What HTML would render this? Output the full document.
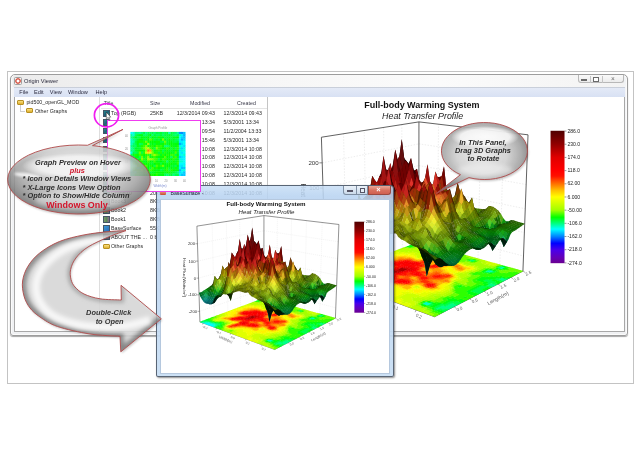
<!DOCTYPE html>
<html><head><meta charset="utf-8"><title>Origin Viewer</title>
<style>
*{box-sizing:border-box}
html,body{margin:0;padding:0;background:#fff}
body{width:640px;height:455px;position:relative;overflow:hidden;font-family:'Liberation Sans',Arial,sans-serif;color:#222}
.a{position:absolute}
.t{position:absolute;font-size:5.3px;line-height:6.6px;white-space:nowrap;color:#2a2a2a}
.ic{position:absolute;width:6.5px;height:6.5px;border:0.5px solid #456}
.fold{position:absolute;width:7px;height:5px;background:linear-gradient(#f8e080,#e0b030);border-radius:1px;border:0.5px solid #b89020}
.mi{position:absolute;top:89.3px;font-size:5.6px;color:#2c2c40}
</style></head><body>
<!-- outer frame -->
<div class="a" style="left:7px;top:71px;width:626.5px;height:312.5px;border:1px solid #c3c3c3"></div>
<!-- main window -->
<div class="a" style="left:10px;top:73.5px;width:617.5px;height:262px;border:1px solid #9d9d9d;border-radius:5px 5px 3px 3px;background:linear-gradient(#eef0f2,#f4f5f7 5%,#f0f1f3);box-shadow:0 1px 1px rgba(0,0,0,0.35), inset 0 0 0 1px #fbfbfb"></div>
<div class="a" style="left:13px;top:75px;width:611px;height:11.5px;background:linear-gradient(90deg,#ececec,#f6f6f6 40%,#fbfbfb 70%,#f3f3f3)"></div>
<div class="a" style="left:14px;top:77px;width:7.5px;height:7.5px;border-radius:1.5px;border:0.6px solid #a0a0a0;background:radial-gradient(circle at 50% 50%,#fff 25%,#d04838 45%,#e07060 60%,#f4f4f4 75%)"></div>
<div class="a" style="left:24px;top:77.8px;font-size:5.7px;color:#2a2a3c">Origin Viewer</div>
<div class="a" style="left:577.5px;top:75.3px;width:46.5px;height:7.6px;border:0.6px solid #b8b8b8;border-top:none;border-radius:0 0 3px 3px;background:linear-gradient(#fafafa,#ececec)"></div>
<div class="a" style="left:590px;top:75.5px;width:0.6px;height:7.3px;background:#c4c4c4"></div>
<div class="a" style="left:601.6px;top:75.5px;width:0.6px;height:7.3px;background:#c4c4c4"></div>
<div class="a" style="left:581px;top:79.2px;width:6px;height:2.2px;border:0.6px solid #6a6a6a;background:#fff"></div>
<div class="a" style="left:593.2px;top:77px;width:5.6px;height:4.6px;border:0.6px solid #6a6a6a;border-top-width:1.1px;background:#fff"></div>
<div class="a" style="left:611px;top:75.4px;font-size:6.5px;color:#666">&#215;</div>
<!-- menu -->
<div class="a" style="left:13.5px;top:87.2px;width:611px;height:9.6px;background:linear-gradient(#e4eaf7,#d8e1f3);border-top:0.6px solid #c9cfda"></div>
<div class="mi" style="left:19.3px">File</div>
<div class="mi" style="left:34px">Edit</div>
<div class="mi" style="left:49.8px">View</div>
<div class="mi" style="left:68px">Window</div>
<div class="mi" style="left:95.5px">Help</div>
<!-- content panels -->
<div class="a" style="left:13.5px;top:96.8px;width:611px;height:235px;background:#fff;border:0.8px solid #a8a8a8;border-top:none"></div>
<div class="a" style="left:99px;top:97px;width:1.2px;height:234.5px;background:linear-gradient(90deg,#cfcfcf,#ececec)"></div>
<div class="a" style="left:266.6px;top:97px;width:0.9px;height:234.5px;background:#c4c4c4"></div>
<!-- tree -->
<div class="fold" style="left:16.5px;top:99.6px"></div>
<div class="t" style="left:26.4px;top:98.9px">pid500_openGL_MOD</div>
<div class="a" style="left:20.3px;top:105.3px;width:0.7px;height:5.7px;background:#cfcfcf"></div>
<div class="a" style="left:20.3px;top:110.6px;width:5.2px;height:0.7px;background:#cfcfcf"></div>
<div class="fold" style="left:25.8px;top:108.3px"></div>
<div class="t" style="left:35px;top:107.9px">Other Graphs</div>
<!-- list header -->
<div class="t" style="left:103.7px;top:100px;color:#3a3a4a">Title</div>
<div class="t" style="left:150px;top:100px;color:#3a3a4a">Size</div>
<div class="t" style="left:190px;top:100px;color:#3a3a4a">Modified</div>
<div class="t" style="left:237px;top:100px;color:#3a3a4a">Created</div>
<div class="a" style="left:100.5px;top:107.8px;width:166px;height:0.5px;background:#e4e4e4"></div>
<div class="ic" style="left:103.0px;top:110.3px;background:linear-gradient(135deg,#2a8a8a,#1d5f7a 50%,#3aa070)"></div><div class="t" style="left:111px;top:110.2px">Top (RGB)</div><div class="t" style="left:150px;top:110.2px">25KB</div><div class="t" style="left:176px;top:110.2px;width:39px;text-align:right">12/3/2014 09:43</div><div class="t" style="left:223.6px;top:110.2px">12/3/2014 09:43</div><div class="ic" style="left:103.0px;top:119.1px;background:linear-gradient(135deg,#2a8a8a,#1d5f7a 50%,#3aa070)"></div><div class="t" style="left:111px;top:119.0px">Graph2</div><div class="t" style="left:150px;top:119.0px">25KB</div><div class="t" style="left:176px;top:119.0px;width:39px;text-align:right">5/3/2001 13:34</div><div class="t" style="left:223.6px;top:119.0px">5/3/2001 13:34</div><div class="ic" style="left:103.0px;top:127.9px;background:linear-gradient(135deg,#2a8a8a,#1d5f7a 50%,#3aa070)"></div><div class="t" style="left:111px;top:127.8px">Graph3</div><div class="t" style="left:150px;top:127.8px">25KB</div><div class="t" style="left:176px;top:127.8px;width:39px;text-align:right">11/2/2004 09:54</div><div class="t" style="left:223.6px;top:127.8px">11/2/2004 13:33</div><div class="ic" style="left:103.0px;top:136.8px;background:linear-gradient(135deg,#2a8a8a,#1d5f7a 50%,#3aa070)"></div><div class="t" style="left:111px;top:136.7px">Graph4</div><div class="t" style="left:150px;top:136.7px">25KB</div><div class="t" style="left:176px;top:136.7px;width:39px;text-align:right">5/3/2001 15:46</div><div class="t" style="left:223.6px;top:136.7px">5/3/2001 13:34</div><div class="ic" style="left:103.0px;top:145.6px;background:linear-gradient(135deg,#2a8a8a,#1d5f7a 50%,#3aa070)"></div><div class="t" style="left:111px;top:145.5px">Graph5</div><div class="t" style="left:150px;top:145.5px">20kB</div><div class="t" style="left:176px;top:145.5px;width:39px;text-align:right">12/3/2014 10:08</div><div class="t" style="left:223.6px;top:145.5px">12/3/2014 10:08</div><div class="ic" style="left:103.0px;top:154.4px;background:linear-gradient(135deg,#2a8a8a,#1d5f7a 50%,#3aa070)"></div><div class="t" style="left:111px;top:154.3px">Graph6</div><div class="t" style="left:150px;top:154.3px">20kB</div><div class="t" style="left:176px;top:154.3px;width:39px;text-align:right">12/3/2014 10:08</div><div class="t" style="left:223.6px;top:154.3px">12/3/2014 10:08</div><div class="ic" style="left:103.0px;top:163.2px;background:linear-gradient(135deg,#2a8a8a,#1d5f7a 50%,#3aa070)"></div><div class="t" style="left:111px;top:163.1px">Graph7</div><div class="t" style="left:150px;top:163.1px">20kB</div><div class="t" style="left:176px;top:163.1px;width:39px;text-align:right">12/3/2014 10:08</div><div class="t" style="left:223.6px;top:163.1px">12/3/2014 10:08</div><div class="ic" style="left:103.0px;top:172.0px;background:linear-gradient(135deg,#2a8a8a,#1d5f7a 50%,#3aa070)"></div><div class="t" style="left:111px;top:171.9px">Graph8</div><div class="t" style="left:150px;top:171.9px">20kB</div><div class="t" style="left:176px;top:171.9px;width:39px;text-align:right">12/3/2014 10:08</div><div class="t" style="left:223.6px;top:171.9px">12/3/2014 10:08</div><div class="ic" style="left:103.0px;top:180.9px;background:linear-gradient(135deg,#2a8a8a,#1d5f7a 50%,#3aa070)"></div><div class="t" style="left:111px;top:180.8px">Graph9</div><div class="t" style="left:150px;top:180.8px">20kB</div><div class="t" style="left:176px;top:180.8px;width:39px;text-align:right">12/3/2014 10:08</div><div class="t" style="left:223.6px;top:180.8px">12/3/2014 10:08</div><div class="ic" style="left:103.0px;top:189.7px;background:linear-gradient(135deg,#2a8a8a,#1d5f7a 50%,#3aa070)"></div><div class="t" style="left:111px;top:189.6px">Graph10</div><div class="t" style="left:150px;top:189.6px">20kB</div><div class="t" style="left:176px;top:189.6px;width:39px;text-align:right">12/3/2014 10:08</div><div class="t" style="left:223.6px;top:189.6px">12/3/2014 10:08</div><div class="ic" style="left:103.0px;top:198.5px;background:linear-gradient(90deg,#7a9a6a,#5a8a5a 50%,#8a6a8a);"></div><div class="t" style="left:111px;top:198.4px">Book3</div><div class="t" style="left:150px;top:198.4px">8KB</div><div class="t" style="left:176px;top:198.4px;width:39px;text-align:right">12/3/2014 10:08</div><div class="t" style="left:223.6px;top:198.4px">12/3/2014 10:08</div><div class="ic" style="left:103.0px;top:207.3px;background:linear-gradient(90deg,#7a9a6a,#5a8a5a 50%,#8a6a8a);"></div><div class="t" style="left:111px;top:207.2px">Book2</div><div class="t" style="left:150px;top:207.2px">8KB</div><div class="t" style="left:176px;top:207.2px;width:39px;text-align:right">12/3/2014 10:08</div><div class="t" style="left:223.6px;top:207.2px">12/3/2014 10:08</div><div class="ic" style="left:103.0px;top:216.1px;background:linear-gradient(90deg,#7a9a6a,#5a8a5a 50%,#8a6a8a);"></div><div class="t" style="left:111px;top:216.0px">Book1</div><div class="t" style="left:150px;top:216.0px">8KB</div><div class="t" style="left:176px;top:216.0px;width:39px;text-align:right">12/3/2014 10:08</div><div class="t" style="left:223.6px;top:216.0px">12/3/2014 10:08</div><div class="ic" style="left:103.0px;top:225.0px;background:linear-gradient(135deg,#3a9ad8,#2a6ab8)"></div><div class="t" style="left:111px;top:224.9px">BaseSurface</div><div class="t" style="left:150px;top:224.9px">55KB</div><div class="t" style="left:176px;top:224.9px;width:39px;text-align:right">12/3/2014 10:08</div><div class="t" style="left:223.6px;top:224.9px">12/3/2014 10:08</div><div class="ic" style="left:103.0px;top:233.8px;background:#6a6a7a"></div><div class="t" style="left:111px;top:233.7px">ABOUT THE ...</div><div class="t" style="left:150px;top:233.7px">0 b</div><div class="t" style="left:176px;top:233.7px;width:39px;text-align:right">12/3/2014 10:08</div><div class="t" style="left:223.6px;top:233.7px">12/3/2014 10:08</div><div class="fold" style="left:103.0px;top:243.6px"></div><div class="t" style="left:111px;top:242.5px">Other Graphs</div>
<svg class="a" style="left:0;top:0" width="640" height="455" viewBox="0 0 640 455">
<defs><clipPath id="bclip"><rect x="267.5" y="97.5" width="356.5" height="234"/></clipPath></defs>
<g clip-path="url(#bclip)"><defs><linearGradient id="cbg1" x1="0" y1="0" x2="0" y2="1"><stop offset="0.0000" stop-color="#500000"/><stop offset="0.1000" stop-color="#900000"/><stop offset="0.2000" stop-color="#e00000"/><stop offset="0.3000" stop-color="#ff0000"/><stop offset="0.3411" stop-color="#ff1000"/><stop offset="0.4000" stop-color="#ff7000"/><stop offset="0.4500" stop-color="#ffc000"/><stop offset="0.5000" stop-color="#ffff00"/><stop offset="0.6000" stop-color="#a0ff00"/><stop offset="0.6536" stop-color="#00ff00"/><stop offset="0.7000" stop-color="#00ff80"/><stop offset="0.7429" stop-color="#00ffff"/><stop offset="0.8000" stop-color="#0080ff"/><stop offset="0.8500" stop-color="#0000ff"/><stop offset="0.9000" stop-color="#4a00ea"/><stop offset="0.9571" stop-color="#6400b8"/><stop offset="1.0000" stop-color="#6a0090"/></linearGradient></defs><g transform="translate(34.9,-191.8) scale(1.455)"><line x1="214.34" y1="316.55" x2="212.11" y2="223.74" stroke="#dcdcdc" stroke-width="0.35" stroke-dasharray="1,1"/><line x1="276.75" y1="301.81" x2="277.39" y2="217.18" stroke="#dcdcdc" stroke-width="0.35" stroke-dasharray="1,1"/><line x1="227.87" y1="311.55" x2="226.32" y2="221.51" stroke="#dcdcdc" stroke-width="0.35" stroke-dasharray="1,1"/><line x1="290.29" y1="305.58" x2="291.54" y2="218.86" stroke="#dcdcdc" stroke-width="0.35" stroke-dasharray="1,1"/><line x1="240.58" y1="306.84" x2="239.65" y2="219.41" stroke="#dcdcdc" stroke-width="0.35" stroke-dasharray="1,1"/><line x1="304.55" y1="309.54" x2="306.47" y2="220.63" stroke="#dcdcdc" stroke-width="0.35" stroke-dasharray="1,1"/><line x1="252.56" y1="302.41" x2="252.17" y2="217.44" stroke="#dcdcdc" stroke-width="0.35" stroke-dasharray="1,1"/><line x1="319.57" y1="313.72" x2="322.24" y2="222.51" stroke="#dcdcdc" stroke-width="0.35" stroke-dasharray="1,1"/><line x1="199.59" y1="311.33" x2="263.87" y2="289.06" stroke="#dcdcdc" stroke-width="0.35" stroke-dasharray="1,1"/><line x1="263.87" y1="289.06" x2="335.80" y2="307.79" stroke="#dcdcdc" stroke-width="0.35" stroke-dasharray="1,1"/><line x1="199.07" y1="294.86" x2="263.88" y2="274.78" stroke="#dcdcdc" stroke-width="0.35" stroke-dasharray="1,1"/><line x1="263.88" y1="274.78" x2="336.41" y2="291.67" stroke="#dcdcdc" stroke-width="0.35" stroke-dasharray="1,1"/><line x1="198.55" y1="278.11" x2="263.90" y2="260.30" stroke="#dcdcdc" stroke-width="0.35" stroke-dasharray="1,1"/><line x1="263.90" y1="260.30" x2="337.02" y2="275.28" stroke="#dcdcdc" stroke-width="0.35" stroke-dasharray="1,1"/><line x1="198.01" y1="261.08" x2="263.91" y2="245.62" stroke="#dcdcdc" stroke-width="0.35" stroke-dasharray="1,1"/><line x1="263.91" y1="245.62" x2="337.64" y2="258.63" stroke="#dcdcdc" stroke-width="0.35" stroke-dasharray="1,1"/><line x1="197.47" y1="243.75" x2="263.93" y2="230.71" stroke="#dcdcdc" stroke-width="0.35" stroke-dasharray="1,1"/><line x1="263.93" y1="230.71" x2="338.28" y2="241.70" stroke="#dcdcdc" stroke-width="0.35" stroke-dasharray="1,1"/><line x1="199.92" y1="321.89" x2="196.91" y2="226.13" stroke="#3a3a3a" stroke-width="0.55" /><line x1="196.91" y1="226.13" x2="263.95" y2="215.59" stroke="#3a3a3a" stroke-width="0.55" /><line x1="263.95" y1="215.59" x2="338.92" y2="224.48" stroke="#3a3a3a" stroke-width="0.55" /><line x1="263.86" y1="298.23" x2="263.95" y2="215.59" stroke="#3a3a3a" stroke-width="0.55" /><line x1="335.42" y1="318.12" x2="338.92" y2="224.48" stroke="#3a3a3a" stroke-width="0.55" /><line x1="199.92" y1="321.89" x2="274.69" y2="349.49" stroke="#3a3a3a" stroke-width="0.55" /><line x1="274.69" y1="349.49" x2="335.42" y2="318.12" stroke="#3a3a3a" stroke-width="0.55" /></g><g transform="scale(0.25)"><path d="M1686 1215l10 -5 12 5 -10 6zM1697 1219l10 -5 12 5 -10 5zM1695 1211l10 -6 12 5 -10 6zM1706 1215l10 -6 12 5 -10 6zM1940 1085l7 -4 13 4 -8 4zM1950 1088l8 -4 12 4 -8 4zM1957 1085l8 -5 12 4 -8 5zM1996 1074l8 -5 12 4 -8 5zM2003 1071l7 -5 13 4 -8 4z" fill="#00ffc5"/><path d="M1741 1235l10 -6 13 5 -11 6zM1750 1231l10 -6 13 5 -10 6zM1761 1235l10 -6 13 5 -10 6zM1759 1226l10 -6 13 5 -10 6zM1770 1230l10 -6 13 5 -10 6zM1782 1234l10 -6 13 5 -10 6zM1779 1225l10 -5 13 5 -10 5zM1791 1229l10 -6 12 6 -9 5zM1788 1221l10 -6 13 5 -10 6zM1800 1225l10 -6 12 5 -9 6zM1797 1216l10 -5 13 5 -10 5zM1809 1220l9 -6 13 5 -9 6zM1946 1141l9 -5 12 4 -8 5zM1957 1144l9 -5 12 4 -8 5zM1954 1137l8 -5 13 4 -8 5zM1965 1140l8 -5 13 4 -8 6zM1991 1118l8 -5 13 4 -8 5zM2002 1121l8 -5 13 4 -8 5zM1999 1114l8 -5 12 4 -8 5zM2010 1117l8 -5 12 5 -8 4zM1947 1082l8 -5 12 4 -8 5zM1876 1040l8 -4 11 4 -8 4zM1886 1043l8 -5 11 4 -8 5zM1986 1071l7 -4 12 3 -7 5zM1993 1068l7 -5 12 4 -7 5z" fill="#00ff86"/><path d="M1731 1240l11 -6 12 5 -10 6zM1707 1223l11 -5 12 5 -10 5zM1730 1231l10 -6 12 5 -10 6zM1752 1239l10 -6 13 6 -10 5zM1763 1243l10 -6 13 6 -10 6zM1717 1219l10 -6 12 5 -10 6zM1739 1227l10 -6 13 5 -11 6zM1773 1239l10 -6 12 5 -10 6zM1715 1210l10 -5 13 5 -11 5zM1748 1222l10 -6 13 5 -10 6zM1757 1217l10 -5 13 5 -10 6zM1768 1221l10 -5 13 5 -10 5zM1777 1217l10 -6 13 5 -10 6zM1786 1212l10 -5 13 5 -10 5zM1795 1208l10 -6 12 5 -9 6zM1806 1212l10 -6 13 5 -10 6zM1817 1216l10 -6 13 5 -10 6zM1815 1207l10 -5 12 5 -9 5zM1826 1211l10 -6 13 5 -10 6zM1880 1165l9 -5 12 5 -8 5zM1891 1169l9 -6 13 5 -9 5zM1902 1172l9 -5 13 5 -9 5zM1888 1161l9 -5 12 4 -8 6zM1899 1165l9 -6 13 5 -9 5zM1910 1168l9 -5 13 5 -9 5zM1896 1157l9 -5 12 4 -8 6zM1907 1161l9 -6 12 5 -8 5zM1918 1164l9 -5 13 4 -9 6zM1904 1153l9 -5 12 4 -8 6zM1915 1157l9 -6 12 5 -8 5zM1912 1149l9 -5 12 4 -8 6zM1923 1153l9 -6 12 5 -8 5zM1920 1145l8 -5 13 4 -9 6zM1931 1149l8 -6 13 5 -8 5zM1939 1145l8 -5 13 4 -9 5zM1950 1148l8 -5 13 4 -9 5zM1943 1133l8 -5 13 5 -8 5zM1929 1123l9 -5 12 4 -8 5zM1940 1126l8 -5 13 5 -9 5zM1951 1130l8 -5 13 4 -9 5zM1962 1133l8 -5 12 4 -8 5zM1973 1136l8 -5 12 5 -8 5zM1937 1119l8 -5 12 5 -8 5zM1948 1123l8 -5 12 4 -8 5zM1958 1126l9 -5 12 4 -8 5zM1969 1129l8 -5 13 4 -8 5zM1955 1119l8 -5 13 4 -8 5zM1973 1118l8 -5 13 5 -8 5zM1984 1121l8 -4 13 4 -8 5zM1995 1125l8 -5 13 4 -8 5zM1981 1115l8 -5 12 4 -8 5zM1932 1089l8 -5 12 4 -8 5zM1943 1092l8 -5 12 4 -8 5zM2017 1114l8 -5 12 4 -7 5zM1960 1091l8 -4 12 4 -8 4zM1967 1088l8 -5 13 4 -8 5zM1869 1043l8 -4 11 4 -8 4zM1879 1046l7 -4 12 3 -8 5z" fill="#00ff4b"/><path d="M1676 1220l11 -6 12 5 -10 6zM1687 1224l11 -6 12 5 -10 6zM1720 1236l11 -6 12 5 -10 6zM1743 1244l10 -6 13 5 -11 6zM1754 1248l10 -6 13 5 -10 6zM1718 1227l11 -6 12 6 -10 5zM1684 1207l10 -5 13 4 -11 6zM1728 1223l10 -6 12 5 -10 6zM1704 1207l10 -6 13 5 -10 6zM1726 1214l10 -5 12 5 -10 5zM1737 1218l10 -6 13 5 -11 6zM1746 1214l10 -6 13 5 -10 6zM1766 1213l10 -6 13 5 -10 6zM1775 1209l10 -6 12 5 -9 5zM1784 1204l10 -6 12 5 -9 6zM1782 1196l9 -6 13 5 -10 6zM1793 1200l9 -6 13 5 -10 6zM1804 1203l9 -5 13 5 -9 5zM1802 1195l9 -5 13 5 -10 5zM1813 1199l9 -5 13 4 -10 6zM1824 1203l9 -6 13 5 -9 6zM1835 1207l9 -6 13 5 -9 6zM1832 1198l10 -5 13 5 -10 5zM1844 1202l9 -5 13 5 -10 5zM1849 1190l10 -6 12 5 -9 6zM1864 1173l9 -5 12 5 -9 5zM1875 1177l9 -5 12 4 -9 6zM1886 1181l9 -6 12 5 -9 5zM1861 1166l9 -5 12 4 -9 5zM1872 1169l9 -5 12 5 -9 5zM1883 1173l9 -5 12 4 -8 6zM1894 1176l9 -5 13 5 -9 5zM1826 1148l9 -5 12 4 -9 5zM1869 1162l9 -6 12 5 -8 5zM1834 1144l9 -5 12 4 -9 5zM1877 1158l9 -6 13 5 -9 5zM1885 1154l9 -6 13 5 -9 5zM1893 1150l9 -5 12 4 -8 5zM1926 1160l9 -5 12 4 -8 6zM1901 1146l9 -5 12 4 -8 5zM1934 1156l9 -5 12 4 -8 5zM1909 1142l9 -5 12 4 -8 5zM1942 1152l8 -5 13 4 -8 5zM1928 1141l8 -5 13 5 -9 5zM1925 1134l8 -5 13 4 -9 5zM1935 1137l9 -5 12 5 -8 5zM1900 1120l9 -5 12 5 -8 5zM1911 1124l8 -5 13 4 -9 5zM1922 1127l8 -5 12 4 -8 5zM1932 1130l9 -5 12 5 -8 4zM1908 1117l8 -5 13 4 -9 5zM1919 1120l8 -5 12 4 -8 5zM1916 1113l8 -5 12 4 -8 5zM1926 1116l8 -5 13 5 -8 4zM1980 1132l8 -5 13 5 -8 5zM1923 1109l8 -5 13 5 -9 4zM1934 1112l8 -4 12 4 -8 5zM1944 1116l9 -5 12 4 -8 5zM1966 1122l8 -5 12 4 -8 5zM1977 1125l8 -5 12 5 -8 5zM1988 1129l8 -5 12 4 -8 5zM1941 1109l8 -5 13 4 -8 5zM1952 1112l8 -5 12 4 -8 5zM1963 1115l8 -5 12 4 -8 5zM1959 1108l8 -5 13 5 -8 4zM1970 1111l8 -4 12 4 -8 5zM1925 1092l8 -4 12 4 -8 4zM1977 1108l8 -5 13 4 -8 5zM1988 1111l8 -5 12 4 -7 5zM1922 1086l8 -5 12 4 -8 5zM1953 1095l8 -5 12 4 -8 5zM1995 1107l8 -5 13 5 -8 4zM2006 1110l8 -4 13 4 -8 5zM1929 1082l8 -4 12 4 -8 4zM2024 1110l8 -5 13 4 -8 5zM1622 988l9 -4 9 3 -8 4zM1937 1079l7 -5 12 4 -8 5zM1630 985l8 -4 10 4 -9 4zM1638 987l9 -4 9 4 -8 4zM1954 1078l8 -4 12 4 -8 4zM1964 1081l8 -4 12 4 -8 4zM1975 1084l7 -4 13 4 -8 4zM1637 982l9 -4 9 4 -8 4zM1979 1074l7 -4 12 4 -7 4zM1989 1077l8 -4 12 4 -8 4zM2006 1077l8 -5 12 4 -7 5zM2013 1073l8 -4 12 4 -7 4zM2000 1064l7 -4 12 4 -7 4zM2010 1067l7 -4 12 4 -7 4z" fill="#00ff11"/><path d="M1722 1245l10 -6 13 5 -10 6zM1733 1249l11 -6 12 5 -10 6zM1745 1253l10 -6 13 5 -10 6zM1698 1228l10 -6 13 5 -10 6zM1709 1232l10 -6 13 5 -10 6zM1675 1212l10 -6 12 5 -10 6zM1735 1210l10 -6 13 5 -10 6zM1755 1209l10 -6 13 5 -10 6zM1764 1205l10 -6 12 5 -9 6zM1762 1197l10 -6 12 5 -9 5zM1773 1200l10 -5 12 5 -9 5zM1771 1192l10 -5 12 5 -10 5zM1780 1188l9 -6 13 5 -10 6zM1791 1192l9 -6 13 5 -10 5zM1799 1187l10 -5 12 5 -9 5zM1810 1191l10 -5 12 4 -9 6zM1821 1195l10 -6 12 5 -9 6zM1819 1187l9 -6 13 5 -10 6zM1830 1190l9 -5 13 5 -9 5zM1841 1194l9 -5 13 4 -9 6zM1852 1198l9 -6 13 5 -9 6zM1827 1182l10 -5 12 5 -9 5zM1838 1186l10 -5 12 4 -9 6zM1861 1194l9 -6 13 5 -10 5zM1814 1171l9 -5 13 4 -10 6zM1825 1175l9 -6 13 5 -10 5zM1836 1178l9 -5 13 5 -10 5zM1847 1182l9 -6 13 5 -10 6zM1858 1186l9 -6 13 5 -9 5zM1869 1189l9 -5 13 5 -9 5zM1812 1163l9 -5 12 5 -9 5zM1822 1167l10 -5 12 4 -9 6zM1833 1170l9 -5 13 5 -9 5zM1844 1174l9 -5 13 4 -9 6zM1855 1178l9 -6 13 5 -9 5zM1866 1181l9 -5 13 5 -9 5zM1877 1185l9 -5 13 4 -9 6zM1809 1156l10 -5 12 4 -9 5zM1820 1159l9 -5 13 5 -10 5zM1831 1163l9 -5 12 4 -9 5zM1842 1166l9 -5 12 5 -9 5zM1853 1170l9 -5 12 4 -9 6zM1807 1148l9 -5 12 5 -9 5zM1818 1152l9 -5 12 4 -9 5zM1828 1155l9 -5 13 5 -9 5zM1839 1159l9 -5 13 4 -9 5zM1850 1162l9 -5 12 5 -9 5zM1815 1144l9 -5 13 5 -9 5zM1837 1151l9 -5 12 5 -9 5zM1847 1155l9 -5 13 4 -9 5zM1858 1158l9 -5 13 5 -9 5zM1824 1141l9 -5 12 4 -9 5zM1845 1147l9 -5 12 5 -9 5zM1856 1151l8 -5 13 4 -9 5zM1866 1154l9 -5 13 5 -9 5zM1864 1147l8 -5 13 4 -9 5zM1874 1150l9 -5 13 5 -9 5zM1882 1146l9 -5 13 5 -9 5zM1890 1142l9 -5 12 5 -8 5zM1898 1138l9 -5 12 5 -8 5zM1885 1128l8 -5 13 4 -9 5zM1895 1131l9 -5 12 5 -8 5zM1906 1135l9 -5 12 4 -8 5zM1917 1138l8 -5 13 4 -9 5zM1882 1121l9 -5 12 4 -9 5zM1893 1124l8 -5 12 5 -8 4zM1903 1127l9 -5 12 5 -8 5zM1914 1131l8 -5 13 4 -9 5zM1890 1117l8 -5 12 5 -8 4zM1898 1113l8 -4 12 4 -8 5zM1905 1110l8 -5 13 4 -9 5zM1882 1097l8 -5 12 4 -8 5zM1892 1100l8 -5 12 4 -8 5zM1913 1106l8 -5 12 5 -8 4zM1889 1093l9 -4 11 4 -8 4zM1900 1096l8 -4 12 4 -8 4zM1910 1099l8 -4 12 4 -8 5zM1920 1102l8 -4 13 4 -9 5zM1931 1106l8 -5 12 4 -8 5zM1897 1090l8 -5 12 4 -8 5zM1907 1093l8 -5 12 4 -8 5zM1917 1096l9 -5 12 4 -9 5zM1928 1099l8 -5 12 4 -8 5zM1938 1102l8 -5 13 4 -9 5zM1949 1105l8 -5 12 5 -8 4zM1914 1089l9 -4 12 4 -9 4zM1935 1095l8 -4 12 4 -8 4zM1946 1098l8 -4 12 4 -8 5zM1956 1101l8 -4 12 4 -8 5zM1967 1105l8 -5 12 4 -8 5zM1963 1098l8 -5 13 4 -8 5zM1974 1101l8 -5 12 4 -8 5zM1985 1104l8 -5 12 4 -8 5zM1971 1094l8 -4 12 4 -8 4zM1981 1097l8 -4 12 4 -7 4zM1992 1100l8 -4 12 4 -8 5zM2003 1104l7 -5 13 4 -8 5zM2013 1107l8 -5 13 4 -8 5zM1630 990l9 -4 10 4 -9 4zM1978 1091l8 -5 12 4 -8 5zM1988 1094l8 -5 13 4 -8 5zM1999 1097l8 -5 12 4 -8 5zM2010 1100l7 -5 13 4 -8 5zM2020 1103l8 -5 13 4 -8 5zM2031 1106l8 -5 13 5 -8 4zM1944 1075l8 -4 12 4 -8 4zM1985 1087l8 -4 12 4 -8 4zM2006 1093l8 -4 12 4 -7 4zM2017 1096l8 -4 12 4 -8 4zM2028 1099l7 -4 13 4 -8 5zM2038 1103l8 -5 13 4 -8 5zM1646 985l8 -4 10 3 -9 4zM1823 1035l9 -4 11 4 -8 4zM1971 1078l8 -5 12 4 -7 5zM1982 1081l8 -5 12 4 -8 5zM2024 1093l8 -5 12 4 -8 5zM2035 1096l7 -5 13 4 -8 5zM2045 1099l8 -5 13 4 -8 5zM1645 979l8 -4 10 4 -9 4zM1653 982l8 -4 10 3 -8 4zM1831 1032l8 -4 11 4 -8 4zM1859 1040l8 -4 11 4 -7 4zM1888 1049l8 -5 12 4 -8 5zM1999 1080l8 -4 12 4 -7 4zM2031 1089l8 -4 12 4 -8 4zM2042 1092l7 -4 13 4 -8 4zM2052 1095l8 -4 12 4 -7 4zM1829 1027l8 -5 11 4 -8 4zM1866 1037l8 -4 12 4 -8 4zM1895 1045l8 -4 12 4 -8 4zM1975 1068l8 -4 12 4 -8 4zM2017 1080l7 -5 13 4 -8 5zM2049 1089l7 -5 13 4 -8 5zM2059 1092l8 -5 12 4 -7 5zM1883 1037l8 -4 11 3 -7 5zM1893 1040l8 -5 11 4 -8 4zM1982 1065l8 -5 12 4 -8 5zM2024 1076l7 -4 13 4 -8 4zM2020 1070l8 -4 12 4 -8 4z" fill="#2eff00"/><path d="M1726 1263l10 -6 13 5 -10 6zM1712 1249l11 -6 13 6 -11 6zM1724 1254l10 -6 13 5 -10 6zM1735 1258l11 -6 12 5 -10 6zM1678 1229l10 -6 12 5 -10 6zM1700 1237l10 -6 13 5 -11 6zM1711 1241l10 -6 13 5 -11 6zM1666 1216l10 -6 12 5 -10 6zM1693 1203l11 -6 12 5 -10 6zM1713 1202l10 -5 13 4 -10 6zM1724 1206l10 -6 13 5 -10 6zM1733 1202l10 -6 13 5 -10 5zM1744 1205l10 -5 12 5 -9 5zM1742 1197l10 -5 12 4 -9 6zM1753 1201l10 -6 12 5 -9 6zM1751 1193l10 -6 12 5 -9 6zM1760 1189l10 -6 12 5 -10 5zM1788 1184l10 -6 12 5 -9 5zM1797 1179l9 -5 13 5 -10 5zM1808 1183l9 -5 13 4 -10 6zM1806 1175l9 -5 12 5 -9 5zM1816 1179l10 -6 12 5 -9 6zM1803 1168l10 -6 12 5 -9 5zM1801 1160l9 -5 13 4 -10 6zM1805 1141l9 -5 12 4 -9 6zM1813 1137l9 -5 12 5 -9 5zM1811 1130l9 -5 12 4 -9 5zM1821 1133l9 -5 12 5 -9 5zM1832 1137l9 -5 12 4 -9 5zM1842 1140l9 -5 12 4 -8 5zM1853 1143l9 -5 12 5 -9 5zM1861 1139l9 -5 12 5 -9 5zM1872 1143l8 -5 13 4 -9 5zM1858 1132l9 -5 12 5 -8 5zM1869 1136l9 -5 12 4 -9 5zM1880 1139l8 -5 13 4 -9 5zM1866 1128l9 -5 12 5 -8 5zM1877 1132l9 -5 12 4 -9 5zM1888 1135l8 -5 12 4 -8 5zM1864 1121l8 -4 12 4 -8 5zM1874 1125l9 -5 12 4 -9 5zM1861 1114l9 -4 12 4 -9 5zM1872 1118l8 -5 12 4 -8 5zM1869 1111l8 -5 12 4 -8 5zM1879 1114l9 -5 12 4 -9 5zM1877 1107l8 -5 12 5 -8 4zM1887 1110l8 -5 13 5 -9 5zM1874 1100l8 -4 12 4 -8 5zM1884 1103l9 -4 12 4 -9 5zM1895 1107l8 -5 12 4 -8 5zM1871 1094l9 -5 12 4 -9 5zM1902 1103l9 -5 12 4 -9 5zM1879 1090l8 -4 12 4 -8 4zM1904 1086l8 -4 12 4 -8 4zM1912 1083l8 -5 12 4 -8 5zM1614 991l9 -4 10 3 -9 4zM1919 1079l8 -4 12 4 -8 4zM1639 993l8 -4 10 3 -8 4zM1818 1045l8 -5 12 4 -9 4zM1828 1047l8 -4 11 4 -8 4zM1926 1076l8 -5 12 4 -8 5zM1646 990l9 -4 10 3 -9 4zM1826 1041l8 -4 11 4 -8 4zM1835 1044l8 -4 11 4 -8 4zM1845 1047l8 -5 11 4 -8 5zM1934 1072l7 -4 12 4 -8 4zM1996 1090l7 -4 13 4 -8 4zM1654 987l8 -4 10 4 -8 4zM1833 1038l8 -4 11 4 -8 4zM1842 1041l8 -4 12 3 -8 5zM1852 1044l8 -5 11 4 -8 4zM1862 1046l8 -4 11 4 -8 4zM1871 1049l8 -4 12 4 -8 4zM1881 1052l8 -4 11 3 -7 5zM1951 1072l8 -5 12 4 -8 5zM1961 1075l8 -5 12 4 -8 5zM1992 1084l8 -5 12 4 -7 5zM2003 1087l7 -5 13 4 -8 5zM2013 1090l8 -5 12 4 -7 5zM1661 984l9 -4 10 4 -9 4zM1670 987l8 -4 10 3 -8 4zM1840 1035l8 -4 11 4 -8 4zM1850 1038l8 -5 11 4 -8 5zM1968 1071l8 -4 12 4 -8 4zM2010 1083l7 -4 13 4 -8 4zM2020 1086l8 -4 12 4 -7 4zM1838 1029l8 -4 11 4 -8 4zM1847 1032l8 -4 12 3 -8 5zM1857 1035l8 -5 11 4 -8 4zM2027 1083l8 -5 12 4 -7 5zM2038 1086l7 -5 13 4 -8 5zM1836 1024l8 -5 11 4 -8 4zM1845 1026l8 -4 11 4 -8 4zM1855 1029l8 -4 11 3 -8 5zM1864 1031l8 -4 11 4 -8 4zM1874 1034l7 -4 12 4 -8 4zM1903 1042l7 -4 12 4 -8 4zM2034 1079l8 -4 12 4 -7 4zM2045 1082l7 -4 13 4 -8 4zM2055 1085l8 -4 12 4 -7 4zM2066 1088l8 -4 12 4 -7 4zM1834 1018l8 -4 11 3 -8 5zM1843 1020l8 -4 11 4 -8 4zM1852 1023l8 -4 11 4 -8 4zM1989 1061l8 -4 12 4 -8 4zM2031 1073l7 -5 12 4 -7 5zM2041 1076l8 -5 12 4 -7 5zM2052 1079l7 -5 13 4 -8 5zM2062 1082l8 -5 12 4 -7 5zM2073 1085l7 -5 13 4 -7 5z" fill="#6dff00"/><path d="M1703 1254l10 -6 13 5 -10 7zM1714 1258l11 -6 13 6 -11 6zM1690 1241l11 -6 12 5 -10 6zM1701 1245l11 -6 12 6 -10 6zM1656 1221l11 -6 12 5 -11 6zM1667 1225l10 -6 13 5 -11 6zM1689 1233l10 -6 13 5 -11 6zM1664 1208l11 -6 12 5 -11 6zM1674 1203l10 -5 12 5 -10 5zM1683 1199l10 -6 12 5 -10 6zM1703 1198l10 -5 12 5 -10 5zM1712 1194l10 -6 12 5 -10 6zM1722 1198l10 -6 13 5 -10 6zM1732 1193l9 -5 13 5 -10 5zM1730 1185l10 -5 12 5 -10 5zM1740 1189l10 -5 12 4 -9 6zM1749 1185l10 -6 12 5 -9 6zM1769 1184l9 -5 13 5 -10 5zM1778 1180l9 -5 12 4 -9 6zM1786 1176l10 -6 12 5 -9 6zM1795 1172l9 -6 12 5 -9 5zM1793 1164l9 -5 12 4 -9 6zM1799 1152l9 -5 12 5 -9 5zM1797 1145l9 -5 12 4 -9 6zM1803 1134l9 -5 12 4 -9 5zM1819 1126l9 -5 12 5 -9 5zM1829 1130l9 -5 12 4 -9 5zM1840 1133l9 -5 12 4 -9 5zM1850 1136l9 -5 12 5 -8 5zM1837 1126l9 -5 12 4 -9 5zM1848 1129l9 -5 12 4 -9 5zM1845 1122l9 -5 12 4 -9 5zM1856 1125l9 -5 12 5 -9 5zM1843 1115l9 -5 12 4 -9 5zM1853 1118l9 -5 12 5 -9 5zM1851 1111l8 -5 12 5 -8 5zM1859 1108l8 -5 12 4 -8 5zM1866 1104l9 -5 12 4 -9 5zM1864 1097l8 -4 12 4 -8 4zM1591 999l9 -4 10 4 -9 4zM1887 1087l8 -5 12 4 -9 5zM1599 996l9 -4 10 4 -9 4zM1894 1083l8 -4 12 4 -8 4zM1607 993l8 -4 10 4 -8 4zM1902 1080l8 -5 11 4 -8 5zM1623 993l8 -4 10 4 -8 4zM1631 995l9 -4 10 4 -9 4zM1640 998l8 -4 10 3 -8 5zM1811 1048l8 -5 11 4 -8 5zM1909 1076l8 -4 12 4 -8 4zM1647 995l9 -4 10 4 -9 4zM1837 1050l8 -4 12 4 -8 4zM1847 1053l8 -5 11 4 -8 5zM1857 1056l8 -5 11 4 -8 5zM1866 1058l9 -4 11 4 -8 4zM1876 1061l8 -4 12 4 -8 4zM1906 1070l8 -5 12 4 -8 5zM1916 1073l8 -5 12 4 -8 5zM1655 992l8 -4 10 4 -8 4zM1854 1050l8 -5 12 4 -8 4zM1864 1052l8 -4 11 4 -8 4zM1874 1055l8 -4 11 4 -8 4zM1884 1058l8 -4 11 3 -8 5zM1893 1061l8 -5 12 4 -8 5zM1903 1064l8 -5 12 4 -8 5zM1913 1067l8 -5 12 4 -8 5zM1923 1069l8 -4 12 4 -8 4zM1662 989l9 -4 10 4 -9 4zM1891 1055l8 -5 11 4 -8 5zM1901 1058l8 -5 11 4 -8 4zM1911 1060l8 -4 11 4 -8 4zM1921 1063l7 -4 12 4 -8 4zM1931 1066l8 -4 11 4 -8 4zM1941 1069l8 -4 11 3 -7 5zM1898 1051l8 -4 11 4 -7 4zM1908 1054l8 -4 11 4 -7 4zM1918 1057l8 -4 11 4 -8 4zM1928 1060l8 -4 11 3 -7 5zM1938 1063l8 -5 11 4 -7 5zM1948 1066l8 -5 12 4 -8 5zM1958 1069l8 -5 12 4 -8 4zM1905 1048l8 -4 12 4 -8 4zM1915 1051l8 -4 11 4 -7 4zM1965 1065l8 -4 12 4 -8 4zM1912 1045l8 -4 12 4 -8 4zM1862 1026l8 -4 11 3 -8 4zM1871 1028l8 -4 11 4 -8 4zM1881 1031l8 -4 11 4 -8 4zM1890 1034l8 -5 11 4 -7 4zM1900 1036l8 -4 11 4 -8 4zM1910 1039l7 -4 12 4 -8 4z" fill="#a4ff00"/><path d="M1637 1230l11 -6 12 5 -11 6zM1648 1234l10 -6 13 5 -11 6zM1659 1238l10 -6 13 5 -11 6zM1670 1242l10 -6 13 5 -11 6zM1681 1246l10 -6 13 5 -11 6zM1692 1250l10 -6 13 5 -11 6zM1646 1225l11 -6 12 6 -10 5zM1657 1229l11 -6 12 5 -10 6zM1668 1233l11 -6 12 5 -10 6zM1679 1237l11 -6 12 5 -10 6zM1655 1212l10 -5 12 5 -10 5zM1643 1200l10 -5 12 5 -10 5zM1654 1204l10 -6 12 5 -10 6zM1642 1192l10 -5 12 4 -10 6zM1652 1196l11 -6 12 5 -11 6zM1663 1200l10 -6 12 5 -10 6zM1662 1192l10 -6 12 5 -10 5zM1672 1195l10 -5 12 5 -10 5zM1681 1191l11 -6 12 5 -11 6zM1692 1195l10 -6 12 5 -10 6zM1701 1190l10 -5 12 5 -10 5zM1710 1186l10 -5 12 4 -10 6zM1721 1190l10 -6 12 5 -10 6zM1719 1182l10 -6 12 5 -10 6zM1728 1178l10 -6 12 5 -10 5zM1739 1181l9 -5 13 5 -10 5zM1747 1177l10 -5 12 4 -9 6zM1758 1181l10 -6 12 5 -10 5zM1767 1176l9 -5 13 5 -10 5zM1775 1172l10 -5 12 5 -9 5zM1784 1168l9 -5 13 4 -10 6zM1790 1156l10 -5 12 5 -9 5zM1795 1138l9 -5 12 4 -10 5zM1809 1123l9 -5 11 4 -8 5zM1827 1122l9 -4 12 4 -9 5zM1835 1119l9 -5 12 4 -9 5zM1833 1112l8 -5 12 4 -8 5zM1830 1105l9 -5 12 4 -9 5zM1841 1108l8 -5 12 5 -9 4zM1828 1098l9 -4 11 4 -8 4zM1838 1101l9 -4 12 4 -9 5zM1848 1104l9 -4 12 4 -9 5zM1836 1095l8 -5 12 4 -8 5zM1846 1098l8 -5 12 4 -8 5zM1856 1101l9 -5 11 4 -8 5zM1854 1094l8 -4 12 4 -9 4zM1861 1091l9 -5 11 4 -8 5zM1583 1002l9 -4 10 4 -9 4zM1592 1005l9 -5 10 4 -9 4zM1600 1007l9 -4 10 4 -9 4zM1869 1087l8 -4 12 4 -8 4zM1600 1002l8 -4 10 3 -9 4zM1608 1004l9 -4 10 4 -9 4zM1617 1007l8 -4 10 3 -8 4zM1876 1084l9 -5 11 4 -8 5zM1607 999l9 -4 10 3 -9 4zM1616 1001l9 -4 9 4 -8 4zM1624 1004l9 -4 10 3 -9 4zM1633 1006l9 -4 10 4 -9 4zM1615 996l9 -4 10 3 -9 5zM1624 998l8 -4 10 4 -9 4zM1632 1001l9 -4 10 3 -9 4zM1641 1003l8 -4 10 4 -8 4zM1649 1006l9 -4 10 3 -9 5zM1658 1008l8 -4 11 4 -9 4zM1667 1011l8 -4 10 3 -8 5zM1675 1013l9 -4 10 4 -8 4zM1648 1000l9 -4 10 4 -9 4zM1657 1003l8 -4 10 3 -8 5zM1666 1005l8 -4 10 4 -8 4zM1674 1008l9 -4 10 4 -9 4zM1683 1011l8 -5 11 4 -9 4zM1820 1051l9 -5 11 4 -8 4zM1849 1059l8 -4 12 3 -8 5zM1859 1062l8 -5 12 4 -8 5zM1899 1073l8 -4 12 4 -8 4zM1656 998l8 -5 10 4 -8 4zM1664 1000l9 -4 10 4 -8 4zM1673 1003l9 -5 10 4 -9 4zM1682 1005l8 -4 10 4 -8 4zM1886 1064l8 -4 12 4 -8 4zM1896 1067l8 -4 12 4 -8 4zM1663 995l9 -4 10 3 -9 4zM1672 997l8 -4 11 4 -9 4zM1671 992l8 -4 10 3 -8 4zM1925 1054l8 -5 11 4 -7 5zM1935 1057l8 -5 11 4 -7 5zM1945 1059l8 -4 11 4 -7 4zM1955 1062l8 -4 12 4 -8 4zM1922 1048l8 -5 11 4 -7 5zM1932 1051l8 -5 11 4 -7 4zM1972 1062l8 -5 12 4 -8 5zM1919 1042l8 -4 12 3 -8 5zM1929 1045l8 -5 11 4 -7 4zM1979 1059l8 -5 12 4 -8 4z" fill="#b8ff00"/><path d="M1626 1226l11 -6 12 5 -11 6zM1604 1210l11 -6 11 5 -10 6zM1636 1221l10 -5 12 5 -10 5zM1603 1201l11 -5 12 5 -11 5zM1614 1205l10 -5 12 5 -11 5zM1624 1209l11 -6 12 5 -11 6zM1635 1213l10 -6 12 5 -10 6zM1645 1217l11 -6 12 5 -11 6zM1592 1190l11 -6 11 5 -10 5zM1602 1193l11 -5 12 5 -11 5zM1613 1197l10 -6 12 5 -11 6zM1623 1201l11 -6 11 5 -10 6zM1634 1205l10 -6 12 5 -10 6zM1644 1208l11 -5 12 5 -11 5zM1602 1185l10 -5 12 5 -11 5zM1612 1189l10 -5 12 4 -10 6zM1622 1193l11 -6 11 5 -10 6zM1633 1196l10 -5 12 5 -11 5zM1611 1181l10 -5 12 4 -10 6zM1621 1185l11 -6 11 5 -10 6zM1632 1188l10 -5 12 5 -11 5zM1620 1177l11 -6 11 5 -10 6zM1631 1181l10 -6 11 5 -10 5zM1641 1184l10 -5 12 4 -10 6zM1651 1188l10 -6 12 5 -10 6zM1640 1176l10 -5 12 5 -11 5zM1650 1180l10 -5 12 4 -10 6zM1660 1184l11 -6 11 5 -10 5zM1671 1187l10 -5 12 5 -10 5zM1691 1187l10 -6 12 5 -10 5zM1700 1182l10 -5 12 5 -10 5zM1709 1178l9 -5 12 4 -9 6zM1717 1174l10 -5 12 4 -10 6zM1655 1146l9 -6 12 5 -10 5zM1665 1149l9 -5 12 4 -10 5zM1737 1173l9 -5 13 5 -10 5zM1746 1169l9 -5 12 5 -9 5zM1756 1173l10 -6 12 5 -10 6zM1765 1169l9 -6 12 5 -9 5zM1773 1165l10 -6 12 5 -9 5zM1782 1160l9 -5 12 5 -9 5zM1788 1149l10 -5 12 4 -10 6zM1786 1142l9 -5 12 4 -9 5zM1801 1127l9 -5 11 4 -9 5zM1817 1119l9 -5 11 5 -8 5zM1825 1116l8 -5 12 4 -8 5zM1822 1109l9 -5 12 4 -9 5zM1820 1102l9 -5 12 4 -9 5zM1552 1014l9 -4 9 3 -9 5zM1818 1095l9 -5 11 5 -8 4zM1826 1092l8 -5 12 4 -9 5zM1568 1008l9 -4 9 3 -9 5zM1844 1091l8 -5 12 5 -9 4zM1576 1005l8 -4 10 4 -9 4zM1584 1007l9 -4 10 4 -9 4zM1592 1010l9 -4 10 4 -9 4zM1662 1031l9 -4 10 3 -9 5zM1851 1088l9 -5 11 4 -8 5zM1609 1010l9 -5 10 4 -9 4zM1617 1012l9 -4 10 4 -9 4zM1661 1025l9 -4 10 4 -9 4zM1670 1028l9 -4 10 3 -9 5zM1679 1030l8 -4 11 4 -9 4zM1625 1009l9 -4 10 4 -9 4zM1634 1012l9 -4 10 3 -9 4zM1651 1017l9 -4 10 3 -9 5zM1660 1020l9 -5 10 4 -9 4zM1669 1022l8 -4 11 4 -9 4zM1678 1025l8 -5 11 4 -9 5zM1686 1027l9 -4 11 4 -9 4zM1642 1009l8 -4 10 3 -8 5zM1650 1011l9 -4 10 4 -9 4zM1659 1014l9 -4 10 3 -9 5zM1668 1016l8 -4 10 4 -8 4zM1676 1019l9 -4 10 4 -8 4zM1685 1022l9 -5 10 4 -8 4zM1884 1080l8 -4 12 4 -8 4zM1684 1016l9 -4 10 4 -9 4zM1891 1077l9 -5 11 4 -8 5zM1830 1053l8 -4 11 4 -8 4zM1840 1056l8 -4 11 4 -8 4zM1869 1065l8 -5 12 4 -9 5zM1889 1070l8 -4 12 4 -9 4zM1942 1053l8 -4 11 4 -7 4zM1952 1056l8 -4 11 4 -7 4zM1962 1059l8 -4 12 3 -8 5zM1939 1047l8 -4 11 4 -7 4zM1949 1050l8 -4 11 4 -7 4zM1959 1053l8 -4 11 3 -7 5zM1969 1056l8 -5 11 4 -7 5z" fill="#ccff00"/><path d="M1543 1195l11 -5 11 4 -11 6zM1553 1199l11 -6 11 5 -10 6zM1563 1203l11 -6 12 5 -11 6zM1594 1214l11 -6 12 5 -11 6zM1605 1218l11 -6 11 5 -10 6zM1615 1222l11 -6 12 5 -11 6zM1543 1187l10 -5 12 4 -11 6zM1553 1191l10 -6 12 5 -11 6zM1563 1195l10 -6 12 5 -11 5zM1573 1198l11 -5 11 5 -10 5zM1594 1206l10 -6 12 5 -11 6zM1615 1214l10 -6 12 5 -11 6zM1625 1217l11 -5 12 5 -11 5zM1542 1179l11 -5 11 5 -11 5zM1552 1183l11 -6 11 5 -10 6zM1562 1187l11 -6 11 5 -10 5zM1572 1190l11 -5 12 5 -11 5zM1583 1194l10 -6 12 5 -11 6zM1593 1198l10 -6 12 5 -10 6zM1542 1171l10 -5 12 5 -11 5zM1552 1175l10 -5 12 4 -11 6zM1562 1179l10 -6 12 5 -11 5zM1582 1186l10 -6 12 5 -11 6zM1551 1167l11 -5 11 5 -10 5zM1561 1171l11 -5 11 4 -10 6zM1591 1182l11 -6 11 5 -10 6zM1601 1177l10 -5 12 5 -11 5zM1600 1170l10 -6 12 5 -11 5zM1610 1173l10 -5 12 5 -10 5zM1619 1169l11 -5 11 5 -10 5zM1630 1173l10 -6 11 5 -10 5zM1659 1176l10 -6 12 5 -10 5zM1670 1179l10 -5 11 5 -10 5zM1680 1183l10 -5 12 4 -10 6zM1679 1175l10 -5 11 4 -9 6zM1689 1179l10 -6 12 5 -10 6zM1688 1171l10 -5 11 4 -9 6zM1698 1175l10 -6 12 5 -10 5zM1646 1149l10 -5 11 5 -10 5zM1656 1153l10 -5 11 4 -10 5zM1707 1170l10 -5 12 5 -10 5zM1726 1170l10 -6 12 5 -10 6zM1735 1166l10 -6 12 5 -10 5zM1754 1165l10 -5 12 4 -10 6zM1763 1161l9 -5 12 4 -9 6zM1771 1157l10 -5 12 4 -10 6zM1769 1150l10 -6 12 5 -10 5zM1780 1153l9 -5 12 4 -9 6zM1778 1146l9 -6 12 5 -9 5zM1792 1131l9 -5 12 4 -9 5zM1815 1112l8 -5 12 5 -9 5zM1552 1019l9 -4 10 4 -9 4zM1810 1099l9 -5 11 4 -8 5zM1560 1016l9 -4 10 4 -9 4zM1808 1092l9 -5 11 5 -8 4zM1560 1011l9 -4 9 3 -9 5zM1568 1013l9 -4 10 4 -9 4zM1577 1016l9 -4 9 4 -9 4zM1576 1010l9 -4 10 4 -9 4zM1585 1013l8 -4 10 4 -9 4zM1593 1016l9 -5 10 4 -9 4zM1834 1088l8 -5 12 5 -9 4zM1601 1013l9 -5 10 4 -9 4zM1610 1015l8 -4 10 4 -9 4zM1618 1018l9 -4 10 3 -9 5zM1653 1028l9 -4 10 4 -9 4zM1671 1034l9 -5 10 4 -9 4zM1626 1015l9 -4 10 3 -9 4zM1635 1017l8 -4 11 4 -9 4zM1643 1020l9 -4 10 3 -8 5zM1652 1023l9 -5 10 4 -9 4zM1688 1033l8 -4 11 4 -9 4zM1859 1084l8 -4 12 4 -8 4zM1642 1014l9 -4 10 4 -8 4zM1866 1081l9 -5 11 4 -8 5zM1813 1054l8 -5 11 4 -8 5zM1879 1068l8 -5 12 4 -9 5z" fill="#e1ff00"/><path d="M1574 1206l10 -5 12 5 -11 5zM1584 1210l11 -5 11 5 -10 5zM1583 1202l11 -6 12 5 -11 6zM1572 1182l10 -5 12 5 -11 5zM1571 1174l11 -5 11 5 -10 5zM1581 1178l11 -5 11 4 -10 6zM1551 1160l10 -6 12 5 -11 5zM1561 1163l10 -5 11 5 -10 5zM1571 1167l10 -6 11 5 -10 5zM1581 1170l10 -5 11 5 -10 5zM1591 1174l10 -5 12 4 -11 6zM1551 1152l10 -5 11 5 -10 5zM1560 1156l11 -6 11 5 -11 5zM1570 1159l11 -5 11 5 -11 5zM1580 1163l10 -6 12 5 -11 5zM1590 1166l10 -5 12 5 -11 5zM1550 1145l11 -5 11 4 -11 5zM1560 1148l10 -5 11 5 -10 5zM1570 1152l10 -6 11 5 -10 5zM1579 1155l11 -5 11 5 -10 5zM1589 1159l11 -6 11 5 -10 5zM1599 1162l11 -5 11 4 -10 6zM1609 1166l11 -6 11 5 -10 5zM1618 1162l11 -6 11 5 -10 5zM1629 1165l10 -5 11 4 -10 6zM1639 1169l10 -6 11 5 -10 5zM1649 1172l10 -5 12 4 -10 6zM1638 1161l10 -5 11 4 -10 6zM1668 1172l10 -6 12 5 -10 5zM1647 1157l10 -5 11 4 -10 6zM1677 1167l10 -5 12 5 -10 5zM1666 1156l10 -5 11 5 -10 5zM1686 1163l10 -5 12 5 -10 5zM1697 1167l9 -5 12 4 -10 6zM1705 1163l10 -6 12 5 -10 5zM1716 1166l10 -5 11 5 -9 5zM1663 1142l10 -6 12 5 -10 5zM1744 1162l9 -6 12 5 -9 5zM1752 1158l10 -6 12 5 -10 5zM1761 1154l9 -6 12 5 -9 5zM1759 1146l9 -5 12 5 -9 5zM1767 1142l10 -5 12 5 -10 5zM1776 1138l9 -5 12 5 -9 5zM1784 1134l9 -5 12 5 -9 5zM1798 1120l9 -5 12 4 -9 5zM1807 1116l8 -5 12 4 -9 5zM1544 1028l9 -4 10 4 -9 4zM1552 1025l10 -4 9 4 -9 4zM1812 1106l9 -5 12 4 -9 5zM1560 1022l10 -4 9 4 -9 4zM1568 1019l10 -4 9 4 -9 4zM1577 1022l9 -5 10 4 -9 4zM1788 1086l9 -5 11 5 -8 4zM1798 1089l9 -5 11 5 -8 4zM1585 1019l9 -5 10 4 -9 4zM1594 1021l9 -4 10 4 -9 4zM1786 1080l9 -5 11 4 -8 5zM1796 1083l9 -5 11 4 -9 5zM1806 1086l8 -5 12 4 -9 5zM1816 1089l8 -5 12 4 -9 5zM1602 1018l9 -4 10 4 -9 4zM1610 1021l9 -4 10 3 -9 5zM1654 1034l9 -4 10 4 -9 4zM1663 1037l9 -5 10 4 -9 5zM1784 1073l9 -4 11 4 -8 4zM1794 1076l9 -4 11 4 -9 4zM1627 1020l9 -4 10 4 -9 4zM1636 1023l8 -4 11 3 -9 5zM1644 1026l9 -5 10 4 -8 4zM1792 1070l9 -5 11 4 -9 5zM1714 1035l8 -4 11 4 -9 4zM1732 1041l8 -5 11 4 -8 5zM1842 1062l8 -4 11 4 -8 4zM1852 1065l8 -4 11 4 -8 4zM1861 1068l9 -4 11 3 -8 5zM1881 1074l9 -5 11 4 -8 5z" fill="#f5ff00"/><path d="M1569 1144l10 -5 11 5 -10 5zM1579 1148l10 -5 11 4 -10 5zM1589 1151l10 -5 11 5 -10 5zM1599 1155l10 -6 11 5 -10 5zM1608 1158l11 -5 11 4 -10 6zM1628 1157l10 -5 11 5 -10 5zM1648 1164l10 -5 11 5 -10 5zM1658 1168l10 -5 12 4 -10 6zM1637 1153l10 -5 11 5 -10 5zM1657 1160l10 -5 11 5 -10 5zM1667 1164l10 -5 12 4 -10 6zM1636 1146l10 -5 11 4 -10 6zM1676 1160l10 -5 12 4 -10 5zM1645 1142l9 -5 12 5 -10 5zM1675 1152l10 -5 11 5 -10 5zM1685 1156l10 -5 11 4 -9 5zM1695 1159l10 -5 12 5 -10 5zM1673 1145l10 -5 12 4 -10 6zM1725 1162l9 -5 12 5 -9 5zM1733 1158l10 -5 12 4 -10 6zM1751 1150l9 -5 12 4 -10 6zM1749 1143l9 -5 12 4 -9 5zM1757 1139l9 -5 12 4 -9 5zM1766 1135l9 -5 12 4 -10 5zM1544 1034l10 -4 10 3 -10 5zM1561 1028l9 -5 10 4 -9 5zM1569 1025l9 -5 10 4 -9 4zM1790 1093l9 -5 11 4 -8 5zM1800 1096l9 -5 11 4 -8 5zM1586 1024l9 -4 10 4 -9 4zM1778 1083l9 -5 11 5 -8 4zM1602 1024l9 -4 10 3 -9 5zM1767 1074l8 -5 12 4 -9 5zM1776 1077l9 -5 11 4 -8 5zM1619 1023l9 -4 10 4 -9 4zM1628 1026l9 -4 10 4 -9 4zM1636 1029l9 -5 11 4 -9 4zM1645 1031l9 -4 10 4 -8 4zM1775 1070l8 -4 11 4 -8 4zM1804 1079l8 -4 12 4 -9 4zM1814 1082l8 -4 12 4 -9 4zM1824 1085l8 -5 12 5 -9 4zM1680 1036l9 -4 10 4 -9 4zM1782 1067l9 -5 11 4 -8 5zM1802 1073l8 -5 12 4 -9 5zM1841 1085l9 -5 11 4 -8 5zM1733 1047l9 -5 11 4 -9 5zM1849 1081l8 -4 12 4 -9 4zM1723 1038l8 -4 11 4 -9 4zM1856 1078l9 -5 11 4 -8 5zM1805 1057l9 -4 11 4 -9 4zM1874 1077l8 -4 12 4 -8 4zM1822 1057l9 -5 11 4 -8 5zM1832 1059l8 -4 12 4 -9 4zM1871 1071l9 -5 11 4 -8 5z" fill="#fff200"/><path d="M1550 1138l10 -5 11 4 -10 5zM1559 1141l11 -5 11 4 -11 5zM1578 1140l10 -5 11 5 -10 5zM1588 1144l10 -5 11 4 -10 5zM1598 1147l10 -5 11 5 -10 5zM1653 1138l10 -5 12 5 -10 5zM1684 1148l9 -5 12 5 -10 5zM1704 1155l10 -5 11 5 -9 5zM1714 1159l10 -6 12 5 -10 5zM1742 1154l9 -5 12 4 -9 6zM1740 1147l10 -5 11 4 -9 5zM1774 1131l9 -5 12 5 -9 5zM1790 1124l9 -5 12 4 -9 5zM1545 1040l9 -5 10 4 -9 5zM1788 1117l9 -5 12 4 -9 5zM1553 1037l9 -5 10 4 -9 5zM1698 1082l9 -5 11 5 -9 4zM1708 1085l9 -5 11 5 -9 4zM1796 1113l9 -5 12 4 -9 5zM1553 1031l9 -4 10 3 -9 5zM1561 1034l10 -5 9 4 -9 4zM1804 1109l9 -5 12 5 -9 4zM1569 1030l10 -4 10 4 -10 4zM1802 1102l9 -4 12 4 -9 5zM1578 1027l9 -4 10 4 -9 4zM1770 1087l9 -5 12 4 -9 5zM1780 1090l9 -5 11 4 -8 5zM1594 1027l9 -4 10 3 -9 5zM1759 1077l9 -4 11 4 -9 4zM1769 1080l8 -4 12 4 -9 4zM1611 1026l9 -4 10 4 -9 4zM1620 1029l9 -4 10 4 -9 4zM1655 1040l9 -5 10 4 -8 5zM1757 1071l9 -5 11 4 -9 5zM1672 1039l9 -4 10 4 -8 4zM1812 1076l8 -5 11 4 -8 5zM1724 1044l9 -4 10 3 -8 5zM1743 1050l8 -5 11 4 -8 4zM1790 1064l9 -5 11 4 -9 5zM1800 1067l8 -5 11 4 -8 5zM1788 1057l9 -4 11 4 -9 4zM1798 1060l8 -4 11 4 -8 4zM1844 1068l8 -4 12 4 -8 4zM1854 1071l8 -4 12 4 -8 4zM1864 1074l8 -4 12 4 -8 4z" fill="#ffd700"/><path d="M1569 1137l10 -5 11 4 -10 6zM1608 1151l10 -6 11 5 -10 5zM1618 1154l10 -5 11 4 -10 6zM1607 1143l10 -5 11 5 -10 5zM1617 1147l10 -6 11 5 -10 5zM1627 1150l10 -5 11 4 -10 6zM1626 1143l10 -5 11 4 -10 5zM1694 1152l9 -5 12 4 -10 5zM1662 1134l10 -5 11 5 -9 5zM1672 1138l10 -5 11 4 -9 5zM1723 1155l10 -6 11 5 -9 5zM1640 1114l10 -5 11 4 -9 5zM1650 1117l10 -5 11 4 -10 5zM1649 1110l10 -5 11 5 -10 4zM1747 1136l9 -6 12 5 -9 5zM1745 1128l9 -5 12 5 -9 5zM1755 1132l10 -5 11 4 -9 5zM1562 1039l9 -4 10 4 -9 4zM1689 1079l9 -5 11 5 -10 4zM1717 1088l9 -5 11 5 -9 4zM1570 1036l9 -4 10 4 -9 4zM1687 1073l9 -5 11 4 -9 5zM1697 1076l9 -5 11 4 -9 5zM1706 1079l9 -5 11 4 -9 5zM1716 1082l9 -5 11 4 -9 5zM1578 1033l9 -4 10 4 -9 4zM1762 1090l9 -5 12 5 -9 4zM1772 1093l9 -5 12 5 -9 4zM1586 1030l9 -4 10 3 -9 5zM1761 1084l8 -5 12 4 -9 5zM1603 1030l9 -5 10 4 -9 4zM1612 1032l9 -4 10 4 -9 4zM1749 1074l9 -4 11 4 -9 4zM1628 1032l9 -5 11 4 -9 5zM1637 1034l9 -4 11 4 -9 4zM1646 1037l9 -4 10 4 -8 4zM1664 1043l9 -5 10 4 -8 4zM1710 1056l9 -4 11 4 -9 4zM1718 1053l9 -4 10 4 -8 4zM1765 1067l9 -4 11 4 -9 4zM1726 1050l8 -4 11 3 -9 5zM1735 1053l9 -5 10 4 -8 5zM1821 1079l9 -5 11 4 -8 5zM1831 1082l9 -5 11 4 -8 5zM1809 1069l9 -4 11 4 -8 4zM1846 1075l9 -5 11 4 -8 5zM1834 1066l9 -5 11 4 -8 5z" fill="#ffbb00"/><path d="M1559 1134l10 -5 11 4 -10 5zM1587 1137l10 -6 11 5 -10 5zM1597 1140l10 -5 11 4 -10 5zM1616 1139l10 -5 11 5 -10 5zM1635 1139l10 -5 11 4 -10 5zM1644 1135l9 -5 12 4 -10 5zM1652 1131l10 -5 11 4 -9 6zM1682 1141l10 -5 11 4 -9 6zM1651 1124l10 -5 11 4 -10 5zM1681 1134l9 -5 12 4 -10 5zM1732 1151l9 -6 12 5 -10 5zM1631 1111l9 -5 11 4 -9 5zM1660 1120l9 -5 12 5 -10 5zM1639 1107l10 -5 11 4 -10 5zM1659 1113l9 -5 11 5 -9 5zM1738 1139l10 -5 12 5 -10 5zM1727 1129l9 -5 12 4 -10 5zM1737 1132l9 -5 12 5 -10 5zM1725 1122l9 -5 12 4 -10 5zM1735 1125l9 -5 12 5 -9 5zM1743 1121l10 -5 11 5 -9 5zM1753 1125l10 -5 11 4 -9 5zM1764 1128l9 -5 12 4 -10 5zM1762 1121l9 -5 11 4 -9 5zM1782 1127l9 -5 12 5 -9 5zM1770 1117l9 -5 12 4 -9 5zM1780 1120l9 -5 12 5 -9 5zM1553 1043l10 -5 10 4 -10 4zM1680 1083l10 -5 10 4 -9 5zM1699 1089l10 -5 11 4 -10 5zM1709 1092l9 -5 11 4 -9 5zM1778 1113l9 -5 12 5 -9 5zM1679 1076l9 -4 11 4 -9 4zM1579 1039l9 -4 10 3 -9 5zM1725 1085l9 -5 11 4 -9 5zM1754 1094l9 -5 12 4 -9 5zM1587 1036l9 -5 10 4 -9 5zM1714 1075l9 -4 11 4 -9 4zM1724 1078l9 -4 11 4 -9 4zM1733 1081l9 -5 11 5 -8 4zM1743 1084l9 -5 11 5 -9 4zM1753 1087l9 -5 11 5 -9 4zM1782 1096l9 -5 12 5 -9 4zM1792 1099l9 -4 12 4 -9 5zM1595 1033l9 -5 10 4 -9 4zM1604 1035l9 -4 10 4 -9 4zM1732 1075l9 -5 11 4 -9 5zM1741 1078l9 -5 11 4 -8 5zM1751 1081l9 -5 11 4 -9 5zM1620 1035l9 -4 11 3 -9 5zM1647 1043l9 -4 11 4 -9 4zM1719 1059l9 -4 11 4 -9 4zM1727 1056l9 -4 11 4 -9 4zM1689 1039l9 -4 10 3 -9 5zM1773 1064l8 -4 11 4 -8 4zM1715 1041l9 -4 10 4 -8 4zM1780 1061l9 -5 11 4 -8 5zM1819 1072l9 -4 11 4 -8 4zM1839 1078l8 -4 12 4 -9 4zM1807 1063l9 -4 11 4 -8 4zM1827 1069l8 -5 12 4 -9 5zM1837 1072l8 -5 11 4 -8 5zM1815 1060l8 -5 12 4 -9 5zM1825 1063l8 -5 11 4 -8 5z" fill="#ff9900"/><path d="M1549 1130l11 -5 10 5 -10 5zM1585 1108l10 -4 10 4 -9 5zM1594 1112l10 -5 11 4 -10 5zM1642 1128l10 -5 11 4 -9 5zM1713 1151l9 -5 12 5 -10 5zM1594 1105l9 -5 11 4 -10 5zM1603 1108l10 -5 11 4 -10 5zM1632 1118l9 -5 12 4 -10 5zM1641 1121l10 -5 11 4 -9 5zM1661 1127l10 -5 11 5 -10 5zM1671 1131l10 -6 11 5 -10 5zM1670 1123l9 -5 12 5 -10 5zM1546 1070l10 -4 10 4 -9 4zM1658 1106l9 -4 11 4 -9 5zM1707 1122l9 -5 11 5 -9 5zM1717 1126l9 -5 11 4 -9 5zM1715 1119l9 -5 12 4 -10 5zM1733 1118l10 -5 11 5 -9 4zM1693 1099l9 -5 11 4 -9 5zM1702 1102l9 -5 12 4 -10 5zM1752 1118l9 -5 11 4 -9 5zM1772 1124l9 -5 12 4 -9 5zM1545 1046l9 -5 10 4 -9 5zM1701 1095l9 -5 11 5 -9 4zM1710 1098l10 -5 11 5 -9 4zM1671 1080l9 -5 11 4 -9 5zM1690 1086l9 -5 11 4 -9 5zM1719 1095l9 -5 11 4 -9 5zM1570 1042l10 -4 10 4 -10 4zM1727 1091l9 -5 11 5 -9 4zM1786 1110l9 -5 12 4 -9 5zM1678 1070l9 -5 11 4 -9 5zM1735 1088l9 -5 11 4 -9 5zM1745 1091l9 -5 11 4 -9 5zM1764 1097l9 -5 12 4 -9 5zM1794 1106l9 -5 12 4 -9 5zM1596 1038l9 -4 10 4 -9 4zM1695 1069l9 -4 11 4 -9 4zM1705 1072l9 -4 11 4 -9 4zM1612 1038l10 -4 10 4 -9 4zM1629 1038l9 -5 11 4 -9 4zM1638 1040l9 -4 11 4 -9 4zM1656 1046l9 -5 11 4 -9 5zM1693 1057l9 -5 10 4 -9 5zM1702 1060l9 -5 11 4 -9 5zM1740 1071l8 -4 12 4 -9 4zM1673 1045l9 -4 11 4 -9 4zM1701 1054l8 -5 11 4 -9 5zM1681 1042l9 -4 10 4 -8 4zM1709 1050l8 -4 11 4 -9 4zM1716 1047l9 -4 11 4 -9 4zM1829 1075l8 -4 12 4 -9 4zM1817 1066l8 -4 12 4 -9 4z" fill="#ff7700"/><path d="M1578 1133l10 -5 11 5 -10 5zM1606 1136l10 -5 11 4 -10 5zM1625 1135l10 -5 11 5 -10 5zM1585 1115l10 -5 11 5 -10 5zM1634 1132l10 -5 11 4 -10 5zM1604 1115l10 -5 11 4 -10 5zM1633 1124l9 -4 12 4 -10 5zM1692 1144l10 -5 11 5 -9 5zM1584 1102l10 -5 11 4 -10 5zM1613 1111l9 -5 11 5 -10 4zM1622 1114l10 -5 11 5 -10 5zM1691 1137l9 -5 12 5 -10 5zM1612 1104l9 -5 11 5 -9 5zM1621 1107l10 -4 11 4 -10 5zM1730 1143l9 -5 12 5 -9 5zM1630 1104l9 -5 11 4 -9 5zM1668 1116l10 -4 11 4 -9 5zM1708 1129l9 -5 12 5 -9 5zM1718 1133l10 -5 11 4 -9 5zM1728 1136l10 -5 11 4 -9 6zM1555 1073l10 -4 10 4 -9 4zM1648 1103l9 -5 11 5 -9 5zM1667 1110l10 -5 11 4 -10 5zM1697 1119l9 -5 11 5 -9 5zM1564 1070l9 -5 11 4 -10 5zM1705 1115l9 -4 12 4 -10 5zM1694 1105l9 -4 11 4 -9 5zM1704 1109l9 -5 11 4 -9 5zM1713 1112l10 -5 11 4 -9 5zM1723 1115l10 -5 11 4 -9 5zM1683 1096l9 -5 11 4 -9 5zM1712 1105l9 -5 11 4 -9 5zM1742 1114l9 -4 11 4 -9 5zM1663 1083l9 -5 11 4 -9 5zM1672 1086l9 -5 11 4 -9 5zM1720 1101l9 -4 12 4 -9 5zM1760 1114l9 -5 12 4 -10 5zM1562 1045l9 -4 11 4 -10 4zM1728 1098l10 -5 11 4 -9 5zM1768 1110l9 -5 12 5 -9 4zM1579 1045l9 -5 11 4 -10 5zM1670 1073l9 -4 11 4 -9 4zM1737 1094l9 -5 11 5 -9 4zM1746 1097l9 -5 12 5 -9 4zM1756 1100l9 -4 12 4 -9 5zM1587 1042l10 -5 10 4 -10 5zM1774 1100l9 -5 12 4 -9 5zM1604 1041l9 -4 11 4 -9 4zM1686 1066l9 -4 11 4 -9 4zM1621 1041l9 -5 11 4 -9 5zM1694 1063l9 -4 11 4 -9 4zM1722 1072l9 -5 11 4 -9 5zM1665 1049l9 -5 11 4 -9 4zM1684 1054l8 -4 11 4 -9 4zM1711 1063l9 -5 11 4 -9 5zM1748 1068l8 -5 11 4 -8 5z" fill="#ff5400"/><path d="M1559 1127l10 -5 11 4 -11 5zM1568 1130l10 -5 11 4 -10 5zM1568 1123l10 -5 10 4 -10 5zM1596 1133l10 -5 11 4 -10 5zM1577 1119l10 -5 10 4 -10 5zM1548 1103l10 -5 11 4 -10 5zM1576 1112l10 -5 11 5 -10 5zM1557 1099l10 -5 10 5 -10 4zM1575 1105l10 -4 11 4 -10 5zM1613 1118l10 -5 11 4 -10 5zM1623 1121l10 -5 11 5 -10 5zM1702 1148l10 -5 12 4 -10 5zM1721 1147l10 -5 12 5 -10 5zM1602 1101l10 -5 11 5 -10 4zM1680 1127l9 -5 11 4 -9 5zM1689 1130l10 -5 11 4 -9 5zM1699 1133l10 -5 12 5 -10 5zM1547 1077l9 -5 11 4 -10 5zM1620 1101l10 -5 11 4 -10 5zM1678 1120l10 -5 11 4 -9 5zM1688 1123l10 -5 11 4 -10 5zM1698 1126l10 -5 11 5 -9 5zM1620 1094l9 -5 11 5 -10 4zM1629 1097l10 -5 10 5 -9 4zM1638 1100l10 -5 11 5 -10 4zM1546 1064l10 -5 10 4 -10 5zM1555 1067l9 -5 11 4 -10 5zM1628 1091l10 -5 10 4 -9 5zM1676 1106l9 -5 11 4 -9 5zM1572 1066l10 -4 10 4 -9 4zM1684 1102l9 -4 12 4 -10 5zM1673 1093l10 -5 11 4 -10 5zM1722 1108l9 -5 11 4 -9 5zM1732 1111l9 -5 11 5 -9 5zM1682 1089l9 -5 11 4 -9 5zM1691 1092l9 -5 11 5 -9 4zM1750 1111l9 -5 11 4 -9 5zM1738 1101l9 -5 12 4 -9 5zM1758 1107l9 -5 12 4 -9 5zM1766 1103l9 -4 12 4 -9 5zM1776 1107l9 -5 12 4 -9 5zM1596 1044l9 -4 11 4 -10 4zM1669 1067l9 -5 10 4 -9 5zM1784 1103l9 -5 12 4 -9 5zM1630 1043l9 -4 11 4 -9 4zM1639 1046l9 -4 11 4 -9 4zM1676 1057l8 -4 11 4 -9 4zM1685 1060l9 -4 10 4 -9 4zM1703 1066l9 -5 11 4 -9 5zM1713 1069l9 -5 11 4 -9 5zM1674 1051l9 -4 11 4 -9 4zM1682 1048l9 -4 11 4 -9 4zM1691 1051l9 -5 11 4 -9 5zM1755 1065l9 -5 11 4 -8 5zM1744 1056l9 -5 11 4 -9 5zM1771 1058l8 -5 12 4 -9 5z" fill="#ff3200"/><path d="M1549 1123l10 -5 11 5 -10 5zM1558 1120l10 -5 11 4 -10 5zM1567 1116l10 -5 11 4 -10 5zM1615 1132l10 -5 11 5 -10 5zM1595 1119l10 -5 11 4 -10 5zM1548 1096l10 -5 10 4 -10 5zM1566 1102l10 -5 11 5 -10 5zM1575 1099l10 -5 10 4 -9 5zM1593 1098l10 -5 10 5 -9 4zM1710 1137l9 -5 12 4 -10 5zM1602 1095l9 -5 11 4 -10 5zM1611 1098l10 -5 10 4 -9 5zM1564 1076l10 -5 10 5 -9 4zM1610 1091l10 -5 10 4 -9 5zM1677 1113l9 -5 12 4 -10 5zM1687 1116l9 -5 11 4 -9 5zM1637 1094l10 -5 11 4 -10 5zM1666 1103l9 -5 12 4 -10 5zM1685 1109l10 -5 11 5 -9 4zM1695 1112l10 -5 11 5 -9 5zM1646 1090l9 -5 11 4 -9 5zM1675 1099l9 -5 11 5 -9 4zM1545 1052l10 -5 10 4 -10 5zM1654 1087l10 -5 10 4 -9 5zM1664 1090l9 -5 11 4 -9 5zM1554 1048l9 -4 10 4 -9 4zM1730 1104l9 -4 12 4 -10 5zM1740 1108l9 -5 11 4 -9 5zM1571 1048l9 -4 10 4 -9 4zM1580 1051l9 -5 10 4 -9 5zM1662 1077l9 -5 11 4 -10 5zM1748 1104l9 -5 12 4 -9 5zM1588 1048l9 -5 10 4 -9 5zM1660 1070l10 -4 10 4 -9 4zM1659 1064l9 -4 11 4 -9 4zM1613 1044l9 -4 11 3 -10 5zM1667 1061l9 -5 11 4 -9 5zM1677 1064l9 -5 10 4 -9 5zM1648 1049l9 -4 11 3 -9 5zM1721 1066l9 -5 11 4 -9 5zM1730 1068l9 -4 11 4 -9 4zM1729 1062l8 -4 11 4 -8 4zM1737 1059l8 -5 11 4 -9 5zM1707 1044l9 -4 11 4 -9 4z" fill="#ff1000"/><path d="M1577 1126l10 -5 11 4 -10 6zM1587 1129l10 -5 11 5 -10 5zM1586 1122l10 -5 11 5 -10 5zM1557 1106l10 -5 11 4 -10 5zM1567 1109l10 -5 10 4 -10 5zM1605 1122l9 -5 11 4 -9 5zM1624 1128l10 -5 11 5 -10 5zM1701 1140l10 -5 11 5 -9 5zM1720 1140l9 -5 12 4 -10 5zM1556 1079l9 -4 11 4 -10 5zM1573 1073l9 -5 11 4 -10 5zM1619 1087l9 -4 11 4 -10 5zM1647 1097l9 -5 11 4 -9 5zM1656 1100l10 -5 11 4 -10 5zM1563 1064l10 -5 10 4 -9 5zM1581 1069l10 -4 10 4 -9 4zM1637 1087l9 -5 11 4 -10 5zM1665 1096l9 -5 11 5 -9 4zM1581 1063l9 -5 11 5 -10 4zM1590 1066l9 -5 11 4 -10 5zM1562 1051l10 -4 10 4 -9 4zM1598 1063l10 -5 10 4 -9 5zM1642 1065l9 -5 11 4 -9 5zM1651 1067l9 -4 11 4 -9 4zM1605 1047l9 -4 10 4 -9 4zM1650 1061l9 -4 11 4 -9 4zM1622 1047l9 -5 11 4 -10 5zM1666 1055l9 -5 11 4 -9 5zM1738 1065l9 -4 11 4 -9 4zM1690 1045l9 -4 11 3 -9 5zM1746 1062l9 -5 11 4 -9 5zM1763 1061l9 -4 11 4 -9 4z" fill="#ff0700"/><path d="M1596 1126l10 -5 11 4 -10 5zM1605 1129l10 -5 11 4 -10 5zM1614 1125l10 -5 11 4 -10 5zM1566 1096l9 -5 11 4 -10 5zM1711 1144l10 -5 11 4 -9 5zM1584 1095l9 -5 11 4 -10 5zM1655 1093l10 -5 11 5 -10 4zM1572 1060l9 -4 11 4 -10 4zM1645 1084l9 -5 11 4 -9 5zM1571 1054l10 -4 10 4 -9 4zM1580 1057l10 -5 10 4 -10 5zM1589 1060l10 -5 10 4 -10 5zM1607 1065l10 -4 10 4 -9 4zM1653 1080l10 -5 10 5 -9 4zM1589 1054l9 -5 10 4 -9 5zM1606 1059l10 -4 10 4 -9 4zM1615 1062l10 -4 10 4 -9 4zM1597 1050l9 -4 10 4 -9 4zM1615 1056l9 -5 10 4 -9 5zM1624 1059l9 -5 10 4 -9 5zM1633 1062l9 -5 11 4 -10 5zM1631 1049l9 -4 11 4 -10 4zM1658 1058l9 -5 11 4 -9 5zM1657 1052l9 -5 11 4 -9 5zM1754 1058l8 -4 11 4 -8 4z" fill="#fe0000"/><path d="M1548 1110l10 -5 11 4 -10 5zM1556 1093l10 -5 11 4 -10 5zM1592 1092l10 -5 11 4 -10 5zM1601 1088l9 -5 11 4 -9 5zM1546 1058l9 -5 10 4 -9 5zM1554 1061l10 -5 10 4 -9 5zM1627 1084l10 -5 10 4 -9 5zM1554 1055l10 -5 10 4 -10 5zM1563 1057l9 -4 11 4 -10 4zM1599 1069l9 -5 11 4 -10 5zM1597 1056l10 -4 10 4 -9 4zM1625 1065l9 -5 10 4 -9 5zM1634 1068l9 -5 11 4 -10 5zM1643 1071l9 -5 11 4 -9 5zM1652 1074l9 -5 11 4 -9 5zM1606 1053l9 -4 10 4 -9 4zM1614 1050l9 -5 10 4 -9 5zM1623 1053l9 -5 10 4 -9 5zM1632 1056l9 -5 11 4 -10 4zM1641 1058l9 -4 11 4 -9 4zM1640 1052l9 -4 11 4 -9 4zM1649 1055l9 -4 11 4 -9 4z" fill="#f80000"/><path d="M1549 1116l10 -5 10 5 -10 5zM1558 1113l10 -5 10 4 -10 5zM1547 1089l10 -4 11 4 -10 5zM1547 1083l10 -5 10 4 -10 5zM1573 1079l10 -5 10 4 -9 5zM1616 1068l10 -4 10 4 -9 4z" fill="#f10000"/><path d="M1556 1086l10 -5 10 4 -10 5zM1565 1082l9 -4 11 4 -10 5zM1609 1084l10 -4 11 4 -10 5zM1590 1072l10 -4 10 4 -9 4zM1636 1081l9 -5 11 4 -10 5zM1625 1071l10 -4 10 4 -9 4zM1644 1077l9 -5 11 5 -9 4z" fill="#eb0000"/><path d="M1574 1092l10 -5 11 4 -10 5zM1582 1076l9 -5 11 4 -10 5zM1618 1081l9 -5 11 4 -9 5zM1608 1072l9 -5 11 4 -10 5zM1635 1074l9 -4 11 4 -10 4z" fill="#e40000"/><path d="M1617 1075l9 -5 11 4 -9 5zM1626 1078l10 -5 10 4 -9 5z" fill="#d90000"/><path d="M1565 1089l10 -5 10 4 -9 5zM1583 1088l10 -4 10 4 -9 5zM1582 1082l10 -5 11 4 -10 5zM1592 1085l9 -5 11 4 -10 5z" fill="#c80000"/><path d="M1574 1085l10 -4 10 4 -10 5z" fill="#b70000"/><path d="M1591 1079l10 -5 10 4 -9 5zM1600 1082l10 -5 10 4 -9 5zM1599 1075l10 -5 10 5 -9 4zM1609 1078l9 -5 11 5 -10 4z" fill="#a60000"/><path d="M1667 784l8 14 10 5 -8 -6z" fill="#2a4b00"/><path d="M1676 795l7 6 10 10 -8 -4z" fill="#1e4c00"/><path d="M1660 798l8 -14 10 12 -9 6z" fill="#518204"/><path d="M1684 805l7 5 11 5 -7 -4z" fill="#114000"/><path d="M1668 801l8 -6 10 11 -8 1z" fill="#346c00"/><path d="M1652 810l9 -13 9 4 -8 11z" fill="#367c02"/><path d="M1693 810l8 6 10 -1 -8 -6z" fill="#0c2c00"/><path d="M1677 806l8 -1 10 6 -8 -1z" fill="#1f5100"/><path d="M1645 821l8 -13 10 2 -9 13z" fill="#197100"/><path d="M1661 811l8 -11 10 6 -9 6z" fill="#2e7100"/><path d="M1701 810l8 6 10 -5 -8 -8z" fill="#091700"/><path d="M1685 809l8 2 10 -1 -8 -2z" fill="#153600"/><path d="M1637 831l9 -12 9 2 -8 13z" fill="#016700"/><path d="M1653 822l8 -13 10 2 -8 8z" fill="#1a6100"/><path d="M1669 812l8 -7 10 4 -7 1z" fill="#235600"/><path d="M1629 834l9 -5 10 4 -9 4z" fill="#004807"/><path d="M1710 805l8 7 10 -8 -8 -12z" fill="#0d1600"/><path d="M1694 809l8 2 10 -7 -8 -1z" fill="#112200"/><path d="M1646 833l8 -12 9 -4 -7 8z" fill="#084a00"/><path d="M1678 810l7 -1 11 0 -8 -2z" fill="#1b3a00"/><path d="M1662 819l8 -9 10 -1 -8 1z" fill="#1a4400"/><path d="M1638 837l8 -3 10 -10 -8 1z" fill="#012400"/><path d="M1686 808l8 2 11 -7 -8 5z" fill="#152700"/><path d="M1719 793l8 12 10 -6 -8 -18z" fill="#101700"/><path d="M1622 825l8 10 10 2 -9 -15z" fill="#011400"/><path d="M1703 804l8 2 10 -13 -9 -2z" fill="#0f1600"/><path d="M1654 825l8 -6 10 -9 -8 1z" fill="#0e2900"/><path d="M1670 811l8 0 10 -3 -8 -6z" fill="#172b00"/><path d="M1728 781l7 19 10 7 -7 -9z" fill="#213000"/><path d="M1630 823l9 14 10 -11 -9 -11z" fill="#041500"/><path d="M1647 827l8 -1 9 -15 -8 1z" fill="#071500"/><path d="M1695 808l8 -3 10 -13 -8 2z" fill="#151f00"/><path d="M1679 803l8 6 10 -1 -8 -12z" fill="#101900"/><path d="M1711 793l8 2 10 -13 -7 6z" fill="#273400"/><path d="M1663 812l8 0 10 -9 -9 -3z" fill="#111c00"/><path d="M1614 813l9 14 9 -3 -9 -21z" fill="#091500"/><path d="M1737 796l7 9 10 13 -8 -5z" fill="#2d4a00"/><path d="M1720 788l8 -7 10 17 -8 0z" fill="#4a6300"/><path d="M1745 812l8 4 10 9 -8 -2z" fill="#1f5000"/><path d="M1639 816l8 11 10 -14 -9 -4z" fill="#0a1600"/><path d="M1704 795l7 -2 11 -5 -7 4z" fill="#364900"/><path d="M1687 797l9 12 10 -15 -9 -4z" fill="#121a00"/><path d="M1655 814l8 -1 10 -12 -8 2z" fill="#121d00"/><path d="M1671 802l9 2 10 -7 -9 -4z" fill="#131b00"/><path d="M1623 804l8 20 10 -7 -9 -19z" fill="#0d1600"/><path d="M1729 796l8 0 10 17 -8 -2z" fill="#416100"/><path d="M1606 813l9 1 9 -10 -8 -2z" fill="#0e1600"/><path d="M1754 822l7 1 11 5 -8 0z" fill="#185100"/><path d="M1713 792l8 -5 10 10 -8 3z" fill="#567300"/><path d="M1696 791l9 5 10 -4 -8 -1z" fill="#354500"/><path d="M1738 810l8 1 10 12 -8 -2z" fill="#2e5a00"/><path d="M1647 810l9 5 10 -11 -9 2z" fill="#192600"/><path d="M1664 805l8 -2 10 -9 -8 4z" fill="#263500"/><path d="M1680 794l8 5 10 -8 -8 -2z" fill="#243000"/><path d="M1631 799l9 19 9 -8 -8 -8z" fill="#101900"/><path d="M1763 827l8 -1 10 4 -8 3z" fill="#165900"/><path d="M1722 798l8 -2 10 15 -9 0z" fill="#4a6c00"/><path d="M1598 814l9 0 9 -11 -8 4z" fill="#1c2b00"/><path d="M1614 803l9 2 10 -6 -9 0z" fill="#1d2900"/><path d="M1747 820l8 1 10 6 -8 1z" fill="#215900"/><path d="M1705 791l8 0 11 8 -9 2z" fill="#516c00"/><path d="M1656 807l8 -2 10 -6 -8 8z" fill="#354c00"/><path d="M1689 789l7 3 11 0 -8 1z" fill="#4a5d00"/><path d="M1730 809l9 0 10 12 -9 -1z" fill="#3a6000"/><path d="M1672 800l8 -7 11 -4 -9 10z" fill="#435700"/><path d="M1640 803l8 8 10 -4 -8 1z" fill="#2b4000"/><path d="M1772 832l8 -4 10 3 -8 7z" fill="#166800"/><path d="M1623 799l9 -1 10 5 -9 2z" fill="#374d00"/><path d="M1756 826l8 0 10 6 -8 4z" fill="#1c6400"/><path d="M1714 800l8 -2 10 13 -8 0z" fill="#4c6c00"/><path d="M1607 808l8 -6 10 -3 -8 8z" fill="#354c00"/><path d="M1590 810l9 4 10 -6 -9 -1z" fill="#1d2b00"/><path d="M1739 818l8 1 11 8 -9 1z" fill="#2a5e00"/><path d="M1698 792l8 -1 10 10 -8 1z" fill="#597400"/><path d="M1665 806l8 -8 10 -1 -8 11z" fill="#4b6800"/><path d="M1681 798l9 -9 10 3 -9 10z" fill="#5e7900"/><path d="M1648 807l8 0 11 -1 -9 3z" fill="#3a5300"/><path d="M1781 837l8 -7 10 4 -8 7z" fill="#146c00"/><path d="M1723 809l8 0 10 11 -8 -1z" fill="#3f6100"/><path d="M1764 835l9 -4 10 6 -8 9z" fill="#147402"/><path d="M1632 804l8 -2 10 5 -8 2z" fill="#3c5500"/><path d="M1615 807l9 -8 10 5 -9 4z" fill="#425c00"/><path d="M1599 808l8 1 10 -3 -8 0z" fill="#2b3e00"/><path d="M1748 826l8 0 11 9 -9 3z" fill="#206800"/><path d="M1706 801l9 -2 10 11 -8 0z" fill="#4d6c00"/><path d="M1582 803l9 8 10 -3 -9 -8z" fill="#151d00"/><path d="M1690 801l9 -10 10 10 -9 5z" fill="#618001"/><path d="M1732 817l8 1 10 9 -8 1z" fill="#336200"/><path d="M1673 807l9 -10 10 3 -9 10z" fill="#567600"/><path d="M1657 808l8 -3 11 2 -9 2z" fill="#3e5900"/><path d="M1790 840l8 -7 11 2 -9 7z" fill="#136600"/><path d="M1773 845l9 -9 10 3 -8 9z" fill="#0b7301"/><path d="M1640 808l8 -1 11 1 -8 -3z" fill="#304400"/><path d="M1757 837l8 -3 11 11 -9 7z" fill="#0e7602"/><path d="M1715 808l9 1 10 9 -9 0z" fill="#406000"/><path d="M1624 807l9 -4 10 5 -9 -3z" fill="#344900"/><path d="M1607 807l8 0 11 0 -9 -3z" fill="#2d3f00"/><path d="M1741 826l8 0 10 12 -8 2z" fill="#236800"/><path d="M1699 805l8 -5 10 9 -8 0z" fill="#4d6b00"/><path d="M1591 800l9 9 9 -2 -9 -8z" fill="#1b2400"/><path d="M1682 809l9 -9 10 5 -9 5z" fill="#517000"/><path d="M1666 808l8 -2 10 3 -8 3z" fill="#405a00"/><path d="M1799 841l8 -7 11 1 -8 9z" fill="#156600"/><path d="M1766 851l8 -8 11 4 -9 14z" fill="#057d0b"/><path d="M1783 847l8 -8 10 2 -8 7z" fill="#0c6e00"/><path d="M1574 796l9 8 10 -3 -9 -9z" fill="#171e00"/><path d="M1724 816l9 1 10 11 -9 1z" fill="#386000"/><path d="M1649 806l9 3 10 0 -9 -8z" fill="#273600"/><path d="M1750 838l8 -2 10 15 -8 1z" fill="#0b6500"/><path d="M1633 806l8 3 10 -3 -9 -6z" fill="#202c00"/><path d="M1708 807l8 1 10 9 -8 -2z" fill="#3e5900"/><path d="M1616 805l9 3 10 -2 -9 -5z" fill="#222e00"/><path d="M1599 800l9 8 10 -3 -9 -7z" fill="#1d2600"/><path d="M1733 827l9 -1 10 13 -9 0z" fill="#256100"/><path d="M1691 809l9 -5 10 4 -8 0z" fill="#445d00"/><path d="M1775 861l9 -15 10 0 -9 18z" fill="#02750c"/><path d="M1674 811l9 -3 10 1 -8 3z" fill="#3c5400"/><path d="M1792 847l8 -7 10 3 -8 11z" fill="#0c7001"/><path d="M1808 844l8 -10 11 1 -8 8z" fill="#1a6600"/><path d="M1759 850l8 0 10 10 -8 2z" fill="#00600a"/><path d="M1583 793l9 9 9 -1 -9 -8z" fill="#1d2300"/><path d="M1658 801l8 8 11 2 -8 -6z" fill="#2b3a00"/><path d="M1717 813l8 3 10 12 -8 -2z" fill="#375600"/><path d="M1566 794l9 3 10 -4 -9 -3z" fill="#2a3200"/><path d="M1641 801l9 6 10 -5 -9 -6z" fill="#1f2700"/><path d="M1742 838l9 -1 10 14 -8 -4z" fill="#0f5200"/><path d="M1625 802l9 5 9 -6 -8 -4z" fill="#1b2200"/><path d="M1700 807l8 0 11 7 -8 -6z" fill="#3d5300"/><path d="M1784 864l9 -18 10 6 -8 14z" fill="#01710c"/><path d="M1768 860l8 -1 10 4 -8 4z" fill="#005d13"/><path d="M1608 799l9 7 10 -4 -9 -6z" fill="#1b2200"/><path d="M1801 853l8 -11 11 0 -8 12z" fill="#0c6c00"/><path d="M1683 811l8 -2 11 -2 -8 1z" fill="#374b00"/><path d="M1818 843l8 -9 10 1 -8 8z" fill="#206600"/><path d="M1726 824l8 2 10 13 -8 -3z" fill="#265000"/><path d="M1591 794l9 8 10 -2 -9 -7z" fill="#202700"/><path d="M1667 806l8 6 11 -1 -8 -2z" fill="#2e3f00"/><path d="M1751 845l8 5 11 11 -8 -11z" fill="#023900"/><path d="M1574 791l9 4 10 -1 -9 -4z" fill="#2f3600"/><path d="M1650 796l8 7 11 4 -8 -7z" fill="#2a3500"/><path d="M1558 797l9 -2 10 -5 -9 1z" fill="#3e4900"/><path d="M1709 808l8 4 10 14 -8 -6z" fill="#364e00"/><path d="M1777 866l8 -4 11 3 -9 6z" fill="#005d16"/><path d="M1633 798l9 4 10 -5 -8 -2z" fill="#262d00"/><path d="M1794 865l8 -13 10 0 -8 15z" fill="#016d0b"/><path d="M1735 834l7 4 11 8 -8 -9z" fill="#143a00"/><path d="M1810 853l9 -12 10 1 -8 12z" fill="#116900"/><path d="M1617 797l9 6 10 -5 -9 -5z" fill="#1e2400"/><path d="M1692 809l9 -3 10 3 -8 1z" fill="#3c4f00"/><path d="M1827 843l8 -9 11 1 -8 9z" fill="#256800"/><path d="M1676 809l8 3 11 -3 -9 -2z" fill="#2f3e00"/><path d="M1761 850l7 12 11 4 -8 -12z" fill="#002d03"/><path d="M1600 794l9 7 10 -4 -9 -5z" fill="#202500"/><path d="M1718 818l8 6 10 12 -7 -10z" fill="#273e00"/><path d="M1659 800l8 7 11 3 -8 -7z" fill="#2c3900"/><path d="M1583 791l9 4 10 -1 -9 -4z" fill="#2e3500"/><path d="M1550 804l9 -9 9 -3 -8 7z" fill="#455200"/><path d="M1566 793l9 -3 10 1 -8 -1z" fill="#404800"/><path d="M1786 869l8 -5 11 1 -8 14z" fill="#016d1e"/><path d="M1744 837l8 10 10 4 -8 -12z" fill="#0d2e00"/><path d="M1803 867l8 -16 11 1 -9 17z" fill="#006b07"/><path d="M1642 796l8 0 11 5 -8 -6z" fill="#323b00"/><path d="M1701 809l9 -1 10 11 -8 -4z" fill="#394e00"/><path d="M1820 853l8 -12 10 1 -8 11z" fill="#166a00"/><path d="M1770 854l8 13 10 3 -7 -7z" fill="#003807"/><path d="M1836 843l8 -9 11 0 -8 10z" fill="#2a6700"/><path d="M1625 794l9 5 10 -3 -9 -5z" fill="#272d00"/><path d="M1685 808l7 1 12 0 -8 -1z" fill="#394a00"/><path d="M1727 825l8 11 11 3 -8 -10z" fill="#1b3000"/><path d="M1609 793l9 5 10 -3 -9 -6z" fill="#1f2300"/><path d="M1668 804l9 6 10 -2 -9 -5z" fill="#313e00"/><path d="M1592 791l9 4 10 -2 -9 -6z" fill="#252900"/><path d="M1795 878l9 -13 10 2 -8 19z" fill="#027125"/><path d="M1753 839l8 13 10 4 -7 -11z" fill="#0f3e00"/><path d="M1575 791l9 1 10 -1 -9 -3z" fill="#373c00"/><path d="M1651 796l8 5 11 4 -8 -4z" fill="#343f00"/><path d="M1711 813l7 5 11 9 -8 -11z" fill="#2a3c00"/><path d="M1558 799l9 -8 10 -1 -9 1z" fill="#424a00"/><path d="M1779 863l8 5 10 10 -8 1z" fill="#005116"/><path d="M1812 869l9 -18 10 1 -8 15z" fill="#006502"/><path d="M1829 853l8 -12 11 1 -8 10z" fill="#1c6600"/><path d="M1737 829l7 9 11 2 -8 7z" fill="#244d00"/><path d="M1846 843l8 -9 11 0 -8 9z" fill="#2f6600"/><path d="M1634 792l9 5 10 0 -8 -5z" fill="#313700"/><path d="M1694 808l8 0 11 6 -9 -1z" fill="#415400"/><path d="M1617 790l9 6 10 -3 -9 -7z" fill="#202300"/><path d="M1677 803l8 6 11 -1 -9 2z" fill="#455700"/><path d="M1762 845l8 11 11 8 -8 -13z" fill="#0a4600"/><path d="M1788 878l8 -1 11 8 -9 6z" fill="#005e2b"/><path d="M1600 788l10 6 10 -4 -10 -8z" fill="#1a1c00"/><path d="M1805 886l8 -19 10 -2 -8 16z" fill="#005c1a"/><path d="M1720 817l8 10 10 3 -7 -7z" fill="#293c00"/><path d="M1660 800l8 5 11 -1 -9 3z" fill="#424f00"/><path d="M1584 789l9 3 10 -4 -9 -6z" fill="#242600"/><path d="M1745 845l9 -6 10 6 -8 18z" fill="#298406"/><path d="M1550 807l9 -8 10 -7 -9 1z" fill="#2f3500"/><path d="M1567 792l9 0 10 -3 -9 -2z" fill="#323600"/><path d="M1822 866l8 -15 11 -1 -8 10z" fill="#095c00"/><path d="M1643 792l8 4 11 5 -8 -4z" fill="#383f00"/><path d="M1839 851l8 -10 11 1 -8 8z" fill="#216200"/><path d="M1703 812l8 1 11 5 -8 -4z" fill="#3a4c00"/><path d="M1856 842l7 -9 11 1 -7 9z" fill="#356600"/><path d="M1772 851l7 11 11 17 -7 -13z" fill="#003803"/><path d="M1729 823l8 6 10 17 -8 8z" fill="#315c00"/><path d="M1686 809l8 -2 11 5 -9 5z" fill="#526900"/><path d="M1626 786l9 8 10 -1 -9 -7z" fill="#262900"/><path d="M1738 852l8 -7 10 16 -8 50z" fill="#088214"/><path d="M1797 890l8 -6 11 -4 -8 9z" fill="#004a23"/><path d="M1669 805l9 -2 10 6 -9 6z" fill="#576b00"/><path d="M1755 863l8 -18 11 7 -9 4z" fill="#176e00"/><path d="M1609 783l9 8 10 -4 -9 -9z" fill="#181900"/><path d="M1814 881l8 -17 11 -6 -8 14z" fill="#004a08"/><path d="M1781 864l7 14 11 13 -7 -14z" fill="#002b0c"/><path d="M1652 796l9 4 10 6 -9 -1z" fill="#424d00"/><path d="M1592 783l10 6 9 -6 -9 -9z" fill="#191900"/><path d="M1542 808l9 0 10 -14 -10 -1z" fill="#151900"/><path d="M1712 814l8 3 11 7 -9 -9z" fill="#384b00"/><path d="M1831 860l8 -10 11 -1 -8 8z" fill="#145900"/><path d="M1575 788l10 2 10 -7 -10 -4z" fill="#1c1d00"/><path d="M1559 795l9 -2 10 -5 -10 -4z" fill="#202200"/><path d="M1848 850l8 -9 11 0 -8 9z" fill="#286100"/><path d="M1865 842l8 -9 11 0 -8 9z" fill="#3b6600"/><path d="M1695 816l8 -5 11 3 -9 4z" fill="#475c00"/><path d="M1747 911l8 -50 10 -7 -8 7z" fill="#00400a"/><path d="M1635 786l9 8 10 3 -9 -10z" fill="#272a00"/><path d="M1678 814l9 -6 10 7 -9 7z" fill="#587100"/><path d="M1722 815l8 8 9 31 -8 -18z" fill="#2c4300"/><path d="M1764 855l8 -4 10 15 -8 -17z" fill="#0a2f00"/><path d="M1807 889l7 -8 12 -11 -8 8z" fill="#00320e"/><path d="M1790 877l8 14 11 -2 -8 -9z" fill="#001d0b"/><path d="M1661 804l9 0 10 11 -9 0z" fill="#495a00"/><path d="M1731 834l8 18 9 59 -8 -57z" fill="#022600"/><path d="M1618 779l9 9 10 -1 -9 -10z" fill="#191900"/><path d="M1824 871l8 -13 11 -3 -8 9z" fill="#064900"/><path d="M1841 856l8 -8 11 0 -8 7z" fill="#1c5a00"/><path d="M1601 775l9 9 10 -4 -9 -14z" fill="#1a1800"/><path d="M1858 849l8 -8 11 0 -8 8z" fill="#316700"/><path d="M1875 842l8 -9 11 0 -8 9z" fill="#466f00"/><path d="M1533 802l10 6 9 -15 -9 -1z" fill="#161800"/><path d="M1704 817l8 -3 11 2 -8 -6z" fill="#313e00"/><path d="M1584 781l9 3 10 -9 -9 -8z" fill="#1a1800"/><path d="M1644 787l9 11 10 7 -9 -15z" fill="#222500"/><path d="M1550 794l10 2 9 -12 -9 -5z" fill="#181900"/><path d="M1567 785l9 4 10 -9 -9 -6z" fill="#191900"/><path d="M1687 821l9 -7 10 2 -8 2z" fill="#3c4e00"/><path d="M1774 849l7 17 10 13 -7 -26z" fill="#031500"/><path d="M1670 813l9 0 10 8 -9 0z" fill="#415300"/><path d="M1740 855l8 56 10 -50 -8 -20z" fill="#001400"/><path d="M1799 882l9 7 10 -11 -8 -2z" fill="#001405"/><path d="M1627 777l9 11 10 1 -9 -19z" fill="#191800"/><path d="M1757 863l8 -7 10 -6 -8 -12z" fill="#081500"/><path d="M1816 879l8 -8 11 -8 -7 5z" fill="#003002"/><path d="M1653 790l9 15 10 9 -8 -14z" fill="#222600"/><path d="M1867 848l9 -8 11 1 -9 15z" fill="#418103"/><path d="M1833 864l8 -9 12 -1 -8 6z" fill="#114d00"/><path d="M1884 841l9 -9 11 1 -9 17z" fill="#528102"/><path d="M1850 855l8 -8 12 0 -8 7z" fill="#276600"/><path d="M1713 810l8 5 11 21 -8 -30z" fill="#121700"/><path d="M1610 766l9 14 10 -2 -9 -13z" fill="#1a1700"/><path d="M1783 853l8 26 10 3 -8 -19z" fill="#001400"/><path d="M1525 800l9 2 10 -10 -10 1z" fill="#222500"/><path d="M1542 793l9 2 10 -16 -10 2z" fill="#1a1a00"/><path d="M1696 818l9 0 10 -7 -8 -12z" fill="#141800"/><path d="M1679 820l9 2 10 -4 -8 -8z" fill="#1b2300"/><path d="M1576 776l9 5 10 -13 -9 -1z" fill="#1a1600"/><path d="M1593 769l9 7 10 -9 -9 -16z" fill="#1a1400"/><path d="M1559 781l9 5 10 -11 -9 -9z" fill="#1a1700"/><path d="M1662 800l9 15 10 6 -8 -9z" fill="#1c2100"/><path d="M1877 855l8 -15 11 8 -8 26z" fill="#53b91c"/><path d="M1636 770l9 19 10 3 -9 -30z" fill="#1a1700"/><path d="M1723 806l8 30 10 21 -8 -46z" fill="#111700"/><path d="M1894 849l8 -17 11 3 -8 21z" fill="#4d7f01"/><path d="M1860 853l8 -6 11 8 -8 8z" fill="#328405"/><path d="M1809 877l8 3 11 -12 -8 -1z" fill="#001701"/><path d="M1766 839l8 12 10 4 -8 -19z" fill="#0c1600"/><path d="M1826 869l7 -6 12 -4 -7 2z" fill="#093700"/><path d="M1843 860l8 -6 11 -1 -7 4z" fill="#1d5800"/><path d="M1792 863l8 20 11 -6 -8 -13z" fill="#001400"/><path d="M1619 766l9 13 10 -8 -9 -10z" fill="#1a1500"/><path d="M1749 842l8 21 11 -24 -9 -12z" fill="#0e1600"/><path d="M1516 802l10 -1 9 -7 -9 0z" fill="#2f3200"/><path d="M1887 874l8 -26 11 6 -9 35z" fill="#158305"/><path d="M1533 795l10 -1 9 -12 -9 5z" fill="#313200"/><path d="M1870 861l8 -7 11 19 -9 14z" fill="#168e0c"/><path d="M1602 751l9 17 10 -1 -9 -13z" fill="#191200"/><path d="M1551 783l9 -2 9 -15 -9 6z" fill="#312b00"/><path d="M1567 766l10 11 10 -10 -9 0z" fill="#2a2200"/><path d="M1646 762l8 30 10 10 -9 -30z" fill="#1a1800"/><path d="M1705 801l9 11 10 -4 -8 -29z" fill="#171900"/><path d="M1585 768l9 2 9 -19 -8 6z" fill="#1e1600"/><path d="M1732 811l8 46 10 -14 -8 -33z" fill="#101700"/><path d="M1671 812l9 9 11 -10 -9 -10z" fill="#141800"/><path d="M1689 812l8 7 11 -19 -9 -18z" fill="#161800"/><path d="M1904 856l8 -22 11 2 -8 17z" fill="#477400"/><path d="M1879 885l9 -13 10 15 -9 45z" fill="#12964a"/><path d="M1776 836l7 19 11 10 -8 -22z" fill="#0b1600"/><path d="M1853 857l8 -5 11 11 -8 -2z" fill="#226500"/><path d="M1836 863l7 -4 12 -2 -7 3z" fill="#154300"/><path d="M1819 868l8 2 11 -8 -8 -2z" fill="#072300"/><path d="M1801 865l9 13 11 -10 -9 -7z" fill="#031500"/><path d="M1655 772l8 30 10 11 -8 -22z" fill="#181900"/><path d="M1628 762l9 10 10 -9 -9 -11z" fill="#191200"/><path d="M1897 889l8 -35 10 -3 -8 26z" fill="#0e5f00"/><path d="M1758 828l9 13 10 -4 -8 -11z" fill="#101700"/><path d="M1508 804l9 -1 10 -8 -10 1z" fill="#323400"/><path d="M1525 796l9 -1 10 -8 -9 2z" fill="#3a3a00"/><path d="M1611 755l9 13 10 -5 -9 -8z" fill="#191200"/><path d="M1542 789l9 -5 10 -11 -9 10z" fill="#443d00"/><path d="M1863 859l8 2 10 26 -7 -16z" fill="#0a5000"/><path d="M1785 843l8 22 10 1 -8 -20z" fill="#091500"/><path d="M1576 768l10 1 9 -11 -9 4z" fill="#392b00"/><path d="M1559 774l9 -8 10 2 -9 5z" fill="#483900"/><path d="M1889 932l8 -45 11 -12 -8 13z" fill="#003516"/><path d="M1742 811l8 32 10 -14 -8 -11z" fill="#121700"/><path d="M1715 779l9 29 9 5 -8 -43z" fill="#191900"/><path d="M1593 759l10 -8 10 5 -10 -6z" fill="#281900"/><path d="M1914 853l8 -18 11 2 -7 9z" fill="#456900"/><path d="M1873 869l7 16 9 47 -6 -59z" fill="#001f09"/><path d="M1845 860l8 -4 12 4 -8 -3z" fill="#1e4e00"/><path d="M1663 792l9 21 11 -10 -9 -13z" fill="#181900"/><path d="M1828 862l8 1 12 -4 -8 3z" fill="#113400"/><path d="M1681 803l8 9 11 -29 -9 -15z" fill="#191900"/><path d="M1811 862l8 7 11 -8 -8 -5z" fill="#071500"/><path d="M1637 752l9 12 10 10 -9 -27z" fill="#191100"/><path d="M1698 784l8 18 11 -22 -9 -35z" fill="#1a1600"/><path d="M1768 826l8 12 10 7 -8 -18z" fill="#101700"/><path d="M1907 877l8 -26 11 -7 -7 13z" fill="#1f4700"/><path d="M1516 797l10 -1 10 -6 -10 0z" fill="#373700"/><path d="M1620 756l9 8 10 -11 -9 -4z" fill="#190f00"/><path d="M1794 846l8 21 11 -5 -8 -13z" fill="#0a1600"/><path d="M1534 790l9 -1 10 -8 -10 2z" fill="#383400"/><path d="M1725 770l8 43 10 0 -8 -32z" fill="#191900"/><path d="M1551 782l9 -10 10 -1 -9 0z" fill="#3b3100"/><path d="M1751 818l8 12 11 -3 -8 -4z" fill="#131700"/><path d="M1568 772l9 -3 10 -7 -9 1z" fill="#342700"/><path d="M1602 751l10 6 10 -1 -10 -12z" fill="#190e00"/><path d="M1924 845l8 -9 11 0 -7 6z" fill="#3c5700"/><path d="M1585 763l9 -3 10 -10 -9 -2z" fill="#251600"/><path d="M1855 857l8 2 11 12 -7 -14z" fill="#143700"/><path d="M1883 873l6 59 12 -43 -8 -16z" fill="#001405"/><path d="M1647 747l8 27 10 19 -9 -28z" fill="#191400"/><path d="M1838 862l8 -3 11 -2 -8 8z" fill="#163900"/><path d="M1777 828l9 17 10 3 -8 -33z" fill="#111700"/><path d="M1899 890l8 -13 11 -21 -7 7z" fill="#041600"/><path d="M1821 857l8 6 11 -1 -8 -10z" fill="#0c1b00"/><path d="M1734 781l8 32 10 7 -7 -18z" fill="#171900"/><path d="M1673 792l8 11 10 -34 -8 -7z" fill="#1a1600"/><path d="M1804 850l8 13 11 -6 -8 -8z" fill="#0c1600"/><path d="M1508 799l9 -1 10 -7 -10 0z" fill="#353500"/><path d="M1525 792l10 -1 9 -8 -9 1z" fill="#2a2600"/><path d="M1656 766l8 27 10 -1 -9 -20z" fill="#1a1600"/><path d="M1629 750l9 4 10 -6 -9 -7z" fill="#190d00"/><path d="M1760 824l8 4 11 1 -8 -17z" fill="#131800"/><path d="M1917 858l8 -14 11 -3 -7 6z" fill="#2b4300"/><path d="M1542 785l10 -2 10 -11 -10 -5z" fill="#1a1500"/><path d="M1865 857l8 14 11 4 -8 -16z" fill="#071500"/><path d="M1707 745l9 36 10 -9 -8 -49z" fill="#190f00"/><path d="M1611 745l10 12 10 -7 -10 -11z" fill="#190c00"/><path d="M1560 773l9 0 10 -9 -10 -10z" fill="#191200"/><path d="M1934 842l7 -6 13 -6 -8 4z" fill="#344700"/><path d="M1577 765l9 -1 10 -15 -9 -1z" fill="#190f00"/><path d="M1690 770l9 14 10 -39 -9 -26z" fill="#190e00"/><path d="M1594 750l9 2 10 -6 -9 -15z" fill="#190b00"/><path d="M1848 865l8 -9 11 2 -8 -3z" fill="#132800"/><path d="M1743 802l8 18 11 5 -8 -15z" fill="#151800"/><path d="M1787 816l8 32 10 3 -7 -24z" fill="#111700"/><path d="M1831 853l8 10 11 2 -8 -19z" fill="#0c1600"/><path d="M1892 875l8 15 11 -27 -8 -3z" fill="#051500"/><path d="M1638 741l9 6 10 21 -9 -27z" fill="#190c00"/><path d="M1813 850l9 8 11 -4 -8 -18z" fill="#0f1600"/><path d="M1910 865l7 -7 12 -11 -8 5z" fill="#1b2e00"/><path d="M1875 860l8 15 11 0 -8 -14z" fill="#071500"/><path d="M1499 801l10 -1 9 -8 -9 1z" fill="#363500"/><path d="M1516 793l10 -1 10 -8 -10 -1z" fill="#262200"/><path d="M1717 723l8 50 10 10 -8 -38z" fill="#190e00"/><path d="M1927 848l7 -7 12 -7 -7 13z" fill="#374d00"/><path d="M1664 773l9 19 11 -30 -9 -7z" fill="#191300"/><path d="M1534 785l9 0 10 -17 -10 -2z" fill="#1a1400"/><path d="M1770 813l8 17 11 -13 -8 -30z" fill="#161800"/><path d="M1944 835l8 -4 12 -6 -8 -1z" fill="#3e4e00"/><path d="M1620 740l10 11 10 -9 -9 -20z" fill="#180900"/><path d="M1797 827l8 24 10 0 -8 -18z" fill="#101700"/><path d="M1858 856l7 2 12 3 -7 -4z" fill="#132200"/><path d="M1752 811l9 14 11 -12 -9 -20z" fill="#171800"/><path d="M1727 745l7 38 10 21 -8 -20z" fill="#201a00"/><path d="M1551 769l10 4 9 -18 -9 -19z" fill="#190f00"/><path d="M1568 755l10 10 10 -16 -10 -12z" fill="#190d00"/><path d="M1586 750l9 0 10 -19 -9 1z" fill="#180900"/><path d="M1603 732l9 15 10 -6 -9 -23z" fill="#180700"/><path d="M1682 764l9 7 10 -52 -9 8z" fill="#180b00"/><path d="M1841 847l8 18 11 -8 -8 -13z" fill="#0e1600"/><path d="M1647 741l9 27 10 6 -9 -31z" fill="#190e00"/><path d="M1736 782l8 22 10 8 -8 -21z" fill="#191800"/><path d="M1885 861l8 14 11 -14 -8 -1z" fill="#0d1d00"/><path d="M1902 861l8 4 12 -13 -8 0z" fill="#1c2f00"/><path d="M1490 803l10 -1 10 -8 -10 2z" fill="#3d3b00"/><path d="M1920 853l7 -7 12 -1 -8 12z" fill="#3c5a00"/><path d="M1508 795l9 -2 10 -9 -10 3z" fill="#2f2a00"/><path d="M1823 837l9 18 10 -7 -7 -28z" fill="#111700"/><path d="M1937 846l8 -12 12 -10 -8 20z" fill="#4c6400"/><path d="M1868 857l7 3 12 2 -8 0z" fill="#1a2e00"/><path d="M1699 721l9 26 10 -22 -8 -68z" fill="#170100"/><path d="M1525 785l10 1 9 -20 -9 -1z" fill="#191300"/><path d="M1955 825l7 -1 12 4 -8 4z" fill="#5c6e00"/><path d="M1780 788l8 30 10 11 -8 -40z" fill="#181900"/><path d="M1806 834l8 17 12 -13 -9 -14z" fill="#121700"/><path d="M1630 722l9 21 10 0 -9 -30z" fill="#180600"/><path d="M1851 844l7 13 12 1 -8 -7z" fill="#0f1700"/><path d="M1674 757l9 7 10 -37 -9 8z" fill="#180a00"/><path d="M1543 768l9 1 9 -33 -9 -3z" fill="#190c00"/><path d="M1656 743l9 31 11 -18 -9 -26z" fill="#190c00"/><path d="M1577 738l10 13 10 -18 -10 -6z" fill="#180800"/><path d="M1612 719l9 22 11 -18 -10 -25z" fill="#180300"/><path d="M1595 734l9 -1 10 -14 -9 -9z" fill="#180400"/><path d="M1762 794l9 20 11 -25 -9 -33z" fill="#1a1600"/><path d="M1559 737l10 19 10 -18 -10 -24z" fill="#180700"/><path d="M1930 856l8 -12 11 -2 -8 16z" fill="#4f7300"/><path d="M1912 853l8 -1 12 4 -8 7z" fill="#426700"/><path d="M1745 792l8 20 11 -18 -8 -27z" fill="#1a1700"/><path d="M1895 861l7 1 12 -9 -8 11z" fill="#304e00"/><path d="M1790 789l7 40 11 6 -8 -31z" fill="#171800"/><path d="M1499 798l10 -2 9 -9 -9 11z" fill="#4b4400"/><path d="M1965 830l8 -3 11 9 -7 0z" fill="#617800"/><path d="M1719 721l8 24 10 39 -9 -14z" fill="#472400"/><path d="M1877 861l8 1 12 -1 -8 4z" fill="#223c00"/><path d="M1947 844l9 -20 11 6 -8 14z" fill="#617b00"/><path d="M1710 657l8 68 9 22 -8 -24z" fill="#200200"/><path d="M1834 820l8 29 10 -3 -7 -29z" fill="#131700"/><path d="M1517 789l9 -4 9 -20 -9 6z" fill="#1d1600"/><path d="M1728 768l8 16 10 9 -8 -16z" fill="#2d2300"/><path d="M1860 851l8 7 12 4 -8 -3z" fill="#1b2a00"/><path d="M1639 713l9 30 10 2 -9 -42z" fill="#180400"/><path d="M1692 729l8 -7 10 -65 -8 53z" fill="#280100"/><path d="M1816 826l8 13 12 -18 -9 -23z" fill="#161800"/><path d="M1534 767l9 1 10 -34 -10 -1z" fill="#180b00"/><path d="M1922 862l8 -7 12 2 -8 9z" fill="#4c7701"/><path d="M1975 835l8 -1 11 10 -7 -5z" fill="#536a00"/><path d="M1940 858l8 -16 11 1 -8 16z" fill="#537600"/><path d="M1799 805l8 30 11 -9 -8 -23z" fill="#171800"/><path d="M1905 863l8 -11 12 9 -9 7z" fill="#426900"/><path d="M1666 730l9 27 10 -21 -9 -17z" fill="#180600"/><path d="M1958 844l8 -15 11 6 -8 10z" fill="#648001"/><path d="M1586 729l10 5 9 -24 -9 1z" fill="#170200"/><path d="M1887 864l8 -4 12 3 -7 0z" fill="#2b4700"/><path d="M1683 737l9 -8 10 -21 -8 26z" fill="#5e0f00"/><path d="M1844 817l7 29 11 6 -8 -25z" fill="#131700"/><path d="M1621 698l9 26 11 -9 -10 -28z" fill="#170100"/><path d="M1569 714l9 25 10 -11 -10 -15z" fill="#180300"/><path d="M1508 798l9 -9 10 -18 -9 22z" fill="#423700"/><path d="M1772 756l8 34 11 1 -8 -47z" fill="#191000"/><path d="M1870 858l8 4 12 2 -8 -9z" fill="#182600"/><path d="M1604 712l9 9 10 -23 -9 -12z" fill="#170000"/><path d="M1710 735l9 -14 10 49 -9 1z" fill="#753000"/><path d="M1551 735l10 3 9 -23 -9 -12z" fill="#180300"/><path d="M1701 709l9 -52 10 66 -9 14z" fill="#9f110d"/><path d="M1737 779l9 14 11 -25 -9 -19z" fill="#191100"/><path d="M1986 838l7 4 11 14 -8 5z" fill="#517100"/><path d="M1719 769l9 -1 11 10 -9 11z" fill="#604400"/><path d="M1648 703l9 42 10 -13 -9 -49z" fill="#170100"/><path d="M1755 769l8 26 11 -38 -8 -34z" fill="#190d00"/><path d="M1932 865l9 -9 11 1 -8 11z" fill="#497200"/><path d="M1915 867l8 -7 12 5 -8 5z" fill="#3c6700"/><path d="M1526 773l9 -6 9 -34 -9 9z" fill="#190b00"/><path d="M1854 827l7 26 11 6 -8 -22z" fill="#111700"/><path d="M1950 858l8 -16 12 1 -8 15z" fill="#547600"/><path d="M1692 733l10 -25 10 28 -9 17z" fill="#ea542d"/><path d="M1968 844l8 -10 12 4 -8 6z" fill="#6d8a04"/><path d="M1996 859l7 -5 11 20 -8 22z" fill="#5aa714"/><path d="M1898 863l7 -1 12 5 -7 -3z" fill="#2a4400"/><path d="M1826 799l8 23 11 -3 -8 -38z" fill="#191900"/><path d="M1783 744l7 47 10 16 -7 -35z" fill="#191200"/><path d="M1499 801l10 -3 9 -7 -9 9z" fill="#595000"/><path d="M1675 719l9 18 11 -4 -9 0z" fill="#460c00"/><path d="M1809 805l8 22 11 -28 -8 -18z" fill="#191800"/><path d="M1702 751l9 -16 10 36 -9 3z" fill="#7f3e01"/><path d="M1631 687l9 28 10 -10 -9 -17z" fill="#170000"/><path d="M1880 856l8 9 12 -2 -8 -13z" fill="#0f1600"/><path d="M1577 714l10 15 10 -17 -9 -4z" fill="#170100"/><path d="M2005 895l8 -22 11 12 -8 35z" fill="#10950d"/><path d="M1595 713l10 -1 9 -26 -9 3z" fill="#170000"/><path d="M1517 793l9 -20 9 -31 -9 30z" fill="#362100"/><path d="M1543 735l9 1 9 -33 -9 -10z" fill="#170100"/><path d="M1613 686l9 14 10 -12 -9 -1z" fill="#160000"/><path d="M1979 842l7 -4 11 23 -8 8z" fill="#618604"/><path d="M1792 772l8 35 10 -2 -8 -15z" fill="#1a1600"/><path d="M1560 704l9 12 10 -1 -9 -23z" fill="#170000"/><path d="M1943 867l8 -10 11 -1 -8 13z" fill="#497100"/><path d="M1925 869l8 -5 12 2 -8 6z" fill="#3a6500"/><path d="M1711 772l9 -3 11 20 -8 -11z" fill="#402d00"/><path d="M1863 838l8 21 11 -2 -8 -19z" fill="#111700"/><path d="M1998 912l8 -18 11 25 -10 52z" fill="#1dad6d"/><path d="M1729 789l9 -10 10 -30 -8 6z" fill="#190f00"/><path d="M1989 866l7 -7 10 37 -8 18z" fill="#1e7302"/><path d="M1685 731l8 1 11 21 -9 -6z" fill="#782200"/><path d="M1961 858l8 -15 11 -1 -8 17z" fill="#6c9106"/><path d="M1908 863l7 3 12 4 -7 -2z" fill="#294300"/><path d="M1658 683l9 49 9 -11 -8 -46z" fill="#170000"/><path d="M1837 781l7 38 11 10 -8 -36z" fill="#191800"/><path d="M2015 920l8 -35 12 0 -8 26z" fill="#006407"/><path d="M1508 800l10 -7 9 -23 -9 21z" fill="#514000"/><path d="M1891 850l7 14 12 0 -8 -15z" fill="#101700"/><path d="M1747 751l8 18 11 -46 -8 -15z" fill="#180600"/><path d="M1694 745l9 6 10 23 -8 -23z" fill="#471f00"/><path d="M1639 689l10 16 10 -22 -9 -5z" fill="#160000"/><path d="M2007 971l8 -53 12 -9 -8 18z" fill="#005237"/><path d="M1971 857l8 -15 11 26 -8 7z" fill="#78a812"/><path d="M1764 724l9 34 10 -12 -7 -81z" fill="#170100"/><path d="M1622 687l9 0 11 2 -10 9z" fill="#4a0000"/><path d="M1534 744l9 -9 9 -41 -9 19z" fill="#170100"/><path d="M1587 709l9 4 10 -24 -9 4z" fill="#260000"/><path d="M1801 791l9 15 11 -25 -8 10z" fill="#241e00"/><path d="M1935 872l8 -6 12 1 -8 8z" fill="#3f6b00"/><path d="M1953 868l8 -12 12 1 -8 12z" fill="#568002"/><path d="M1847 793l7 36 11 10 -8 -33z" fill="#181900"/><path d="M1667 675l9 46 10 12 -9 -9z" fill="#3d0200"/><path d="M1569 692l9 23 11 -6 -10 -8z" fill="#170000"/><path d="M1604 690l9 -4 11 1 -9 8z" fill="#510000"/><path d="M1918 867l7 2 13 2 -8 3z" fill="#305200"/><path d="M1873 839l8 18 11 -6 -7 -23z" fill="#121700"/><path d="M1981 873l8 -7 10 48 -7 -9z" fill="#126100"/><path d="M1991 903l7 8 9 60 -5 -46z" fill="#004428"/><path d="M1819 783l8 17 11 -18 -7 -52z" fill="#191000"/><path d="M1721 778l9 11 10 -34 -8 -12z" fill="#190d00"/><path d="M1526 772l9 -30 9 -29 -9 49z" fill="#541b00"/><path d="M1676 722l9 9 10 16 -8 -16z" fill="#490c00"/><path d="M1704 751l8 23 11 4 -9 -20z" fill="#190d00"/><path d="M1499 801l10 -1 9 -11 -9 9z" fill="#5c4e00"/><path d="M1785 747l7 25 11 20 -9 1z" fill="#573800"/><path d="M1901 849l7 16 12 4 -7 -12z" fill="#172100"/><path d="M1776 665l7 81 10 29 -8 -26z" fill="#1a0400"/><path d="M1551 695l10 10 10 -11 -10 -42z" fill="#150000"/><path d="M2026 911l8 -26 12 -5 -7 12z" fill="#0d5100"/><path d="M1857 806l7 34 11 0 -8 -27z" fill="#171800"/><path d="M1963 868l9 -12 11 18 -8 2z" fill="#77ae15"/><path d="M1517 790l9 -21 10 -9 -10 25z" fill="#774c00"/><path d="M1649 679l8 4 12 -7 -10 22z" fill="#5e0000"/><path d="M1631 698l9 -10 11 -9 -9 19z" fill="#6e0000"/><path d="M1946 874l8 -8 11 2 -8 11z" fill="#4b7c02"/><path d="M1613 694l10 -7 10 10 -9 8z" fill="#7c0202"/><path d="M2001 925l6 46 13 -44 -7 -12z" fill="#00130d"/><path d="M1793 791l9 -1 11 1 -9 22z" fill="#b59a0f"/><path d="M1739 757l9 -6 10 -43 -8 0z" fill="#180300"/><path d="M1928 873l8 -3 12 3 -8 6z" fill="#396700"/><path d="M1578 702l9 8 10 -17 -9 16z" fill="#5b0000"/><path d="M1596 694l9 -5 11 5 -10 6z" fill="#6e0000"/><path d="M1884 828l7 24 11 -1 -7 -27z" fill="#141800"/><path d="M1686 732l9 15 10 6 -9 -27z" fill="#2d0a00"/><path d="M1659 697l9 -22 10 49 -9 1z" fill="#700100"/><path d="M1911 857l7 11 12 6 -8 -3z" fill="#2c4300"/><path d="M1830 730l7 53 11 12 -7 -27z" fill="#190e00"/><path d="M1974 874l8 -2 10 33 -7 -13z" fill="#236800"/><path d="M1812 792l8 -9 11 -53 -9 51z" fill="#422600"/><path d="M2019 929l7 -18 12 -20 -7 8z" fill="#001b03"/><path d="M1535 762l8 -49 10 -12 -9 83z" fill="#701800"/><path d="M1757 710l8 15 11 -60 -8 40z" fill="#180000"/><path d="M1508 797l10 -9 9 -5 -9 12z" fill="#735a00"/><path d="M1560 652l10 42 9 9 -9 -10z" fill="#410000"/><path d="M1543 715l9 -19 9 -44 -9 51z" fill="#470000"/><path d="M1713 760l9 19 10 -36 -8 -4z" fill="#180900"/><path d="M1640 697l10 -19 10 20 -9 13z" fill="#a81313"/><path d="M1776 754l9 -7 10 46 -9 11z" fill="#7a4900"/><path d="M1525 784l10 -24 10 23 -9 11z" fill="#895b01"/><path d="M1956 878l8 -11 12 7 -9 16z" fill="#62aa13"/><path d="M1668 723l9 -1 11 11 -9 -4z" fill="#610600"/><path d="M1866 814l8 27 11 -12 -8 -21z" fill="#181900"/><path d="M1623 704l9 -8 11 1 -10 -1z" fill="#780101"/><path d="M1785 802l9 -11 11 21 -9 17z" fill="#c5b817"/><path d="M1938 878l8 -6 12 6 -8 13z" fill="#498f09"/><path d="M1984 890l7 13 11 24 -6 -27z" fill="#002a02"/><path d="M1840 767l7 28 11 13 -8 -28z" fill="#211800"/><path d="M1605 699l9 -6 11 11 -10 10z" fill="#870303"/><path d="M2037 893l7 -13 13 2 -7 3z" fill="#1f5300"/><path d="M1803 813l9 -23 11 -11 -9 33z" fill="#846f00"/><path d="M1587 709l10 -16 10 5 -10 20z" fill="#8e0505"/><path d="M1570 691l9 10 10 7 -9 20z" fill="#970b0a"/><path d="M1894 824l7 27 11 8 -6 -16z" fill="#151a00"/><path d="M1696 726l8 27 10 7 -8 -17z" fill="#3e1000"/><path d="M1921 869l8 3 11 6 -8 4z" fill="#3b6500"/><path d="M1767 703l9 -38 9 84 -8 7z" fill="#700400"/><path d="M1650 709l9 -13 11 29 -9 2z" fill="#7d0502"/><path d="M1731 745l9 12 10 -49 -8 -22z" fill="#170100"/><path d="M1966 889l9 -15 11 17 -8 10z" fill="#4db61b"/><path d="M1749 708l8 0 11 -5 -9 23z" fill="#6b0200"/><path d="M1948 890l9 -13 11 11 -9 26z" fill="#51cd27"/><path d="M1795 828l9 -18 11 1 -9 19z" fill="#989904"/><path d="M1499 805l10 -9 10 -2 -10 9z" fill="#645400"/><path d="M2011 916l8 13 12 -30 -7 -1z" fill="#001402"/><path d="M1677 728l9 3 11 -5 -9 22z" fill="#660c00"/><path d="M1768 772l9 -19 10 51 -9 7z" fill="#8b6202"/><path d="M1849 780l8 28 11 7 -8 -27z" fill="#1a1500"/><path d="M1517 795l9 -12 11 10 -10 -1z" fill="#614900"/><path d="M1544 784l8 -83 10 1 -9 62z" fill="#7b1500"/><path d="M1822 781l8 -51 11 39 -9 9z" fill="#803c00"/><path d="M1904 842l7 15 12 14 -8 -5z" fill="#374c00"/><path d="M1632 697l9 -1 11 15 -9 -7z" fill="#6d0000"/><path d="M1579 727l9 -20 10 9 -9 18z" fill="#990e08"/><path d="M1535 794l9 -10 10 -22 -9 15z" fill="#684100"/><path d="M1552 703l9 -51 10 40 -10 13z" fill="#b61b1b"/><path d="M1994 900l7 27 12 -11 -7 -18z" fill="#001402"/><path d="M1759 724l9 -21 9 53 -8 18z" fill="#9e240a"/><path d="M1777 810l9 -8 11 26 -9 1z" fill="#858301"/><path d="M1596 717l10 -19 10 15 -9 6z" fill="#780200"/><path d="M1614 713l9 -10 11 -7 -9 5z" fill="#5b0000"/><path d="M1931 880l8 -3 12 13 -9 11z" fill="#368406"/><path d="M2048 885l7 -4 12 5 -7 3z" fill="#275c00"/><path d="M2030 901l7 -9 13 -8 -8 5z" fill="#0e3200"/><path d="M1659 726l10 -3 10 5 -9 4z" fill="#630600"/><path d="M1561 703l9 -12 10 36 -9 18z" fill="#be1f1b"/><path d="M1876 809l8 21 11 -4 -7 -36z" fill="#191800"/><path d="M1813 812l9 -33 11 -3 -9 25z" fill="#725700"/><path d="M1705 744l9 16 11 -21 -9 -2z" fill="#5d1600"/><path d="M1958 914l9 -26 11 12 -9 35z" fill="#0f9917"/><path d="M1687 746l9 -20 11 17 -10 39z" fill="#be4717"/><path d="M1976 901l9 -11 11 11 -8 4z" fill="#127001"/><path d="M1941 899l8 -10 11 25 -8 18z" fill="#0b8b10"/><path d="M1831 777l9 -10 11 15 -8 -3z" fill="#704100"/><path d="M1914 864l8 5 11 13 -8 1z" fill="#436900"/><path d="M1723 741l9 4 10 -59 -9 52z" fill="#500400"/><path d="M1751 746l8 -22 10 50 -8 18z" fill="#8f3a04"/><path d="M1642 702l9 7 10 18 -8 -15z" fill="#440100"/><path d="M1859 788l8 28 11 -6 -7 -3z" fill="#1b1800"/><path d="M1760 791l9 -19 10 39 -9 5z" fill="#7e6500"/><path d="M1553 764l8 -62 11 42 -10 22z" fill="#962405"/><path d="M1570 744l10 -19 10 7 -10 12z" fill="#861201"/><path d="M1741 686l9 22 10 17 -9 23z" fill="#b41915"/><path d="M1787 827l8 0 12 2 -8 0z" fill="#616600"/><path d="M1951 931l8 -19 11 21 -9 46z" fill="#24bb82"/><path d="M1669 730l9 -3 11 20 -9 7z" fill="#701300"/><path d="M1805 830l9 -20 11 -11 -9 23z" fill="#696400"/><path d="M1508 803l10 -8 10 -4 -10 -3z" fill="#322600"/><path d="M1588 734l9 -18 11 2 -10 -9z" fill="#3d0200"/><path d="M1888 790l6 36 11 18 -7 -6z" fill="#494b00"/><path d="M1526 792l10 2 10 -16 -10 -8z" fill="#1e1400"/><path d="M2058 888l8 -3 12 4 -7 4z" fill="#276300"/><path d="M1697 782l9 -39 10 -6 -9 49z" fill="#af500e"/><path d="M1924 882l8 -2 11 20 -8 4z" fill="#287302"/><path d="M1679 752l9 -7 10 37 -9 4z" fill="#884003"/><path d="M1606 719l9 -5 11 -12 -10 -7z" fill="#220000"/><path d="M1969 934l8 -35 12 4 -9 29z" fill="#006913"/><path d="M1624 703l9 -7 11 7 -10 -13z" fill="#260000"/><path d="M2005 899l7 18 13 -19 -8 -5z" fill="#031500"/><path d="M2041 889l7 -5 12 4 -7 5z" fill="#235800"/><path d="M2023 899l7 2 13 -12 -8 3z" fill="#0b2900"/><path d="M1769 815l9 -6 11 19 -8 -21z" fill="#423e00"/><path d="M1544 779l9 -17 10 2 -9 6z" fill="#492300"/><path d="M1897 836l8 6 10 24 -8 3z" fill="#536900"/><path d="M1714 737l9 2 11 -3 -9 21z" fill="#992106"/><path d="M1841 778l8 3 12 9 -8 -12z" fill="#372200"/><path d="M1987 904l7 -2 13 -3 -8 -2z" fill="#0a3c00"/><path d="M1651 712l9 15 11 5 -9 -16z" fill="#2c0200"/><path d="M1732 737l10 -51 10 61 -9 21z" fill="#d83425"/><path d="M1562 766l9 -23 10 -1 -9 18z" fill="#5d1b00"/><path d="M1824 801l8 -25 11 1 -8 11z" fill="#654300"/><path d="M1742 766l9 -21 10 47 -8 -8z" fill="#8f4b04"/><path d="M1934 902l8 -4 10 34 -7 -4z" fill="#00630c"/><path d="M1961 979l8 -47 12 -2 -8 12z" fill="#00523c"/><path d="M1688 785l9 -5 11 4 -9 13z" fill="#ce941c"/><path d="M1869 806l8 5 12 -21 -9 28z" fill="#706000"/><path d="M1906 867l8 -3 12 19 -9 5z" fill="#4d7501"/><path d="M1797 829l8 1 12 -10 -8 9z" fill="#5f6100"/><path d="M1944 926l8 4 9 49 -6 -38z" fill="#004a32"/><path d="M1752 782l8 8 11 26 -8 -30z" fill="#4a3800"/><path d="M2069 892l7 -4 13 4 -7 5z" fill="#256300"/><path d="M1724 755l9 -20 11 32 -9 16z" fill="#da6623"/><path d="M1707 786l8 -49 11 18 -9 31z" fill="#a34b08"/><path d="M1499 810l10 -7 10 -15 -10 -3z" fill="#191400"/><path d="M1852 778l8 10 11 19 -9 -2z" fill="#4b3800"/><path d="M1780 807l8 22 11 0 -8 -13z" fill="#2c2b00"/><path d="M2051 892l8 -5 12 5 -7 6z" fill="#276700"/><path d="M1661 716l9 14 10 24 -8 -20z" fill="#340300"/><path d="M1815 822l9 -23 11 -13 -9 32z" fill="#5a4d00"/><path d="M1580 744l9 -10 10 -25 -10 -18z" fill="#170100"/><path d="M1879 816l9 -26 10 48 -8 11z" fill="#919004"/><path d="M1633 690l9 14 11 9 -9 -31z" fill="#160000"/><path d="M1916 886l9 -5 10 23 -8 3z" fill="#287302"/><path d="M2033 893l8 -5 12 4 -7 6z" fill="#225b00"/><path d="M1980 932l8 -29 11 -6 -7 14z" fill="#004900"/><path d="M1517 790l10 2 10 -22 -11 -14z" fill="#190e00"/><path d="M1889 847l8 -11 11 33 -8 7z" fill="#657f02"/><path d="M2016 894l7 6 13 -8 -7 5z" fill="#143e00"/><path d="M1553 770l9 -4 11 -8 -10 -6z" fill="#180900"/><path d="M1535 772l10 7 10 -10 -10 -22z" fill="#180b00"/><path d="M1671 733l8 19 10 34 -8 -18z" fill="#431700"/><path d="M1734 782l9 -17 11 19 -9 0z" fill="#ab660d"/><path d="M1698 797l9 -14 11 2 -9 15z" fill="#ba8711"/><path d="M1998 898l7 2 13 -6 -7 2z" fill="#123a00"/><path d="M1597 711l10 8 10 -23 -10 -30z" fill="#160000"/><path d="M1615 697l10 6 10 -12 -10 -21z" fill="#150000"/><path d="M1862 803l8 2 11 12 -9 15z" fill="#968905"/><path d="M1716 786l9 -32 11 28 -9 15z" fill="#d1831d"/><path d="M1954 942l7 37 13 -37 -8 -11z" fill="#00130e"/><path d="M1762 786l8 30 11 -7 -8 -14z" fill="#201a00"/><path d="M1926 905l8 -3 11 26 -7 -8z" fill="#005803"/><path d="M1899 874l8 -7 11 21 -8 6z" fill="#568405"/><path d="M1834 788l8 -9 11 1 -8 -26z" fill="#723a00"/><path d="M1807 829l9 -9 11 -4 -9 16z" fill="#777600"/><path d="M1680 766l8 19 11 12 -8 -6z" fill="#5d3900"/><path d="M2080 896l7 -5 13 4 -8 5z" fill="#246400"/><path d="M1789 816l9 13 11 0 -9 2z" fill="#575700"/><path d="M1871 830l9 -14 10 32 -8 11z" fill="#9fac0f"/><path d="M2062 897l8 -6 12 5 -8 6z" fill="#246800"/><path d="M1571 759l9 -15 9 -53 -8 21z" fill="#170100"/><path d="M1972 944l8 -12 12 -22 -8 7z" fill="#001b06"/><path d="M2044 897l8 -6 12 6 -8 6z" fill="#246b00"/><path d="M1643 682l9 31 10 5 -9 -44z" fill="#150000"/><path d="M1490 810l10 0 9 -25 -10 -9z" fill="#191200"/><path d="M1707 799l10 -15 11 12 -10 22z" fill="#ae880b"/><path d="M1909 892l8 -6 11 20 -8 4z" fill="#2c8105"/><path d="M1881 857l9 -11 10 29 -8 7z" fill="#6a8c06"/><path d="M2026 896l8 -4 12 5 -7 6z" fill="#236500"/><path d="M1726 797l9 -16 10 1 -9 17z" fill="#916002"/><path d="M1743 783l9 1 12 3 -9 -12z" fill="#563200"/><path d="M1937 918l7 8 11 17 -7 -22z" fill="#001d07"/><path d="M1845 754l7 24 11 27 -8 -1z" fill="#7f4e01"/><path d="M1826 818l8 -32 11 -32 -8 53z" fill="#7a5300"/><path d="M2008 896l8 -3 13 3 -8 6z" fill="#205a00"/><path d="M1991 912l7 -15 13 -1 -8 6z" fill="#134700"/><path d="M1689 789l9 8 11 3 -8 -6z" fill="#6b4c00"/><path d="M1772 795l7 13 12 10 -8 -5z" fill="#3c3300"/><path d="M1854 802l8 1 11 29 -9 9z" fill="#8a8102"/><path d="M1508 787l10 3 9 -34 -10 -12z" fill="#180b00"/><path d="M1891 880l8 -7 12 20 -9 11z" fill="#528c08"/><path d="M1799 830l9 -3 11 4 -9 7z" fill="#787b00"/><path d="M1863 839l9 -9 11 29 -9 9z" fill="#809306"/><path d="M1543 748l11 22 10 -16 -10 -32z" fill="#180500"/><path d="M1624 671l10 21 10 -8 -9 -29z" fill="#140000"/><path d="M1817 831l9 -15 11 -11 -9 28z" fill="#8b8301"/><path d="M2073 901l7 -6 13 4 -8 6z" fill="#216800"/><path d="M1919 908l8 -3 11 15 -7 -5z" fill="#075700"/><path d="M1653 674l9 44 10 17 -9 -43z" fill="#160000"/><path d="M1562 755l10 5 9 -48 -9 3z" fill="#170100"/><path d="M2055 902l8 -6 12 4 -8 7z" fill="#206a00"/><path d="M1526 758l10 14 10 -24 -11 -35z" fill="#180400"/><path d="M1718 817l8 -22 11 2 -8 7z" fill="#785f00"/><path d="M1662 692l9 41 10 35 -9 -18z" fill="#370300"/><path d="M2037 902l8 -6 12 6 -8 6z" fill="#206c00"/><path d="M1589 693l9 18 10 -45 -10 -38z" fill="#140000"/><path d="M1965 933l7 11 13 -27 -8 -2z" fill="#001404"/><path d="M1782 811l8 5 11 15 -8 -5z" fill="#554f00"/><path d="M1754 776l8 10 11 11 -8 -7z" fill="#452a00"/><path d="M1606 667l10 30 10 -25 -9 -40z" fill="#130000"/><path d="M1873 866l9 -9 11 24 -9 7z" fill="#608504"/><path d="M1901 902l8 -10 12 17 -9 9z" fill="#278a09"/><path d="M1672 748l9 17 10 26 -9 -9z" fill="#461f00"/><path d="M1699 794l9 4 11 19 -9 -7z" fill="#5d4a00"/><path d="M1836 807l9 -53 10 50 -8 18z" fill="#efb62b"/><path d="M1947 922l8 21 12 -10 -8 -16z" fill="#001405"/><path d="M2019 900l8 -5 12 7 -8 5z" fill="#226a00"/><path d="M1462 799l11 15 10 -15 -11 -13z" fill="#191300"/><path d="M1736 798l8 -16 11 -6 -8 14z" fill="#623b00"/><path d="M1444 804l11 14 9 -20 -10 -5z" fill="#191400"/><path d="M1983 919l7 -7 13 -11 -7 4z" fill="#072e00"/><path d="M1427 825l10 0 9 -22 -11 -25z" fill="#1a1500"/><path d="M1846 821l9 -19 10 38 -9 11z" fill="#a0a009"/><path d="M2001 902l8 -7 12 6 -7 5z" fill="#205f00"/><path d="M1481 800l10 10 9 -34 -10 -17z" fill="#190f00"/><path d="M1809 837l9 -7 11 1 -9 15z" fill="#929805"/><path d="M1883 887l9 -8 11 24 -9 8z" fill="#397903"/><path d="M1827 832l9 -27 12 16 -10 22z" fill="#c5be15"/><path d="M1855 850l9 -12 11 29 -9 7z" fill="#778f06"/><path d="M1929 913l8 7 12 3 -8 -11z" fill="#002400"/><path d="M1764 788l8 7 11 17 -9 -4z" fill="#4e3a00"/><path d="M1681 781l9 10 11 4 -9 -18z" fill="#291800"/><path d="M2066 906l8 -6 12 4 -8 6z" fill="#1d6900"/><path d="M1791 824l8 5 12 9 -8 -5z" fill="#535300"/><path d="M1499 778l10 9 9 -43 -10 -9z" fill="#180700"/><path d="M2048 907l8 -6 12 5 -8 6z" fill="#1b6a00"/><path d="M1911 917l8 -9 12 6 -7 -4z" fill="#0a5400"/><path d="M1709 808l9 10 11 -15 -9 18z" fill="#2d2600"/><path d="M1634 655l9 29 11 -8 -10 -44z" fill="#130000"/><path d="M2030 906l8 -5 12 6 -8 6z" fill="#1b6a00"/><path d="M1893 909l9 -7 11 15 -8 3z" fill="#0f6700"/><path d="M1865 872l9 -6 11 22 -8 1z" fill="#547a02"/><path d="M1837 842l9 -22 11 31 -9 11z" fill="#cbda24"/><path d="M1727 805l9 -6 11 -10 -9 -5z" fill="#3a2600"/><path d="M1418 844l9 -19 8 -46 -8 51z" fill="#484000"/><path d="M1580 715l9 -21 9 -66 -8 24z" fill="#130000"/><path d="M2012 904l8 -5 12 7 -8 5z" fill="#1e6900"/><path d="M1745 790l9 -15 11 15 -8 -10z" fill="#4e2b00"/><path d="M1819 845l9 -14 12 11 -10 15z" fill="#c5d320"/><path d="M1552 724l11 31 10 -39 -10 -19z" fill="#170000"/><path d="M1773 806l9 5 11 15 -8 -14z" fill="#3f3600"/><path d="M1958 918l7 15 13 -17 -8 -3z" fill="#001400"/><path d="M1976 917l8 2 12 -13 -8 3z" fill="#062900"/><path d="M1616 633l9 40 11 -17 -10 -12z" fill="#110000"/><path d="M1994 906l8 -5 12 3 -8 6z" fill="#1a5700"/><path d="M1517 746l9 12 10 -45 -10 -24z" fill="#170100"/><path d="M1654 693l9 -1 10 58 -9 -8z" fill="#580000"/><path d="M1663 740l9 7 10 35 -8 -16z" fill="#431200"/><path d="M1453 795l10 5 10 -14 -10 -1z" fill="#1f1400"/><path d="M1801 832l9 4 11 10 -8 -4z" fill="#525500"/><path d="M1847 860l9 -11 11 24 -8 5z" fill="#7e9e0c"/><path d="M1940 913l8 10 12 -5 -8 -5z" fill="#021d00"/><path d="M1534 714l11 35 9 -25 -10 -46z" fill="#170000"/><path d="M1876 887l8 -1 11 25 -8 -8z" fill="#2f6000"/><path d="M1435 779l10 26 10 -11 -10 11z" fill="#513600"/><path d="M1644 632l9 44 10 19 -9 0z" fill="#3d0000"/><path d="M1691 778l9 18 10 14 -8 -63z" fill="#190d00"/><path d="M2059 911l7 -6 13 4 -8 6z" fill="#176800"/><path d="M1471 788l11 12 9 -41 -10 -7z" fill="#180b00"/><path d="M1922 911l7 3 13 0 -8 -3z" fill="#093300"/><path d="M1829 855l9 -14 11 20 -9 12z" fill="#b2cd20"/><path d="M2041 912l8 -6 12 5 -8 6z" fill="#166700"/><path d="M1571 718l10 -3 9 -63 -9 14z" fill="#140000"/><path d="M1903 920l8 -3 13 -6 -8 -2z" fill="#093d00"/><path d="M1756 780l8 8 11 20 -8 -14z" fill="#362200"/><path d="M2023 910l8 -5 12 7 -8 4z" fill="#176700"/><path d="M1783 812l9 14 11 7 -8 -23z" fill="#1a1700"/><path d="M1857 876l9 -4 11 16 -8 -2z" fill="#4c6c00"/><path d="M1719 821l9 -16 11 -21 -9 2z" fill="#191100"/><path d="M1673 764l9 18 11 -3 -10 -21z" fill="#180900"/><path d="M1886 901l7 8 12 11 -7 -11z" fill="#104000"/><path d="M1597 629l10 39 10 -34 -10 -77z" fill="#0d0000"/><path d="M1489 761l10 17 10 -43 -10 -15z" fill="#180300"/><path d="M1812 840l8 4 11 12 -8 1z" fill="#5b6500"/><path d="M2005 908l8 -4 12 6 -8 5z" fill="#1c6800"/><path d="M1426 830l9 -52 10 25 -9 36z" fill="#917701"/><path d="M1625 645l10 12 10 -24 -9 40z" fill="#4d0000"/><path d="M1987 910l7 -5 13 3 -8 6z" fill="#185a00"/><path d="M1737 785l9 6 11 -10 -9 -11z" fill="#1f0f00"/><path d="M1968 914l8 3 13 -8 -8 8z" fill="#0c4400"/><path d="M1444 804l10 -11 9 -8 -9 28z" fill="#8b5f01"/><path d="M1839 872l9 -12 12 17 -9 6z" fill="#7da20d"/><path d="M1645 711l9 -18 10 49 -9 1z" fill="#7f0302"/><path d="M1950 914l8 5 13 -5 -8 6z" fill="#094100"/><path d="M1701 747l9 63 10 11 -8 -48z" fill="#190e00"/><path d="M1635 671l9 -39 11 63 -9 18z" fill="#7b0707"/><path d="M1766 793l8 15 11 6 -8 -18z" fill="#1e1600"/><path d="M1507 737l10 9 9 -57 -9 18z" fill="#170000"/><path d="M2052 916l7 -6 13 4 -8 6z" fill="#136500"/><path d="M1932 911l8 2 12 1 -8 5z" fill="#0e4900"/><path d="M1462 787l10 1 9 -35 -9 35z" fill="#3d1b00"/><path d="M1868 884l8 3 11 16 -8 -6z" fill="#2f4a00"/><path d="M1822 855l8 -1 11 19 -8 5z" fill="#596e00"/><path d="M1654 741l10 -1 10 26 -9 -25z" fill="#470700"/><path d="M2034 915l7 -5 13 6 -8 4z" fill="#126400"/><path d="M1914 910l8 1 12 1 -7 1z" fill="#124300"/><path d="M1794 810l8 23 11 9 -8 -31z" fill="#1a1700"/><path d="M1544 678l10 47 10 -27 -11 -18z" fill="#150000"/><path d="M1626 702l10 -31 11 42 -10 28z" fill="#9c0f0f"/><path d="M2015 914l8 -5 13 6 -8 4z" fill="#166900"/><path d="M1617 641l9 3 11 29 -10 31z" fill="#6c0303"/><path d="M1562 699l10 19 9 -52 -9 -8z" fill="#140000"/><path d="M1896 909l8 11 12 -10 -8 -1z" fill="#0e3500"/><path d="M1607 557l10 78 10 11 -10 -3z" fill="#240000"/><path d="M1997 913l8 -6 13 7 -8 6z" fill="#1b6e00"/><path d="M1850 882l8 -6 12 9 -9 -12z" fill="#486300"/><path d="M1636 741l10 -30 10 31 -9 9z" fill="#e1322b"/><path d="M1453 813l10 -28 9 1 -9 40z" fill="#8b6101"/><path d="M1682 759l10 21 10 -33 -8 14z" fill="#180600"/><path d="M1747 771l8 10 12 14 -9 -20z" fill="#220f00"/><path d="M1979 916l8 -7 13 4 -9 8z" fill="#186900"/><path d="M1831 877l9 -6 12 11 -9 11z" fill="#4b6900"/><path d="M1711 773l9 48 11 -35 -9 1z" fill="#1d1100"/><path d="M1589 654l9 -24 10 -73 -9 67z" fill="#200000"/><path d="M1961 919l8 -6 12 2 -8 10z" fill="#106500"/><path d="M1617 733l10 -31 11 39 -10 27z" fill="#ae1913"/><path d="M1878 896l8 6 12 8 -8 -6z" fill="#1d3d00"/><path d="M1525 691l10 24 10 -36 -11 -56z" fill="#130000"/><path d="M1729 788l9 -2 11 -15 -9 -4z" fill="#180a00"/><path d="M1943 917l8 -4 12 6 -8 8z" fill="#0f6600"/><path d="M1480 755l10 6 9 -41 -10 -17z" fill="#170100"/><path d="M1775 797l9 17 11 -2 -8 -29z" fill="#191100"/><path d="M1608 667l9 -26 11 63 -9 31z" fill="#6e0202"/><path d="M1804 811l8 31 11 15 -8 -29z" fill="#191900"/><path d="M1498 721l10 16 9 -30 -9 25z" fill="#350000"/><path d="M1664 742l10 24 10 -6 -9 -24z" fill="#180300"/><path d="M2044 919l8 -5 13 5 -8 5z" fill="#0f6300"/><path d="M1925 912l8 -1 12 7 -8 4z" fill="#176600"/><path d="M1580 668l10 -14 9 -32 -9 17z" fill="#290000"/><path d="M2026 918l8 -4 13 6 -8 4z" fill="#126900"/><path d="M1628 767l9 -28 11 10 -10 18z" fill="#991f07"/><path d="M1861 873l7 11 12 13 -8 -5z" fill="#304500"/><path d="M2008 919l8 -6 13 5 -9 10z" fill="#167802"/><path d="M1907 909l8 0 12 3 -9 7z" fill="#1c5a00"/><path d="M1758 775l8 20 11 3 -8 -3z" fill="#190d00"/><path d="M1646 751l8 -10 12 2 -10 -10z" fill="#530400"/><path d="M1814 828l8 29 11 21 -7 -26z" fill="#262a00"/><path d="M1463 825l9 -39 9 -6 -9 52z" fill="#886000"/><path d="M1609 743l10 -10 10 34 -9 -5z" fill="#7b0e01"/><path d="M1990 920l8 -8 12 7 -8 10z" fill="#187f04"/><path d="M1692 761l10 -14 10 28 -9 1z" fill="#531600"/><path d="M1598 623l9 -66 11 86 -9 26z" fill="#610e0e"/><path d="M1471 788l10 -36 8 -49 -8 80z" fill="#621100"/><path d="M1600 683l9 -16 10 68 -9 10z" fill="#710101"/><path d="M1552 682l11 17 9 -41 -9 25z" fill="#300000"/><path d="M1888 903l8 7 13 0 -8 1z" fill="#1f4d00"/><path d="M1972 924l8 -9 12 5 -8 9z" fill="#117602"/><path d="M1842 893l8 -10 12 -9 -8 0z" fill="#364a00"/><path d="M1953 926l9 -8 12 6 -9 9z" fill="#0a7402"/><path d="M1516 709l10 -18 9 -68 -9 88z" fill="#5b0000"/><path d="M1674 736l9 24 11 2 -9 6z" fill="#380900"/><path d="M1589 640l10 -18 10 47 -9 16z" fill="#700909"/><path d="M1935 921l9 -5 12 10 -9 7z" fill="#0f7903"/><path d="M1534 623l10 57 10 2 -9 29z" fill="#730404"/><path d="M1721 789l9 -1 11 -21 -9 8z" fill="#371700"/><path d="M1824 852l8 26 11 15 -7 -17z" fill="#222c00"/><path d="M1507 732l10 -25 10 2 -10 42z" fill="#910605"/><path d="M1739 767l8 5 12 5 -9 -10z" fill="#2c0e00"/><path d="M1871 890l7 5 12 9 -8 1z" fill="#345300"/><path d="M1786 783l8 29 11 1 -8 -36z" fill="#190f00"/><path d="M1702 774l9 -1 11 16 -9 3z" fill="#612a00"/><path d="M2037 923l8 -5 13 5 -8 5z" fill="#0e6900"/><path d="M1489 703l10 17 10 11 -10 17z" fill="#990909"/><path d="M1917 917l9 -6 11 10 -8 10z" fill="#1a7903"/><path d="M1618 761l10 7 11 -1 -10 -8z" fill="#651700"/><path d="M2019 927l8 -10 12 6 -8 12z" fill="#0f7e04"/><path d="M1544 710l9 -30 10 0 -9 48z" fill="#9b0f0f"/><path d="M2001 928l8 -10 12 8 -9 18z" fill="#17a214"/><path d="M1637 767l9 -18 11 -16 -9 25z" fill="#500800"/><path d="M1472 832l9 -52 10 14 -9 46z" fill="#8e6b01"/><path d="M1571 661l10 7 10 -28 -10 -42z" fill="#270000"/><path d="M1516 750l10 -41 11 48 -10 19z" fill="#ad1a11"/><path d="M1535 757l10 -49 10 18 -9 46z" fill="#a3120c"/><path d="M1525 711l9 -88 11 87 -9 47z" fill="#a11313"/><path d="M1767 794l9 4 12 -14 -9 -14z" fill="#190c00"/><path d="M1899 910l8 -2 12 10 -8 5z" fill="#226c00"/><path d="M1982 928l9 -9 12 9 -9 11z" fill="#108d0b"/><path d="M1498 746l10 -16 11 20 -10 25z" fill="#bd2418"/><path d="M1480 783l9 -80 11 43 -10 50z" fill="#8c1702"/><path d="M1684 766l9 -6 11 15 -9 2z" fill="#651d00"/><path d="M1591 688l9 -5 10 62 -9 -5z" fill="#710101"/><path d="M1964 932l8 -9 13 5 -9 9z" fill="#057803"/><path d="M1852 874l9 -1 11 19 -8 -4z" fill="#415700"/><path d="M1655 734l10 10 11 -6 -10 -34z" fill="#260000"/><path d="M1946 932l8 -8 12 7 -8 9z" fill="#047a05"/><path d="M1526 775l10 -20 11 15 -10 24z" fill="#c9531b"/><path d="M1600 738l10 4 10 20 -9 -22z" fill="#740701"/><path d="M1881 903l8 0 12 8 -9 4z" fill="#306400"/><path d="M1834 875l8 18 12 -19 -8 3z" fill="#354600"/><path d="M1749 767l8 9 12 19 -9 -29z" fill="#180900"/><path d="M1490 796l9 -50 10 27 -9 42z" fill="#aa4f0c"/><path d="M1927 929l9 -9 12 12 -9 9z" fill="#0a8307"/><path d="M1797 777l8 36 10 17 -8 -44z" fill="#191000"/><path d="M1507 773l10 -24 11 26 -10 22z" fill="#c24f18"/><path d="M1712 791l9 -1 11 -14 -8 10z" fill="#5a2900"/><path d="M1481 840l9 -46 10 19 -9 38z" fill="#9f8704"/><path d="M2011 943l9 -17 12 7 -9 25z" fill="#0f9722"/><path d="M1554 728l9 -48 10 3 -9 59z" fill="#790101"/><path d="M1581 598l9 41 10 46 -9 5z" fill="#5e0303"/><path d="M1545 772l9 -46 11 14 -10 35z" fill="#880e02"/><path d="M2030 934l8 -12 12 5 -8 10z" fill="#087802"/><path d="M1993 937l9 -10 11 16 -8 15z" fill="#15a02c"/><path d="M1563 682l9 -21 9 -63 -9 87z" fill="#570000"/><path d="M1628 760l10 7 11 -11 -10 18z" fill="#791a00"/><path d="M1731 777l9 -10 11 1 -9 0z" fill="#2e0d00"/><path d="M1909 922l9 -6 12 14 -9 6z" fill="#137a04"/><path d="M1694 775l9 -1 11 17 -9 -1z" fill="#542300"/><path d="M1863 886l8 4 12 14 -9 2z" fill="#446600"/><path d="M1499 815l9 -43 11 23 -10 37z" fill="#b0750d"/><path d="M1807 786l8 44 10 24 -7 -32z" fill="#1b1600"/><path d="M1581 719l10 -31 11 52 -10 19z" fill="#900808"/><path d="M1975 936l8 -9 12 11 -8 6z" fill="#06810d"/><path d="M1517 797l10 -23 11 19 -10 11z" fill="#ad5d0c"/><path d="M1666 704l8 34 11 30 -9 -36z" fill="#4e0200"/><path d="M1610 740l9 22 11 -2 -10 1z" fill="#710c00"/><path d="M1891 913l9 -4 11 14 -8 4z" fill="#246f01"/><path d="M1536 794l10 -24 10 3 -10 15z" fill="#792f00"/><path d="M1956 939l9 -9 12 6 -8 9z" fill="#02740a"/><path d="M1563 742l9 -59 11 37 -9 36z" fill="#990909"/><path d="M1647 758l9 -25 11 -29 -9 49z" fill="#5f0200"/><path d="M2004 957l8 -15 12 14 -9 33z" fill="#1ba962"/><path d="M1817 821l7 33 11 22 -8 -19z" fill="#2d2f00"/><path d="M1938 940l9 -9 12 8 -9 10z" fill="#047b10"/><path d="M1572 685l9 -87 11 92 -10 31z" fill="#8c0f0f"/><path d="M1778 771l9 14 11 -7 -9 -15z" fill="#180700"/><path d="M1844 878l9 -4 12 13 -9 5z" fill="#577300"/><path d="M1591 758l10 -20 10 2 -9 36z" fill="#d03022"/><path d="M2022 957l9 -25 12 3 -9 22z" fill="#027419"/><path d="M1920 935l8 -7 12 13 -8 6z" fill="#037609"/><path d="M1873 904l8 -1 12 11 -8 3z" fill="#386d00"/><path d="M1759 766l9 29 12 -24 -9 -12z" fill="#180700"/><path d="M1555 775l9 -35 11 15 -10 9z" fill="#801100"/><path d="M1572 755l10 -36 11 40 -10 11z" fill="#b82117"/><path d="M1676 732l9 36 10 9 -9 -29z" fill="#4c0800"/><path d="M1703 789l10 3 11 -6 -9 5z" fill="#452000"/><path d="M1638 773l10 -17 10 -5 -9 37z" fill="#9e2908"/><path d="M1986 943l8 -6 11 21 -7 -1z" fill="#026d1c"/><path d="M1827 855l7 21 12 3 -8 2z" fill="#485700"/><path d="M1722 787l8 -10 13 -9 -9 5z" fill="#2e0f00"/><path d="M1620 759l9 0 11 14 -10 6z" fill="#922506"/><path d="M1902 925l8 -4 12 15 -9 2z" fill="#0d6c01"/><path d="M1855 890l9 -5 11 21 -9 2z" fill="#4f7501"/><path d="M1741 770l9 -1 11 -1 -9 -33z" fill="#180300"/><path d="M1582 769l10 -12 11 18 -10 16z" fill="#952e07"/><path d="M1967 944l9 -9 12 8 -8 5z" fill="#01700e"/><path d="M1601 775l10 -35 10 19 -9 26z" fill="#d84624"/><path d="M1527 803l10 -9 10 -7 -10 -6z" fill="#4d2400"/><path d="M2014 989l9 -34 12 0 -7 13z" fill="#005c34"/><path d="M1949 948l8 -10 12 6 -8 9z" fill="#016d13"/><path d="M1686 748l8 29 11 13 -8 -18z" fill="#401000"/><path d="M1657 753l9 -49 11 28 -10 28z" fill="#a8120f"/><path d="M1883 916l9 -4 12 14 -9 2z" fill="#236a00"/><path d="M1930 945l9 -6 12 9 -9 6z" fill="#016b14"/><path d="M1997 955l7 1 11 33 -6 -24z" fill="#004f2b"/><path d="M1788 763l9 16 11 9 -8 -32z" fill="#220800"/><path d="M1836 879l9 -2 12 14 -9 7z" fill="#5c7a01"/><path d="M1629 778l10 -7 11 16 -10 11z" fill="#b75314"/><path d="M1648 787l10 -36 10 7 -9 49z" fill="#983105"/><path d="M1546 788l9 -13 10 -13 -10 -13z" fill="#190500"/><path d="M1563 764l10 -10 11 16 -10 -25z" fill="#520900"/><path d="M1912 937l9 -3 11 12 -8 1z" fill="#006106"/><path d="M1865 907l9 -3 11 13 -8 2z" fill="#396b00"/><path d="M1592 790l10 -17 11 10 -10 19z" fill="#b0520f"/><path d="M1770 759l8 13 12 -8 -9 5z" fill="#3a0b00"/><path d="M1714 791l9 -4 11 -14 -9 8z" fill="#2f1100"/><path d="M1611 784l9 -26 11 21 -10 2z" fill="#c54b1a"/><path d="M1799 756l8 30 11 37 -9 -13z" fill="#4a2300"/><path d="M1667 760l9 -28 11 17 -10 21z" fill="#d72f26"/><path d="M1809 808l8 13 11 36 -9 -7z" fill="#594f00"/><path d="M1518 834l10 -33 9 -20 -9 26z" fill="#331f00"/><path d="M1978 947l8 -5 12 15 -7 -4z" fill="#005b12"/><path d="M1639 796l10 -11 11 21 -10 17z" fill="#cf841e"/><path d="M1695 771l9 19 11 1 -9 -17z" fill="#220c00"/><path d="M1894 926l8 -2 12 14 -8 -1z" fill="#0e5f00"/><path d="M1959 952l9 -9 12 4 -8 8z" fill="#006312"/><path d="M1752 735l8 33 12 -8 -10 9z" fill="#410600"/><path d="M1847 897l9 -7 11 18 -9 1z" fill="#4d7301"/><path d="M1819 848l8 7 11 26 -9 -3z" fill="#5a6400"/><path d="M1941 953l8 -6 13 5 -9 6z" fill="#005f17"/><path d="M1658 807l9 -49 11 9 -9 49z" fill="#853601"/><path d="M1733 775l9 -5 11 -35 -9 21z" fill="#400600"/><path d="M2007 965l8 24 13 -22 -8 -8z" fill="#001d10"/><path d="M1573 745l10 25 10 21 -9 -25z" fill="#390b00"/><path d="M1923 946l8 -1 12 8 -8 1z" fill="#00550f"/><path d="M1875 917l9 -2 12 12 -9 1z" fill="#236000"/><path d="M1620 779l10 -2 11 21 -10 -7z" fill="#803201"/><path d="M1829 876l8 3 11 19 -8 -1z" fill="#587300"/><path d="M1649 822l10 -17 11 9 -10 19z" fill="#946d02"/><path d="M1676 769l10 -21 11 25 -9 -6z" fill="#741000"/><path d="M1602 801l9 -18 11 -4 -10 16z" fill="#783200"/><path d="M1780 768l9 -5 11 -7 -9 29z" fill="#851a02"/><path d="M1989 952l7 4 13 10 -7 -12z" fill="#002d0d"/><path d="M1536 783l10 5 10 -39 -10 -19z" fill="#180300"/><path d="M1904 936l9 0 12 11 -8 -3z" fill="#014f00"/><path d="M1583 766l10 25 10 11 -9 -5z" fill="#5d2500"/><path d="M1857 908l9 -2 11 12 -8 -2z" fill="#355b00"/><path d="M1761 768l9 -9 12 9 -10 10z" fill="#8a1c04"/><path d="M1705 774l9 17 12 -10 -9 3z" fill="#2a0e00"/><path d="M1970 954l9 -8 12 6 -8 3z" fill="#00550f"/><path d="M1554 751l10 13 11 -18 -10 -29z" fill="#170100"/><path d="M1790 783l9 -27 11 54 -9 8z" fill="#833902"/><path d="M1724 782l9 -7 11 -19 -9 11z" fill="#601300"/><path d="M1952 957l8 -6 13 2 -9 7z" fill="#005815"/><path d="M1800 816l9 -8 11 42 -9 1z" fill="#746000"/><path d="M1630 789l10 7 10 27 -8 -21z" fill="#593100"/><path d="M1742 757l10 -22 11 33 -9 11z" fill="#901005"/><path d="M1886 926l8 0 12 11 -8 -2z" fill="#135400"/><path d="M1839 895l8 1 12 13 -9 -2z" fill="#4b6d00"/><path d="M1933 952l8 0 13 5 -8 0z" fill="#004a10"/><path d="M1668 816l9 -49 11 -2 -9 14z" fill="#501a00"/><path d="M1810 849l9 -2 11 31 -9 1z" fill="#666e00"/><path d="M1771 776l10 -9 11 17 -9 13z" fill="#ba4816"/><path d="M1868 915l8 2 12 10 -8 -2z" fill="#224d00"/><path d="M1686 766l10 7 11 3 -9 -41z" fill="#1d0300"/><path d="M1915 943l8 3 12 7 -7 -4z" fill="#004005"/><path d="M1593 796l10 6 11 -8 -11 -7z" fill="#421d00"/><path d="M1612 795l9 -17 11 12 -10 -6z" fill="#4d1c00"/><path d="M2000 954l8 12 13 -6 -8 -8z" fill="#001405"/><path d="M1820 877l9 -1 11 21 -8 6z" fill="#658102"/><path d="M1640 801l10 22 10 10 -9 -20z" fill="#392700"/><path d="M1659 833l9 -17 11 -37 -9 36z" fill="#492d00"/><path d="M1753 779l9 -13 11 11 -9 4z" fill="#c2421a"/><path d="M1782 795l9 -13 11 35 -9 6z" fill="#905004"/><path d="M1528 807l9 -24 9 -53 -10 -3z" fill="#170200"/><path d="M1715 784l9 -3 12 -13 -10 31z" fill="#862b01"/><path d="M1981 954l8 -3 13 4 -7 -1z" fill="#00430b"/><path d="M1897 933l8 2 12 9 -8 -5z" fill="#094400"/><path d="M1564 717l10 30 10 21 -9 -22z" fill="#170100"/><path d="M1734 768l9 -12 12 23 -10 7z" fill="#ba3515"/><path d="M1963 959l8 -7 13 2 -9 9z" fill="#005a14"/><path d="M1849 905l8 3 12 8 -8 -12z" fill="#385500"/><path d="M1944 956l8 0 13 3 -8 3z" fill="#004b12"/><path d="M1792 822l9 -7 11 36 -9 -7z" fill="#635100"/><path d="M1574 744l10 22 10 31 -10 -9z" fill="#450e00"/><path d="M1830 901l9 -6 12 11 -9 7z" fill="#669107"/><path d="M1878 924l8 2 13 8 -9 -1z" fill="#194b00"/><path d="M1763 779l9 -3 11 20 -9 7z" fill="#ce5f1f"/><path d="M1697 735l9 41 11 8 -9 -13z" fill="#3a0700"/><path d="M1802 842l9 7 11 30 -9 1z" fill="#535700"/><path d="M1926 948l7 5 13 4 -7 -8z" fill="#003506"/><path d="M1621 785l9 5 12 13 -10 -24z" fill="#180900"/><path d="M1518 816l10 -9 9 -80 -9 43z" fill="#180600"/><path d="M1744 784l10 -7 11 3 -10 25z" fill="#ea6c2c"/><path d="M1650 814l10 19 11 -19 -9 8z" fill="#3f2c00"/><path d="M1812 878l9 -1 11 25 -9 22z" fill="#5a7801"/><path d="M1725 798l10 -31 11 17 -9 27z" fill="#d46320"/><path d="M1678 781l9 -14 11 -32 -9 21z" fill="#460400"/><path d="M1545 732l10 19 11 -32 -11 -50z" fill="#150000"/><path d="M1907 938l8 5 13 6 -8 -6z" fill="#043700"/><path d="M1860 904l7 11 13 10 -8 -6z" fill="#304d00"/><path d="M1602 788l10 7 11 -9 -10 -22z" fill="#180700"/><path d="M1490 844l10 3 10 -37 -11 -16z" fill="#191200"/><path d="M1707 769l9 13 11 16 -9 5z" fill="#7b2b01"/><path d="M1993 954l7 1 14 -2 -8 2z" fill="#003c07"/><path d="M1974 962l8 -9 13 1 -9 11z" fill="#005d12"/><path d="M1773 802l9 -8 11 29 -8 -20z" fill="#844701"/><path d="M1583 788l11 9 10 -9 -10 -23z" fill="#1a0800"/><path d="M1955 961l8 -4 13 5 -9 10z" fill="#00611b"/><path d="M1822 923l9 -23 12 11 -9 22z" fill="#79b519"/><path d="M1841 912l9 -7 12 -1 -9 10z" fill="#517801"/><path d="M1889 931l8 2 12 6 -7 -3z" fill="#124600"/><path d="M1669 815l10 -36 10 -23 -9 45z" fill="#591e00"/><path d="M1754 804l10 -25 11 23 -9 19z" fill="#de7d24"/><path d="M1735 810l10 -27 11 21 -9 17z" fill="#ea8c2b"/><path d="M1632 779l9 24 11 12 -10 -26z" fill="#180a00"/><path d="M1937 949l7 8 13 4 -7 -5z" fill="#003f08"/><path d="M1508 811l11 5 9 -46 -10 8z" fill="#180a00"/><path d="M1717 802l9 -6 12 14 -10 6z" fill="#934f05"/><path d="M1870 917l8 6 13 9 -9 0z" fill="#275400"/><path d="M1565 738l9 6 11 44 -10 -2z" fill="#5b0600"/><path d="M1688 757l10 -22 10 36 -9 11z" fill="#9a120a"/><path d="M1784 804l8 19 11 21 -8 -51z" fill="#3a2400"/><path d="M1555 669l9 50 11 27 -10 -6z" fill="#450000"/><path d="M1918 943l8 6 13 1 -8 -6z" fill="#043600"/><path d="M1660 822l9 -7 12 -16 -10 19z" fill="#543100"/><path d="M1966 971l9 -10 12 2 -9 18z" fill="#016f27"/><path d="M1805 852l8 26 10 45 -8 -10z" fill="#475900"/><path d="M1985 964l8 -11 13 1 -8 9z" fill="#005a0d"/><path d="M1536 729l10 3 9 -63 -9 56z" fill="#3e0000"/><path d="M1833 932l9 -21 11 1 -9 18z" fill="#477a01"/><path d="M1746 820l9 -17 12 17 -10 6z" fill="#a96e0b"/><path d="M1851 913l10 -9 11 14 -9 3z" fill="#4a7100"/><path d="M1765 820l9 -19 12 3 -10 10z" fill="#7c4400"/><path d="M1642 789l9 26 11 7 -9 -14z" fill="#251400"/><path d="M1900 935l7 3 13 5 -8 -2z" fill="#0f4300"/><path d="M1795 793l7 51 11 36 -8 -26z" fill="#413700"/><path d="M1612 764l10 22 11 -5 -10 -22z" fill="#180400"/><path d="M1814 911l8 10 12 11 -9 1z" fill="#3a6f01"/><path d="M1698 780l10 -11 10 34 -9 -14z" fill="#681e00"/><path d="M1948 955l8 5 12 11 -8 5z" fill="#005c18"/><path d="M1481 841l10 3 9 -50 -10 1z" fill="#191000"/><path d="M1727 814l9 -5 12 11 -10 0z" fill="#784900"/><path d="M1679 801l10 -45 11 25 -10 15z" fill="#771f00"/><path d="M1574 786l10 2 11 -23 -10 -2z" fill="#2d0800"/><path d="M1527 772l9 -45 10 -4 -9 42z" fill="#550100"/><path d="M1881 930l8 1 13 5 -9 1z" fill="#1e5500"/><path d="M1593 766l10 23 11 -24 -10 -32z" fill="#170100"/><path d="M1929 944l8 6 13 6 -8 -3z" fill="#034c00"/><path d="M1958 974l9 -4 12 10 -9 24z" fill="#047641"/><path d="M1862 920l9 -3 12 14 -9 3z" fill="#376500"/><path d="M1708 788l9 15 11 13 -9 -24z" fill="#2f1400"/><path d="M1555 742l10 -4 11 48 -10 -3z" fill="#7e0802"/><path d="M1651 807l10 15 11 -5 -10 5z" fill="#4c2e00"/><path d="M1977 981l9 -18 12 -2 -8 14z" fill="#005d1c"/><path d="M1545 725l10 -56 11 71 -10 4z" fill="#be2121"/><path d="M1517 779l10 -9 11 -7 -10 20z" fill="#640e00"/><path d="M1756 825l9 -7 12 -5 -9 21z" fill="#8b5c01"/><path d="M1499 796l10 16 10 -33 -11 -45z" fill="#180500"/><path d="M1824 932l9 -1 12 -2 -9 9z" fill="#317401"/><path d="M1910 940l8 2 13 3 -8 4z" fill="#0f5200"/><path d="M1843 930l9 -18 12 8 -8 6z" fill="#4c7901"/><path d="M1622 759l10 22 11 10 -10 -30z" fill="#180300"/><path d="M1671 818l8 -19 12 -5 -10 -3z" fill="#461e00"/><path d="M1737 818l9 1 12 7 -9 -6z" fill="#623f00"/><path d="M1775 814l9 -9 12 -12 -8 9z" fill="#753500"/><path d="M1536 765l10 -42 11 19 -10 30z" fill="#a00e0b"/><path d="M1892 936l8 -1 13 6 -9 2z" fill="#1c5900"/><path d="M1940 952l9 3 11 21 -8 -2z" fill="#005a0f"/><path d="M1471 836l10 5 9 -46 -10 -6z" fill="#190e00"/><path d="M1689 795l9 -14 12 8 -10 -30z" fill="#4e1000"/><path d="M1797 846l8 6 10 61 -8 -18z" fill="#545c00"/><path d="M1806 893l9 18 11 22 -9 -6z" fill="#375100"/><path d="M1565 783l10 3 11 -23 -10 6z" fill="#670f00"/><path d="M1873 932l9 -2 12 6 -9 3z" fill="#286100"/><path d="M1719 792l9 24 11 4 -8 -11z" fill="#2d1600"/><path d="M1969 1004l9 -25 12 -5 -7 10z" fill="#004c29"/><path d="M1786 801l9 -8 10 61 -8 -6z" fill="#784e00"/><path d="M1633 761l9 31 11 17 -10 -16z" fill="#210900"/><path d="M1546 771l10 -30 11 42 -10 11z" fill="#e53f2c"/><path d="M1603 733l10 33 11 -5 -10 -17z" fill="#170000"/><path d="M1527 783l10 -20 11 8 -10 28z" fill="#b83014"/><path d="M1921 948l9 -4 12 9 -9 8z" fill="#0b6d01"/><path d="M1767 833l9 -21 11 -11 -9 45z" fill="#bb7e11"/><path d="M1951 972l8 2 11 30 -6 -19z" fill="#004b25"/><path d="M1854 924l9 -5 12 14 -9 -1z" fill="#467a02"/><path d="M1835 937l9 -9 12 -4 -9 21z" fill="#357801"/><path d="M1584 765l10 2 10 -34 -9 2z" fill="#170000"/><path d="M1748 820l9 4 11 9 -9 -3z" fill="#6c4900"/><path d="M1661 821l10 -3 11 -27 -10 29z" fill="#703b00"/><path d="M1816 925l9 6 12 6 -9 10z" fill="#2e6c01"/><path d="M1903 942l8 -3 12 9 -8 7z" fill="#176c01"/><path d="M1508 734l10 46 11 3 -11 4z" fill="#650800"/><path d="M1489 797l10 -1 9 -62 -9 44z" fill="#240500"/><path d="M1643 791l8 16 12 15 -10 -7z" fill="#4c2400"/><path d="M1537 798l10 -28 11 22 -10 28z" fill="#cf591e"/><path d="M1680 792l10 4 11 -37 -9 47z" fill="#561600"/><path d="M1729 808l9 12 12 1 -10 -10z" fill="#301a00"/><path d="M1884 938l8 -3 13 7 -9 6z" fill="#236b00"/><path d="M1700 759l9 31 11 4 -9 -24z" fill="#480b00"/><path d="M1556 794l10 -13 10 -12 -9 24z" fill="#9e2808"/><path d="M1777 846l10 -45 11 46 -10 21z" fill="#d9b220"/><path d="M1518 785l10 -4 11 17 -11 22z" fill="#da6225"/><path d="M1932 960l9 -9 12 23 -9 -1z" fill="#016d0d"/><path d="M1787 866l10 -20 10 49 -8 -1z" fill="#717700"/><path d="M1758 828l9 3 12 15 -10 6z" fill="#a6840a"/><path d="M1827 945l9 -10 12 9 -10 31z" fill="#34b41b"/><path d="M1865 931l8 0 13 8 -9 4z" fill="#327201"/><path d="M1461 840l10 -4 10 -47 -11 -32z" fill="#180b00"/><path d="M1962 984l8 20 13 -20 -9 -4z" fill="#002111"/><path d="M1913 953l9 -6 12 13 -9 13z" fill="#0a8809"/><path d="M1846 945l9 -22 12 8 -9 18z" fill="#3b8404"/><path d="M1613 745l10 16 11 2 -10 -41z" fill="#390000"/><path d="M1798 892l9 1 11 34 -9 -8z" fill="#3f5500"/><path d="M1652 813l9 7 12 -1 -10 14z" fill="#915804"/><path d="M1575 771l10 -6 10 -30 -9 28z" fill="#630300"/><path d="M1671 820l10 -29 11 13 -9 29z" fill="#924902"/><path d="M1547 819l10 -27 10 -1 -9 45z" fill="#b45d10"/><path d="M1479 790l11 8 10 -22 -11 15z" fill="#511400"/><path d="M1594 735l10 -2 11 12 -10 22z" fill="#640000"/><path d="M1710 770l9 24 11 16 -9 -14z" fill="#3f1200"/><path d="M1498 777l10 -43 11 53 -10 17z" fill="#c72e1d"/><path d="M1894 946l9 -5 12 13 -9 7z" fill="#1a7b04"/><path d="M1768 850l10 -6 11 24 -9 4z" fill="#cfc11c"/><path d="M1808 917l9 8 11 21 -9 2z" fill="#2c5700"/><path d="M1943 971l8 1 12 13 -7 -12z" fill="#003d11"/><path d="M1739 811l9 10 12 9 -9 -12z" fill="#3c2200"/><path d="M1508 802l10 -17 11 35 -10 19z" fill="#a6560c"/><path d="M1691 806l9 -47 11 11 -9 43z" fill="#811d00"/><path d="M1452 877l10 -37 8 -83 -9 83z" fill="#362300"/><path d="M1624 722l9 39 10 32 -9 -14z" fill="#550400"/><path d="M1837 975l10 -32 11 4 -9 28z" fill="#037602"/><path d="M1876 941l8 -4 13 10 -9 7z" fill="#267702"/><path d="M1566 792l10 -23 10 -8 -10 46z" fill="#8a1902"/><path d="M1924 972l9 -13 12 13 -9 10z" fill="#037618"/><path d="M1662 832l10 -14 12 14 -10 17z" fill="#d0991b"/><path d="M1634 777l9 13 11 25 -10 -8z" fill="#632000"/><path d="M1819 946l9 -1 11 30 -9 -7z" fill="#076400"/><path d="M1779 870l9 -4 11 28 -9 -5z" fill="#7e8702"/><path d="M1856 948l10 -18 12 12 -9 7z" fill="#378806"/><path d="M1584 761l11 -26 11 31 -10 34z" fill="#ae1710"/><path d="M1682 833l9 -29 12 7 -10 27z" fill="#7b4700"/><path d="M1557 836l9 -46 11 15 -10 41z" fill="#a05c07"/><path d="M1905 959l9 -7 12 21 -9 6z" fill="#078110"/><path d="M1489 789l10 -13 11 27 -10 15z" fill="#e6652b"/><path d="M1750 818l9 10 11 24 -9 3z" fill="#674d00"/><path d="M1720 794l9 16 12 3 -9 -21z" fill="#180900"/><path d="M1604 766l10 -22 10 -22 -9 53z" fill="#b71817"/><path d="M1644 805l9 8 11 20 -10 4z" fill="#824b01"/><path d="M1576 806l9 -46 12 38 -10 37z" fill="#aa420d"/><path d="M1760 853l9 -3 12 21 -10 17z" fill="#938e04"/><path d="M1790 887l8 5 11 27 -8 -14z" fill="#475700"/><path d="M1954 974l8 12 13 -5 -8 -9z" fill="#001706"/><path d="M1886 953l9 -7 12 14 -9 8z" fill="#158006"/><path d="M1595 799l10 -35 10 9 -9 39z" fill="#a72b0c"/><path d="M1547 857l10 -23 11 11 -10 19z" fill="#bfa211"/><path d="M1469 757l11 34 10 -1 -10 8z" fill="#801601"/><path d="M1829 966l9 9 12 0 -9 -9z" fill="#004f0a"/><path d="M1701 813l10 -43 11 25 -10 -25z" fill="#611300"/><path d="M1567 846l9 -41 12 29 -11 24z" fill="#bf8c13"/><path d="M1654 835l9 -4 12 17 -10 34z" fill="#dbbb21"/><path d="M1673 849l9 -18 12 5 -10 13z" fill="#886800"/><path d="M1935 981l8 -10 13 3 -8 -2z" fill="#00480e"/><path d="M1614 774l10 -52 11 57 -10 19z" fill="#c5251e"/><path d="M1916 978l9 -7 12 10 -9 6z" fill="#016c1e"/><path d="M1867 948l9 -8 12 13 -9 6z" fill="#237903"/><path d="M1848 975l9 -28 12 0 -8 8z" fill="#0d5b00"/><path d="M1586 835l10 -38 10 13 -9 34z" fill="#b1680e"/><path d="M1800 903l9 14 11 31 -9 -16z" fill="#2b4100"/><path d="M1624 797l10 -20 11 29 -10 17z" fill="#9e3b0a"/><path d="M1479 796l10 -7 11 29 -10 8z" fill="#c15c18"/><path d="M1731 792l9 21 11 7 -9 -21z" fill="#180900"/><path d="M1770 887l10 -17 11 18 -9 2z" fill="#788101"/><path d="M1664 881l10 -34 10 0 -9 72z" fill="#9b9d05"/><path d="M1605 811l10 -38 11 23 -10 32z" fill="#b0460f"/><path d="M1897 966l9 -7 12 19 -9 5z" fill="#057a13"/><path d="M1461 840l9 -83 11 39 -10 46z" fill="#823600"/><path d="M1811 930l8 15 11 22 -8 -5z" fill="#103c00"/><path d="M1557 864l10 -20 11 13 -10 14z" fill="#c4b114"/><path d="M1576 858l11 -25 10 9 -10 26z" fill="#c5a514"/><path d="M1634 821l10 -17 11 33 -10 13z" fill="#905904"/><path d="M1693 838l9 -25 11 -43 -9 30z" fill="#2e1100"/><path d="M1655 897l10 -18 11 40 -10 22z" fill="#80a10d"/><path d="M1645 848l9 -13 11 46 -9 18z" fill="#867f01"/><path d="M1742 800l8 18 11 37 -9 -7z" fill="#482d00"/><path d="M1878 958l9 -6 12 15 -9 7z" fill="#0b7703"/><path d="M1596 844l10 -34 11 16 -10 28z" fill="#ac740a"/><path d="M1752 846l9 7 11 34 -9 0z" fill="#666200"/><path d="M1615 827l10 -31 11 26 -10 22z" fill="#e68f28"/><path d="M1927 987l8 -6 13 -9 -8 9z" fill="#004b11"/><path d="M1946 973l8 2 14 -2 -8 -4z" fill="#002b04"/><path d="M1781 888l9 -1 11 18 -8 -8z" fill="#4d5800"/><path d="M1840 967l9 8 12 -20 -9 3z" fill="#033300"/><path d="M1908 982l9 -5 12 9 -9 6z" fill="#016920"/><path d="M1859 956l9 -9 12 11 -9 3z" fill="#186800"/><path d="M1683 849l10 -11 11 -38 -10 47z" fill="#5b3b00"/><path d="M1821 960l8 7 13 0 -8 -3z" fill="#033100"/><path d="M1711 771l10 25 11 -2 -9 -66z" fill="#170100"/><path d="M1567 870l10 -14 12 11 -11 12z" fill="#bab110"/><path d="M1548 880l10 -18 11 7 -10 17z" fill="#a9aa0a"/><path d="M1675 919l9 -72 11 -2 -10 35z" fill="#6b6a00"/><path d="M1587 868l10 -26 11 10 -11 20z" fill="#a59006"/><path d="M1761 886l9 1 13 2 -9 -7z" fill="#515700"/><path d="M1889 972l9 -7 12 18 -9 7z" fill="#037315"/><path d="M1625 844l10 -23 11 28 -10 3z" fill="#9e7408"/><path d="M1606 854l10 -28 11 17 -10 12z" fill="#9b7604"/><path d="M1792 896l8 7 12 29 -9 -33z" fill="#394800"/><path d="M1666 941l9 -22 11 -41 -10 14z" fill="#252e00"/><path d="M1636 850l9 -2 11 51 -9 -26z" fill="#565000"/><path d="M1870 959l9 -2 12 16 -9 3z" fill="#076a01"/><path d="M1919 991l8 -6 13 -5 -8 10z" fill="#005319"/><path d="M1646 871l9 26 11 44 -9 -54z" fill="#1a1f00"/><path d="M1803 899l8 31 11 32 -9 -12z" fill="#294000"/><path d="M1900 989l9 -8 12 10 -9 8z" fill="#016624"/><path d="M1938 981l9 -9 13 -2 -8 8z" fill="#004005"/><path d="M1577 878l10 -12 12 5 -11 10z" fill="#939002"/><path d="M1851 959l9 -4 12 5 -9 3z" fill="#125600"/><path d="M1558 886l10 -17 11 9 -10 9z" fill="#8e9002"/><path d="M1723 728l8 66 11 8 -8 -41z" fill="#170100"/><path d="M1772 882l9 6 12 9 -9 4z" fill="#4c5400"/><path d="M1831 964l9 4 13 -9 -9 1z" fill="#083600"/><path d="M1597 872l10 -20 11 1 -10 18z" fill="#756600"/><path d="M1743 820l9 26 11 41 -8 -33z" fill="#493a00"/><path d="M1733 761l9 38 10 49 -8 -25z" fill="#471900"/><path d="M1881 974l9 -2 12 17 -9 1z" fill="#006211"/><path d="M1813 948l8 14 12 3 -8 -4z" fill="#114200"/><path d="M1616 855l9 -11 12 8 -10 -32z" fill="#715000"/><path d="M1703 802l9 -30 11 -44 -9 21z" fill="#1d0100"/><path d="M1694 847l9 -47 11 -51 -9 86z" fill="#5e2000"/><path d="M1685 880l9 -35 11 -12 -9 32z" fill="#685500"/><path d="M1754 852l8 35 12 -3 -9 -14z" fill="#464300"/><path d="M1862 962l9 -3 12 16 -9 0z" fill="#0a6100"/><path d="M1783 899l9 -4 12 5 -10 17z" fill="#596900"/><path d="M1656 888l10 53 11 -49 -10 -8z" fill="#151800"/><path d="M1911 998l8 -8 13 -1 -8 9z" fill="#00521e"/><path d="M1549 902l10 -18 11 1 -11 10z" fill="#616900"/><path d="M1587 880l10 -10 12 -1 -11 15z" fill="#7b7800"/><path d="M1930 990l9 -10 13 -3 -9 9z" fill="#00490d"/><path d="M1568 886l10 -9 11 3 -10 5z" fill="#767800"/><path d="M1892 988l8 0 13 10 -9 1z" fill="#00561e"/><path d="M1842 961l9 -3 13 5 -9 2z" fill="#145600"/><path d="M1676 894l8 -15 12 -16 -8 16z" fill="#434200"/><path d="M1626 820l10 32 11 21 -10 -19z" fill="#4d3a00"/><path d="M1823 960l9 5 13 -4 -10 6z" fill="#135600"/><path d="M1794 915l9 -16 11 51 -9 -10z" fill="#3e5600"/><path d="M1764 870l9 12 11 19 -9 -6z" fill="#5e6200"/><path d="M1607 871l10 -16 10 -35 -9 33z" fill="#624900"/><path d="M1873 974l9 0 12 15 -9 -1z" fill="#005509"/><path d="M1724 775l9 -14 11 62 -9 8z" fill="#7a1a01"/><path d="M1713 750l10 -22 11 35 -10 15z" fill="#9e0e0e"/><path d="M1734 829l10 -9 11 34 -10 3z" fill="#764d00"/><path d="M1637 852l9 19 11 19 -9 -6z" fill="#494500"/><path d="M1804 938l9 10 12 13 -9 -2z" fill="#214700"/><path d="M1695 865l10 -32 11 4 -10 32z" fill="#886700"/><path d="M1704 835l10 -86 11 26 -10 64z" fill="#841f01"/><path d="M1922 997l8 -9 14 -3 -8 7z" fill="#004311"/><path d="M1903 998l8 0 13 -1 -8 3z" fill="#00441a"/><path d="M1774 894l9 5 12 18 -9 -9z" fill="#627100"/><path d="M1853 964l9 -3 13 14 -9 -1z" fill="#0e5b00"/><path d="M1578 884l10 -5 11 3 -10 1z" fill="#727200"/><path d="M1558 894l11 -10 11 -1 -11 8z" fill="#5d6000"/><path d="M1597 883l10 -14 11 -18 -10 36z" fill="#877c00"/><path d="M1744 855l10 -3 12 19 -10 6z" fill="#7c6900"/><path d="M1715 839l9 -64 12 55 -10 27z" fill="#c66c19"/><path d="M1834 966l9 -6 13 4 -9 3z" fill="#186400"/><path d="M1666 886l10 8 12 -16 -10 5z" fill="#373800"/><path d="M1884 986l8 2 13 10 -9 -2z" fill="#004512"/><path d="M1815 957l9 2 12 7 -10 26z" fill="#116400"/><path d="M1686 879l10 -16 11 4 -10 17z" fill="#887e00"/><path d="M1646 882l11 8 11 -4 -9 1z" fill="#434400"/><path d="M1617 852l10 -32 11 34 -10 18z" fill="#c59417"/><path d="M1725 856l10 -27 11 27 -10 15z" fill="#ddaf23"/><path d="M1705 868l10 -31 12 18 -10 21z" fill="#b5940d"/><path d="M1785 906l9 9 12 25 -9 -14z" fill="#495f00"/><path d="M1755 875l10 -5 11 25 -10 4z" fill="#828301"/><path d="M1864 972l9 1 12 14 -8 -4z" fill="#004e00"/><path d="M1627 871l10 -19 11 31 -10 9z" fill="#a79b0a"/><path d="M1588 882l10 -1 12 5 -11 6z" fill="#8a8b01"/><path d="M1608 887l10 -37 11 21 -10 23z" fill="#b4a80d"/><path d="M1549 898l10 -5 11 -3 -10 13z" fill="#687000"/><path d="M1914 1000l8 -2 14 -7 -9 3z" fill="#00350f"/><path d="M1735 870l10 -16 12 23 -10 12z" fill="#cbb819"/><path d="M1568 891l11 -8 11 -1 -10 5z" fill="#707000"/><path d="M1796 924l8 14 12 21 -8 -16z" fill="#304800"/><path d="M1845 966l9 -3 12 10 -8 0z" fill="#135900"/><path d="M1895 994l8 4 13 2 -8 -3z" fill="#003510"/><path d="M1765 898l10 -5 12 15 -10 6z" fill="#748101"/><path d="M1826 992l9 -27 12 1 -9 6z" fill="#0b5900"/><path d="M1696 884l10 -17 12 8 -10 17z" fill="#b8af0f"/><path d="M1716 875l10 -21 11 16 -10 17z" fill="#f2dc2b"/><path d="M1676 884l11 -7 11 6 -10 8z" fill="#737200"/><path d="M1657 887l10 0 12 -3 -11 -13z" fill="#3f3d00"/><path d="M1637 892l10 -10 12 4 -10 10z" fill="#818301"/><path d="M1875 982l9 4 13 9 -9 -5z" fill="#003e07"/><path d="M1807 941l8 16 12 35 -9 -23z" fill="#154400"/><path d="M1746 887l10 -12 11 24 -9 9z" fill="#aaaf0f"/><path d="M1618 893l10 -23 11 22 -10 9z" fill="#cfd11d"/><path d="M1598 891l10 -6 12 8 -11 9z" fill="#a5ab0c"/><path d="M1776 912l10 -6 11 20 -9 3z" fill="#617701"/><path d="M1726 886l10 -17 12 19 -10 13z" fill="#f0ee2d"/><path d="M1856 971l9 1 12 11 -8 -2z" fill="#094e00"/><path d="M1578 886l11 -5 11 10 -10 6z" fill="#878801"/><path d="M1559 903l10 -14 11 -4 -10 18z" fill="#787d00"/><path d="M1707 891l10 -17 11 12 -10 16z" fill="#d8d820"/><path d="M1687 890l10 -8 12 9 -10 13z" fill="#9c9f08"/><path d="M1757 906l9 -9 12 16 -10 11z" fill="#90a40d"/><path d="M1906 997l8 3 14 -5 -9 -2z" fill="#002b0a"/><path d="M1836 973l10 -8 12 7 -8 0z" fill="#124a00"/><path d="M1817 967l9 25 13 -19 -10 -6z" fill="#093700"/><path d="M1887 989l8 6 13 2 -8 -5z" fill="#003108"/><path d="M1628 900l10 -10 12 4 -11 15z" fill="#919905"/><path d="M1787 927l9 -3 12 19 -9 -2z" fill="#4b6600"/><path d="M1668 872l9 13 12 6 -10 -13z" fill="#605a00"/><path d="M1737 900l10 -14 12 21 -10 10z" fill="#c9d823"/><path d="M1608 901l11 -9 11 8 -10 10z" fill="#9ba60b"/><path d="M1648 895l10 -7 11 -16 -9 11z" fill="#625e00"/><path d="M1717 901l10 -16 12 15 -10 15z" fill="#dde92b"/><path d="M1588 896l11 -6 11 11 -10 6z" fill="#808702"/><path d="M1867 979l9 2 13 9 -9 -3z" fill="#014400"/><path d="M1767 923l10 -11 12 16 -10 9z" fill="#789608"/><path d="M1697 903l11 -13 11 11 -10 13z" fill="#b9c519"/><path d="M1549 912l11 -11 11 0 -11 12z" fill="#6f7c00"/><path d="M1569 902l10 -17 12 11 -11 11z" fill="#828701"/><path d="M1798 939l9 2 12 28 -9 -11z" fill="#2e4900"/><path d="M1748 916l9 -10 12 17 -9 7z" fill="#a0bb17"/><path d="M1848 971l9 0 12 9 -9 1z" fill="#115600"/><path d="M1678 878l10 11 11 14 -9 6z" fill="#858902"/><path d="M1619 908l10 -9 12 9 -11 16z" fill="#a2b412"/><path d="M1728 914l10 -15 12 17 -10 20z" fill="#cbe72c"/><path d="M1639 909l10 -16 11 -10 -10 34z" fill="#838a01"/><path d="M1898 992l8 6 14 -4 -9 -3z" fill="#002c05"/><path d="M1828 967l9 7 13 -2 -9 2z" fill="#164800"/><path d="M1778 936l10 -10 12 14 -10 7z" fill="#608203"/><path d="M1599 905l10 -5 12 9 -11 6z" fill="#707c01"/><path d="M1708 913l10 -13 12 14 -10 15z" fill="#a6bb17"/><path d="M1658 884l10 -13 12 8 -10 15z" fill="#9e9105"/><path d="M1878 986l8 3 14 4 -8 -3z" fill="#003a01"/><path d="M1809 956l9 13 12 -1 -9 1z" fill="#1e4600"/><path d="M1688 908l10 -6 12 11 -10 4z" fill="#889706"/><path d="M1758 928l10 -6 12 14 -10 4z" fill="#6e8d05"/><path d="M1579 906l10 -11 12 11 -11 -8z" fill="#6b7100"/><path d="M1559 912l11 -11 11 5 -11 8z" fill="#656f00"/><path d="M1859 980l9 -1 12 7 -9 2z" fill="#0a5900"/><path d="M1739 935l10 -20 12 13 -10 14z" fill="#9bc019"/><path d="M1629 923l10 -16 12 8 -10 18z" fill="#8ca40b"/><path d="M1719 928l10 -15 12 22 -10 20z" fill="#8fb315"/><path d="M1669 892l10 -14 11 31 -10 8z" fill="#b2b713"/><path d="M1789 946l10 -7 11 18 -9 0z" fill="#4a6e00"/><path d="M1609 914l11 -7 11 16 -10 13z" fill="#768b04"/><path d="M1839 973l9 -3 13 10 -10 7z" fill="#186600"/><path d="M1649 916l10 -33 11 9 -10 28z" fill="#99a107"/><path d="M1769 938l10 -3 12 11 -10 6z" fill="#5e8203"/><path d="M1819 968l10 -1 12 6 -9 6z" fill="#246400"/><path d="M1699 916l10 -4 12 17 -10 -7z" fill="#667700"/><path d="M1890 990l8 3 13 -1 -8 -1z" fill="#003700"/><path d="M1589 899l10 8 12 8 -10 -16z" fill="#585d00"/><path d="M1730 954l10 -21 11 7 -10 18z" fill="#668f06"/><path d="M1870 987l9 -2 13 5 -9 1z" fill="#064f00"/><path d="M1549 915l11 -4 11 2 -10 6z" fill="#545f00"/><path d="M1749 941l10 -14 12 12 -9 1z" fill="#709207"/><path d="M1679 916l10 -9 12 9 -10 3z" fill="#7d8c03"/><path d="M1569 914l10 -8 12 -8 -10 6z" fill="#555b00"/><path d="M1800 955l9 1 12 13 -9 5z" fill="#3c6e00"/><path d="M1620 935l10 -13 12 10 -11 10z" fill="#6a8602"/><path d="M1640 932l10 -18 11 5 -10 10z" fill="#728701"/><path d="M1850 986l10 -7 12 8 -9 10z" fill="#0b6a00"/><path d="M1659 920l11 -28 11 25 -10 10z" fill="#afc117"/><path d="M1710 920l10 7 11 28 -9 -11z" fill="#4c6400"/><path d="M1780 951l10 -6 12 11 -10 9z" fill="#67970b"/><path d="M1831 978l9 -6 12 15 -9 4z" fill="#197101"/><path d="M1600 900l10 13 11 23 -10 -6z" fill="#596700"/><path d="M1761 938l9 0 12 14 -10 10z" fill="#638905"/><path d="M1811 972l9 -5 13 11 -10 7z" fill="#2e7d03"/><path d="M1741 958l9 -18 12 -2 -10 16z" fill="#5a7e01"/><path d="M1881 990l9 -1 13 2 -8 2z" fill="#064600"/><path d="M1690 918l9 -3 13 6 -10 -10z" fill="#697500"/><path d="M1670 927l10 -12 12 2 -10 16z" fill="#768a02"/><path d="M1721 942l9 13 12 2 -9 -3z" fill="#466600"/><path d="M1560 918l10 -6 11 -8 -10 17z" fill="#5f6900"/><path d="M1650 928l10 -10 12 8 -10 6z" fill="#6f8401"/><path d="M1630 942l10 -11 12 -4 -10 4z" fill="#4f6400"/><path d="M1861 996l10 -10 12 4 -9 5z" fill="#075a00"/><path d="M1791 963l10 -8 12 18 -10 13z" fill="#62b017"/><path d="M1579 905l11 -7 12 2 -11 7z" fill="#747700"/><path d="M1610 928l10 6 12 7 -10 0z" fill="#506700"/><path d="M1842 990l9 -5 12 11 -9 4z" fill="#076700"/><path d="M1771 960l10 -10 12 13 -10 28z" fill="#67a814"/><path d="M1822 983l9 -6 13 14 -10 3z" fill="#197502"/><path d="M1701 911l10 9 11 24 -10 -4z" fill="#5a6c00"/><path d="M1751 953l10 -15 12 23 -10 7z" fill="#6a970a"/><path d="M1802 985l10 -14 12 13 -10 9z" fill="#379f11"/><path d="M1590 905l10 -6 12 31 -11 -1z" fill="#6e7900"/><path d="M1782 990l10 -27 12 22 -10 21z" fill="#41b71d"/><path d="M1731 952l10 6 12 -5 -10 8z" fill="#4d7200"/><path d="M1661 931l10 -6 12 7 -11 10z" fill="#748e04"/><path d="M1681 933l10 -16 11 -6 -10 27z" fill="#7d9004"/><path d="M1570 920l11 -16 11 1 -11 19z" fill="#808901"/><path d="M1550 919l11 -2 11 2 -11 5z" fill="#647000"/><path d="M1873 994l9 -5 13 3 -9 4z" fill="#094e00"/><path d="M1640 932l11 -6 12 5 -11 9z" fill="#5d7100"/><path d="M1853 999l8 -4 14 -1 -9 5z" fill="#045500"/><path d="M1621 940l10 2 12 -10 -11 -1z" fill="#415100"/><path d="M1712 938l9 4 12 11 -10 3z" fill="#4e6a00"/><path d="M1762 966l10 -6 12 31 -10 -4z" fill="#367802"/><path d="M1833 993l9 -4 13 10 -9 1z" fill="#086300"/><path d="M1600 928l11 0 12 12 -11 1z" fill="#506200"/><path d="M1813 992l10 -10 12 11 -10 9z" fill="#167e04"/><path d="M1793 1005l10 -21 12 8 -10 14z" fill="#108306"/><path d="M1691 937l11 -26 11 28 -10 12z" fill="#98b515"/><path d="M1742 959l10 -7 12 15 -10 4z" fill="#568103"/><path d="M1671 941l11 -10 11 5 -10 14z" fill="#84a30c"/><path d="M1580 923l11 -18 11 24 -10 2z" fill="#818f04"/><path d="M1773 985l10 4 12 16 -10 -5z" fill="#0e6900"/><path d="M1651 938l11 -8 11 10 -10 14z" fill="#759307"/><path d="M1560 923l11 -5 11 5 -10 5z" fill="#6d7a00"/><path d="M1722 955l10 -3 12 8 -10 5z" fill="#507401"/><path d="M1864 998l9 -5 13 2 -9 5z" fill="#095200"/><path d="M1631 932l10 -1 12 8 -10 4z" fill="#5a6e00"/><path d="M1844 999l9 -1 13 0 -9 6z" fill="#055a00"/><path d="M1611 941l10 0 12 -9 -9 5z" fill="#485800"/><path d="M1702 950l10 -13 12 19 -10 7z" fill="#6c9007"/><path d="M1824 1001l10 -9 12 7 -9 8z" fill="#086e01"/><path d="M1753 969l10 -4 12 21 -10 -2z" fill="#356900"/><path d="M1804 1005l10 -14 12 9 -10 12z" fill="#057602"/><path d="M1591 930l10 -3 12 14 -11 -2z" fill="#526300"/><path d="M1682 948l10 -13 12 15 -10 8z" fill="#8ab113"/><path d="M1784 998l9 7 13 0 -9 4z" fill="#016500"/><path d="M1662 953l10 -14 12 9 -10 12z" fill="#749909"/><path d="M1733 963l10 -4 12 11 -10 4z" fill="#4f7801"/><path d="M1570 927l11 -5 12 9 -11 2z" fill="#667400"/><path d="M1642 941l10 -4 12 16 -11 10z" fill="#638202"/><path d="M1550 925l11 -3 12 5 -11 3z" fill="#5e6900"/><path d="M1713 962l10 -8 12 10 -10 7z" fill="#638f07"/><path d="M1764 982l10 2 12 15 -10 -1z" fill="#185900"/><path d="M1856 1003l9 -6 13 2 -10 8z" fill="#085d00"/><path d="M1621 937l11 -6 12 11 -11 2z" fill="#5b6e00"/><path d="M1835 1006l10 -8 13 5 -10 9z" fill="#036900"/><path d="M1693 956l10 -7 12 13 -10 11z" fill="#77a40f"/><path d="M1815 1011l10 -12 13 7 -10 11z" fill="#027506"/><path d="M1601 938l10 3 13 -4 -11 6z" fill="#495900"/><path d="M1795 1007l10 -4 12 8 -9 8z" fill="#016f07"/><path d="M1673 959l10 -12 12 9 -10 9z" fill="#6c9308"/><path d="M1744 972l10 -3 12 14 -10 4z" fill="#3d7101"/><path d="M1652 962l11 -10 12 7 -11 8z" fill="#557801"/><path d="M1581 931l11 -2 11 10 -10 -4z" fill="#485400"/><path d="M1775 996l10 2 12 10 -10 4z" fill="#086100"/><path d="M1724 970l10 -8 12 11 -10 7z" fill="#65970b"/><path d="M1561 929l10 -3 12 6 -11 2z" fill="#556000"/><path d="M1704 972l10 -11 12 9 -10 22z" fill="#88c520"/><path d="M1632 942l11 -1 11 22 -10 -8z" fill="#4f6700"/><path d="M1847 1012l9 -10 13 3 -9 10z" fill="#026800"/><path d="M1683 963l11 -8 12 17 -11 16z" fill="#6e9f0f"/><path d="M1827 1016l9 -11 13 6 -10 12z" fill="#01720a"/><path d="M1755 985l10 -3 12 15 -10 5z" fill="#246c01"/><path d="M1806 1018l10 -8 13 6 -10 12z" fill="#047914"/><path d="M1612 942l10 -6 12 7 -10 4z" fill="#546600"/><path d="M1663 966l10 -8 13 5 -11 7z" fill="#537701"/><path d="M1786 1010l10 -3 12 11 -9 7z" fill="#02710b"/><path d="M1591 933l10 6 13 4 -10 -7z" fill="#364000"/><path d="M1735 978l10 -6 12 14 -10 7z" fill="#589c0e"/><path d="M1715 991l10 -22 12 9 -10 29z" fill="#5aae15"/><path d="M1694 986l11 -15 12 20 -11 31z" fill="#57c021"/><path d="M1643 953l10 10 12 3 -10 -7z" fill="#3a5000"/><path d="M1766 1000l10 -5 12 16 -10 6z" fill="#0d6f01"/><path d="M1571 933l11 0 12 1 -11 -10z" fill="#3a4100"/><path d="M1551 931l11 -3 11 5 -11 4z" fill="#525c00"/><path d="M1838 1023l10 -13 12 4 -9 12z" fill="#016e0b"/><path d="M1818 1027l9 -12 13 7 -10 14z" fill="#03771b"/><path d="M1705 1021l11 -31 11 15 -10 44z" fill="#0d9315"/><path d="M1674 968l10 -6 12 25 -10 10z" fill="#4f7d03"/><path d="M1622 946l11 -4 12 13 -11 -2z" fill="#485a00"/><path d="M1797 1024l10 -7 13 10 -10 11z" fill="#067c21"/><path d="M1746 991l10 -6 12 16 -10 5z" fill="#318a08"/><path d="M1726 1006l10 -29 12 14 -10 22z" fill="#3ea311"/><path d="M1685 995l10 -10 12 37 -10 21z" fill="#087403"/><path d="M1602 937l10 4 13 6 -11 2z" fill="#455200"/><path d="M1696 1041l10 -21 12 27 -11 59z" fill="#1aa77b"/><path d="M1777 1016l10 -7 12 16 -9 7z" fill="#037610"/><path d="M1654 959l9 7 13 3 -10 -1z" fill="#3e5700"/><path d="M1717 1049l9 -45 12 7 -10 33z" fill="#016e16"/><path d="M1581 925l11 10 12 3 -11 -19z" fill="#343800"/><path d="M1757 1005l10 -5 12 17 -10 6z" fill="#0d7a04"/><path d="M1829 1035l10 -14 12 4 -9 14z" fill="#016f1b"/><path d="M1633 951l10 2 13 7 -11 -9z" fill="#2d3a00"/><path d="M1561 936l11 -2 11 -10 -9 7z" fill="#434900"/><path d="M1809 1037l10 -11 12 8 -10 13z" fill="#05792c"/><path d="M1737 1013l10 -23 12 15 -10 12z" fill="#32ac17"/><path d="M1707 1106l10 -59 12 -5 -10 18z" fill="#005849"/><path d="M1788 1030l10 -7 13 14 -10 7z" fill="#047725"/><path d="M1665 966l10 2 11 29 -10 -4z" fill="#3d6100"/><path d="M1613 948l10 -3 12 7 -10 -1z" fill="#425100"/><path d="M1676 990l10 5 11 47 -10 -15z" fill="#054f00"/><path d="M1768 1021l10 -6 12 16 -10 7z" fill="#047715"/><path d="M1687 1025l10 15 11 66 -10 -56z" fill="#003724"/><path d="M1592 919l10 18 13 11 -11 -2z" fill="#4d5600"/><path d="M1644 952l10 8 12 7 -9 -6z" fill="#314000"/><path d="M1820 1046l10 -13 13 4 -10 14z" fill="#016d2b"/><path d="M1728 1044l10 -33 12 5 -10 17z" fill="#00690d"/><path d="M1748 1016l10 -12 12 18 -10 6z" fill="#0d8b0a"/><path d="M1800 1042l10 -7 12 11 -10 8z" fill="#037232"/><path d="M1572 932l10 -8 12 -4 -11 12z" fill="#626600"/><path d="M1779 1037l10 -7 13 13 -10 7z" fill="#047429"/><path d="M1623 950l11 3 12 0 -11 -15z" fill="#2e3600"/><path d="M1698 1050l9 56 13 -45 -11 -22z" fill="#00130f"/><path d="M1603 945l10 2 13 3 -11 3z" fill="#4d5b00"/><path d="M1655 959l10 7 12 26 -10 -11z" fill="#364e00"/><path d="M1759 1026l10 -5 12 17 -10 7z" fill="#04781a"/><path d="M1718 1062l9 -20 13 -10 -10 5z" fill="#00270e"/><path d="M1811 1054l10 -9 13 4 -10 10z" fill="#016935"/><path d="M1738 1033l11 -18 12 12 -10 8z" fill="#02760d"/><path d="M1582 930l11 -11 12 27 -11 3z" fill="#737c01"/><path d="M1666 979l10 11 12 37 -9 -26z" fill="#173700"/><path d="M1790 1048l11 -7 12 13 -10 6z" fill="#016a32"/><path d="M1634 938l10 15 13 8 -11 -7z" fill="#3b4700"/><path d="M1770 1044l10 -8 13 13 -10 8z" fill="#04752f"/><path d="M1677 999l10 28 12 25 -10 -40z" fill="#011400"/><path d="M1614 953l10 -2 12 -12 -10 5z" fill="#4a5500"/><path d="M1593 947l11 -3 12 8 -11 6z" fill="#627300"/><path d="M1750 1034l10 -8 12 18 -10 8z" fill="#057820"/><path d="M1729 1038l10 -7 13 3 -10 7z" fill="#004d0d"/><path d="M1802 1058l10 -6 13 6 -10 6z" fill="#005e33"/><path d="M1645 952l11 7 11 22 -10 -6z" fill="#425700"/><path d="M1708 1040l11 22 12 -24 -10 -16z" fill="#001405"/><path d="M1781 1056l10 -9 13 12 -10 4z" fill="#006231"/><path d="M1761 1051l10 -8 13 13 -11 8z" fill="#037233"/><path d="M1688 1012l10 40 12 -11 -10 -30z" fill="#001401"/><path d="M1624 944l11 -6 12 16 -11 5z" fill="#6a7800"/><path d="M1656 974l11 5 11 22 -9 -18z" fill="#293d00"/><path d="M1604 957l10 -6 12 -7 -10 18z" fill="#6a7c00"/><path d="M1740 1039l11 -6 12 18 -10 9z" fill="#01661e"/><path d="M1793 1062l10 -5 13 6 -10 1z" fill="#004c28"/><path d="M1635 957l11 -5 12 23 -11 1z" fill="#5a7100"/><path d="M1720 1022l10 17 12 1 -10 -10z" fill="#002402"/><path d="M1772 1063l10 -8 13 7 -10 2z" fill="#00562c"/><path d="M1667 983l10 18 12 13 -10 -24z" fill="#0d1600"/><path d="M1751 1059l11 -9 12 13 -10 6z" fill="#006230"/><path d="M1614 961l11 -17 12 14 -10 11z" fill="#859b08"/><path d="M1699 1011l10 30 13 -18 -11 -17z" fill="#041500"/><path d="M1646 975l11 -2 12 12 -10 -2z" fill="#3d5300"/><path d="M1731 1030l10 8 12 22 -10 -2z" fill="#004a11"/><path d="M1678 991l11 23 12 -1 -10 -19z" fill="#0c1600"/><path d="M1784 1064l9 -2 14 1 -10 -4z" fill="#003418"/><path d="M1625 968l11 -11 12 19 -10 1z" fill="#637d01"/><path d="M1763 1069l10 -7 13 1 -10 -1z" fill="#003c1e"/><path d="M1742 1056l10 2 13 11 -10 -3z" fill="#00401d"/><path d="M1711 1006l9 18 13 8 -9 -12z" fill="#092300"/><path d="M1657 981l11 2 12 9 -10 -5z" fill="#273700"/><path d="M1636 975l11 -1 12 8 -10 0z" fill="#455b00"/><path d="M1690 994l10 19 12 -5 -10 -10z" fill="#0f1a00"/><path d="M1722 1019l10 11 12 28 -10 -15z" fill="#003400"/><path d="M1774 1063l10 1 13 -4 -10 -6z" fill="#001a0a"/><path d="M1753 1065l11 4 13 -6 -11 -8z" fill="#00190a"/><path d="M1668 986l10 6 13 3 -9 -4z" fill="#223000"/><path d="M1733 1041l10 17 12 8 -9 -18z" fill="#001b06"/><path d="M1647 981l11 -1 13 7 -11 0z" fill="#3a4d00"/><path d="M1701 999l10 7 12 15 -10 -8z" fill="#1d3500"/><path d="M1680 990l9 4 14 6 -10 -3z" fill="#293c00"/><path d="M1765 1057l10 7 13 -9 -10 -8z" fill="#001404"/><path d="M1712 1011l10 8 12 24 -9 -19z" fill="#0e2c00"/><path d="M1659 985l10 0 13 6 -11 0z" fill="#374a00"/><path d="M1744 1049l10 17 13 -9 -10 -15z" fill="#001403"/><path d="M1691 996l10 2 13 14 -10 -7z" fill="#2b4100"/><path d="M1724 1024l10 19 12 7 -10 -21z" fill="#031500"/><path d="M1670 990l10 0 13 7 -10 -2z" fill="#364b00"/><path d="M1756 1043l10 15 13 -10 -10 -10z" fill="#001400"/><path d="M1702 1003l10 8 13 14 -10 -14z" fill="#1e3000"/><path d="M1735 1029l10 21 13 -6 -10 -14z" fill="#041500"/><path d="M1681 994l11 1 12 9 -10 -3z" fill="#324600"/><path d="M1714 1011l10 14 13 6 -10 -14z" fill="#112100"/><path d="M1693 1000l10 3 13 9 -11 -3z" fill="#2b3e00"/><path d="M1746 1030l11 15 13 -6 -11 -7z" fill="#061600"/><path d="M1725 1018l11 13 12 0 -9 -7z" fill="#142900"/><path d="M1704 1007l10 3 13 9 -10 -1z" fill="#2a4000"/><path d="M1737 1024l9 7 14 2 -10 1z" fill="#1f4200"/><path d="M1716 1016l10 1 13 8 -11 3z" fill="#335100"/><path d="M1727 1026l11 -2 13 9 -11 7z" fill="#376600"/></g><g transform="translate(34.9,-191.8) scale(1.455)"><line x1="195.47" y1="243.75" x2="197.47" y2="243.75" stroke="#333" stroke-width="0.4" /><text x="195.0" y="245.3" font-size="4.2" text-anchor="end" fill="#333" font-family="'Liberation Sans',Arial,sans-serif">200</text><line x1="196.01" y1="261.08" x2="198.01" y2="261.08" stroke="#333" stroke-width="0.4" /><text x="195.5" y="262.6" font-size="4.2" text-anchor="end" fill="#333" font-family="'Liberation Sans',Arial,sans-serif">100</text><line x1="196.55" y1="278.11" x2="198.55" y2="278.11" stroke="#333" stroke-width="0.4" /><text x="196.0" y="279.6" font-size="4.2" text-anchor="end" fill="#333" font-family="'Liberation Sans',Arial,sans-serif">0</text><line x1="197.07" y1="294.86" x2="199.07" y2="294.86" stroke="#333" stroke-width="0.4" /><text x="196.6" y="296.4" font-size="4.2" text-anchor="end" fill="#333" font-family="'Liberation Sans',Arial,sans-serif">-100</text><line x1="197.59" y1="311.33" x2="199.59" y2="311.33" stroke="#333" stroke-width="0.4" /><text x="197.1" y="312.8" font-size="4.2" text-anchor="end" fill="#333" font-family="'Liberation Sans',Arial,sans-serif">-200</text><text transform="translate(182.8,258) rotate(90)" font-size="4.4" fill="#333" font-family="'Liberation Sans',Arial,sans-serif">Heat Flux(Watts/m&#178;)</text><line x1="203.16" y1="323.08" x2="202.56" y2="324.68" stroke="#444" stroke-width="0.3" /><text transform="translate(204.7,328.4) rotate(24)" font-size="3" fill="#555" font-family="'Liberation Sans',Arial,sans-serif" text-anchor="middle">-0.2</text><line x1="216.56" y1="328.03" x2="215.96" y2="329.63" stroke="#444" stroke-width="0.3" /><text transform="translate(218.1,333.3) rotate(24)" font-size="3" fill="#555" font-family="'Liberation Sans',Arial,sans-serif" text-anchor="middle">-0.1</text><line x1="230.78" y1="333.28" x2="230.18" y2="334.88" stroke="#444" stroke-width="0.3" /><text transform="translate(232.3,338.6) rotate(24)" font-size="3" fill="#555" font-family="'Liberation Sans',Arial,sans-serif" text-anchor="middle">0.0</text><line x1="245.88" y1="338.85" x2="245.28" y2="340.45" stroke="#444" stroke-width="0.3" /><text transform="translate(247.4,344.1) rotate(24)" font-size="3" fill="#555" font-family="'Liberation Sans',Arial,sans-serif" text-anchor="middle">0.1</text><line x1="261.94" y1="344.78" x2="261.34" y2="346.38" stroke="#444" stroke-width="0.3" /><text transform="translate(263.4,350.1) rotate(24)" font-size="3" fill="#555" font-family="'Liberation Sans',Arial,sans-serif" text-anchor="middle">0.2</text><text transform="translate(225.3,340.6) rotate(24)" font-size="3.5" fill="#555" font-family="'Liberation Sans',Arial,sans-serif" text-anchor="middle">Width(m)</text><line x1="287.96" y1="342.63" x2="289.36" y2="343.53" stroke="#444" stroke-width="0.3" /><text transform="translate(290.2,345.8) rotate(-22)" font-size="3" fill="#555" font-family="'Liberation Sans',Arial,sans-serif">0.0</text><line x1="298.62" y1="337.13" x2="300.02" y2="338.03" stroke="#444" stroke-width="0.3" /><text transform="translate(300.8,340.3) rotate(-22)" font-size="3" fill="#555" font-family="'Liberation Sans',Arial,sans-serif">0.5</text><line x1="308.67" y1="331.94" x2="310.07" y2="332.84" stroke="#444" stroke-width="0.3" /><text transform="translate(310.9,335.1) rotate(-22)" font-size="3" fill="#555" font-family="'Liberation Sans',Arial,sans-serif">1.0</text><line x1="318.17" y1="327.03" x2="319.57" y2="327.93" stroke="#444" stroke-width="0.3" /><text transform="translate(320.4,330.2) rotate(-22)" font-size="3" fill="#555" font-family="'Liberation Sans',Arial,sans-serif">1.5</text><line x1="327.16" y1="322.39" x2="328.56" y2="323.29" stroke="#444" stroke-width="0.3" /><text transform="translate(329.4,325.6) rotate(-22)" font-size="3" fill="#555" font-family="'Liberation Sans',Arial,sans-serif">2.0</text><line x1="335.42" y1="318.12" x2="336.82" y2="319.02" stroke="#444" stroke-width="0.3" /><text transform="translate(337.6,321.3) rotate(-22)" font-size="3" fill="#555" font-family="'Liberation Sans',Arial,sans-serif">2.5</text><text transform="translate(318.8,337.8) rotate(-28)" font-size="3.5" fill="#555" font-family="'Liberation Sans',Arial,sans-serif" text-anchor="middle">Length(m)</text><text x="266" y="206" font-size="6.17" font-weight="bold" text-anchor="middle" fill="#111" font-family="'Liberation Sans',Arial,sans-serif">Full-body Warming System</text><text x="266.5" y="213.6" font-size="6.1" font-style="italic" text-anchor="middle" fill="#222" font-family="'Liberation Sans',Arial,sans-serif">Heat Transfer Profile</text><rect x="354.4" y="221.7" width="9.6" height="91" fill="url(#cbg1)"/><line x1="364.00" y1="221.90" x2="365.30" y2="221.90" stroke="#333" stroke-width="0.35" /><text x="366" y="223.1" font-size="3.5" fill="#222" font-family="'Liberation Sans',Arial,sans-serif">286.0</text><line x1="364.00" y1="230.96" x2="365.30" y2="230.96" stroke="#333" stroke-width="0.35" /><text x="366" y="232.2" font-size="3.5" fill="#222" font-family="'Liberation Sans',Arial,sans-serif">230.0</text><line x1="364.00" y1="240.02" x2="365.30" y2="240.02" stroke="#333" stroke-width="0.35" /><text x="366" y="241.2" font-size="3.5" fill="#222" font-family="'Liberation Sans',Arial,sans-serif">174.0</text><line x1="364.00" y1="249.08" x2="365.30" y2="249.08" stroke="#333" stroke-width="0.35" /><text x="366" y="250.3" font-size="3.5" fill="#222" font-family="'Liberation Sans',Arial,sans-serif">118.0</text><line x1="364.00" y1="258.14" x2="365.30" y2="258.14" stroke="#333" stroke-width="0.35" /><text x="366" y="259.3" font-size="3.5" fill="#222" font-family="'Liberation Sans',Arial,sans-serif">62.00</text><line x1="364.00" y1="267.20" x2="365.30" y2="267.20" stroke="#333" stroke-width="0.35" /><text x="366" y="268.4" font-size="3.5" fill="#222" font-family="'Liberation Sans',Arial,sans-serif">6.000</text><line x1="364.00" y1="276.26" x2="365.30" y2="276.26" stroke="#333" stroke-width="0.35" /><text x="366" y="277.5" font-size="3.5" fill="#222" font-family="'Liberation Sans',Arial,sans-serif">-50.00</text><line x1="364.00" y1="285.32" x2="365.30" y2="285.32" stroke="#333" stroke-width="0.35" /><text x="366" y="286.5" font-size="3.5" fill="#222" font-family="'Liberation Sans',Arial,sans-serif">-106.0</text><line x1="364.00" y1="294.38" x2="365.30" y2="294.38" stroke="#333" stroke-width="0.35" /><text x="366" y="295.6" font-size="3.5" fill="#222" font-family="'Liberation Sans',Arial,sans-serif">-162.0</text><line x1="364.00" y1="303.44" x2="365.30" y2="303.44" stroke="#333" stroke-width="0.35" /><text x="366" y="304.6" font-size="3.5" fill="#222" font-family="'Liberation Sans',Arial,sans-serif">-218.0</text><line x1="364.00" y1="312.50" x2="365.30" y2="312.50" stroke="#333" stroke-width="0.35" /><text x="366" y="313.7" font-size="3.5" fill="#222" font-family="'Liberation Sans',Arial,sans-serif">-274.0</text></g></g></svg>
<!-- small window -->
<div class="a" style="left:155.5px;top:185.3px;width:238.5px;height:192px;border:1px solid rgba(60,70,85,0.8);border-radius:4px 4px 2px 2px;background:linear-gradient(rgba(200,222,245,0.86),rgba(186,213,242,0.86) 8px,rgba(184,210,240,0.9) 14px,rgba(200,222,244,0.92));box-shadow:1px 1px 2px rgba(0,0,0,0.45)"></div>
<div class="a" style="left:159.5px;top:198.5px;width:230.8px;height:175.3px;background:#fff;border:0.6px solid #b5c8de"></div>
<div class="a" style="left:160.3px;top:189.8px;width:6px;height:5.5px;background:linear-gradient(#f0c0a0,#c84a30);border-radius:1px"></div>
<div class="a" style="left:170.5px;top:189.6px;font-size:5.2px;color:#223">BaseSurface -</div>
<div class="a" style="left:343.4px;top:186px;width:13.3px;height:8.5px;border:0.6px solid #7e8ea2;border-top:none;border-radius:0 0 0 3px;background:linear-gradient(rgba(240,245,250,.8),rgba(205,218,232,.8))"></div>
<div class="a" style="left:356.7px;top:186px;width:11.7px;height:8.5px;border:0.6px solid #7e8ea2;border-top:none;border-left:none;background:linear-gradient(rgba(240,245,250,.8),rgba(205,218,232,.8))"></div>
<div class="a" style="left:368.4px;top:186px;width:22.6px;height:8.5px;border:0.6px solid #9a4a40;border-top:none;border-radius:0 0 3px 0;background:linear-gradient(#eaa898,#d8705e 55%,#d06050)"></div>
<div class="a" style="left:347px;top:190.2px;width:6px;height:1.6px;background:#fff;border:0.4px solid #556"></div>
<div class="a" style="left:359.7px;top:188px;width:5.6px;height:4.6px;border:0.5px solid #556;border-top-width:1.1px;background:rgba(255,255,255,.4)"></div>
<div class="a" style="left:376.3px;top:185.4px;font-size:7.5px;font-weight:bold;color:#fff">&#215;</div>
<svg class="a" style="left:0;top:0" width="640" height="455" viewBox="0 0 640 455">
<defs><clipPath id="sclip"><rect x="160" y="199" width="230" height="174.5"/></clipPath></defs>
<g clip-path="url(#sclip)"><defs><linearGradient id="cbg2" x1="0" y1="0" x2="0" y2="1"><stop offset="0.0000" stop-color="#500000"/><stop offset="0.1000" stop-color="#900000"/><stop offset="0.2000" stop-color="#e00000"/><stop offset="0.3000" stop-color="#ff0000"/><stop offset="0.3411" stop-color="#ff1000"/><stop offset="0.4000" stop-color="#ff7000"/><stop offset="0.4500" stop-color="#ffc000"/><stop offset="0.5000" stop-color="#ffff00"/><stop offset="0.6000" stop-color="#a0ff00"/><stop offset="0.6536" stop-color="#00ff00"/><stop offset="0.7000" stop-color="#00ff80"/><stop offset="0.7429" stop-color="#00ffff"/><stop offset="0.8000" stop-color="#0080ff"/><stop offset="0.8500" stop-color="#0000ff"/><stop offset="0.9000" stop-color="#4a00ea"/><stop offset="0.9571" stop-color="#6400b8"/><stop offset="1.0000" stop-color="#6a0090"/></linearGradient></defs><g transform="translate(0,0)"><line x1="214.34" y1="316.55" x2="212.11" y2="223.74" stroke="#dcdcdc" stroke-width="0.35" stroke-dasharray="1,1"/><line x1="276.75" y1="301.81" x2="277.39" y2="217.18" stroke="#dcdcdc" stroke-width="0.35" stroke-dasharray="1,1"/><line x1="227.87" y1="311.55" x2="226.32" y2="221.51" stroke="#dcdcdc" stroke-width="0.35" stroke-dasharray="1,1"/><line x1="290.29" y1="305.58" x2="291.54" y2="218.86" stroke="#dcdcdc" stroke-width="0.35" stroke-dasharray="1,1"/><line x1="240.58" y1="306.84" x2="239.65" y2="219.41" stroke="#dcdcdc" stroke-width="0.35" stroke-dasharray="1,1"/><line x1="304.55" y1="309.54" x2="306.47" y2="220.63" stroke="#dcdcdc" stroke-width="0.35" stroke-dasharray="1,1"/><line x1="252.56" y1="302.41" x2="252.17" y2="217.44" stroke="#dcdcdc" stroke-width="0.35" stroke-dasharray="1,1"/><line x1="319.57" y1="313.72" x2="322.24" y2="222.51" stroke="#dcdcdc" stroke-width="0.35" stroke-dasharray="1,1"/><line x1="199.59" y1="311.33" x2="263.87" y2="289.06" stroke="#dcdcdc" stroke-width="0.35" stroke-dasharray="1,1"/><line x1="263.87" y1="289.06" x2="335.80" y2="307.79" stroke="#dcdcdc" stroke-width="0.35" stroke-dasharray="1,1"/><line x1="199.07" y1="294.86" x2="263.88" y2="274.78" stroke="#dcdcdc" stroke-width="0.35" stroke-dasharray="1,1"/><line x1="263.88" y1="274.78" x2="336.41" y2="291.67" stroke="#dcdcdc" stroke-width="0.35" stroke-dasharray="1,1"/><line x1="198.55" y1="278.11" x2="263.90" y2="260.30" stroke="#dcdcdc" stroke-width="0.35" stroke-dasharray="1,1"/><line x1="263.90" y1="260.30" x2="337.02" y2="275.28" stroke="#dcdcdc" stroke-width="0.35" stroke-dasharray="1,1"/><line x1="198.01" y1="261.08" x2="263.91" y2="245.62" stroke="#dcdcdc" stroke-width="0.35" stroke-dasharray="1,1"/><line x1="263.91" y1="245.62" x2="337.64" y2="258.63" stroke="#dcdcdc" stroke-width="0.35" stroke-dasharray="1,1"/><line x1="197.47" y1="243.75" x2="263.93" y2="230.71" stroke="#dcdcdc" stroke-width="0.35" stroke-dasharray="1,1"/><line x1="263.93" y1="230.71" x2="338.28" y2="241.70" stroke="#dcdcdc" stroke-width="0.35" stroke-dasharray="1,1"/><line x1="199.92" y1="321.89" x2="196.91" y2="226.13" stroke="#3a3a3a" stroke-width="0.55" /><line x1="196.91" y1="226.13" x2="263.95" y2="215.59" stroke="#3a3a3a" stroke-width="0.55" /><line x1="263.95" y1="215.59" x2="338.92" y2="224.48" stroke="#3a3a3a" stroke-width="0.55" /><line x1="263.86" y1="298.23" x2="263.95" y2="215.59" stroke="#3a3a3a" stroke-width="0.55" /><line x1="335.42" y1="318.12" x2="338.92" y2="224.48" stroke="#3a3a3a" stroke-width="0.55" /><line x1="199.92" y1="321.89" x2="274.69" y2="349.49" stroke="#3a3a3a" stroke-width="0.55" /><line x1="274.69" y1="349.49" x2="335.42" y2="318.12" stroke="#3a3a3a" stroke-width="0.55" /></g><g transform="scale(0.25)"><path d="M810 1292l8 -4 7 3 -8 4zM816 1294l8 -4 7 4 -8 3zM822 1296l8 -3 7 3 -8 4zM828 1299l8 -4 7 3 -8 4zM834 1301l8 -4 7 3 -8 4zM840 1303l8 -4 8 4 -9 3zM846 1305l8 -4 8 4 -8 4zM823 1292l8 -4 7 3 -8 4zM829 1294l8 -4 7 3 -8 4zM835 1296l8 -4 7 4 -8 3zM841 1298l8 -4 7 4 -8 4zM847 1300l8 -3 7 3 -8 4z" fill="#00fbff"/><path d="M804 1290l9 -4 6 3 -8 4zM817 1289l8 -3 7 3 -8 4zM853 1303l8 -4 7 3 -8 4zM830 1289l8 -4 7 4 -8 3zM836 1291l8 -4 7 4 -8 4zM842 1293l8 -3 7 3 -8 4zM848 1296l8 -4 7 3 -8 4zM854 1298l8 -4 7 3 -8 4zM1062 1363l8 -5 8 4 -7 5zM1070 1365l7 -4 9 4 -7 4zM1069 1360l7 -5 9 4 -7 4zM1076 1362l7 -4 9 4 -7 4zM1237 1273l5 -3 9 3 -6 3zM1244 1275l5 -3 9 3 -5 3zM1249 1273l5 -4 9 3 -5 4zM1275 1265l6 -3 9 3 -6 3zM1280 1263l6 -3 9 3 -6 3z" fill="#00ffc5"/><path d="M853 1308l8 -4 7 3 -8 4zM811 1287l8 -3 7 3 -8 4zM859 1305l8 -4 8 3 -8 4zM818 1285l8 -4 7 3 -8 4zM824 1287l8 -4 7 3 -8 4zM860 1300l8 -4 7 4 -8 3zM848 1291l8 -4 7 3 -8 4zM854 1293l8 -4 7 4 -8 3zM860 1295l8 -4 7 4 -7 4zM866 1297l8 -3 8 3 -8 4zM1100 1376l7 -4 10 4 -8 4zM1106 1373l8 -4 9 4 -7 4zM1114 1376l7 -5 10 4 -8 5zM1113 1370l7 -4 9 3 -7 5zM1120 1373l8 -5 9 4 -7 4zM1128 1375l7 -4 10 4 -7 4zM1127 1369l7 -4 9 4 -7 4zM1134 1372l7 -4 10 4 -7 4zM1133 1366l7 -4 9 4 -7 4zM1141 1369l7 -4 9 3 -7 5zM1139 1363l7 -4 9 4 -7 4zM1147 1366l7 -4 9 3 -7 5zM1241 1311l6 -4 10 4 -6 4zM1249 1314l6 -4 9 3 -6 4zM1247 1309l6 -4 9 3 -6 4zM1254 1311l6 -4 9 3 -6 4zM1272 1296l6 -4 9 3 -5 4zM1280 1298l6 -4 9 3 -6 4zM1277 1293l6 -4 9 4 -5 3zM1285 1295l6 -3 9 3 -6 3zM1242 1271l5 -4 9 3 -6 4zM1193 1242l6 -3 8 3 -6 3zM1200 1244l5 -3 9 3 -6 3zM1268 1263l6 -3 9 3 -6 3zM1273 1261l6 -3 8 3 -5 3z" fill="#00ff86"/><path d="M798 1288l9 -4 6 3 -8 4zM805 1285l8 -4 7 4 -8 3zM812 1283l8 -4 7 3 -8 4zM866 1302l8 -4 7 4 -8 4zM872 1305l8 -4 7 3 -7 4zM824 1282l8 -3 7 3 -8 4zM830 1284l8 -3 7 3 -8 4zM836 1287l8 -4 7 3 -8 4zM842 1289l8 -4 7 3 -8 4zM873 1300l8 -4 7 3 -8 4zM1094 1379l7 -4 9 4 -7 4zM861 1291l8 -4 7 3 -8 4zM867 1293l8 -4 7 3 -8 4zM873 1295l8 -4 7 3 -8 4zM1077 1368l8 -4 9 4 -8 4zM1092 1373l8 -4 9 4 -7 4zM1108 1379l7 -4 9 3 -7 5zM1116 1382l7 -5 9 4 -7 5zM1084 1365l7 -4 9 3 -7 5zM1099 1370l7 -4 9 4 -7 4zM1122 1379l7 -5 9 4 -7 4zM1082 1359l8 -4 9 4 -8 4zM1105 1367l7 -4 9 4 -7 4zM1111 1364l7 -4 10 4 -8 4zM1119 1367l7 -5 9 4 -7 5zM1125 1364l7 -5 9 4 -7 4zM1131 1361l7 -5 9 4 -6 4zM1137 1357l7 -4 10 4 -7 4zM1145 1360l7 -4 9 4 -7 4zM1153 1363l7 -5 9 4 -7 5zM1151 1357l7 -4 9 4 -7 4zM1159 1360l7 -5 9 4 -7 4zM1196 1328l6 -4 9 4 -6 4zM1203 1331l7 -4 9 3 -6 4zM1211 1333l6 -4 10 4 -7 4zM1201 1325l7 -4 9 4 -6 4zM1209 1328l6 -4 9 3 -6 4zM1216 1330l7 -4 9 4 -6 4zM1207 1323l6 -4 9 3 -6 4zM1214 1325l7 -4 9 3 -6 4zM1222 1327l6 -4 9 4 -6 4zM1212 1320l7 -4 9 3 -6 4zM1220 1322l6 -4 9 4 -6 4zM1218 1317l6 -4 9 4 -6 3zM1225 1319l6 -3 10 3 -6 4zM1223 1314l6 -4 9 4 -6 4zM1231 1317l6 -4 9 3 -6 4zM1236 1314l6 -4 9 3 -6 4zM1244 1316l6 -4 9 4 -6 4zM1239 1306l6 -3 9 3 -6 4zM1230 1299l6 -4 9 4 -6 3zM1237 1301l6 -3 9 3 -6 4zM1244 1304l6 -4 9 3 -5 4zM1252 1306l6 -4 9 3 -6 4zM1259 1308l6 -4 10 4 -6 4zM1235 1297l6 -4 9 3 -6 4zM1242 1299l6 -4 9 3 -6 4zM1250 1301l5 -4 10 4 -6 3zM1257 1303l6 -3 9 3 -6 4zM1247 1296l6 -3 9 3 -6 3zM1260 1296l6 -4 9 3 -6 4zM1267 1298l6 -4 9 4 -5 3zM1275 1300l6 -3 9 3 -6 4zM1265 1293l6 -3 9 3 -6 4zM1232 1276l5 -4 9 3 -6 4zM1239 1278l5 -4 9 3 -5 4zM1290 1293l5 -4 10 3 -6 4zM1251 1277l6 -3 8 3 -5 3zM1256 1275l6 -4 8 3 -5 4zM1188 1244l6 -3 8 3 -6 3zM1195 1246l5 -3 9 3 -6 3z" fill="#00ff4b"/><path d="M859 1310l8 -4 7 3 -8 4zM866 1307l8 -4 7 4 -8 4zM872 1309l8 -3 7 3 -8 4zM878 1307l8 -4 8 3 -8 4zM819 1280l8 -4 6 4 -8 3zM879 1302l8 -4 7 3 -8 4zM1056 1366l7 -5 9 4 -7 5zM1063 1368l8 -4 9 4 -8 4zM1086 1377l7 -5 9 4 -7 5zM1101 1382l8 -4 9 4 -7 4zM1109 1385l7 -4 10 4 -7 4zM825 1278l8 -4 7 3 -8 4zM831 1280l8 -4 7 3 -8 4zM855 1288l8 -3 7 3 -8 4zM879 1297l8 -4 7 4 -7 3zM1085 1371l7 -5 9 4 -7 5zM873 1290l8 -4 7 4 -7 3zM880 1292l7 -3 8 3 -8 4zM1061 1357l8 -4 8 3 -7 5zM1091 1368l7 -5 9 4 -7 4zM1075 1357l7 -5 9 4 -7 4zM1090 1362l7 -4 9 3 -7 5zM1097 1364l8 -4 9 4 -7 4zM1104 1361l7 -4 9 4 -7 4zM1118 1361l7 -4 9 3 -7 5zM1124 1358l7 -4 9 3 -7 5zM1130 1355l7 -4 9 3 -7 5zM1128 1349l7 -4 9 4 -7 4zM1136 1352l7 -4 9 3 -7 5zM1143 1354l7 -4 10 4 -7 4zM1142 1349l7 -4 9 3 -7 5zM1149 1351l7 -4 9 4 -6 4zM1157 1354l7 -4 9 3 -7 5zM1165 1357l7 -5 9 4 -7 4zM1163 1351l7 -4 9 3 -7 5zM1171 1354l6 -5 10 4 -7 4zM1175 1345l6 -4 10 4 -7 4zM1184 1334l7 -4 9 3 -6 4zM1192 1336l6 -4 10 4 -7 4zM1200 1339l6 -4 9 3 -6 4zM1183 1329l6 -4 9 3 -6 4zM1190 1331l7 -4 9 3 -7 4zM1198 1333l6 -4 9 4 -6 4zM1205 1336l7 -4 9 3 -6 4zM1159 1316l6 -4 9 4 -6 4zM1188 1326l7 -4 9 3 -7 4zM1164 1314l7 -4 9 3 -7 4zM1194 1323l6 -4 9 3 -6 4zM1199 1320l7 -4 9 4 -7 4zM1205 1317l6 -3 9 3 -6 4zM1227 1325l7 -4 9 3 -6 4zM1210 1315l6 -4 10 3 -7 4zM1233 1322l6 -4 9 3 -6 4zM1216 1312l6 -4 9 4 -6 3zM1238 1319l6 -4 10 4 -6 3zM1229 1312l6 -4 9 3 -6 4zM1226 1307l6 -4 10 3 -6 4zM1234 1309l6 -4 9 4 -6 3zM1210 1297l6 -3 9 3 -6 4zM1217 1300l6 -4 9 3 -6 4zM1224 1302l6 -4 9 3 -6 4zM1232 1304l6 -4 9 4 -6 3zM1215 1295l6 -4 9 3 -6 4zM1222 1297l6 -4 9 4 -6 3zM1220 1292l6 -3 9 3 -6 3zM1228 1294l5 -3 9 3 -5 4zM1265 1306l5 -4 10 3 -6 4zM1225 1290l6 -4 9 3 -6 4zM1233 1292l6 -4 9 3 -6 4zM1240 1294l6 -4 9 4 -6 3zM1255 1298l6 -3 9 3 -6 4zM1262 1301l6 -4 9 3 -6 4zM1270 1303l5 -4 10 3 -6 4zM1238 1289l6 -3 9 3 -6 4zM1245 1291l6 -3 9 3 -6 4zM1253 1294l5 -4 9 3 -5 4zM1250 1289l6 -4 9 4 -6 3zM1258 1291l5 -4 9 4 -5 3zM1227 1278l5 -4 9 4 -6 3zM1263 1289l5 -4 9 3 -5 4zM1270 1291l6 -4 9 3 -6 4zM1225 1273l5 -3 9 3 -6 4zM1246 1280l6 -4 9 3 -6 4zM1275 1288l6 -3 9 3 -6 3zM1282 1290l6 -3 9 3 -5 4zM1230 1271l5 -3 9 3 -6 3zM1295 1290l5 -4 10 4 -6 3zM1018 1206l7 -3 7 3 -6 3zM1235 1269l5 -4 9 3 -6 4zM1024 1204l6 -3 7 3 -6 3zM1029 1206l7 -3 7 3 -6 3zM1247 1268l5 -3 9 3 -6 3zM1254 1270l5 -3 9 3 -5 4zM1261 1272l5 -3 9 3 -5 4zM1029 1202l6 -3 7 3 -6 3zM1264 1266l5 -4 9 3 -6 4zM1271 1268l5 -4 9 3 -5 4zM1283 1267l5 -3 9 3 -5 3zM1287 1265l6 -3 9 3 -6 3zM1278 1259l5 -4 9 3 -5 4zM1285 1261l5 -4 9 3 -5 4z" fill="#00ff11"/><path d="M865 1312l8 -4 7 4 -8 4zM871 1314l8 -3 8 3 -8 4zM878 1317l8 -4 7 3 -8 4zM878 1312l8 -4 7 3 -7 4zM885 1309l8 -4 7 4 -8 4zM1087 1383l8 -5 9 4 -8 5zM1095 1386l7 -5 10 4 -8 5zM1103 1388l7 -4 9 4 -7 4zM885 1304l8 -4 7 4 -7 4zM1071 1371l7 -4 9 4 -7 4zM1078 1374l8 -4 9 3 -8 5zM837 1282l8 -4 7 4 -8 3zM843 1284l8 -4 7 4 -8 3zM849 1286l8 -4 7 4 -8 3zM885 1299l8 -4 8 4 -8 4zM1055 1360l7 -4 9 4 -7 4zM832 1275l8 -3 6 3 -7 4zM838 1277l7 -3 7 3 -8 4zM867 1288l8 -4 7 4 -7 3zM886 1295l8 -4 7 3 -8 4zM892 1297l8 -4 7 3 -8 4zM838 1273l8 -4 7 3 -8 4zM880 1288l8 -4 7 3 -8 4zM886 1290l8 -4 7 3 -8 4zM845 1270l7 -3 7 3 -7 4zM1096 1359l7 -5 9 4 -7 5zM1110 1358l7 -4 9 4 -7 4zM1116 1355l7 -4 9 4 -7 4zM1115 1350l7 -5 9 4 -7 4zM1122 1352l7 -4 9 4 -7 4zM1121 1347l7 -4 9 3 -7 4zM1127 1344l7 -4 9 3 -7 4zM1134 1346l7 -4 9 4 -7 4zM1140 1343l7 -4 9 4 -7 4zM1148 1346l7 -4 9 3 -7 5zM1155 1348l7 -4 9 4 -6 4zM1154 1343l6 -4 10 3 -7 5zM1161 1345l7 -4 9 4 -6 4zM1169 1348l7 -4 9 3 -7 5zM1177 1351l6 -5 10 4 -7 4zM1160 1340l6 -4 9 4 -6 4zM1167 1342l7 -4 9 4 -7 4zM1182 1348l7 -5 9 4 -6 4zM1150 1332l7 -4 9 4 -7 4zM1158 1335l7 -4 9 3 -7 4zM1165 1337l7 -4 9 4 -6 4zM1173 1340l7 -4 9 3 -7 4zM1181 1342l6 -4 9 4 -6 4zM1188 1345l7 -4 9 3 -6 4zM1149 1327l6 -4 9 3 -6 4zM1156 1329l7 -4 9 4 -7 4zM1164 1332l6 -4 9 3 -6 4zM1171 1334l7 -4 9 4 -7 4zM1179 1337l6 -4 9 3 -6 4zM1186 1339l7 -4 9 4 -6 4zM1194 1342l6 -4 10 3 -7 4zM1147 1322l7 -4 9 3 -7 4zM1155 1324l6 -4 9 4 -6 4zM1162 1326l7 -3 9 3 -7 4zM1169 1329l7 -4 9 3 -6 4zM1177 1331l6 -4 10 4 -7 4zM1146 1317l6 -4 9 3 -6 4zM1153 1319l7 -4 8 3 -6 4zM1160 1321l7 -4 9 4 -7 4zM1168 1324l6 -4 9 3 -6 4zM1175 1326l7 -4 9 4 -7 4zM1151 1314l7 -4 9 3 -7 4zM1166 1319l6 -4 9 3 -6 4zM1173 1321l7 -4 9 3 -7 4zM1181 1323l6 -4 9 4 -6 4zM1157 1311l6 -4 9 4 -6 4zM1172 1316l6 -4 9 3 -6 4zM1179 1318l6 -4 9 4 -6 4zM1186 1321l7 -4 9 3 -7 4zM1185 1315l6 -3 9 3 -6 4zM1192 1318l6 -4 9 3 -6 4zM1197 1315l7 -4 9 4 -7 4zM1203 1312l6 -3 9 3 -6 4zM1208 1310l6 -4 10 3 -7 4zM1199 1302l6 -3 9 3 -6 4zM1206 1305l6 -4 9 3 -6 4zM1214 1307l6 -4 9 4 -6 3zM1221 1309l6 -3 9 3 -6 4zM1197 1298l6 -4 9 3 -6 4zM1204 1300l6 -4 9 3 -6 4zM1212 1302l6 -4 9 4 -6 3zM1219 1304l6 -3 9 3 -6 4zM1203 1295l6 -4 8 4 -6 3zM1208 1293l6 -4 9 3 -6 4zM1213 1290l6 -4 9 4 -6 3zM1197 1281l6 -3 9 3 -6 3zM1204 1283l6 -3 9 3 -6 3zM1218 1287l6 -3 9 3 -6 4zM1202 1279l6 -4 9 3 -6 4zM1209 1281l6 -4 9 3 -6 4zM1216 1283l6 -4 9 3 -6 4zM1223 1285l6 -4 9 4 -6 3zM1231 1287l5 -3 9 3 -5 3zM1207 1276l6 -3 9 3 -6 3zM1214 1278l6 -3 9 3 -6 3zM1221 1280l6 -3 9 3 -6 4zM1229 1283l5 -4 9 3 -6 4zM1236 1285l6 -4 8 3 -5 4zM1243 1287l6 -4 9 3 -6 4zM1219 1276l6 -4 9 3 -6 4zM1234 1280l5 -3 9 3 -5 3zM1241 1282l6 -3 9 3 -6 3zM1248 1284l6 -3 9 3 -6 3zM1255 1286l6 -3 9 3 -6 4zM1253 1282l6 -4 9 3 -6 4zM1260 1284l6 -4 9 4 -6 3zM1268 1286l5 -3 9 3 -5 3zM1258 1279l6 -3 9 3 -6 4zM1265 1281l6 -3 9 3 -6 4zM1273 1284l5 -4 9 3 -5 4zM1280 1286l6 -4 9 3 -6 4zM1287 1288l6 -4 9 3 -5 4zM1024 1208l6 -3 8 3 -7 3zM1263 1277l6 -4 9 4 -6 3zM1270 1279l6 -3 9 3 -6 3zM1278 1281l5 -3 9 3 -5 3zM1285 1283l5 -3 10 3 -6 3zM1292 1285l6 -3 9 3 -5 4zM1300 1288l5 -4 9 3 -5 4zM1240 1266l5 -3 9 3 -6 3zM1268 1275l6 -4 9 3 -6 4zM1283 1279l5 -4 9 3 -5 4zM1290 1281l5 -4 9 3 -5 4zM1297 1283l6 -4 9 4 -6 3zM1305 1285l5 -3 9 3 -5 3zM1035 1204l6 -3 7 3 -6 3zM1157 1239l6 -3 8 3 -6 3zM1259 1268l5 -3 9 3 -5 3zM1266 1270l5 -3 9 3 -5 3zM1295 1278l5 -3 9 3 -5 3zM1302 1280l5 -3 10 3 -6 4zM1309 1283l6 -4 9 3 -5 4zM1034 1200l6 -3 7 3 -6 3zM1040 1202l6 -3 7 3 -6 3zM1162 1237l6 -3 8 2 -6 4zM1182 1242l5 -3 8 3 -5 3zM1201 1248l6 -3 9 3 -6 3zM1278 1270l5 -4 9 3 -5 4zM1300 1276l5 -4 9 4 -5 3zM1307 1278l5 -3 9 3 -5 3zM1314 1280l6 -3 9 3 -6 3zM1160 1233l6 -3 8 2 -5 4zM1186 1240l6 -3 8 3 -5 3zM1206 1246l6 -3 8 2 -5 4zM1261 1261l6 -3 9 3 -6 3zM1290 1269l5 -3 9 3 -5 3zM1312 1276l5 -4 9 3 -5 4zM1319 1278l5 -4 10 3 -6 4zM1198 1240l6 -3 8 3 -6 3zM1205 1242l5 -4 9 3 -6 4zM1266 1259l6 -3 8 3 -5 3zM1295 1267l5 -3 9 3 -5 3zM1292 1263l5 -4 9 3 -5 4z" fill="#2eff00"/><path d="M884 1319l8 -4 8 4 -8 4zM1090 1395l7 -5 10 5 -8 4zM884 1314l8 -4 8 4 -8 4zM910 1324l8 -4 8 3 -8 4zM917 1326l8 -4 7 3 -8 5zM1081 1386l7 -4 9 3 -7 5zM1088 1389l8 -5 9 4 -7 5zM1096 1392l8 -5 9 4 -7 5zM917 1321l8 -4 7 3 -7 4zM923 1323l8 -4 8 4 -8 4zM1057 1372l7 -5 9 4 -7 5zM1072 1377l7 -4 9 4 -7 4zM1079 1380l8 -5 9 4 -7 5zM1048 1363l8 -4 9 4 -8 4zM892 1302l7 -4 8 3 -8 4zM843 1279l8 -3 7 3 -8 4zM861 1286l8 -4 7 3 -8 4zM844 1275l8 -4 7 4 -8 3zM874 1285l8 -3 7 3 -8 4zM892 1292l8 -4 7 4 -7 3zM898 1294l8 -4 8 4 -8 4zM1068 1354l7 -4 9 3 -8 5zM851 1273l7 -4 7 3 -8 4zM1081 1354l7 -5 9 4 -7 4zM1089 1356l7 -4 9 4 -7 4zM851 1268l8 -3 7 3 -8 3zM857 1270l8 -3 7 3 -8 3zM1095 1353l7 -4 9 4 -7 4zM1102 1356l8 -5 9 4 -8 4zM857 1266l8 -4 7 3 -8 4zM1101 1350l7 -4 9 4 -7 4zM1109 1353l7 -5 9 4 -7 4zM1107 1347l7 -4 9 4 -7 4zM1113 1344l7 -4 9 4 -7 4zM1133 1341l7 -4 9 3 -7 4zM1139 1338l6 -4 9 3 -6 5zM1146 1340l7 -4 9 4 -7 4zM1145 1335l6 -4 9 4 -6 4zM1152 1337l7 -4 9 4 -7 4zM1143 1330l7 -4 9 3 -7 4zM1142 1324l6 -3 9 3 -7 4zM1144 1312l7 -4 8 3 -6 4zM1150 1309l6 -4 9 3 -6 4zM1148 1304l7 -4 8 4 -6 3zM1155 1306l7 -4 9 4 -7 4zM1163 1309l6 -4 9 3 -7 4zM1170 1311l6 -4 9 3 -6 4zM1177 1313l7 -4 8 4 -6 4zM1183 1310l6 -3 9 3 -6 4zM1190 1313l6 -4 9 3 -6 4zM1181 1305l6 -3 9 3 -6 4zM1188 1308l6 -4 9 3 -6 4zM1196 1310l6 -4 9 4 -6 3zM1186 1303l7 -4 8 3 -6 4zM1194 1305l6 -4 9 4 -6 3zM1201 1307l6 -3 9 3 -6 4zM1185 1298l6 -4 9 4 -7 3zM1192 1300l6 -3 9 3 -6 4zM1183 1293l6 -3 9 3 -6 4zM1190 1295l6 -3 9 3 -6 4zM1188 1291l6 -4 9 3 -6 4zM1195 1293l6 -4 9 3 -6 4zM1193 1288l7 -3 8 3 -6 3zM1201 1290l6 -3 8 3 -6 4zM1192 1284l6 -4 8 3 -6 4zM1199 1286l6 -4 9 3 -6 4zM1206 1288l6 -4 9 3 -6 4zM1190 1279l6 -4 9 4 -6 3zM1211 1285l6 -3 9 3 -6 4zM1195 1277l6 -4 9 3 -6 4zM1212 1274l6 -4 9 3 -6 4zM1218 1271l5 -3 9 3 -6 4zM1013 1208l7 -3 7 3 -7 3zM1223 1269l5 -3 9 3 -6 3zM1030 1210l6 -4 7 3 -6 3zM1153 1245l6 -3 8 3 -6 3zM1160 1247l6 -3 8 3 -6 3zM1228 1267l5 -4 9 3 -6 4zM1035 1208l6 -4 8 3 -7 3zM1158 1243l6 -3 8 3 -5 3zM1165 1245l6 -3 8 3 -6 3zM1172 1247l5 -4 9 3 -6 4zM1233 1264l5 -3 9 3 -6 3zM1275 1277l6 -4 9 3 -6 4zM1040 1206l7 -4 7 3 -6 3zM1163 1241l6 -3 8 2 -5 4zM1170 1243l6 -4 8 3 -6 4zM1177 1245l5 -4 9 3 -6 4zM1183 1246l6 -3 8 3 -6 3zM1190 1248l6 -3 8 3 -6 3zM1196 1250l6 -3 9 3 -6 3zM1245 1264l5 -3 9 3 -6 3zM1252 1266l5 -3 9 3 -6 3zM1273 1272l5 -3 9 3 -5 3zM1280 1274l6 -3 9 3 -6 3zM1287 1276l6 -3 9 3 -6 3zM1046 1204l6 -3 7 2 -6 4zM1051 1205l6 -3 8 3 -6 3zM1168 1239l6 -4 8 3 -5 4zM1175 1241l6 -4 8 3 -6 3zM1256 1264l6 -4 9 3 -6 4zM1285 1272l5 -4 9 3 -5 4zM1292 1274l6 -4 9 3 -6 4zM1039 1199l6 -4 7 3 -6 3zM1167 1235l6 -4 8 3 -6 4zM1173 1237l6 -4 8 3 -5 3zM1180 1238l6 -3 8 3 -6 3zM1297 1271l5 -3 9 3 -5 4zM1304 1274l6 -4 9 3 -6 4zM1165 1231l6 -3 8 2 -6 4zM1172 1233l6 -4 8 3 -6 3zM1178 1234l6 -3 8 3 -5 3zM1185 1236l5 -3 9 3 -6 3zM1191 1238l6 -3 8 3 -5 3zM1211 1244l6 -4 8 3 -5 4zM1302 1269l5 -3 9 3 -5 3zM1309 1271l5 -3 9 3 -5 3zM1316 1273l6 -3 9 3 -5 3zM1324 1275l5 -3 9 3 -5 3zM1164 1227l6 -3 8 3 -6 3zM1170 1229l6 -4 8 3 -6 4zM1177 1230l5 -3 9 3 -6 3zM1271 1257l5 -4 9 3 -5 4zM1299 1265l6 -4 9 3 -6 4zM1307 1267l5 -4 9 3 -5 4zM1314 1269l5 -4 9 3 -5 4zM1321 1271l5 -4 9 3 -5 4zM1328 1273l6 -4 9 3 -5 4z" fill="#6dff00"/><path d="M890 1322l8 -4 8 3 -8 4zM897 1324l8 -4 8 3 -8 4zM903 1326l8 -4 8 4 -8 4zM910 1329l8 -4 8 3 -8 4zM1074 1389l8 -4 9 4 -8 4zM1082 1392l7 -4 10 4 -8 4zM891 1316l8 -4 7 4 -8 4zM904 1321l8 -4 7 4 -8 4zM1065 1380l8 -4 9 4 -8 4zM1073 1383l7 -4 10 4 -8 4zM891 1311l8 -4 7 4 -7 4zM1042 1366l7 -4 9 4 -7 4zM1049 1369l8 -4 9 3 -8 5zM1064 1374l8 -4 9 4 -8 4zM891 1306l8 -3 8 3 -8 4zM1047 1357l8 -4 9 4 -8 4zM898 1299l8 -4 7 4 -7 3zM1054 1354l7 -4 9 4 -7 4zM850 1277l8 -4 7 4 -8 3zM1060 1351l8 -4 8 4 -7 4zM856 1275l8 -4 7 3 -8 4zM880 1283l8 -4 7 4 -7 3zM886 1285l8 -4 7 4 -7 3zM893 1287l7 -3 7 3 -7 4zM899 1289l7 -3 8 3 -8 4zM905 1292l7 -4 8 3 -8 4zM1074 1351l7 -4 9 3 -7 5zM863 1272l7 -3 7 3 -7 3zM1080 1348l7 -4 9 3 -7 5zM1088 1350l7 -4 9 4 -8 4zM863 1268l8 -4 7 3 -8 4zM1094 1348l7 -5 9 4 -7 4zM864 1263l7 -3 7 3 -7 4zM870 1265l7 -3 7 3 -7 4zM1093 1342l7 -4 8 4 -7 4zM1100 1345l7 -5 9 4 -7 4zM870 1261l8 -3 6 3 -7 3zM1106 1342l7 -4 9 3 -7 4zM1119 1341l7 -4 9 4 -7 4zM1125 1338l7 -4 9 4 -7 4zM1131 1335l7 -4 9 4 -7 4zM1137 1333l7 -4 9 3 -7 4zM1136 1327l6 -4 9 4 -6 4zM1140 1319l7 -4 8 4 -6 4zM1138 1314l7 -4 9 4 -7 4zM1143 1307l6 -4 9 3 -7 4zM1154 1301l6 -3 9 3 -6 4zM1161 1304l6 -4 9 3 -6 4zM1168 1306l7 -4 8 3 -6 4zM1175 1308l7 -4 9 4 -7 4zM1167 1301l6 -4 9 4 -7 3zM1174 1303l6 -4 9 4 -6 4zM1172 1298l6 -3 9 3 -6 4zM1179 1301l6 -4 9 3 -6 4zM1170 1294l7 -4 8 3 -6 4zM1177 1296l7 -4 8 3 -6 4zM1176 1291l6 -4 9 4 -7 3zM1181 1289l6 -4 9 3 -6 4zM1186 1286l6 -4 9 4 -6 3zM1185 1281l6 -3 8 3 -6 4zM997 1214l7 -3 7 3 -7 3zM1200 1274l6 -3 9 3 -6 3zM1003 1212l6 -3 7 3 -6 3zM1205 1272l6 -4 9 3 -6 4zM1008 1210l6 -3 7 3 -6 3zM1211 1269l5 -3 9 3 -6 3zM1019 1210l6 -3 7 2 -6 4zM1025 1211l6 -3 7 3 -6 3zM1031 1213l6 -3 7 3 -6 3zM1148 1247l6 -3 8 3 -6 3zM1216 1267l5 -3 9 3 -6 3zM1036 1211l6 -3 7 3 -6 3zM1166 1249l6 -3 9 3 -6 3zM1173 1251l6 -3 8 3 -6 3zM1180 1253l6 -4 8 3 -6 4zM1186 1255l6 -4 9 3 -6 4zM1193 1257l6 -4 8 3 -5 4zM1214 1263l5 -4 9 3 -6 4zM1221 1265l5 -4 9 3 -6 4zM1041 1209l6 -3 7 3 -6 3zM1178 1249l6 -4 8 3 -6 4zM1185 1251l6 -4 8 3 -6 4zM1191 1253l6 -4 9 3 -6 4zM1198 1254l6 -3 8 3 -5 3zM1205 1256l6 -3 8 3 -5 3zM1212 1258l6 -3 8 3 -6 3zM1219 1260l5 -3 9 3 -6 3zM1226 1262l5 -3 9 3 -6 3zM1046 1207l6 -3 8 3 -6 3zM1203 1252l6 -3 8 3 -5 3zM1210 1254l6 -3 8 3 -5 3zM1217 1256l5 -3 9 3 -6 3zM1224 1258l5 -3 9 3 -6 3zM1231 1260l5 -3 9 3 -6 3zM1238 1262l5 -3 9 3 -6 3zM1208 1250l6 -3 8 3 -5 3zM1215 1252l6 -3 8 3 -6 3zM1222 1254l5 -4 9 3 -6 4zM1229 1256l5 -4 9 3 -6 4zM1236 1258l5 -4 9 3 -6 4zM1242 1260l6 -4 9 3 -6 4zM1249 1262l6 -4 9 3 -6 4zM1213 1248l6 -4 8 3 -5 4zM1220 1250l5 -4 9 3 -6 4zM1254 1259l6 -3 9 3 -6 3zM1218 1246l6 -4 8 3 -6 3zM1183 1232l6 -3 8 3 -6 3zM1190 1234l5 -3 9 3 -6 3zM1196 1236l6 -3 8 3 -5 3zM1203 1238l5 -4 9 3 -6 4zM1209 1240l6 -4 8 3 -5 4zM1216 1241l6 -3 8 3 -5 3z" fill="#a4ff00"/><path d="M917 1331l8 -4 7 4 -8 4zM923 1334l8 -4 8 3 -8 4zM1029 1373l7 -5 9 4 -8 4zM1036 1375l8 -4 9 4 -8 4zM1044 1378l7 -4 9 4 -8 4zM1051 1381l8 -5 9 4 -8 5zM1059 1384l7 -5 9 4 -7 5zM1066 1386l8 -4 9 4 -8 4zM897 1319l8 -4 8 3 -8 4zM923 1328l8 -4 8 4 -8 4zM1035 1369l8 -4 9 4 -8 4zM1043 1372l7 -4 9 4 -7 4zM1050 1375l8 -5 9 4 -8 5zM1058 1378l7 -5 9 4 -7 5zM910 1318l8 -4 8 4 -8 4zM930 1326l8 -4 8 3 -8 4zM1041 1360l7 -4 9 4 -7 4zM1033 1352l7 -4 9 4 -7 4zM1040 1355l8 -4 8 3 -7 5zM849 1282l8 -4 7 3 -8 4zM855 1284l8 -4 7 3 -8 4zM1032 1347l8 -5 8 4 -7 4zM1039 1349l8 -4 8 4 -7 4zM1047 1352l7 -4 9 3 -8 5zM868 1283l8 -3 7 3 -8 4zM905 1296l7 -3 8 3 -8 4zM1046 1346l7 -4 9 4 -8 4zM1053 1349l7 -4 9 3 -7 4zM911 1294l8 -4 7 3 -7 4zM1059 1346l8 -4 8 3 -7 4zM1067 1348l7 -4 9 4 -8 4zM1073 1345l7 -4 9 4 -7 4zM869 1270l8 -4 7 3 -8 4zM1079 1342l7 -4 9 4 -7 4zM1086 1345l7 -4 9 3 -7 5zM875 1267l8 -3 7 3 -8 4zM1085 1340l7 -5 9 4 -7 4zM876 1263l7 -3 7 3 -7 3zM1091 1337l7 -4 9 3 -7 4zM1099 1339l7 -4 8 4 -7 4zM876 1259l8 -4 7 3 -8 4zM882 1261l8 -4 7 3 -8 4zM1105 1336l7 -4 8 4 -7 4zM1112 1339l7 -4 9 3 -7 4zM882 1257l8 -4 7 3 -8 4zM1118 1336l7 -4 9 3 -7 4zM1124 1333l7 -4 9 3 -7 5zM1130 1330l7 -4 8 4 -6 4zM1134 1322l7 -4 9 4 -7 4zM1137 1309l7 -4 8 4 -6 4zM1147 1299l6 -4 9 4 -7 3zM1159 1299l7 -4 8 3 -6 4zM1165 1296l6 -4 9 4 -6 3zM1163 1291l6 -3 9 3 -6 4zM1162 1287l6 -4 8 3 -6 4zM1169 1289l6 -4 8 3 -6 4zM1160 1282l6 -3 9 3 -6 3zM1167 1284l6 -3 9 3 -6 3zM1174 1286l6 -3 9 3 -6 4zM1165 1280l7 -4 8 3 -6 4zM1172 1282l6 -4 9 3 -6 4zM1179 1284l6 -4 9 3 -6 4zM1178 1279l6 -3 8 3 -6 4zM1183 1277l6 -4 9 3 -6 4zM992 1216l6 -3 7 3 -6 3zM998 1218l6 -4 7 3 -6 4zM1004 1219l6 -3 7 3 -6 3zM1188 1274l6 -3 9 3 -6 4zM1003 1216l6 -3 8 2 -7 4zM1009 1217l6 -3 7 3 -6 3zM1015 1219l6 -3 7 3 -6 3zM1193 1272l6 -3 9 3 -6 3zM1008 1214l7 -3 7 2 -6 4zM1014 1215l7 -3 7 3 -7 3zM1020 1217l6 -3 8 3 -7 3zM1026 1219l6 -3 8 3 -7 3zM1093 1239l6 -4 8 3 -6 4zM1014 1212l6 -3 7 2 -6 4zM1020 1213l6 -3 7 3 -6 3zM1025 1215l7 -3 7 3 -6 3zM1031 1217l7 -3 7 3 -6 3zM1037 1219l6 -4 8 3 -6 3zM1043 1220l6 -3 8 3 -6 3zM1049 1222l6 -3 8 3 -6 3zM1055 1224l6 -3 8 3 -6 3zM1037 1215l6 -3 7 3 -6 3zM1042 1217l7 -4 7 3 -6 3zM1048 1218l7 -3 7 3 -6 3zM1054 1220l6 -3 8 3 -6 3zM1060 1222l6 -3 8 2 -6 4zM1155 1249l6 -3 8 3 -6 3zM1175 1255l6 -3 8 3 -6 3zM1181 1257l6 -3 9 3 -6 3zM1209 1265l5 -3 9 3 -6 3zM1042 1213l6 -3 7 3 -6 3zM1048 1215l6 -4 7 3 -6 3zM1054 1216l6 -3 7 3 -6 3zM1060 1218l6 -3 7 3 -6 3zM1200 1259l6 -4 8 3 -5 4zM1207 1261l6 -4 8 3 -6 4zM1047 1211l6 -3 7 3 -6 3zM1053 1213l6 -4 7 3 -6 3zM1052 1209l6 -3 7 3 -6 3zM1227 1252l5 -4 9 3 -6 4zM1234 1254l5 -4 9 3 -6 4zM1240 1255l6 -3 9 3 -6 3zM1247 1257l6 -3 9 3 -6 3zM1225 1247l5 -3 9 3 -6 3zM1232 1249l5 -3 9 3 -6 3zM1259 1257l6 -3 8 3 -5 3zM1223 1243l5 -3 9 3 -6 3zM1230 1245l5 -3 9 3 -6 3zM1264 1255l5 -4 9 3 -5 4z" fill="#b8ff00"/><path d="M930 1336l8 -4 8 4 -8 4zM937 1339l8 -5 8 4 -8 4zM1021 1370l8 -5 9 4 -8 5zM930 1331l8 -4 8 3 -8 4zM937 1333l7 -4 8 4 -7 4zM1006 1359l8 -5 8 4 -7 4zM1028 1367l8 -5 8 4 -7 5zM897 1314l8 -4 8 3 -8 4zM904 1316l8 -4 7 4 -8 4zM937 1328l7 -4 8 3 -7 5zM943 1330l8 -4 8 4 -8 4zM1006 1353l7 -4 9 4 -8 4zM1013 1356l7 -5 9 4 -8 4zM1020 1358l7 -4 9 4 -7 4zM1027 1361l8 -4 8 3 -7 5zM1034 1364l8 -5 9 4 -8 4zM923 1318l8 -4 8 4 -8 4zM930 1320l8 -4 8 4 -8 4zM937 1323l7 -4 8 3 -8 4zM998 1345l8 -4 8 3 -8 5zM1005 1347l8 -4 8 4 -8 4zM1012 1350l8 -4 8 4 -7 4zM1019 1353l8 -5 8 4 -7 4zM1026 1355l8 -4 9 4 -8 4zM1034 1358l7 -4 9 3 -8 5zM1004 1342l8 -4 8 3 -7 5zM1011 1344l8 -4 8 4 -7 4zM1019 1347l7 -4 9 4 -8 4zM1026 1350l7 -5 9 4 -8 4zM1011 1339l7 -4 9 4 -8 4zM1018 1342l7 -5 9 4 -8 4zM1025 1344l7 -4 9 4 -7 4zM856 1279l8 -4 7 4 -8 3zM1017 1336l8 -4 8 4 -7 4zM1024 1339l8 -4 8 3 -7 4zM1031 1341l8 -4 8 4 -7 4zM1039 1344l7 -4 8 3 -7 4zM862 1277l8 -4 7 3 -8 4zM868 1279l8 -4 7 3 -8 4zM874 1281l8 -4 7 3 -8 4zM1031 1336l7 -4 8 3 -7 4zM1038 1338l7 -4 9 4 -8 4zM1045 1341l7 -4 9 3 -8 4zM1052 1343l7 -4 9 4 -7 4zM869 1274l7 -3 7 3 -7 4zM887 1281l7 -4 8 3 -8 4zM893 1283l7 -4 8 3 -8 4zM899 1285l8 -4 7 3 -8 4zM905 1287l8 -4 7 4 -8 3zM911 1289l8 -4 7 4 -7 3zM917 1291l8 -3 7 3 -7 4zM1066 1343l7 -4 8 3 -7 5zM1072 1340l7 -4 9 3 -8 5zM1078 1337l7 -4 9 4 -7 4zM882 1265l7 -3 7 3 -7 3zM1084 1334l7 -4 9 4 -7 4zM888 1263l7 -4 7 3 -7 4zM1041 1315l7 -4 8 3 -7 4zM1048 1317l7 -4 8 3 -7 4zM1097 1334l7 -4 9 3 -7 4zM888 1258l8 -3 7 3 -8 4zM894 1260l8 -3 7 3 -8 4zM1103 1331l7 -4 9 3 -7 4zM1111 1333l7 -4 8 4 -7 4zM889 1254l7 -3 7 3 -7 3zM1117 1331l6 -5 9 4 -7 4zM895 1252l7 -3 7 3 -7 3zM1123 1328l6 -4 9 3 -7 4zM1128 1325l7 -4 9 3 -7 4zM1133 1317l6 -4 9 4 -6 3zM1131 1312l7 -4 9 3 -7 4zM1141 1302l7 -4 8 3 -6 4zM1152 1297l7 -4 8 3 -6 4zM953 1230l7 -3 7 3 -7 3zM1158 1294l6 -4 9 4 -7 3zM959 1228l7 -3 7 3 -7 3zM1156 1289l6 -3 9 3 -6 4zM964 1226l7 -3 7 3 -6 3zM1155 1285l6 -4 8 3 -6 4zM970 1224l7 -3 7 3 -7 3zM1153 1280l6 -4 9 4 -6 3zM1159 1278l6 -4 8 3 -6 4zM981 1220l7 -3 7 3 -7 3zM1171 1277l6 -3 8 3 -6 3zM987 1218l6 -3 7 3 -6 3zM992 1220l7 -4 7 3 -7 4zM998 1221l7 -3 7 3 -7 3zM1046 1236l6 -4 8 3 -6 4zM1176 1275l6 -4 9 3 -6 4zM1009 1221l7 -3 7 3 -6 3zM1015 1223l7 -3 7 3 -6 3zM1045 1232l7 -3 7 3 -6 3zM1051 1234l7 -4 7 3 -6 4zM1057 1236l7 -4 7 3 -6 4zM1021 1221l6 -3 7 3 -6 3zM1027 1223l6 -4 7 3 -6 4zM1038 1226l7 -3 7 3 -6 3zM1045 1228l6 -3 7 3 -6 3zM1051 1230l6 -4 7 3 -6 4zM1057 1232l6 -4 7 3 -6 4zM1063 1233l6 -3 8 3 -7 3zM1032 1221l6 -4 8 3 -7 4zM1038 1222l6 -3 7 3 -6 3zM1044 1224l6 -3 7 3 -6 3zM1050 1226l6 -3 8 3 -7 3zM1056 1228l6 -4 8 3 -7 4zM1062 1229l6 -3 8 3 -6 3zM1199 1270l5 -4 9 3 -6 4zM1061 1226l6 -4 8 3 -6 4zM1204 1267l5 -3 9 3 -6 3zM1161 1251l6 -3 8 3 -5 3zM1168 1253l6 -3 8 3 -6 3zM1188 1259l6 -3 8 3 -5 3zM1202 1263l6 -3 8 3 -6 3zM1059 1214l6 -3 7 3 -6 3zM1238 1251l6 -3 8 3 -5 3zM1245 1253l6 -3 8 3 -5 3zM1252 1255l6 -3 8 3 -5 3zM1236 1247l6 -3 8 3 -5 3zM1243 1249l6 -3 8 3 -5 3zM1250 1251l6 -3 8 3 -5 3zM1257 1253l5 -3 9 3 -5 3z" fill="#ccff00"/><path d="M943 1341l8 -4 8 4 -7 4zM950 1344l8 -5 8 4 -8 4zM957 1346l8 -4 8 4 -8 4zM964 1349l8 -4 8 3 -8 4zM971 1351l8 -4 8 4 -8 4zM978 1354l8 -4 8 3 -8 5zM999 1362l8 -5 9 4 -8 5zM1007 1364l7 -4 9 4 -8 4zM1014 1367l8 -4 8 4 -7 4zM943 1336l8 -4 8 3 -8 4zM950 1338l8 -4 8 4 -8 4zM957 1341l8 -4 8 3 -8 4zM964 1343l8 -4 8 4 -8 4zM971 1346l8 -4 8 3 -8 4zM978 1348l7 -4 9 4 -8 4zM985 1351l7 -4 9 3 -8 5zM999 1356l8 -4 8 4 -8 4zM1013 1361l8 -4 9 4 -8 4zM1021 1364l7 -4 9 3 -8 5zM950 1333l8 -4 8 3 -8 4zM957 1335l8 -4 8 4 -8 4zM964 1338l7 -4 8 3 -7 4zM970 1340l8 -4 8 4 -7 4zM977 1343l8 -4 8 3 -7 4zM984 1345l8 -4 8 4 -7 4zM991 1348l8 -4 8 3 -7 5zM998 1350l8 -4 8 4 -7 4zM898 1309l8 -4 7 3 -8 4zM917 1316l8 -4 7 3 -7 4zM943 1325l8 -4 8 4 -8 4zM950 1328l8 -4 8 3 -8 4zM957 1330l7 -4 8 4 -7 4zM963 1332l8 -4 8 4 -8 4zM970 1335l8 -4 8 3 -8 5zM977 1337l8 -4 8 4 -8 4zM991 1342l8 -4 8 4 -8 4zM898 1304l8 -4 7 3 -8 4zM937 1318l7 -4 8 3 -8 4zM943 1320l8 -4 8 4 -8 4zM950 1322l7 -4 8 4 -7 4zM956 1325l8 -4 8 3 -8 4zM963 1327l8 -4 8 4 -8 4zM970 1330l8 -4 8 3 -8 4zM977 1332l7 -4 8 4 -7 4zM997 1339l8 -4 8 4 -7 4zM950 1317l7 -4 8 4 -8 4zM956 1320l8 -4 8 3 -8 4zM963 1322l8 -4 7 4 -7 4zM1004 1337l7 -5 9 4 -8 4zM862 1281l8 -3 7 3 -8 4zM963 1317l7 -4 8 3 -7 4zM1003 1331l8 -4 8 4 -7 4zM1010 1334l8 -4 8 3 -7 4zM1017 1331l7 -4 8 3 -7 4zM1024 1333l7 -4 8 4 -7 4zM875 1276l7 -3 7 3 -7 4zM881 1278l7 -3 7 3 -7 4zM1044 1335l7 -4 9 4 -7 4zM1051 1338l7 -4 9 3 -7 4zM1058 1340l8 -4 8 4 -7 4zM875 1272l8 -4 7 3 -8 4zM918 1287l7 -4 8 3 -8 4zM924 1289l7 -4 8 3 -8 4zM1057 1335l8 -4 8 3 -7 5zM1065 1337l7 -4 8 4 -7 4zM1064 1332l7 -4 8 4 -7 4zM1071 1335l7 -5 8 4 -7 4zM888 1267l7 -3 7 3 -7 3zM1035 1317l7 -4 8 4 -7 4zM1042 1320l7 -4 8 3 -7 4zM1077 1332l7 -4 9 3 -7 4zM894 1265l7 -4 7 3 -7 4zM1090 1331l7 -4 9 4 -7 4zM900 1262l7 -3 8 3 -8 4zM1096 1328l7 -4 9 4 -7 4zM894 1256l8 -3 7 3 -8 3zM900 1258l8 -3 7 3 -8 3zM906 1260l7 -3 8 3 -8 3zM1109 1328l7 -4 9 4 -7 4zM900 1254l8 -4 7 4 -8 3zM1115 1325l7 -4 9 4 -7 4zM901 1250l7 -4 7 3 -7 4zM1121 1322l7 -3 9 3 -7 4zM907 1248l7 -4 7 3 -7 4zM1120 1317l6 -4 9 4 -7 4zM1127 1320l7 -4 8 3 -6 4zM913 1245l7 -3 7 3 -7 3zM1126 1315l6 -4 9 3 -7 4zM919 1243l7 -3 7 3 -7 3zM924 1241l7 -3 8 3 -8 3zM930 1239l7 -4 7 3 -7 4zM1136 1304l6 -3 9 3 -7 4zM936 1237l7 -4 7 3 -7 4zM942 1235l7 -4 7 3 -7 4zM948 1232l6 -3 7 3 -6 3zM959 1232l7 -3 7 3 -7 3zM1151 1292l6 -4 9 3 -7 4zM965 1230l6 -3 8 3 -7 3zM970 1228l7 -3 7 3 -7 3zM1148 1282l6 -3 8 3 -6 4zM976 1226l6 -3 8 3 -7 3zM1146 1278l6 -4 9 4 -6 3zM976 1222l6 -3 7 3 -6 3zM981 1224l7 -3 7 2 -6 4zM987 1226l7 -4 7 3 -7 4zM987 1222l6 -3 8 2 -7 4zM993 1224l6 -4 7 3 -6 3zM999 1225l6 -3 7 3 -6 3zM1164 1275l6 -3 8 3 -6 3zM1004 1223l6 -3 8 3 -7 3zM1010 1225l6 -3 8 3 -7 3zM1016 1227l6 -4 8 3 -7 4zM1040 1234l6 -3 8 3 -7 3zM1052 1238l6 -4 8 3 -6 4zM1021 1225l7 -4 7 3 -6 4zM1027 1226l7 -3 7 3 -6 3zM1033 1228l6 -3 8 3 -6 3zM1039 1230l6 -3 8 3 -6 3zM1064 1237l6 -3 8 3 -7 3zM1181 1272l6 -3 9 3 -6 4zM1033 1224l6 -3 7 3 -6 3zM1186 1270l6 -3 9 3 -6 3zM1150 1252l6 -4 8 3 -6 4zM1195 1261l6 -3 8 3 -6 3z" fill="#e1ff00"/><path d="M985 1356l8 -4 8 4 -7 4zM992 1359l8 -4 8 4 -7 4zM992 1353l8 -4 8 4 -8 4zM984 1340l8 -4 8 3 -8 5zM930 1315l8 -4 7 4 -7 4zM984 1334l7 -4 8 4 -7 4zM990 1337l8 -4 8 3 -7 5zM904 1301l8 -4 8 4 -8 4zM943 1315l8 -4 7 3 -7 4zM970 1324l7 -4 8 4 -7 4zM976 1327l8 -4 8 3 -8 4zM983 1329l8 -4 8 4 -8 4zM990 1332l8 -4 8 3 -8 4zM997 1334l7 -4 9 4 -8 4zM911 1299l8 -4 7 3 -8 4zM956 1315l8 -4 7 3 -7 4zM969 1319l8 -4 8 4 -8 4zM976 1322l8 -4 8 3 -8 4zM983 1324l7 -4 8 4 -7 4zM990 1326l7 -4 8 4 -7 4zM996 1329l8 -4 8 3 -7 4zM917 1296l8 -4 7 4 -7 3zM969 1314l8 -4 8 4 -8 4zM976 1316l7 -3 8 3 -7 4zM982 1319l8 -4 8 3 -7 4zM989 1321l8 -4 8 4 -8 4zM996 1324l7 -4 9 3 -8 4zM1003 1326l7 -4 8 4 -7 4zM1010 1328l7 -4 8 4 -7 4zM924 1293l7 -3 8 3 -8 4zM1016 1326l7 -4 9 3 -8 4zM1023 1328l7 -4 9 4 -8 4zM1030 1330l7 -4 9 4 -8 4zM1037 1333l7 -4 9 3 -8 5zM905 1282l8 -3 7 3 -7 4zM911 1284l8 -3 7 3 -7 4zM930 1291l8 -4 7 3 -7 4zM1029 1325l7 -4 9 4 -7 4zM1050 1332l7 -4 9 4 -7 4zM881 1269l8 -3 7 3 -8 4zM1035 1322l8 -4 8 4 -7 4zM1056 1330l8 -4 8 3 -7 4zM1049 1322l7 -4 8 4 -7 4zM1063 1327l7 -4 8 3 -7 4zM1070 1329l7 -4 8 4 -7 4zM900 1267l7 -4 7 3 -7 4zM1076 1326l7 -4 8 4 -7 4zM1083 1329l7 -4 9 3 -7 4zM906 1264l7 -3 7 3 -7 4zM1047 1312l7 -4 8 3 -7 4zM912 1262l7 -3 8 3 -8 3zM1102 1326l7 -4 9 3 -7 4zM906 1256l8 -4 7 4 -8 3zM912 1258l8 -4 7 3 -8 4zM1108 1323l7 -4 9 3 -7 4zM907 1252l7 -4 7 3 -7 4zM912 1254l8 -4 7 3 -8 4zM1114 1320l7 -4 8 4 -6 4zM913 1249l7 -3 7 3 -7 4zM1113 1315l6 -4 9 4 -7 3zM918 1247l8 -3 7 3 -7 3zM1118 1312l7 -4 9 4 -7 4zM924 1245l7 -3 8 3 -8 3zM1124 1310l7 -4 8 3 -6 4zM930 1243l7 -4 7 3 -7 4zM1130 1307l6 -4 9 4 -6 3zM936 1241l7 -4 7 3 -7 4zM942 1239l7 -4 7 3 -7 4zM948 1236l7 -3 7 3 -7 3zM954 1238l6 -3 8 3 -7 3zM1140 1297l6 -4 9 3 -7 4zM953 1234l7 -3 7 3 -7 3zM959 1236l7 -3 7 3 -7 3zM1145 1294l7 -3 8 3 -6 4zM965 1234l7 -3 7 3 -7 3zM971 1232l6 -3 7 2 -6 4zM1149 1287l7 -4 8 4 -6 3zM976 1230l7 -4 7 3 -7 4zM982 1228l6 -4 7 3 -6 4zM988 1229l6 -3 7 3 -6 3zM1133 1274l6 -4 8 3 -6 4zM1139 1276l7 -4 8 3 -6 4zM993 1227l7 -3 7 3 -7 3zM999 1229l6 -3 8 3 -7 3zM1131 1269l7 -3 8 3 -6 3zM1138 1271l6 -3 9 3 -7 4zM1145 1273l6 -3 8 3 -6 4zM1152 1275l6 -3 8 3 -6 4zM1004 1227l7 -3 7 3 -6 3zM1010 1229l7 -3 7 3 -6 3zM1041 1238l6 -3 7 3 -6 3zM1047 1240l6 -4 8 3 -7 4zM1130 1265l6 -4 8 4 -6 3zM1137 1267l6 -4 8 4 -6 3zM1022 1229l6 -4 8 3 -7 4zM1028 1230l6 -3 8 3 -7 3zM1034 1232l6 -3 8 3 -7 3zM1135 1263l6 -4 9 3 -6 4zM1081 1239l7 -3 7 3 -6 3zM1094 1243l6 -4 8 3 -6 4zM1170 1257l5 -3 9 3 -6 3zM1176 1259l6 -3 9 3 -6 3zM1183 1261l6 -3 8 3 -5 3zM1197 1265l6 -3 8 3 -6 3z" fill="#f5ff00"/><path d="M904 1311l8 -4 7 4 -7 4zM910 1313l8 -4 8 4 -8 4zM937 1313l7 -4 8 3 -8 4zM950 1312l7 -4 8 4 -8 4zM962 1312l8 -4 8 3 -8 4zM982 1314l7 -4 8 3 -7 4zM989 1316l7 -4 8 4 -7 4zM996 1318l7 -4 8 4 -7 4zM1002 1321l8 -4 8 3 -8 4zM1009 1323l8 -4 8 4 -8 4zM893 1278l8 -4 7 4 -8 3zM899 1280l8 -3 7 3 -8 3zM1022 1323l8 -4 8 3 -7 4zM1036 1328l7 -4 9 3 -7 4zM1043 1330l7 -4 9 4 -7 4zM930 1286l8 -3 7 3 -7 4zM936 1288l8 -3 7 3 -7 4zM1029 1320l7 -4 8 4 -7 4zM1042 1325l8 -4 8 3 -7 4zM1049 1327l8 -4 8 4 -7 4zM894 1269l7 -3 7 3 -7 3zM1028 1315l7 -4 8 4 -7 3zM1056 1324l7 -4 8 4 -7 4zM906 1269l7 -4 7 3 -7 4zM1034 1312l7 -4 8 4 -7 4zM1055 1319l7 -4 8 4 -7 4zM1062 1322l7 -4 8 3 -7 4zM1069 1324l7 -4 8 4 -7 4zM912 1266l7 -3 8 3 -8 4zM1054 1314l7 -4 8 4 -7 4zM1089 1326l7 -4 9 4 -7 4zM918 1264l7 -3 8 3 -8 3zM924 1266l7 -3 8 3 -8 3zM1095 1323l7 -4 8 4 -6 4zM918 1260l7 -4 8 3 -8 4zM924 1262l7 -4 8 3 -8 4zM918 1256l8 -4 7 3 -8 4zM924 1258l7 -4 8 3 -8 4zM1107 1318l7 -4 8 3 -7 4zM918 1251l8 -3 7 3 -8 3zM924 1253l7 -3 8 3 -8 3zM930 1255l7 -3 8 3 -8 3zM1106 1313l6 -4 9 3 -7 4zM924 1249l7 -3 8 3 -8 3zM930 1251l7 -3 7 3 -7 3zM936 1253l7 -3 7 3 -7 3zM1111 1310l7 -4 9 4 -7 3zM930 1247l7 -4 7 4 -7 3zM936 1249l7 -4 7 3 -7 4zM1117 1307l7 -3 8 3 -6 4zM936 1245l7 -4 7 3 -7 4zM942 1243l7 -4 7 3 -7 4zM948 1244l7 -3 7 3 -7 3zM948 1240l7 -3 7 3 -7 3zM954 1242l7 -3 7 3 -7 3zM959 1240l7 -3 7 3 -6 3zM965 1238l7 -3 7 3 -7 3zM976 1234l7 -4 7 3 -6 4zM982 1232l7 -4 7 3 -7 4zM1134 1278l6 -3 9 3 -7 3zM1141 1280l6 -3 9 3 -7 4zM993 1231l7 -3 7 3 -6 3zM1126 1272l6 -4 8 3 -6 4zM1005 1231l6 -3 8 3 -7 3zM1118 1265l6 -3 8 3 -6 3zM1125 1267l6 -3 8 3 -6 3zM1016 1231l7 -4 7 3 -6 4zM1022 1232l7 -3 7 3 -6 3zM1028 1234l7 -3 7 3 -6 3zM1034 1236l7 -3 7 3 -6 3zM1123 1263l7 -4 8 4 -6 3zM1143 1269l7 -4 8 4 -6 3zM1150 1271l6 -4 9 4 -6 3zM1157 1273l6 -3 9 3 -7 3zM1058 1240l7 -4 7 3 -6 4zM1129 1261l6 -4 8 3 -6 4zM1142 1265l6 -4 8 3 -6 4zM1169 1273l6 -4 9 3 -6 4zM1095 1247l6 -4 8 3 -6 4zM1174 1270l6 -3 9 3 -6 4zM1088 1241l6 -4 8 3 -7 4zM1180 1268l5 -4 9 4 -6 3zM1144 1254l6 -4 9 3 -6 4zM1192 1268l5 -4 9 3 -6 4zM1156 1253l6 -3 8 3 -6 4zM1163 1255l6 -3 8 3 -6 3zM1190 1263l6 -3 8 3 -6 3z" fill="#fff200"/><path d="M924 1313l7 -4 8 4 -8 3zM943 1310l8 -4 7 3 -7 4zM956 1310l7 -4 8 3 -7 4zM969 1309l7 -4 8 4 -7 4zM975 1311l8 -3 8 3 -8 4zM881 1274l8 -4 7 4 -8 3zM887 1276l8 -4 7 4 -8 3zM936 1293l8 -4 7 4 -7 3zM988 1311l8 -4 8 4 -8 4zM995 1313l7 -4 8 4 -7 4zM1002 1316l7 -4 8 3 -7 4zM887 1272l8 -4 7 3 -8 4zM924 1284l7 -4 8 4 -8 3zM943 1291l7 -4 8 3 -8 4zM918 1269l7 -4 8 3 -8 4zM1040 1310l7 -4 8 3 -7 4zM1061 1317l7 -4 8 3 -7 4zM1075 1321l7 -4 8 4 -7 4zM1082 1324l7 -4 8 3 -7 4zM930 1264l7 -4 8 3 -8 4zM1101 1320l7 -3 8 3 -6 4zM930 1260l7 -4 8 3 -8 4zM936 1261l7 -3 8 3 -8 4zM1100 1315l6 -4 9 4 -7 4zM936 1257l7 -3 8 3 -8 3zM942 1255l7 -4 7 4 -7 3zM942 1251l7 -4 7 3 -7 4zM942 1247l7 -4 7 3 -7 4zM1123 1305l6 -4 9 3 -7 4zM1134 1299l7 -3 8 3 -6 4zM965 1242l7 -3 7 3 -6 3zM1133 1295l6 -4 9 3 -7 4zM971 1240l7 -4 7 3 -7 4zM1071 1271l6 -4 8 4 -6 3zM1077 1273l7 -4 8 4 -7 3zM1138 1292l7 -4 8 4 -6 3zM971 1236l7 -4 7 3 -7 4zM977 1238l6 -4 8 3 -7 4zM1144 1290l6 -4 9 3 -7 4zM982 1235l7 -3 7 3 -6 3zM1142 1285l7 -4 8 4 -6 3zM988 1233l7 -3 7 3 -7 3zM1120 1274l7 -3 8 3 -6 3zM1127 1276l7 -3 8 3 -6 3zM999 1233l7 -3 7 3 -6 3zM1113 1268l6 -4 8 3 -6 4zM1119 1270l6 -4 9 3 -7 4zM1011 1233l6 -4 8 3 -7 4zM1017 1235l6 -4 8 3 -7 4zM1041 1242l7 -3 7 3 -6 3zM1111 1263l7 -3 8 3 -7 3zM1053 1242l6 -4 8 3 -6 4zM1149 1267l6 -4 8 3 -6 4zM1089 1245l6 -4 8 3 -6 4zM1101 1249l7 -4 8 3 -7 4zM1134 1258l6 -3 8 3 -6 3zM1141 1260l6 -3 8 3 -6 3zM1133 1254l6 -3 8 3 -6 3zM1139 1256l6 -3 8 3 -6 3zM1171 1262l6 -4 8 3 -5 4zM1178 1264l6 -4 8 3 -6 4zM1185 1266l6 -4 8 3 -6 4z" fill="#ffd700"/><path d="M930 1310l8 -4 7 4 -7 4zM949 1307l8 -4 8 4 -8 4zM930 1296l8 -4 7 3 -7 4zM962 1307l8 -4 8 3 -8 4zM982 1309l7 -4 8 3 -7 4zM1009 1318l7 -4 8 4 -7 4zM1015 1320l8 -4 8 4 -7 4zM899 1276l8 -4 7 3 -7 4zM905 1278l8 -4 7 3 -7 4zM912 1280l7 -4 7 3 -7 4zM918 1282l7 -4 8 4 -8 3zM1008 1313l7 -4 8 4 -7 4zM1015 1315l7 -4 8 4 -7 4zM1022 1318l7 -4 8 3 -7 4zM900 1271l7 -3 7 3 -7 3zM943 1286l7 -4 8 3 -8 4zM1021 1313l7 -4 8 3 -7 4zM912 1271l7 -4 7 3 -7 4zM1068 1319l7 -4 8 3 -7 4zM930 1268l7 -3 8 3 -8 3zM1046 1307l7 -4 8 3 -7 4zM1053 1309l7 -4 8 4 -7 4zM1088 1321l7 -4 8 3 -7 4zM936 1266l7 -4 8 3 -7 4zM942 1263l7 -3 8 3 -7 4zM1031 1293l7 -4 8 3 -7 4zM1038 1295l7 -4 8 4 -7 3zM942 1259l7 -3 8 3 -8 3zM948 1261l7 -3 8 3 -7 3zM1037 1290l7 -3 8 3 -7 4zM1104 1308l7 -4 9 3 -7 4zM1103 1303l7 -4 8 3 -6 4zM1110 1305l7 -4 8 4 -6 3zM948 1249l7 -4 7 3 -7 4zM954 1246l7 -3 7 3 -7 3zM960 1244l6 -3 8 3 -7 3zM977 1242l7 -4 7 3 -7 4zM1064 1269l7 -4 8 4 -7 3zM1084 1275l6 -3 9 3 -7 3zM983 1239l6 -3 8 3 -7 3zM1063 1265l7 -4 8 3 -7 4zM1070 1267l6 -4 8 3 -6 4zM1076 1269l7 -4 8 3 -7 4zM1083 1271l6 -4 8 3 -6 4zM988 1237l7 -3 7 3 -6 3zM1115 1277l6 -4 9 3 -7 4zM1122 1279l6 -4 8 3 -6 4zM994 1235l6 -3 8 3 -7 3zM1114 1272l6 -4 8 4 -6 3zM1005 1235l7 -3 7 3 -6 3zM1011 1237l7 -4 7 3 -6 4zM1106 1266l6 -4 8 3 -6 4zM1023 1236l6 -3 8 3 -7 3zM1029 1238l6 -3 8 3 -7 3zM1035 1240l7 -3 7 3 -6 3zM1047 1244l7 -4 7 3 -6 4zM1079 1253l6 -3 8 3 -6 3zM1084 1251l7 -3 7 3 -6 3zM1117 1261l6 -4 8 4 -6 3zM1090 1249l6 -3 8 3 -6 3zM1096 1251l6 -4 8 3 -6 4zM1155 1269l7 -4 8 3 -6 4zM1162 1271l6 -4 9 3 -6 4zM1147 1262l6 -3 9 3 -6 3zM1173 1266l6 -4 8 4 -6 3zM1164 1260l6 -4 9 3 -6 4z" fill="#ffbb00"/><path d="M904 1306l8 -4 8 4 -8 4zM917 1311l8 -4 7 3 -7 4zM917 1301l8 -4 7 3 -7 4zM936 1308l8 -4 8 3 -8 4zM924 1298l7 -4 8 4 -8 4zM956 1305l7 -4 8 3 -7 4zM975 1306l8 -3 7 3 -7 4zM893 1274l8 -4 7 3 -7 4zM995 1308l7 -3 8 3 -7 4zM1001 1311l8 -4 8 3 -8 4zM906 1273l7 -3 7 3 -7 4zM936 1284l8 -4 7 3 -7 4zM949 1288l7 -4 8 4 -7 3zM1014 1310l7 -4 9 4 -8 4zM1027 1310l7 -4 8 4 -7 3zM924 1271l7 -4 8 3 -8 4zM1033 1307l7 -4 8 4 -7 4zM1039 1305l7 -4 8 3 -7 4zM1060 1312l7 -4 8 3 -7 4zM1039 1300l6 -4 9 3 -7 4zM1059 1307l7 -4 8 3 -7 4zM1094 1318l7 -4 8 4 -7 4zM948 1265l8 -3 7 3 -7 4zM1025 1291l6 -4 8 3 -6 4zM1044 1297l7 -4 9 4 -7 4zM954 1263l7 -3 8 3 -7 3zM1030 1288l7 -4 8 4 -7 3zM1044 1292l7 -3 8 3 -7 4zM1098 1310l7 -3 9 3 -7 4zM948 1257l7 -4 8 4 -8 3zM954 1259l7 -4 8 3 -7 4zM960 1261l7 -4 8 3 -7 4zM1090 1303l7 -4 8 4 -6 4zM1097 1305l7 -3 8 3 -6 4zM948 1253l7 -4 7 3 -7 4zM1089 1298l7 -3 8 3 -6 4zM1096 1301l7 -4 8 3 -6 4zM1102 1298l6 -4 9 4 -7 3zM1109 1300l6 -4 9 4 -7 4zM1116 1302l6 -3 9 3 -7 4zM1114 1298l7 -4 9 3 -7 4zM1128 1302l7 -4 9 4 -7 3zM1120 1295l7 -4 8 4 -6 3zM1127 1297l7 -4 8 4 -6 4zM971 1244l7 -4 7 3 -6 4zM1059 1271l6 -3 8 3 -6 4zM1072 1275l6 -3 8 3 -6 4zM1078 1278l7 -4 8 3 -7 4zM1126 1292l6 -3 9 3 -7 4zM1058 1267l6 -4 8 4 -6 3zM989 1241l6 -3 8 3 -7 3zM1089 1273l7 -4 8 3 -6 4zM1110 1279l6 -4 8 4 -6 3zM994 1239l7 -3 7 3 -6 3zM1082 1266l6 -3 8 3 -6 3zM1088 1268l7 -3 8 3 -7 3zM1095 1270l6 -3 9 3 -7 3zM1102 1272l6 -3 8 3 -6 4zM1108 1274l7 -3 8 3 -6 4zM1129 1281l6 -4 8 3 -6 4zM1135 1283l7 -4 8 3 -6 4zM1000 1237l6 -3 8 3 -7 3zM1006 1239l6 -4 8 3 -7 4zM1094 1266l6 -4 8 4 -6 3zM1100 1268l7 -4 8 4 -6 3zM1107 1270l6 -4 9 4 -7 3zM1017 1239l7 -4 7 3 -6 4zM1036 1244l6 -3 8 3 -7 3zM1085 1255l7 -3 8 3 -7 3zM1091 1253l6 -3 8 3 -6 3zM1064 1241l7 -3 7 3 -6 3zM1122 1259l6 -4 8 3 -6 4zM1082 1243l7 -3 7 3 -6 3zM1127 1256l6 -3 9 3 -6 3zM1154 1264l6 -3 8 3 -6 3zM1168 1268l6 -3 8 3 -6 3zM1146 1258l6 -3 8 3 -6 3zM1159 1262l6 -4 9 4 -6 3zM1166 1264l6 -4 8 4 -6 3zM1151 1256l6 -4 8 3 -6 4zM1158 1258l6 -4 8 3 -6 4z" fill="#ff9900"/><path d="M911 1308l7 -4 8 4 -8 4zM911 1303l8 -3 7 3 -8 4zM924 1308l7 -4 8 4 -8 3zM943 1305l7 -4 8 4 -7 3zM969 1304l7 -4 8 4 -8 4zM912 1275l7 -3 7 3 -7 4zM930 1282l8 -4 7 3 -7 4zM918 1273l7 -4 8 4 -8 3zM949 1283l7 -3 8 3 -8 4zM955 1286l7 -4 8 3 -7 4zM993 1289l7 -4 8 4 -7 3zM999 1291l8 -3 7 3 -7 4zM1033 1302l7 -3 8 3 -7 4zM1081 1319l7 -4 8 3 -7 4zM942 1268l8 -4 7 3 -7 4zM999 1287l7 -4 8 3 -7 4zM1005 1289l7 -4 8 3 -7 4zM1025 1295l7 -3 8 3 -7 4zM1032 1298l7 -4 8 3 -7 4zM1045 1302l7 -4 8 4 -7 3zM1052 1304l7 -4 8 4 -7 4zM1051 1299l7 -3 8 3 -7 4zM960 1265l8 -3 7 3 -7 3zM966 1263l7 -4 8 3 -7 4zM1043 1288l7 -4 8 3 -7 4zM1077 1299l6 -4 9 3 -7 4zM1083 1301l7 -4 9 3 -7 4zM1082 1296l7 -4 8 4 -6 3zM954 1250l7 -3 7 3 -7 4zM1095 1296l7 -4 8 3 -7 4zM960 1248l7 -3 7 3 -7 3zM1067 1282l7 -3 8 3 -7 4zM1074 1285l6 -4 8 3 -6 4zM1108 1295l6 -3 9 3 -7 4zM1121 1300l7 -4 9 3 -7 4zM966 1246l6 -3 8 3 -7 3zM1073 1280l6 -4 8 4 -6 3zM1079 1282l7 -4 8 4 -7 3zM1052 1269l7 -3 8 3 -7 3zM1065 1273l7 -3 8 3 -7 4zM1085 1280l6 -4 9 3 -7 4zM983 1244l7 -4 7 3 -7 4zM1091 1277l6 -3 8 3 -6 3zM1131 1290l7 -4 8 4 -6 3zM1057 1263l6 -4 8 3 -6 4zM1096 1275l7 -4 8 3 -7 4zM1103 1277l6 -4 8 3 -6 4zM1116 1281l7 -4 8 4 -6 3zM1137 1287l6 -3 9 3 -7 4zM1000 1241l7 -3 7 3 -6 3zM1069 1262l6 -3 8 3 -6 3zM1075 1264l7 -3 8 3 -7 3zM1012 1241l6 -4 8 3 -7 4zM1023 1240l7 -3 7 3 -6 3zM1030 1242l6 -3 8 3 -7 3zM1042 1246l6 -3 8 3 -6 3zM1067 1254l6 -4 8 3 -6 4zM1073 1256l7 -4 8 3 -7 4zM1099 1264l7 -4 8 3 -7 4zM1054 1246l6 -4 8 3 -7 4zM1073 1251l6 -3 8 3 -7 4zM1059 1244l6 -4 8 3 -6 4zM1078 1249l6 -3 8 3 -6 3zM1083 1247l7 -3 7 3 -6 3zM1161 1266l6 -3 8 3 -6 3zM1152 1260l6 -3 9 3 -6 3z" fill="#ff7700"/><path d="M930 1305l8 -4 7 4 -7 4zM949 1302l8 -4 7 4 -7 4zM943 1295l7 -3 8 3 -8 4zM962 1302l7 -4 8 4 -7 3zM949 1293l7 -4 8 3 -7 4zM988 1306l7 -4 8 4 -7 4zM1008 1308l7 -4 8 4 -7 3zM943 1281l7 -3 7 3 -7 4zM1020 1308l8 -4 8 3 -7 4zM955 1281l7 -4 8 4 -8 3zM961 1283l7 -4 8 4 -7 3zM993 1294l7 -4 8 3 -7 4zM1026 1305l8 -4 8 4 -7 3zM936 1270l8 -3 7 3 -7 3zM1006 1294l7 -4 8 3 -7 4zM1026 1300l7 -4 8 4 -7 4zM1067 1314l7 -4 8 3 -7 4zM992 1284l8 -3 7 3 -7 4zM1012 1291l7 -4 8 4 -7 3zM1019 1293l7 -4 8 4 -7 3zM1066 1309l7 -4 8 3 -7 4zM1011 1286l7 -3 8 3 -7 4zM1018 1288l7 -3 8 3 -7 4zM1093 1313l6 -4 9 4 -7 4zM1024 1286l7 -4 8 4 -7 3zM1050 1295l7 -4 8 3 -6 4zM1078 1304l6 -4 9 3 -7 4zM1085 1306l6 -4 9 3 -7 4zM1091 1308l7 -4 9 4 -7 4zM973 1265l7 -4 7 3 -7 4zM1036 1286l7 -4 8 3 -7 4zM1050 1290l6 -4 8 3 -6 4zM1070 1296l7 -3 8 3 -7 4zM954 1255l7 -4 7 3 -7 4zM978 1263l7 -4 8 3 -7 4zM1076 1294l6 -4 9 3 -7 4zM1068 1287l7 -4 8 4 -7 3zM1075 1289l6 -4 8 4 -6 4zM1081 1291l7 -3 8 3 -6 4zM1088 1294l7 -4 8 3 -7 4zM1060 1280l7 -3 8 3 -7 4zM1080 1287l7 -4 8 3 -6 4zM1101 1293l6 -4 9 4 -7 4zM1046 1272l7 -4 8 3 -7 4zM1053 1274l7 -4 7 3 -6 4zM1086 1284l7 -3 8 3 -7 3zM1113 1293l7 -4 8 3 -6 4zM977 1246l7 -4 7 3 -6 4zM1092 1282l6 -4 8 3 -6 4zM1119 1290l6 -3 9 3 -7 4zM989 1245l7 -3 7 3 -7 3zM1051 1265l7 -4 8 4 -7 3zM1097 1279l7 -3 8 3 -7 4zM1104 1281l6 -3 9 3 -7 4zM1111 1284l6 -4 8 3 -6 4zM995 1243l6 -3 8 3 -7 3zM1123 1283l6 -3 9 3 -7 3zM1006 1243l7 -4 7 4 -6 3zM1062 1260l7 -3 8 3 -7 3zM1018 1243l7 -4 7 3 -7 4zM1068 1258l6 -4 8 4 -6 3zM1087 1264l7 -4 8 4 -7 3zM1048 1248l7 -3 7 3 -6 3zM1061 1252l6 -4 8 3 -6 4zM1080 1258l6 -4 8 3 -6 4zM1105 1261l6 -3 8 3 -6 3z" fill="#ff5400"/><path d="M917 1306l8 -4 7 3 -7 4zM924 1303l7 -4 8 4 -8 3zM930 1300l8 -3 7 3 -7 4zM936 1298l8 -4 8 3 -8 4zM949 1298l8 -4 7 3 -7 4zM956 1300l7 -4 8 3 -8 4zM975 1302l7 -4 8 3 -7 4zM981 1304l8 -4 8 3 -8 4zM918 1277l7 -3 8 3 -8 4zM924 1280l7 -4 8 3 -8 4zM981 1299l7 -4 8 4 -7 3zM1001 1306l7 -4 8 3 -7 4zM987 1296l7 -3 8 3 -7 4zM930 1273l7 -4 8 3 -7 4zM968 1285l7 -4 7 4 -7 4zM987 1292l7 -4 8 3 -7 4zM974 1283l7 -4 7 3 -7 4zM986 1287l8 -4 7 4 -7 3zM1013 1296l7 -4 8 3 -7 4zM1019 1298l7 -4 8 3 -7 4zM1074 1316l7 -4 8 4 -7 4zM1087 1316l7 -4 8 3 -7 4zM954 1268l8 -4 7 3 -7 4zM1005 1284l7 -4 8 4 -7 3zM1058 1302l7 -4 8 3 -7 4zM1065 1304l7 -4 8 3 -7 4zM1072 1306l7 -4 8 4 -7 4zM967 1267l7 -3 7 3 -7 3zM1017 1284l7 -4 8 3 -7 4zM1057 1297l7 -4 8 3 -7 4zM1064 1299l7 -4 8 4 -7 3zM1071 1301l7 -4 8 4 -7 4zM1017 1279l7 -3 7 3 -6 3zM1023 1281l7 -3 8 3 -7 4zM1030 1283l7 -3 8 3 -7 4zM960 1257l7 -4 7 3 -7 4zM966 1259l7 -4 8 3 -7 4zM972 1261l7 -4 8 3 -7 4zM1023 1277l6 -4 8 3 -7 4zM1055 1287l7 -3 8 3 -6 4zM984 1260l7 -3 8 3 -7 3zM1061 1285l7 -4 8 3 -7 4zM1054 1278l6 -3 8 3 -6 3zM1087 1289l7 -4 8 3 -7 4zM1094 1291l6 -4 9 4 -7 3zM1059 1276l7 -4 8 3 -7 4zM1066 1278l7 -4 8 3 -7 4zM1106 1291l7 -4 8 3 -6 4zM1098 1284l7 -4 8 3 -6 4zM1112 1288l6 -4 9 4 -7 3zM1118 1286l6 -4 8 3 -6 4zM1124 1288l7 -4 8 3 -6 4zM1001 1245l6 -3 8 3 -7 3zM1050 1261l7 -4 8 3 -7 4zM1130 1285l6 -3 9 3 -7 4zM1024 1244l7 -3 7 3 -6 4zM1030 1246l7 -3 7 3 -6 3zM1055 1254l7 -3 7 3 -6 3zM1062 1256l6 -3 8 3 -7 3zM1074 1260l7 -4 8 4 -7 3zM1081 1262l6 -4 8 4 -6 3zM1054 1250l7 -4 8 3 -7 4zM1060 1248l6 -4 8 3 -6 4zM1066 1250l7 -4 7 3 -6 4zM1110 1259l6 -4 8 4 -6 3zM1103 1253l6 -4 8 3 -6 4zM1121 1254l6 -3 8 3 -6 3z" fill="#ff3200"/><path d="M936 1303l8 -4 8 3 -8 4zM943 1300l7 -4 8 4 -8 3zM968 1299l8 -3 7 3 -7 4zM955 1290l8 -4 7 4 -7 4zM975 1297l7 -4 8 3 -8 4zM936 1279l8 -3 7 3 -7 3zM961 1288l8 -4 7 3 -7 4zM981 1294l7 -4 8 4 -7 4zM1014 1305l7 -3 8 3 -7 4zM949 1279l7 -4 7 3 -7 4zM1000 1296l7 -4 8 4 -7 3zM967 1281l8 -4 7 3 -7 4zM980 1285l7 -4 8 3 -7 4zM986 1282l7 -3 8 3 -7 4zM998 1282l8 -4 7 4 -7 3zM1079 1308l6 -3 9 3 -7 4zM1004 1280l7 -4 8 3 -7 4zM1011 1282l7 -4 8 3 -7 4zM979 1267l7 -4 7 3 -7 4zM1010 1277l7 -4 8 4 -7 3zM1056 1292l7 -4 8 4 -7 3zM1063 1294l7 -3 8 3 -7 4zM1029 1279l7 -4 8 3 -7 4zM1049 1285l7 -3 8 3 -7 4zM1062 1290l7 -4 8 3 -7 4zM1069 1292l7 -4 8 3 -7 4zM960 1252l7 -3 7 3 -7 3zM1035 1276l7 -3 8 3 -7 4zM1055 1283l6 -4 8 3 -6 4zM966 1250l7 -3 7 3 -7 3zM1041 1274l6 -4 8 4 -6 3zM1047 1276l7 -4 8 4 -7 3zM972 1248l6 -4 8 4 -7 3zM1093 1286l6 -3 9 3 -7 4zM1100 1288l6 -3 8 3 -6 4zM983 1248l7 -4 7 3 -6 4zM989 1250l7 -4 8 3 -7 4zM1046 1267l6 -3 8 3 -7 3zM1105 1286l7 -4 8 4 -7 3zM995 1247l7 -3 7 3 -7 3zM1045 1263l6 -4 8 3 -6 4zM1044 1259l7 -4 7 3 -6 4zM1012 1245l7 -4 7 3 -6 4zM1050 1256l6 -3 8 3 -7 3zM1056 1258l7 -3 7 3 -6 3zM1036 1248l7 -3 8 3 -7 3zM1086 1260l7 -4 8 3 -7 4zM1093 1262l6 -4 8 3 -6 4zM1092 1257l6 -3 8 3 -6 3zM1097 1255l6 -3 8 3 -6 3zM1071 1243l6 -3 8 3 -7 3zM1077 1245l6 -3 8 3 -6 3z" fill="#ff1000"/><path d="M955 1295l8 -4 7 4 -7 3zM962 1297l7 -4 8 4 -7 4zM988 1301l7 -4 8 4 -7 4zM994 1303l7 -3 8 3 -7 4zM924 1275l7 -4 8 4 -8 3zM994 1299l7 -4 8 3 -7 4zM974 1287l7 -3 8 3 -7 4zM980 1289l8 -3 7 3 -7 4zM1006 1298l8 -4 8 4 -8 4zM1020 1303l7 -4 8 3 -7 4zM961 1278l7 -3 8 3 -7 4zM948 1270l8 -4 7 3 -7 4zM1073 1311l7 -4 8 4 -7 4zM1086 1311l6 -4 9 3 -7 4zM973 1269l7 -3 7 3 -7 3zM985 1265l7 -4 7 3 -7 4zM1016 1275l7 -4 8 3 -7 4zM1036 1281l6 -4 8 4 -6 3zM1042 1283l7 -4 8 4 -7 3zM978 1258l7 -3 8 3 -7 3zM990 1262l7 -3 8 3 -7 3zM1028 1274l7 -3 8 3 -7 4zM1048 1281l7 -4 8 3 -7 4zM990 1258l7 -4 7 4 -6 3zM996 1260l7 -4 8 3 -7 4zM978 1250l6 -4 8 3 -7 4zM1002 1258l7 -4 7 3 -6 4zM1032 1259l7 -4 8 4 -7 3zM1039 1261l6 -4 8 4 -7 3zM1007 1247l6 -3 8 3 -7 3zM1038 1257l6 -4 8 3 -6 4zM1019 1247l6 -4 8 3 -7 4zM1049 1252l6 -3 8 3 -6 3zM1098 1259l7 -3 8 3 -7 3zM1065 1245l7 -3 7 3 -6 3zM1072 1247l6 -3 8 3 -7 3zM1104 1257l6 -3 8 3 -6 3zM1116 1257l6 -4 8 3 -6 4z" fill="#ff0700"/><path d="M930 1277l7 -4 8 4 -7 3zM1000 1301l8 -4 7 3 -7 4zM1007 1303l7 -4 8 4 -7 4zM936 1275l8 -4 7 3 -7 4zM942 1277l8 -4 7 3 -7 4zM1013 1301l7 -4 8 3 -7 4zM942 1272l8 -3 7 3 -7 3zM980 1280l7 -3 7 3 -7 4zM1080 1313l7 -3 8 3 -7 4zM961 1270l7 -4 7 3 -7 4zM992 1280l7 -4 8 4 -7 3zM1041 1279l7 -4 8 3 -7 4zM984 1256l7 -4 7 4 -7 3zM1034 1272l7 -4 8 4 -7 3zM984 1252l6 -4 8 3 -7 4zM990 1254l7 -4 7 3 -7 4zM996 1256l7 -4 7 3 -7 4zM1008 1260l7 -4 8 3 -7 4zM1040 1270l7 -4 7 3 -6 4zM995 1251l7 -3 8 3 -7 4zM1008 1255l6 -3 8 3 -7 3zM1014 1257l7 -3 7 3 -6 3zM1001 1249l7 -3 7 3 -6 3zM1013 1253l7 -3 8 3 -7 3zM1020 1255l6 -3 8 3 -7 3zM1026 1257l7 -4 7 4 -6 3zM1025 1249l6 -4 8 3 -7 4zM1043 1254l7 -3 8 3 -7 3zM1043 1250l6 -3 8 3 -7 3zM1109 1255l6 -4 8 3 -6 4z" fill="#fe0000"/><path d="M968 1290l7 -4 8 3 -7 4zM973 1278l8 -4 7 4 -7 3zM998 1277l7 -3 8 3 -7 4zM1004 1275l7 -4 8 4 -7 3zM966 1254l7 -3 7 3 -7 3zM972 1256l7 -3 7 3 -7 3zM1022 1272l7 -3 8 3 -7 4zM972 1252l7 -3 7 3 -7 3zM978 1254l7 -3 7 3 -7 3zM1003 1262l6 -4 8 3 -7 4zM1002 1253l6 -3 8 3 -7 3zM1020 1259l7 -3 8 3 -7 3zM1027 1261l6 -3 8 3 -7 3zM1033 1263l7 -3 7 3 -6 3zM1039 1265l7 -3 8 3 -7 3zM1007 1251l7 -3 7 3 -6 3zM1013 1249l7 -4 7 4 -7 3zM1019 1251l7 -4 7 3 -6 4zM1025 1253l7 -4 8 3 -7 4zM1032 1255l6 -4 8 3 -7 4zM1031 1250l6 -3 8 3 -6 4zM1037 1252l7 -3 7 3 -6 4z" fill="#f80000"/><path d="M962 1292l7 -3 8 3 -8 4zM968 1295l7 -4 8 3 -7 4zM974 1292l7 -4 8 4 -7 3zM955 1276l7 -3 8 3 -8 4zM967 1276l7 -4 8 4 -7 3zM967 1272l7 -4 7 3 -7 4zM985 1269l7 -4 8 3 -7 4zM1015 1262l6 -4 8 3 -7 4z" fill="#f10000"/><path d="M949 1274l7 -3 7 3 -7 4zM973 1274l7 -4 8 3 -7 4zM979 1271l7 -3 8 3 -7 3zM1010 1273l7 -4 7 3 -6 4zM997 1264l7 -3 7 3 -7 3zM1028 1270l7 -4 7 4 -6 3zM1021 1264l7 -4 7 3 -6 4zM1034 1268l6 -4 8 3 -7 4z" fill="#eb0000"/><path d="M955 1272l7 -4 7 4 -7 3zM961 1274l7 -4 8 4 -8 3zM986 1278l7 -4 7 3 -7 4zM991 1267l7 -4 7 3 -7 4zM1016 1270l6 -3 8 3 -7 3zM1009 1264l7 -4 7 3 -7 4zM1027 1266l7 -4 8 3 -7 4z" fill="#e40000"/><path d="M1015 1266l7 -4 8 3 -7 4zM1021 1268l7 -4 8 4 -7 3z" fill="#d90000"/><path d="M979 1276l7 -4 8 3 -7 4zM992 1275l7 -3 7 3 -7 4zM991 1271l7 -4 8 4 -7 3zM998 1273l7 -4 7 4 -7 3z" fill="#c80000"/><path d="M985 1273l7 -3 8 3 -7 4z" fill="#b70000"/><path d="M997 1269l7 -4 8 3 -7 4zM1003 1271l7 -4 8 3 -7 4zM1003 1266l7 -3 7 3 -6 3zM1009 1268l7 -3 8 3 -7 3z" fill="#a60000"/><path d="M1050 1066l5 10 7 3 -5 -4z" fill="#2a4b00"/><path d="M1056 1073l5 4 7 8 -6 -3z" fill="#1e4c00"/><path d="M1044 1076l6 -10 7 8 -6 5z" fill="#518204"/><path d="M1061 1080l5 4 8 4 -5 -4z" fill="#114000"/><path d="M1050 1078l6 -5 7 8 -6 2z" fill="#346c00"/><path d="M1039 1084l6 -9 7 2 -6 8z" fill="#367c02"/><path d="M1067 1084l6 4 7 -1 -6 -4z" fill="#0c2c00"/><path d="M1056 1081l6 -1 7 5 -6 -1z" fill="#1f5100"/><path d="M1034 1091l6 -9 7 2 -6 9z" fill="#197100"/><path d="M1045 1085l6 -8 7 4 -6 5z" fill="#2e7100"/><path d="M1073 1084l6 4 7 -3 -6 -6z" fill="#091700"/><path d="M1062 1083l5 2 8 -1 -5 -2z" fill="#153600"/><path d="M1029 1098l6 -8 7 1 -6 10z" fill="#016700"/><path d="M1040 1093l6 -10 7 1 -6 7z" fill="#1a6100"/><path d="M1051 1085l6 -5 7 3 -5 1z" fill="#235600"/><path d="M1023 1101l7 -4 7 2 -6 4z" fill="#004807"/><path d="M1079 1080l6 6 7 -6 -6 -8z" fill="#0d1600"/><path d="M1068 1083l6 2 7 -5 -6 -1z" fill="#112200"/><path d="M1035 1100l6 -9 7 -2 -5 5z" fill="#084a00"/><path d="M1057 1084l5 0 8 -1 -6 -2z" fill="#1b3a00"/><path d="M1046 1090l5 -6 8 -1 -6 0z" fill="#1a4400"/><path d="M1030 1102l6 -1 6 -8 -6 1z" fill="#012400"/><path d="M1063 1083l5 1 8 -5 -5 4z" fill="#152700"/><path d="M1085 1073l6 8 7 -4 -6 -13z" fill="#101700"/><path d="M1018 1094l7 8 6 0 -6 -10z" fill="#011400"/><path d="M1074 1080l6 1 7 -9 -6 -1z" fill="#0f1600"/><path d="M1041 1095l5 -5 8 -6 -6 0z" fill="#0e2900"/><path d="M1052 1085l5 0 8 -3 -6 -4z" fill="#172b00"/><path d="M1091 1064l6 13 7 5 -5 -6z" fill="#213000"/><path d="M1024 1093l6 10 7 -8 -6 -8z" fill="#041500"/><path d="M1035 1096l6 -1 7 -11 -6 1z" fill="#071500"/><path d="M1069 1083l6 -2 7 -10 -6 1z" fill="#151f00"/><path d="M1057 1079l7 5 7 -1 -6 -9z" fill="#101900"/><path d="M1080 1072l6 2 7 -10 -5 4z" fill="#273400"/><path d="M1046 1086l6 0 8 -7 -6 -2z" fill="#111c00"/><path d="M1013 1086l6 10 7 -2 -6 -15z" fill="#091500"/><path d="M1097 1074l6 6 7 10 -6 -3z" fill="#2d4a00"/><path d="M1086 1069l6 -5 7 12 -6 0z" fill="#4a6300"/><path d="M1103 1085l6 3 7 6 -6 -1z" fill="#1f5000"/><path d="M1030 1088l6 8 7 -10 -6 -3z" fill="#0a1600"/><path d="M1075 1074l5 -1 8 -4 -5 3z" fill="#364900"/><path d="M1063 1075l7 8 7 -10 -6 -3z" fill="#121a00"/><path d="M1041 1087l6 -1 7 -9 -6 2z" fill="#121d00"/><path d="M1052 1078l6 2 8 -5 -6 -3z" fill="#131b00"/><path d="M1019 1079l6 15 7 -5 -6 -13z" fill="#0d1600"/><path d="M1092 1074l6 0 7 12 -6 -1z" fill="#416100"/><path d="M1008 1086l6 1 7 -7 -7 -2z" fill="#0e1600"/><path d="M1109 1092l5 1 8 3 -5 1z" fill="#185100"/><path d="M1081 1071l6 -3 7 7 -6 3z" fill="#567300"/><path d="M1069 1071l6 3 8 -2 -6 -1z" fill="#354500"/><path d="M1098 1084l6 0 7 9 -6 -1z" fill="#2e5a00"/><path d="M1036 1084l6 4 7 -8 -6 1z" fill="#192600"/><path d="M1047 1081l6 -2 7 -7 -5 4z" fill="#263500"/><path d="M1058 1073l6 3 8 -5 -6 -2z" fill="#243000"/><path d="M1025 1076l6 14 7 -6 -6 -6z" fill="#101900"/><path d="M1115 1095l6 0 8 2 -6 3z" fill="#165900"/><path d="M1087 1076l6 -2 7 11 -6 0z" fill="#4a6c00"/><path d="M1002 1087l6 0 7 -8 -6 3z" fill="#1c2b00"/><path d="M1013 1080l7 1 7 -5 -6 0z" fill="#1d2900"/><path d="M1104 1091l6 0 7 5 -5 1z" fill="#215900"/><path d="M1076 1071l6 -1 7 7 -6 1z" fill="#516c00"/><path d="M1042 1082l5 -1 8 -5 -6 6z" fill="#354c00"/><path d="M1064 1070l6 1 8 1 -6 1z" fill="#4a5d00"/><path d="M1093 1083l6 0 7 9 -6 -1z" fill="#3a6000"/><path d="M1053 1077l6 -5 7 -3 -6 8z" fill="#435700"/><path d="M1031 1079l6 6 7 -3 -6 1z" fill="#2b4000"/><path d="M1121 1099l6 -3 8 3 -6 5z" fill="#166800"/><path d="M1019 1077l6 -1 8 4 -7 1z" fill="#374d00"/><path d="M1110 1095l6 0 8 4 -6 3z" fill="#1c6400"/><path d="M1082 1077l6 -2 7 10 -6 0z" fill="#4c6c00"/><path d="M1008 1083l6 -5 7 -2 -6 7z" fill="#354c00"/><path d="M997 1084l6 3 7 -5 -6 -1z" fill="#1d2b00"/><path d="M1099 1090l6 0 7 6 -6 1z" fill="#2a5e00"/><path d="M1070 1071l7 -1 7 8 -6 1z" fill="#597400"/><path d="M1048 1082l6 -7 7 0 -6 8z" fill="#4b6800"/><path d="M1059 1076l6 -7 8 2 -7 8z" fill="#5e7900"/><path d="M1036 1082l6 0 8 -1 -6 3z" fill="#3a5300"/><path d="M1128 1103l6 -5 7 2 -6 5z" fill="#146c00"/><path d="M1088 1083l6 0 7 8 -6 -1z" fill="#3f6100"/><path d="M1116 1101l6 -3 8 4 -6 7z" fill="#147402"/><path d="M1025 1080l6 -2 8 4 -7 2z" fill="#3c5500"/><path d="M1014 1082l6 -6 7 4 -6 3z" fill="#425c00"/><path d="M1002 1083l7 1 7 -3 -6 0z" fill="#2b3e00"/><path d="M1105 1095l6 -1 8 7 -6 3z" fill="#206800"/><path d="M1077 1078l6 -2 7 8 -6 0z" fill="#4d6c00"/><path d="M991 1079l7 6 7 -2 -7 -6z" fill="#151d00"/><path d="M1065 1078l6 -7 8 7 -7 4z" fill="#618001"/><path d="M1094 1089l6 0 7 7 -6 1z" fill="#336200"/><path d="M1054 1082l6 -7 7 2 -6 7z" fill="#567600"/><path d="M1042 1083l6 -3 8 2 -6 2z" fill="#3e5900"/><path d="M1134 1105l6 -5 7 1 -5 5z" fill="#136600"/><path d="M1123 1108l6 -7 7 3 -6 7z" fill="#0b7301"/><path d="M1031 1083l6 -1 8 1 -6 -3z" fill="#304400"/><path d="M1111 1102l6 -2 8 8 -6 5z" fill="#0e7602"/><path d="M1083 1083l6 0 7 7 -6 0z" fill="#406000"/><path d="M1020 1082l6 -3 7 4 -5 -3z" fill="#344900"/><path d="M1008 1082l6 0 8 0 -6 -2z" fill="#2d3f00"/><path d="M1100 1095l6 -1 7 9 -6 2z" fill="#236800"/><path d="M1071 1080l6 -3 8 7 -6 0z" fill="#4d6b00"/><path d="M997 1077l7 7 7 -2 -7 -6z" fill="#1b2400"/><path d="M1060 1084l6 -7 7 3 -6 4z" fill="#517000"/><path d="M1048 1083l7 -2 7 2 -6 3z" fill="#405a00"/><path d="M1140 1106l6 -6 8 1 -6 7z" fill="#156600"/><path d="M1117 1112l7 -5 7 2 -6 10z" fill="#057d0b"/><path d="M1129 1110l6 -7 7 2 -5 5z" fill="#0c6e00"/><path d="M986 1074l6 6 7 -2 -6 -7z" fill="#171e00"/><path d="M1089 1088l6 0 7 8 -6 1z" fill="#386000"/><path d="M1037 1081l6 3 8 -1 -7 -6z" fill="#273600"/><path d="M1106 1103l6 -1 7 11 -5 0z" fill="#0b6500"/><path d="M1026 1081l6 3 7 -3 -6 -5z" fill="#202c00"/><path d="M1077 1082l6 0 8 7 -6 -2z" fill="#3e5900"/><path d="M1014 1081l7 2 7 -2 -6 -4z" fill="#222e00"/><path d="M1003 1077l6 6 8 -2 -7 -5z" fill="#1d2600"/><path d="M1095 1095l6 0 7 9 -6 1z" fill="#256100"/><path d="M1066 1084l6 -5 8 4 -6 -1z" fill="#445d00"/><path d="M1124 1119l6 -11 7 0 -6 14z" fill="#02750c"/><path d="M1055 1085l5 -3 8 1 -6 3z" fill="#3c5400"/><path d="M1135 1109l6 -5 8 2 -6 9z" fill="#0c7001"/><path d="M1147 1107l5 -7 8 1 -6 6z" fill="#1a6600"/><path d="M1113 1111l5 0 8 8 -6 1z" fill="#00600a"/><path d="M991 1072l7 7 7 -1 -6 -6z" fill="#1d2300"/><path d="M1043 1078l6 6 8 1 -6 -4z" fill="#2b3a00"/><path d="M1084 1086l6 2 7 9 -6 -2z" fill="#375600"/><path d="M980 1073l7 2 7 -2 -7 -3z" fill="#2a3200"/><path d="M1032 1078l6 4 7 -3 -6 -5z" fill="#1f2700"/><path d="M1101 1103l6 -1 7 11 -5 -4z" fill="#0f5200"/><path d="M1020 1078l7 4 7 -4 -6 -3z" fill="#1b2200"/><path d="M1072 1082l6 0 8 5 -6 -4z" fill="#3d5300"/><path d="M1130 1121l6 -13 8 5 -6 10z" fill="#01710c"/><path d="M1119 1119l5 -2 8 4 -6 2z" fill="#005d13"/><path d="M1009 1077l6 5 8 -4 -7 -4z" fill="#1b2200"/><path d="M1142 1114l5 -8 8 0 -6 8z" fill="#0c6c00"/><path d="M1061 1085l5 -2 8 -1 -5 1z" fill="#374b00"/><path d="M1153 1107l6 -7 8 1 -6 6z" fill="#206600"/><path d="M1090 1093l6 2 7 9 -6 -2z" fill="#265000"/><path d="M997 1073l7 6 7 -2 -6 -5z" fill="#202700"/><path d="M1049 1081l6 5 8 -1 -5 -2z" fill="#2e3f00"/><path d="M1107 1108l6 3 7 9 -5 -9z" fill="#023900"/><path d="M986 1071l6 3 8 -1 -7 -3z" fill="#2f3600"/><path d="M1038 1075l6 4 7 3 -5 -6z" fill="#2a3500"/><path d="M974 1075l7 -1 7 -4 -6 1z" fill="#3e4900"/><path d="M1079 1083l5 2 8 10 -6 -4z" fill="#364e00"/><path d="M1125 1122l6 -3 8 3 -6 4z" fill="#005d16"/><path d="M1026 1076l7 3 7 -4 -6 -2z" fill="#262d00"/><path d="M1137 1122l5 -10 8 0 -6 12z" fill="#016d0b"/><path d="M1096 1100l5 3 8 6 -5 -7z" fill="#143a00"/><path d="M1148 1114l6 -9 7 1 -5 8z" fill="#116900"/><path d="M1015 1075l6 4 8 -3 -7 -4z" fill="#1e2400"/><path d="M1067 1083l6 -2 8 2 -6 1z" fill="#3c4f00"/><path d="M1159 1107l6 -7 8 1 -6 6z" fill="#256800"/><path d="M1055 1083l6 3 8 -3 -6 -1z" fill="#2f3e00"/><path d="M1114 1111l5 9 8 3 -6 -9z" fill="#002d03"/><path d="M1003 1073l7 5 7 -3 -6 -4z" fill="#202500"/><path d="M1085 1089l5 4 8 9 -5 -7z" fill="#273e00"/><path d="M1044 1077l6 5 7 2 -5 -5z" fill="#2c3900"/><path d="M992 1071l6 3 7 -1 -6 -3z" fill="#2e3500"/><path d="M969 1080l6 -6 7 -3 -6 6z" fill="#455200"/><path d="M980 1072l6 -2 8 1 -6 -1z" fill="#404800"/><path d="M1131 1125l6 -4 8 1 -6 10z" fill="#016d1e"/><path d="M1102 1103l6 6 8 4 -6 -9z" fill="#0d2e00"/><path d="M1143 1123l6 -11 7 1 -6 12z" fill="#006b07"/><path d="M1032 1074l6 0 8 4 -6 -4z" fill="#323b00"/><path d="M1073 1083l6 -1 7 9 -5 -3z" fill="#394e00"/><path d="M1154 1114l6 -9 8 1 -6 8z" fill="#166a00"/><path d="M1120 1114l6 9 7 3 -5 -5z" fill="#003807"/><path d="M1166 1107l6 -7 7 1 -5 6z" fill="#2a6700"/><path d="M1021 1073l6 4 8 -3 -7 -3z" fill="#272d00"/><path d="M1061 1083l6 0 8 0 -5 -1z" fill="#394a00"/><path d="M1091 1094l6 8 7 2 -6 -7z" fill="#1b3000"/><path d="M1009 1072l7 4 7 -3 -6 -4z" fill="#1f2300"/><path d="M1050 1080l6 5 8 -2 -6 -4z" fill="#313e00"/><path d="M998 1071l6 3 7 -2 -6 -4z" fill="#252900"/><path d="M1138 1131l6 -10 7 2 -6 14z" fill="#027125"/><path d="M963 1088l7 -10 7 -3 -7 8z" fill="#364400"/><path d="M1109 1104l5 9 8 2 -6 -8z" fill="#0f3e00"/><path d="M986 1071l6 1 8 -1 -7 -3z" fill="#373c00"/><path d="M1039 1074l5 4 8 2 -5 -2z" fill="#343f00"/><path d="M1079 1086l6 3 8 7 -6 -8z" fill="#2a3c00"/><path d="M975 1076l6 -5 7 -1 -6 1z" fill="#424a00"/><path d="M1127 1120l5 4 8 7 -6 1z" fill="#005116"/><path d="M1149 1125l6 -13 8 0 -6 11z" fill="#006502"/><path d="M1161 1114l6 -9 7 1 -5 7z" fill="#1c6600"/><path d="M1097 1097l5 6 9 2 -7 5z" fill="#244d00"/><path d="M1172 1107l6 -7 8 0 -6 7z" fill="#2f6600"/><path d="M1027 1072l6 3 8 0 -7 -4z" fill="#313700"/><path d="M1068 1083l6 -1 7 5 -5 0z" fill="#415400"/><path d="M1015 1070l7 4 7 -2 -6 -5z" fill="#202300"/><path d="M1056 1079l6 4 8 0 -6 2z" fill="#455700"/><path d="M1115 1108l5 8 8 5 -5 -9z" fill="#0a4600"/><path d="M1133 1130l5 -1 8 7 -6 4z" fill="#005e2b"/><path d="M1004 1069l6 4 8 -3 -7 -6z" fill="#1a1c00"/><path d="M1144 1136l6 -13 8 -2 -6 12z" fill="#005c1a"/><path d="M1086 1088l5 8 8 2 -5 -5z" fill="#293c00"/><path d="M958 1088l6 0 7 -7 -7 0z" fill="#1b2300"/><path d="M1045 1077l5 4 8 -1 -6 2z" fill="#424f00"/><path d="M992 1070l7 2 7 -3 -7 -4z" fill="#242600"/><path d="M1103 1108l6 -4 8 4 -6 13z" fill="#298406"/><path d="M969 1082l6 -5 8 -6 -7 1z" fill="#2f3500"/><path d="M981 1072l6 0 7 -3 -6 -1z" fill="#323600"/><path d="M1156 1123l6 -11 7 -1 -5 8z" fill="#095c00"/><path d="M1033 1072l6 2 8 4 -6 -3z" fill="#383f00"/><path d="M1167 1112l6 -7 8 1 -6 6z" fill="#216200"/><path d="M1074 1085l6 1 8 3 -6 -2z" fill="#3a4c00"/><path d="M1179 1106l6 -6 8 0 -6 7z" fill="#356600"/><path d="M1122 1112l5 8 7 12 -4 -9z" fill="#003803"/><path d="M1092 1092l6 4 7 13 -6 6z" fill="#315c00"/><path d="M1062 1083l7 -1 7 4 -6 3z" fill="#526900"/><path d="M1021 1068l7 5 7 0 -6 -6z" fill="#262900"/><path d="M1099 1113l5 -6 8 12 -7 35z" fill="#088214"/><path d="M1139 1139l5 -4 9 -3 -6 7z" fill="#004a23"/><path d="M1051 1081l6 -2 8 5 -7 4z" fill="#576b00"/><path d="M1110 1121l6 -14 7 6 -5 3z" fill="#176e00"/><path d="M1010 1065l6 6 8 -3 -7 -6z" fill="#181900"/><path d="M1151 1133l5 -12 8 -4 -5 10z" fill="#004a08"/><path d="M1128 1121l5 10 8 9 -5 -10z" fill="#002b0c"/><path d="M1039 1074l6 3 8 4 -6 0z" fill="#424d00"/><path d="M952 1083l7 5 6 -6 -6 -5z" fill="#131800"/><path d="M998 1066l7 4 7 -4 -7 -7z" fill="#191900"/><path d="M963 1083l7 0 7 -10 -7 -1z" fill="#151900"/><path d="M1080 1086l6 3 8 5 -6 -7z" fill="#384b00"/><path d="M1162 1118l6 -7 8 -1 -6 7z" fill="#145900"/><path d="M987 1069l6 2 7 -6 -6 -3z" fill="#1c1d00"/><path d="M975 1074l7 -1 7 -5 -7 -2z" fill="#202200"/><path d="M1174 1111l6 -6 8 0 -6 6z" fill="#286100"/><path d="M1186 1106l5 -6 8 0 -5 6z" fill="#3b6600"/><path d="M1069 1088l6 -4 7 3 -6 3z" fill="#475c00"/><path d="M1105 1154l6 -35 7 -5 -6 4z" fill="#00400a"/><path d="M1028 1067l6 6 7 3 -6 -8z" fill="#272a00"/><path d="M1057 1087l6 -5 8 6 -7 4z" fill="#587100"/><path d="M1087 1087l6 5 6 23 -5 -13z" fill="#2c4300"/><path d="M1116 1115l6 -3 7 11 -5 -13z" fill="#0a2f00"/><path d="M1146 1139l5 -6 8 -8 -5 5z" fill="#00320e"/><path d="M1134 1130l6 10 7 -2 -5 -6z" fill="#001d0b"/><path d="M1045 1079l7 1 7 8 -6 -1z" fill="#495a00"/><path d="M1094 1100l5 12 6 42 -5 -40z" fill="#022600"/><path d="M1016 1062l6 7 8 -1 -7 -7z" fill="#191900"/><path d="M1157 1126l6 -9 8 -2 -5 6z" fill="#064900"/><path d="M1169 1116l6 -6 8 0 -6 6z" fill="#1c5a00"/><path d="M1004 1060l7 7 7 -4 -7 -10z" fill="#1a1800"/><path d="M1181 1111l5 -6 8 0 -5 6z" fill="#316700"/><path d="M1192 1106l6 -7 8 0 -6 7z" fill="#466f00"/><path d="M957 1078l7 5 7 -11 -7 -1z" fill="#161800"/><path d="M946 1082l7 2 7 -6 -7 -2z" fill="#1b1f00"/><path d="M1075 1089l5 -2 9 1 -6 -4z" fill="#313e00"/><path d="M993 1064l6 3 7 -7 -6 -6z" fill="#1a1800"/><path d="M1034 1068l6 8 7 5 -6 -11z" fill="#222500"/><path d="M969 1073l7 1 7 -8 -7 -4z" fill="#181900"/><path d="M981 1067l7 3 7 -7 -7 -4z" fill="#191900"/><path d="M1063 1092l6 -5 8 1 -5 1z" fill="#3c4e00"/><path d="M1123 1110l5 13 7 8 -5 -18z" fill="#031500"/><path d="M1052 1086l6 0 7 6 -6 0z" fill="#415300"/><path d="M1100 1114l5 40 8 -35 -6 -14z" fill="#001400"/><path d="M1140 1133l6 6 8 -8 -6 -2z" fill="#001405"/><path d="M1022 1061l6 8 8 0 -7 -13z" fill="#191800"/><path d="M1111 1120l6 -4 8 -5 -7 -8z" fill="#081500"/><path d="M1152 1132l5 -6 9 -6 -6 3z" fill="#003002"/><path d="M1040 1070l6 11 7 6 -5 -10z" fill="#222600"/><path d="M1187 1110l6 -6 8 1 -6 11z" fill="#418103"/><path d="M1164 1121l5 -6 9 -1 -6 5z" fill="#114d00"/><path d="M1199 1106l6 -7 8 0 -6 13z" fill="#528102"/><path d="M1176 1115l5 -6 8 1 -5 5z" fill="#276600"/><path d="M1081 1084l6 3 7 15 -5 -21z" fill="#121700"/><path d="M1010 1054l7 10 7 -2 -7 -9z" fill="#1a1700"/><path d="M1129 1113l6 18 7 3 -5 -14z" fill="#001400"/><path d="M940 1084l7 -1 7 -6 -7 0z" fill="#282d00"/><path d="M952 1078l7 1 6 -7 -6 0z" fill="#222500"/><path d="M964 1073l6 1 7 -11 -7 1z" fill="#1a1a00"/><path d="M1070 1090l6 0 7 -5 -6 -9z" fill="#141800"/><path d="M1058 1091l6 1 8 -3 -7 -5z" fill="#1b2300"/><path d="M987 1061l7 4 7 -10 -7 -1z" fill="#1a1600"/><path d="M998 1056l7 5 7 -6 -6 -12z" fill="#1a1400"/><path d="M975 1064l7 4 7 -8 -7 -7z" fill="#1a1700"/><path d="M1046 1077l6 10 8 5 -6 -6z" fill="#1c2100"/><path d="M1194 1115l6 -11 8 6 -7 18z" fill="#53b91c"/><path d="M1028 1056l7 14 7 2 -7 -22z" fill="#1a1700"/><path d="M1088 1081l6 21 6 14 -5 -32z" fill="#111700"/><path d="M1206 1111l6 -12 7 2 -6 15z" fill="#4d7f01"/><path d="M1182 1114l6 -5 8 6 -6 6z" fill="#328405"/><path d="M1147 1130l6 2 8 -8 -6 -1z" fill="#001701"/><path d="M1117 1104l6 8 8 3 -6 -14z" fill="#0c1600"/><path d="M1159 1125l5 -4 9 -4 -6 2z" fill="#093700"/><path d="M1170 1118l6 -4 8 0 -5 3z" fill="#1d5800"/><path d="M1136 1120l5 14 8 -4 -6 -9z" fill="#001400"/><path d="M1016 1054l7 9 7 -6 -6 -7z" fill="#1a1500"/><path d="M1106 1106l6 15 7 -17 -6 -8z" fill="#0e1600"/><path d="M934 1085l7 -1 7 -6 -7 0z" fill="#2b3100"/><path d="M946 1079l7 -1 7 -5 -7 0z" fill="#2f3200"/><path d="M1200 1128l7 -19 7 5 -6 25z" fill="#158305"/><path d="M958 1074l6 -1 7 -9 -6 4z" fill="#313200"/><path d="M1189 1119l6 -5 7 14 -6 9z" fill="#168e0c"/><path d="M1005 1043l6 13 7 -1 -6 -10z" fill="#191200"/><path d="M969 1066l7 -1 7 -12 -7 5z" fill="#312b00"/><path d="M981 1054l7 7 7 -6 -7 -1z" fill="#2a2200"/><path d="M1035 1050l6 22 7 7 -6 -22z" fill="#1a1800"/><path d="M1076 1078l6 8 7 -3 -6 -21z" fill="#171900"/><path d="M993 1056l7 1 6 -14 -6 5z" fill="#1e1600"/><path d="M1095 1084l5 32 7 -9 -5 -23z" fill="#101700"/><path d="M1052 1085l7 7 7 -7 -6 -7z" fill="#141800"/><path d="M1064 1086l7 4 7 -13 -6 -12z" fill="#161800"/><path d="M1213 1116l5 -16 8 1 -6 13z" fill="#477400"/><path d="M1195 1135l6 -9 8 11 -7 31z" fill="#12964a"/><path d="M1124 1101l6 14 7 7 -5 -16z" fill="#0b1600"/><path d="M1177 1116l6 -3 8 7 -5 -1z" fill="#226500"/><path d="M1165 1120l5 -2 9 -2 -5 2z" fill="#154300"/><path d="M1154 1124l5 1 8 -5 -5 -2z" fill="#072300"/><path d="M1142 1122l6 9 8 -7 -6 -6z" fill="#031500"/><path d="M1041 1058l6 21 7 7 -6 -15z" fill="#181900"/><path d="M1022 1051l7 7 7 -6 -6 -8z" fill="#191200"/><path d="M1207 1138l6 -24 8 -2 -6 18z" fill="#0e5f00"/><path d="M928 1086l7 -1 7 -6 -7 1z" fill="#2b3100"/><path d="M1112 1096l6 9 8 -2 -6 -8z" fill="#101700"/><path d="M940 1080l7 -1 7 -6 -7 1z" fill="#323400"/><path d="M952 1074l7 0 7 -6 -7 1z" fill="#3a3a00"/><path d="M1011 1046l6 9 8 -3 -7 -6z" fill="#191200"/><path d="M964 1069l6 -3 7 -8 -6 7z" fill="#443d00"/><path d="M1184 1117l6 2 7 18 -5 -11z" fill="#0a5000"/><path d="M1131 1107l5 15 8 1 -6 -15z" fill="#091500"/><path d="M987 1056l7 0 7 -8 -7 2z" fill="#392b00"/><path d="M975 1059l7 -6 7 2 -6 4z" fill="#483900"/><path d="M1202 1168l6 -32 7 -8 -5 9z" fill="#003516"/><path d="M1101 1084l6 23 7 -10 -6 -8z" fill="#121700"/><path d="M1083 1062l6 21 6 3 -5 -30z" fill="#191900"/><path d="M999 1049l6 -6 8 4 -7 -5z" fill="#281900"/><path d="M1219 1114l6 -13 8 1 -5 7z" fill="#456900"/><path d="M1191 1124l5 11 7 33 -5 -41z" fill="#001f09"/><path d="M1172 1118l5 -3 9 3 -5 -2z" fill="#1e4e00"/><path d="M1047 1071l6 15 8 -7 -7 -9z" fill="#181900"/><path d="M1160 1119l6 2 8 -3 -5 2z" fill="#113400"/><path d="M1059 1080l6 6 7 -21 -6 -10z" fill="#191900"/><path d="M1148 1119l6 6 8 -6 -5 -4z" fill="#071500"/><path d="M1029 1044l6 9 7 7 -6 -20z" fill="#191100"/><path d="M1071 1066l6 13 7 -15 -6 -25z" fill="#1a1600"/><path d="M1119 1095l5 8 8 5 -6 -12z" fill="#101700"/><path d="M922 1088l7 -1 7 -7 -7 1z" fill="#2c3200"/><path d="M934 1081l7 -1 7 -6 -7 1z" fill="#323500"/><path d="M1214 1130l6 -18 8 -5 -5 9z" fill="#1f4700"/><path d="M946 1075l7 0 7 -5 -7 0z" fill="#373700"/><path d="M1017 1047l7 5 7 -8 -7 -2z" fill="#190f00"/><path d="M1137 1109l6 14 8 -3 -6 -10z" fill="#0a1600"/><path d="M958 1071l7 -1 7 -6 -7 1z" fill="#383400"/><path d="M1089 1056l6 30 7 0 -6 -22z" fill="#191900"/><path d="M970 1065l6 -7 7 -1 -6 0z" fill="#3b3100"/><path d="M1107 1090l6 8 8 -2 -6 -3z" fill="#131700"/><path d="M981 1058l7 -2 7 -5 -6 0z" fill="#342700"/><path d="M1005 1043l7 5 7 -1 -7 -8z" fill="#190e00"/><path d="M1226 1109l6 -7 8 -1 -5 5z" fill="#3c5700"/><path d="M993 1052l7 -2 7 -7 -7 -2z" fill="#251600"/><path d="M1179 1116l5 1 8 9 -5 -10z" fill="#143700"/><path d="M1198 1127l4 41 9 -30 -6 -11z" fill="#001405"/><path d="M1036 1040l5 20 7 13 -6 -20z" fill="#191400"/><path d="M1167 1120l5 -3 9 -1 -6 6z" fill="#163900"/><path d="M1125 1096l6 13 8 1 -6 -23z" fill="#111700"/><path d="M1209 1139l6 -9 8 -14 -6 4z" fill="#041600"/><path d="M1155 1116l6 4 8 0 -6 -7z" fill="#0c1b00"/><path d="M1096 1064l5 22 7 5 -5 -13z" fill="#171900"/><path d="M916 1091l7 -2 7 -7 -7 1z" fill="#2c3200"/><path d="M1053 1072l7 8 7 -25 -6 -4z" fill="#1a1600"/><path d="M1144 1111l5 10 8 -4 -6 -6z" fill="#0c1600"/><path d="M928 1083l7 -1 7 -6 -7 1z" fill="#333500"/><path d="M940 1077l7 -1 7 -5 -7 0z" fill="#353500"/><path d="M952 1072l7 -1 7 -5 -7 -1z" fill="#2a2600"/><path d="M1042 1053l6 20 7 -1 -6 -15z" fill="#1a1600"/><path d="M1023 1043l7 3 7 -5 -7 -5z" fill="#190d00"/><path d="M1113 1094l6 3 8 0 -6 -12z" fill="#131800"/><path d="M1221 1117l6 -10 8 -2 -5 5z" fill="#2b4300"/><path d="M964 1067l7 -1 7 -9 -7 -3z" fill="#1a1500"/><path d="M1186 1116l5 10 8 3 -5 -12z" fill="#071500"/><path d="M1077 1039l6 26 7 -7 -5 -34z" fill="#190f00"/><path d="M1011 1039l7 9 7 -5 -7 -8z" fill="#190c00"/><path d="M976 1059l6 0 8 -7 -7 -7z" fill="#191200"/><path d="M1233 1106l5 -4 9 -4 -5 2z" fill="#344700"/><path d="M988 1053l6 0 7 -11 -6 -1z" fill="#190f00"/><path d="M1066 1057l6 10 7 -28 -6 -18z" fill="#190e00"/><path d="M999 1043l7 1 7 -4 -7 -11z" fill="#190b00"/><path d="M1174 1122l5 -6 9 1 -6 -2z" fill="#132800"/><path d="M1102 1078l6 13 7 3 -6 -10z" fill="#151800"/><path d="M1132 1087l6 24 7 2 -5 -18z" fill="#111700"/><path d="M1162 1113l6 8 8 1 -6 -13z" fill="#0c1600"/><path d="M1204 1128l6 12 8 -20 -6 -2z" fill="#051500"/><path d="M910 1094l7 -3 7 -7 -7 1z" fill="#292f00"/><path d="M1030 1036l6 4 7 15 -6 -19z" fill="#190c00"/><path d="M922 1085l7 -1 7 -7 -7 1z" fill="#313300"/><path d="M1150 1112l6 5 8 -3 -6 -12z" fill="#0f1600"/><path d="M1216 1122l5 -5 9 -8 -5 3z" fill="#1b2e00"/><path d="M1193 1118l5 11 8 0 -6 -10z" fill="#071500"/><path d="M934 1078l7 -1 7 -6 -7 1z" fill="#363500"/><path d="M946 1072l7 0 7 -6 -7 -1z" fill="#262200"/><path d="M1084 1024l6 35 7 7 -6 -27z" fill="#190e00"/><path d="M1228 1110l5 -5 9 -5 -5 9z" fill="#374d00"/><path d="M1048 1059l6 13 7 -21 -6 -5z" fill="#191300"/><path d="M958 1067l7 0 7 -12 -7 -2z" fill="#1a1400"/><path d="M1120 1086l6 12 8 -9 -6 -21z" fill="#161800"/><path d="M1240 1101l5 -2 9 -5 -5 -1z" fill="#3e4e00"/><path d="M1017 1036l7 8 7 -6 -6 -15z" fill="#180900"/><path d="M1139 1095l5 18 8 0 -6 -13z" fill="#101700"/><path d="M1180 1116l5 1 9 2 -5 -3z" fill="#132200"/><path d="M1108 1085l6 10 8 -9 -6 -14z" fill="#171800"/><path d="M1091 1039l5 27 7 14 -5 -14z" fill="#201a00"/><path d="M970 1056l7 3 7 -13 -7 -13z" fill="#190f00"/><path d="M982 1047l6 6 8 -11 -7 -8z" fill="#190d00"/><path d="M994 1043l6 0 7 -13 -6 0z" fill="#180900"/><path d="M1005 1030l7 11 7 -4 -6 -16z" fill="#180700"/><path d="M1060 1053l6 4 7 -36 -6 5z" fill="#180b00"/><path d="M1169 1109l6 13 8 -6 -6 -9z" fill="#0e1600"/><path d="M1036 1037l6 18 7 4 -6 -21z" fill="#190e00"/><path d="M904 1097l7 -3 7 -8 -7 2z" fill="#282e00"/><path d="M1097 1064l5 16 8 6 -6 -16z" fill="#191800"/><path d="M916 1087l7 -2 7 -7 -7 0z" fill="#2e3000"/><path d="M1199 1119l6 10 8 -10 -5 -1z" fill="#0d1d00"/><path d="M1211 1119l6 3 8 -9 -6 0z" fill="#1c2f00"/><path d="M928 1079l7 0 7 -6 -7 1z" fill="#3d3b00"/><path d="M1223 1114l6 -5 8 -1 -6 9z" fill="#3c5a00"/><path d="M940 1074l7 -1 7 -7 -7 2z" fill="#2f2a00"/><path d="M1157 1103l6 12 8 -4 -6 -21z" fill="#111700"/><path d="M1235 1109l6 -9 8 -6 -6 14z" fill="#4c6400"/><path d="M1187 1116l5 3 9 1 -5 0z" fill="#1a2e00"/><path d="M1072 1023l6 18 7 -15 -6 -48z" fill="#170100"/><path d="M952 1067l7 1 7 -15 -7 -1z" fill="#191300"/><path d="M1247 1094l5 0 9 2 -5 3z" fill="#5c6e00"/><path d="M1127 1068l6 22 7 7 -5 -28z" fill="#181900"/><path d="M1145 1100l6 13 8 -10 -6 -9z" fill="#121700"/><path d="M1024 1023l6 15 7 0 -6 -21z" fill="#180600"/><path d="M1176 1107l5 10 8 0 -5 -5z" fill="#0f1700"/><path d="M1054 1048l7 5 7 -26 -6 5z" fill="#180a00"/><path d="M964 1055l7 1 6 -23 -6 -2z" fill="#190c00"/><path d="M1042 1038l7 21 7 -12 -7 -19z" fill="#190c00"/><path d="M988 1035l7 8 7 -12 -7 -4z" fill="#180800"/><path d="M898 1100l7 -3 7 -9 -7 4z" fill="#2d3500"/><path d="M1012 1022l6 15 8 -13 -7 -18z" fill="#180300"/><path d="M1000 1032l6 -1 8 -10 -7 -6z" fill="#180400"/><path d="M1115 1073l6 14 8 -18 -6 -22z" fill="#1a1600"/><path d="M976 1034l7 13 7 -12 -7 -17z" fill="#180700"/><path d="M1230 1116l6 -9 8 -1 -6 11z" fill="#4f7300"/><path d="M1218 1114l6 -2 8 3 -6 5z" fill="#426700"/><path d="M910 1089l7 -2 7 -9 -7 3z" fill="#353800"/><path d="M1103 1071l6 15 8 -13 -6 -19z" fill="#1a1700"/><path d="M1206 1119l5 1 9 -7 -6 8z" fill="#304e00"/><path d="M1134 1069l5 28 8 5 -6 -22z" fill="#171800"/><path d="M934 1076l7 -2 7 -6 -7 8z" fill="#4b4400"/><path d="M922 1079l7 1 7 -5 -7 0z" fill="#464400"/><path d="M1254 1098l6 -3 8 7 -5 0z" fill="#617800"/><path d="M1085 1022l6 17 7 27 -6 -9z" fill="#472400"/><path d="M1194 1119l5 1 9 -1 -5 3z" fill="#223c00"/><path d="M1242 1107l6 -14 8 5 -6 10z" fill="#617b00"/><path d="M1079 978l5 48 7 15 -5 -17z" fill="#200200"/><path d="M1164 1091l6 20 7 -2 -5 -21z" fill="#131700"/><path d="M946 1069l7 -2 6 -14 -6 4z" fill="#1d1600"/><path d="M1091 1055l6 11 8 6 -6 -11z" fill="#2d2300"/><path d="M1182 1112l5 5 9 3 -5 -2z" fill="#1b2a00"/><path d="M1030 1017l7 22 7 1 -7 -30z" fill="#180400"/><path d="M1067 1029l6 -5 6 -46 -5 38z" fill="#280100"/><path d="M1152 1095l6 9 8 -12 -6 -17z" fill="#161800"/><path d="M892 1105l7 -4 7 -9 -7 5z" fill="#333e00"/><path d="M958 1055l7 0 6 -24 -6 0z" fill="#180b00"/><path d="M1225 1120l6 -6 8 2 -6 7z" fill="#4c7701"/><path d="M1261 1101l5 -1 9 7 -5 -3z" fill="#536a00"/><path d="M1237 1117l6 -12 8 1 -6 12z" fill="#537600"/><path d="M1140 1080l6 22 8 -7 -6 -16z" fill="#171800"/><path d="M904 1094l7 -4 7 -9 -8 8z" fill="#434800"/><path d="M1213 1121l6 -8 8 6 -6 5z" fill="#426900"/><path d="M1048 1029l7 19 8 -15 -7 -12z" fill="#180600"/><path d="M1249 1107l6 -10 8 4 -5 7z" fill="#648001"/><path d="M928 1077l7 -3 7 1 -7 4z" fill="#5f5900"/><path d="M994 1028l7 4 7 -17 -7 1z" fill="#170200"/><path d="M1201 1121l5 -3 9 2 -5 1z" fill="#2b4700"/><path d="M916 1083l7 -5 7 -2 -7 5z" fill="#575500"/><path d="M1061 1034l6 -5 7 -15 -6 18z" fill="#5e0f00"/><path d="M1171 1088l5 21 8 4 -5 -18z" fill="#131700"/><path d="M1018 1007l7 18 7 -6 -7 -20z" fill="#170100"/><path d="M982 1018l7 18 7 -8 -7 -11z" fill="#180300"/><path d="M940 1076l7 -6 6 -13 -6 16z" fill="#423700"/><path d="M1122 1047l6 23 7 1 -6 -33z" fill="#191000"/><path d="M1189 1117l5 3 9 1 -6 -6z" fill="#182600"/><path d="M1006 1017l7 6 7 -16 -7 -9z" fill="#170000"/><path d="M1079 1032l7 -10 6 35 -6 1z" fill="#753000"/><path d="M970 1033l7 2 7 -17 -7 -8z" fill="#180300"/><path d="M1073 1015l6 -37 7 46 -6 10z" fill="#9f110d"/><path d="M1098 1063l6 10 8 -18 -7 -13z" fill="#191100"/><path d="M1269 1103l5 3 8 10 -6 4z" fill="#517100"/><path d="M1086 1056l6 -2 8 8 -7 8z" fill="#604400"/><path d="M886 1109l8 -4 6 -8 -7 9z" fill="#3a4a00"/><path d="M1037 1010l6 30 7 -9 -6 -35z" fill="#170100"/><path d="M1110 1056l6 18 8 -27 -6 -23z" fill="#190d00"/><path d="M1232 1122l6 -7 8 1 -6 8z" fill="#497200"/><path d="M1220 1123l6 -5 8 4 -6 4z" fill="#3c6700"/><path d="M952 1059l7 -4 6 -24 -6 6z" fill="#190b00"/><path d="M1178 1095l5 19 8 4 -6 -16z" fill="#111700"/><path d="M1244 1117l6 -11 8 0 -6 11z" fill="#547600"/><path d="M898 1099l8 -7 6 -4 -8 6z" fill="#4b5400"/><path d="M1067 1031l7 -18 7 20 -7 12z" fill="#ea542d"/><path d="M1256 1108l6 -8 8 3 -5 4z" fill="#6d8a04"/><path d="M1275 1118l6 -4 8 14 -6 15z" fill="#5aa714"/><path d="M1208 1120l5 0 9 3 -5 -2z" fill="#2a4400"/><path d="M910 1089l7 -8 7 -1 -7 8z" fill="#616300"/><path d="M1159 1076l6 17 7 -3 -5 -27z" fill="#191900"/><path d="M1129 1038l5 33 7 11 -5 -24z" fill="#191200"/><path d="M934 1078l7 -2 7 -5 -7 7z" fill="#595000"/><path d="M922 1081l7 -6 7 2 -7 4z" fill="#676100"/><path d="M1055 1021l6 13 8 -3 -6 0z" fill="#460c00"/><path d="M1147 1080l6 16 8 -20 -6 -12z" fill="#191800"/><path d="M1073 1044l7 -12 7 25 -6 2z" fill="#7f3e01"/><path d="M1025 999l6 20 7 -7 -6 -12z" fill="#170000"/><path d="M1196 1115l6 7 8 -1 -6 -10z" fill="#0f1600"/><path d="M988 1018l7 11 7 -13 -7 -3z" fill="#170100"/><path d="M1281 1142l7 -15 8 9 -7 24z" fill="#10950d"/><path d="M1000 1018l7 -1 7 -19 -7 3z" fill="#170000"/><path d="M880 1114l7 -6 7 -4 -8 9z" fill="#415700"/><path d="M947 1073l6 -14 6 -22 -6 21z" fill="#362100"/><path d="M964 1033l7 0 6 -23 -6 -6z" fill="#170100"/><path d="M1012 999l7 10 7 -9 -6 -1z" fill="#160000"/><path d="M1264 1106l5 -3 8 16 -6 6z" fill="#618604"/><path d="M1136 1058l5 24 7 -1 -5 -11z" fill="#1a1600"/><path d="M976 1011l7 9 7 -1 -7 -16z" fill="#170000"/><path d="M1239 1123l6 -7 8 0 -6 9z" fill="#497100"/><path d="M1227 1125l5 -4 9 2 -6 4z" fill="#3a6500"/><path d="M1080 1058l6 -3 8 15 -6 -8z" fill="#402d00"/><path d="M1184 1103l6 15 8 -1 -6 -14z" fill="#111700"/><path d="M892 1106l7 -9 6 -4 -6 10z" fill="#4e5c00"/><path d="M1277 1154l6 -13 7 18 -6 36z" fill="#1dad6d"/><path d="M1093 1070l5 -7 8 -21 -6 4z" fill="#190f00"/><path d="M1271 1122l5 -5 7 26 -6 13z" fill="#1e7302"/><path d="M1062 1029l6 1 7 15 -6 -4z" fill="#782200"/><path d="M1251 1117l6 -11 8 0 -6 12z" fill="#6c9106"/><path d="M1215 1121l5 2 9 2 -5 -1z" fill="#294300"/><path d="M904 1094l7 -7 7 0 -7 7z" fill="#626900"/><path d="M1043 996l6 35 7 -8 -6 -32z" fill="#170000"/><path d="M1167 1063l5 28 7 6 -5 -25z" fill="#191800"/><path d="M916 1088l7 -9 7 0 -7 7z" fill="#6a6800"/><path d="M928 1080l7 -4 7 0 -7 0z" fill="#5c5400"/><path d="M1289 1160l6 -25 8 0 -6 19z" fill="#006407"/><path d="M940 1077l7 -4 6 -17 -6 15z" fill="#514000"/><path d="M1203 1111l6 10 8 1 -6 -12z" fill="#101700"/><path d="M1105 1044l6 12 7 -32 -6 -10z" fill="#180600"/><path d="M1068 1039l6 4 7 16 -5 -16z" fill="#471f00"/><path d="M1030 1001l7 11 8 -15 -7 -4z" fill="#160000"/><path d="M873 1119l8 -6 6 -2 -7 8z" fill="#435e00"/><path d="M1283 1195l6 -37 8 -7 -5 13z" fill="#005237"/><path d="M1258 1116l6 -11 8 19 -6 5z" fill="#78a812"/><path d="M1116 1025l7 24 7 -9 -5 -56z" fill="#170100"/><path d="M1018 1000l7 -1 8 2 -7 6z" fill="#4a0000"/><path d="M958 1039l7 -6 6 -29 -6 13z" fill="#170100"/><path d="M994 1015l7 3 7 -17 -7 2z" fill="#260000"/><path d="M886 1112l7 -8 6 -3 -7 9z" fill="#4c6000"/><path d="M1141 1071l7 10 8 -17 -6 7z" fill="#241e00"/><path d="M1234 1126l5 -4 9 1 -6 6z" fill="#3f6b00"/><path d="M1246 1124l6 -9 8 1 -6 9z" fill="#568002"/><path d="M1173 1072l5 25 8 8 -5 -24z" fill="#181900"/><path d="M1050 991l6 32 7 8 -6 -6z" fill="#3d0200"/><path d="M982 1003l7 16 7 -4 -7 -6z" fill="#170000"/><path d="M1006 1002l7 -4 8 2 -7 5z" fill="#510000"/><path d="M1222 1123l5 1 9 2 -6 2z" fill="#305200"/><path d="M1191 1104l6 13 8 -4 -6 -17z" fill="#121700"/><path d="M1266 1127l5 -5 7 34 -5 -7z" fill="#126100"/><path d="M1272 1147l5 6 7 42 -4 -32z" fill="#004428"/><path d="M898 1102l7 -10 7 1 -7 8z" fill="#5e6a00"/><path d="M1154 1066l6 12 8 -13 -6 -36z" fill="#191000"/><path d="M1087 1062l6 8 7 -24 -6 -8z" fill="#190d00"/><path d="M910 1094l7 -8 7 -2 -7 8z" fill="#686b00"/><path d="M922 1085l7 -7 7 -1 -7 6z" fill="#635d00"/><path d="M953 1058l6 -21 6 -20 -6 34z" fill="#541b00"/><path d="M1056 1023l6 6 7 12 -5 -11z" fill="#490c00"/><path d="M1075 1043l6 16 7 4 -6 -15z" fill="#190d00"/><path d="M934 1078l7 0 7 -9 -7 7z" fill="#5c4e00"/><path d="M1130 1040l6 18 7 14 -6 1z" fill="#573800"/><path d="M1210 1111l6 11 8 2 -5 -8z" fill="#172100"/><path d="M1124 984l5 56 7 20 -5 -18z" fill="#1a0400"/><path d="M970 1005l7 7 7 -8 -7 -29z" fill="#150000"/><path d="M1296 1153l6 -18 8 -3 -4 8z" fill="#0d5100"/><path d="M867 1124l8 -6 6 -1 -7 8z" fill="#416100"/><path d="M1180 1081l5 24 8 0 -6 -19z" fill="#171800"/><path d="M1253 1124l6 -8 8 12 -5 2z" fill="#77ae15"/><path d="M946 1071l7 -15 7 -7 -7 18z" fill="#774c00"/><path d="M879 1118l8 -8 6 -1 -7 7z" fill="#435a00"/><path d="M1037 994l6 3 8 -6 -6 17z" fill="#5e0000"/><path d="M1025 1007l6 -7 8 -7 -7 14z" fill="#6e0000"/><path d="M1241 1128l6 -6 8 2 -6 8z" fill="#4b7c02"/><path d="M1013 1004l6 -5 8 8 -7 5z" fill="#7c0202"/><path d="M1279 1163l4 32 10 -31 -6 -8z" fill="#00130d"/><path d="M1136 1071l6 -1 8 1 -6 15z" fill="#b59a0f"/><path d="M1099 1048l6 -4 8 -30 -6 -1z" fill="#180300"/><path d="M1229 1127l5 -2 9 3 -6 4z" fill="#396700"/><path d="M892 1110l7 -9 6 -1 -7 7z" fill="#4f5e00"/><path d="M988 1010l7 6 7 -12 -6 11z" fill="#5b0000"/><path d="M1000 1004l7 -3 8 3 -7 5z" fill="#6e0000"/><path d="M904 1101l7 -9 7 -2 -8 9z" fill="#5f6800"/><path d="M1199 1096l5 17 8 -1 -6 -19z" fill="#141800"/><path d="M1062 1030l7 11 7 4 -6 -19z" fill="#2d0a00"/><path d="M1044 1006l6 -15 7 34 -6 1z" fill="#700100"/><path d="M1217 1116l5 8 9 4 -6 -2z" fill="#2c4300"/><path d="M916 1092l7 -8 7 -2 -7 8z" fill="#686700"/><path d="M1162 1029l5 37 7 8 -4 -19z" fill="#190e00"/><path d="M1261 1128l5 -1 7 22 -4 -8z" fill="#236800"/><path d="M1149 1072l6 -6 7 -37 -6 36z" fill="#422600"/><path d="M928 1083l7 -7 7 -2 -7 7z" fill="#665a00"/><path d="M1291 1166l5 -13 9 -14 -5 6z" fill="#001b03"/><path d="M959 1051l6 -34 6 -8 -6 58z" fill="#701800"/><path d="M1111 1015l6 11 8 -42 -6 28z" fill="#180000"/><path d="M940 1075l7 -6 7 -4 -7 9z" fill="#735a00"/><path d="M976 975l7 30 7 6 -7 -7z" fill="#410000"/><path d="M964 1019l7 -13 6 -31 -6 36z" fill="#470000"/><path d="M861 1130l7 -7 7 0 -7 8z" fill="#3e6400"/><path d="M1081 1049l6 14 8 -25 -6 -3z" fill="#180900"/><path d="M1031 1006l7 -13 8 14 -7 9z" fill="#a81313"/><path d="M1125 1045l6 -5 7 33 -6 7z" fill="#7a4900"/><path d="M952 1066l7 -17 8 17 -8 7z" fill="#895b01"/><path d="M1248 1131l6 -8 8 5 -6 11z" fill="#62aa13"/><path d="M1050 1024l7 -1 7 8 -6 -2z" fill="#610600"/><path d="M1186 1086l6 19 8 -7 -6 -15z" fill="#181900"/><path d="M1019 1011l7 -6 7 1 -6 -1z" fill="#780101"/><path d="M873 1124l7 -8 7 -2 -7 7z" fill="#374f00"/><path d="M1131 1078l6 -8 8 15 -7 12z" fill="#c5b817"/><path d="M1236 1130l6 -3 8 3 -6 10z" fill="#498f09"/><path d="M1268 1139l4 8 8 18 -4 -19z" fill="#002a02"/><path d="M1168 1054l5 20 8 9 -5 -20z" fill="#211800"/><path d="M1007 1007l7 -4 7 8 -7 7z" fill="#870303"/><path d="M1304 1141l5 -9 9 1 -5 3z" fill="#1f5300"/><path d="M1143 1086l6 -16 8 -8 -6 24z" fill="#846f00"/><path d="M995 1014l6 -11 8 4 -7 14z" fill="#8e0505"/><path d="M885 1116l8 -8 6 -2 -7 1z" fill="#364400"/><path d="M983 1002l6 7 8 5 -7 14z" fill="#970b0a"/><path d="M1206 1093l5 19 8 6 -5 -12z" fill="#151a00"/><path d="M1069 1026l6 19 8 5 -6 -13z" fill="#3e1000"/><path d="M1224 1124l5 3 9 4 -6 3z" fill="#3b6500"/><path d="M897 1107l8 -8 6 -2 -8 5z" fill="#464f00"/><path d="M1118 1010l7 -26 6 58 -6 5z" fill="#700400"/><path d="M1038 1015l6 -10 8 21 -7 1z" fill="#7d0502"/><path d="M910 1099l7 -9 7 -2 -7 8z" fill="#5c6000"/><path d="M1094 1040l6 8 7 -35 -6 -14z" fill="#170100"/><path d="M922 1089l7 -8 7 -1 -7 8z" fill="#696300"/><path d="M1255 1138l6 -11 8 13 -6 7z" fill="#4db61b"/><path d="M1106 1014l6 0 8 -4 -7 16z" fill="#6b0200"/><path d="M1243 1139l6 -9 8 8 -6 18z" fill="#51cd27"/><path d="M1138 1097l6 -13 8 0 -7 14z" fill="#989904"/><path d="M934 1081l7 -7 7 -1 -7 7z" fill="#645400"/><path d="M1286 1157l6 9 8 -21 -5 -1z" fill="#001402"/><path d="M1057 1027l6 3 8 -4 -7 15z" fill="#660c00"/><path d="M1119 1058l6 -13 7 35 -6 5z" fill="#8b6202"/><path d="M1175 1063l5 20 8 5 -5 -19z" fill="#1a1500"/><path d="M946 1074l7 -9 8 7 -7 0z" fill="#614900"/><path d="M965 1067l6 -58 7 1 -6 43z" fill="#7b1500"/><path d="M1156 1064l6 -35 8 27 -7 7z" fill="#803c00"/><path d="M854 1135l8 -7 7 2 -8 8z" fill="#346800"/><path d="M1213 1106l4 10 9 10 -6 -3z" fill="#374c00"/><path d="M1025 1006l7 -1 8 11 -7 -5z" fill="#6d0000"/><path d="M989 1027l7 -14 7 6 -7 13z" fill="#990e08"/><path d="M959 1073l6 -6 7 -16 -6 10z" fill="#684100"/><path d="M970 1011l7 -36 7 28 -7 9z" fill="#b61b1b"/><path d="M1275 1146l4 19 9 -8 -5 -13z" fill="#001402"/><path d="M867 1131l7 -8 7 -4 -8 8z" fill="#314a00"/><path d="M1113 1024l6 -14 7 37 -6 13z" fill="#9e240a"/><path d="M1125 1083l7 -5 7 19 -6 0z" fill="#858301"/><path d="M1001 1021l7 -14 7 10 -7 5z" fill="#780200"/><path d="M1013 1018l6 -8 8 -4 -6 3z" fill="#5b0000"/><path d="M1231 1132l6 -2 8 9 -6 8z" fill="#368406"/><path d="M1311 1135l5 -3 9 4 -5 3z" fill="#275c00"/><path d="M1299 1147l4 -6 10 -6 -5 3z" fill="#0e3200"/><path d="M1044 1026l7 -2 8 4 -7 3z" fill="#630600"/><path d="M977 1010l6 -8 7 25 -6 13z" fill="#be1f1b"/><path d="M879 1120l7 -4 7 -8 -7 0z" fill="#212b00"/><path d="M1193 1083l6 15 8 -3 -5 -25z" fill="#191800"/><path d="M1150 1086l6 -24 8 -1 -6 17z" fill="#725700"/><path d="M1075 1038l7 12 8 -15 -7 -2z" fill="#5d1600"/><path d="M1250 1155l6 -18 8 8 -6 25z" fill="#0f9917"/><path d="M1063 1040l7 -14 7 12 -6 27z" fill="#be4717"/><path d="M1262 1146l6 -8 8 9 -5 2z" fill="#127001"/><path d="M891 1109l7 -2 7 -6 -7 -3z" fill="#1f2300"/><path d="M903 1102l8 -3 7 -4 -8 -1z" fill="#353800"/><path d="M1238 1145l6 -7 8 17 -7 14z" fill="#0b8b10"/><path d="M1162 1062l7 -8 7 11 -5 -2z" fill="#704100"/><path d="M1219 1121l6 3 8 9 -6 2z" fill="#436900"/><path d="M916 1096l7 -8 7 -2 -7 7z" fill="#515100"/><path d="M1088 1037l6 3 7 -41 -6 36z" fill="#500400"/><path d="M1107 1039l6 -15 7 36 -6 12z" fill="#8f3a04"/><path d="M1032 1009l7 5 7 13 -6 -11z" fill="#440100"/><path d="M1182 1069l5 19 8 -4 -5 -2z" fill="#1b1800"/><path d="M1113 1071l7 -14 7 28 -6 3z" fill="#7e6500"/><path d="M971 1053l6 -43 8 28 -7 16z" fill="#962405"/><path d="M983 1039l7 -14 7 5 -7 9z" fill="#861201"/><path d="M1101 999l6 14 7 13 -6 15z" fill="#b41915"/><path d="M1132 1096l5 -1 9 2 -5 0z" fill="#616600"/><path d="M928 1087l7 -8 7 -1 -7 7z" fill="#514800"/><path d="M1245 1167l6 -13 8 14 -7 32z" fill="#24bb82"/><path d="M1051 1029l6 -2 8 14 -7 5z" fill="#701300"/><path d="M848 1140l8 -7 7 3 -8 7z" fill="#286900"/><path d="M1145 1098l5 -14 8 -8 -6 17z" fill="#696400"/><path d="M940 1079l7 -5 7 -4 -7 -2z" fill="#322600"/><path d="M861 1137l7 -8 6 -4 -7 9z" fill="#2d4c00"/><path d="M995 1032l7 -13 7 1 -7 -6z" fill="#3d0200"/><path d="M1201 1070l4 25 9 13 -6 -4z" fill="#494b00"/><path d="M952 1072l7 1 8 -11 -8 -6z" fill="#1e1400"/><path d="M1318 1138l6 -3 9 3 -6 4z" fill="#276300"/><path d="M1070 1065l6 -28 7 -4 -6 35z" fill="#af500e"/><path d="M1226 1133l6 -1 8 14 -6 3z" fill="#287302"/><path d="M1058 1044l6 -5 7 26 -6 3z" fill="#884003"/><path d="M1008 1021l6 -3 8 -9 -7 -4z" fill="#220000"/><path d="M1257 1170l6 -25 8 2 -6 21z" fill="#006913"/><path d="M1020 1010l6 -5 8 6 -7 -10z" fill="#260000"/><path d="M1282 1145l5 13 9 -13 -6 -4z" fill="#031500"/><path d="M1306 1139l6 -4 9 3 -6 4z" fill="#235800"/><path d="M1294 1145l5 2 9 -9 -5 2z" fill="#0b2900"/><path d="M1120 1087l6 -4 8 14 -6 -15z" fill="#423e00"/><path d="M965 1063l7 -13 7 2 -7 5z" fill="#492300"/><path d="M1208 1102l5 4 8 17 -6 2z" fill="#536900"/><path d="M873 1126l7 -5 6 -13 -7 4z" fill="#1b2300"/><path d="M1082 1034l6 1 8 -2 -6 15z" fill="#992106"/><path d="M1169 1062l5 2 9 7 -5 -9z" fill="#372200"/><path d="M1269 1149l5 -2 10 -2 -6 -2z" fill="#0a3c00"/><path d="M1039 1016l6 11 8 3 -7 -11z" fill="#2c0200"/><path d="M1094 1034l7 -35 7 42 -6 14z" fill="#d83425"/><path d="M977 1054l7 -17 7 0 -7 13z" fill="#5d1b00"/><path d="M1157 1078l6 -18 8 1 -5 8z" fill="#654300"/><path d="M1101 1053l7 -14 7 33 -6 -5z" fill="#8f4b04"/><path d="M1233 1147l6 -3 7 24 -5 -3z" fill="#00630c"/><path d="M1252 1200l5 -32 9 -2 -6 8z" fill="#00523c"/><path d="M1064 1066l7 -3 7 3 -6 10z" fill="#ce941c"/><path d="M1188 1081l6 4 8 -15 -6 20z" fill="#706000"/><path d="M885 1110l7 -1 7 -10 -8 -6z" fill="#161800"/><path d="M1214 1123l6 -2 8 13 -6 4z" fill="#4d7501"/><path d="M909 1096l8 0 7 -5 -8 -6z" fill="#191900"/><path d="M897 1100l7 3 7 -8 -7 -7z" fill="#181900"/><path d="M922 1092l7 -4 7 -5 -7 -1z" fill="#262300"/><path d="M1139 1097l6 1 8 -7 -6 6z" fill="#5f6100"/><path d="M1240 1163l5 3 7 34 -4 -26z" fill="#004a32"/><path d="M842 1145l7 -7 7 3 -8 6z" fill="#1c6100"/><path d="M854 1142l8 -7 6 -3 -7 7z" fill="#214a00"/><path d="M1108 1065l6 5 7 18 -5 -21z" fill="#4a3800"/><path d="M1326 1141l5 -4 9 3 -5 4z" fill="#256300"/><path d="M1089 1046l6 -14 8 23 -7 11z" fill="#da6623"/><path d="M1077 1067l6 -34 7 13 -6 22z" fill="#a34b08"/><path d="M934 1084l7 -4 7 -11 -7 -2z" fill="#191400"/><path d="M1177 1062l5 7 8 13 -6 -1z" fill="#4b3800"/><path d="M1127 1082l6 15 8 0 -6 -9z" fill="#2c2b00"/><path d="M1314 1141l5 -4 9 4 -6 4z" fill="#276700"/><path d="M1046 1019l6 10 7 17 -5 -15z" fill="#340300"/><path d="M1152 1092l6 -16 7 -9 -6 23z" fill="#5a4d00"/><path d="M990 1039l6 -7 7 -18 -7 -12z" fill="#170100"/><path d="M1195 1088l7 -18 7 34 -6 7z" fill="#919004"/><path d="M1026 1002l7 9 7 7 -6 -22z" fill="#160000"/><path d="M867 1134l7 -7 6 -15 -7 9z" fill="#1d2800"/><path d="M1221 1136l6 -3 7 16 -5 2z" fill="#287302"/><path d="M1301 1141l6 -3 9 3 -6 4z" fill="#225b00"/><path d="M1264 1168l6 -21 8 -4 -4 10z" fill="#004900"/><path d="M946 1070l7 2 7 -15 -7 -10z" fill="#190e00"/><path d="M1202 1109l6 -8 7 24 -5 4z" fill="#657f02"/><path d="M1289 1142l5 4 9 -6 -4 4z" fill="#143e00"/><path d="M971 1057l7 -3 7 -6 -7 -4z" fill="#180900"/><path d="M958 1058l8 5 7 -7 -7 -16z" fill="#180b00"/><path d="M1052 1030l6 14 7 24 -6 -13z" fill="#431700"/><path d="M1095 1065l7 -12 8 13 -7 0z" fill="#ab660d"/><path d="M1071 1075l6 -10 8 1 -7 12z" fill="#ba8711"/><path d="M1277 1144l5 2 9 -4 -5 1z" fill="#123a00"/><path d="M1002 1016l6 6 8 -17 -7 -20z" fill="#160000"/><path d="M1014 1006l7 5 7 -9 -7 -14z" fill="#150000"/><path d="M1183 1079l6 1 8 9 -6 10z" fill="#968905"/><path d="M1083 1067l7 -22 7 20 -6 10z" fill="#d1831d"/><path d="M1247 1174l5 26 9 -25 -6 -8z" fill="#00130e"/><path d="M1115 1067l6 21 8 -5 -7 -10z" fill="#201a00"/><path d="M1228 1149l6 -2 7 18 -5 -5z" fill="#005803"/><path d="M1209 1128l6 -5 8 15 -6 4z" fill="#568405"/><path d="M1164 1069l6 -6 8 0 -6 -18z" fill="#723a00"/><path d="M879 1114l7 -4 6 -17 -7 -1z" fill="#171800"/><path d="M1146 1097l6 -7 8 -2 -6 11z" fill="#777600"/><path d="M1059 1053l5 14 8 8 -6 -4z" fill="#5d3900"/><path d="M835 1149l8 -6 7 2 -8 6z" fill="#135c00"/><path d="M1333 1143l5 -4 10 3 -6 4z" fill="#246400"/><path d="M848 1146l8 -4 6 -4 -8 1z" fill="#183e00"/><path d="M1134 1088l5 10 9 -1 -6 2z" fill="#575700"/><path d="M1190 1098l6 -10 8 23 -6 7z" fill="#9fac0f"/><path d="M915 1086l8 7 7 -10 -8 -8z" fill="#1a1600"/><path d="M1321 1144l5 -4 9 3 -5 4z" fill="#246800"/><path d="M903 1089l7 7 7 -10 -7 -11z" fill="#1a1700"/><path d="M890 1094l8 7 7 -12 -8 -11z" fill="#191800"/><path d="M984 1050l6 -11 7 -37 -7 15z" fill="#170100"/><path d="M1259 1176l6 -8 8 -16 -5 5z" fill="#001b06"/><path d="M860 1139l7 -5 7 -13 -8 6z" fill="#1b2800"/><path d="M1309 1144l5 -4 9 4 -5 4z" fill="#246b00"/><path d="M1033 996l6 22 8 3 -7 -31z" fill="#150000"/><path d="M928 1084l7 1 7 -18 -7 -7z" fill="#191200"/><path d="M1077 1077l7 -11 8 8 -7 16z" fill="#ae880b"/><path d="M1216 1140l6 -4 7 14 -5 3z" fill="#2c8105"/><path d="M1197 1116l6 -7 7 20 -6 5z" fill="#6a8c06"/><path d="M1296 1143l6 -3 9 4 -6 4z" fill="#236500"/><path d="M1090 1075l6 -12 8 2 -6 12z" fill="#916002"/><path d="M1102 1065l6 1 8 2 -6 -8z" fill="#563200"/><path d="M1235 1158l5 6 8 12 -5 -16z" fill="#001d07"/><path d="M1172 1045l5 17 7 19 -5 -1z" fill="#7f4e01"/><path d="M1159 1090l6 -23 7 -22 -6 38z" fill="#7a5300"/><path d="M1284 1143l5 -2 10 2 -6 4z" fill="#205a00"/><path d="M1272 1154l5 -11 9 0 -5 4z" fill="#134700"/><path d="M1065 1070l6 5 8 2 -6 -4z" fill="#6b4c00"/><path d="M1122 1074l5 9 8 7 -6 -4z" fill="#3c3300"/><path d="M1178 1078l6 1 7 20 -6 6z" fill="#8a8102"/><path d="M940 1069l7 2 7 -24 -7 -9z" fill="#180b00"/><path d="M1203 1132l6 -5 8 14 -6 8z" fill="#528c08"/><path d="M873 1123l6 -8 6 -23 -6 13z" fill="#191d00"/><path d="M1140 1097l6 -2 9 3 -7 6z" fill="#787b00"/><path d="M829 1154l7 -6 7 2 -7 8z" fill="#0b6600"/><path d="M1185 1103l6 -6 7 21 -6 6z" fill="#809306"/><path d="M964 1041l8 16 7 -11 -7 -23z" fill="#180500"/><path d="M1020 988l7 15 7 -5 -6 -21z" fill="#140000"/><path d="M1153 1099l6 -11 8 -8 -6 20z" fill="#8b8301"/><path d="M841 1151l8 -5 6 -7 -8 4z" fill="#143b00"/><path d="M1328 1146l6 -4 9 3 -6 5z" fill="#216800"/><path d="M1222 1151l6 -2 8 11 -5 -4z" fill="#075700"/><path d="M1040 990l6 31 7 12 -6 -30z" fill="#160000"/><path d="M978 1046l6 4 7 -33 -7 2z" fill="#170100"/><path d="M1316 1147l6 -4 9 3 -6 5z" fill="#206a00"/><path d="M952 1048l7 10 8 -17 -8 -24z" fill="#180400"/><path d="M854 1141l7 -2 6 -12 -7 1z" fill="#121d00"/><path d="M1084 1089l7 -16 7 2 -5 5z" fill="#785f00"/><path d="M1047 1003l5 27 8 25 -6 -12z" fill="#370300"/><path d="M1304 1147l5 -4 9 4 -5 5z" fill="#206c00"/><path d="M996 1004l6 12 8 -31 -7 -27z" fill="#140000"/><path d="M1254 1168l6 8 8 -19 -5 -1z" fill="#001404"/><path d="M1128 1084l6 4 8 10 -6 -3z" fill="#554f00"/><path d="M1109 1060l5 8 9 7 -6 -4z" fill="#452a00"/><path d="M1008 986l7 21 7 -18 -7 -27z" fill="#130000"/><path d="M1191 1122l6 -6 8 17 -6 5z" fill="#608504"/><path d="M1210 1147l6 -7 8 12 -6 6z" fill="#278a09"/><path d="M1053 1041l6 12 7 18 -6 -6z" fill="#461f00"/><path d="M1072 1072l6 4 8 13 -7 -5z" fill="#5d4a00"/><path d="M1166 1082l6 -37 8 35 -7 13z" fill="#efb62b"/><path d="M1242 1160l5 16 9 -8 -6 -11z" fill="#001405"/><path d="M1291 1146l6 -4 9 5 -6 4z" fill="#226a00"/><path d="M909 1076l7 11 7 -11 -7 -9z" fill="#191300"/><path d="M1097 1076l6 -12 8 -4 -6 11z" fill="#623b00"/><path d="M896 1080l8 10 7 -14 -8 -4z" fill="#191400"/><path d="M1267 1159l5 -5 9 -8 -5 3z" fill="#072e00"/><path d="M884 1094l7 1 7 -16 -8 -17z" fill="#1a1500"/><path d="M1172 1091l7 -13 7 27 -6 8z" fill="#a0a009"/><path d="M866 1129l7 -6 6 -17 -7 11z" fill="#252e00"/><path d="M1279 1147l6 -5 9 4 -6 4z" fill="#205f00"/><path d="M922 1077l7 7 6 -23 -7 -13z" fill="#190f00"/><path d="M1147 1103l6 -6 9 1 -7 11z" fill="#929805"/><path d="M1198 1136l6 -5 8 17 -6 6z" fill="#397903"/><path d="M822 1158l8 -6 7 5 -8 9z" fill="#047c06"/><path d="M1160 1100l6 -20 8 11 -6 16z" fill="#c5be15"/><path d="M1179 1111l6 -8 8 21 -6 4z" fill="#778f06"/><path d="M1230 1155l5 5 9 2 -6 -8z" fill="#002400"/><path d="M835 1158l7 -9 7 -6 -8 12z" fill="#104e00"/><path d="M1116 1069l6 4 8 13 -6 -3z" fill="#4e3a00"/><path d="M1059 1064l7 7 7 3 -6 -13z" fill="#291800"/><path d="M1324 1150l5 -5 9 4 -5 4z" fill="#1d6900"/><path d="M1135 1094l6 3 8 6 -6 -3z" fill="#535300"/><path d="M934 1062l7 7 6 -31 -7 -6z" fill="#180700"/><path d="M1311 1151l6 -5 9 4 -6 4z" fill="#1b6a00"/><path d="M1217 1158l6 -7 9 4 -6 -2z" fill="#0a5400"/><path d="M1078 1083l7 7 8 -11 -7 13z" fill="#2d2600"/><path d="M1027 977l7 21 7 -6 -7 -30z" fill="#130000"/><path d="M1299 1150l5 -4 9 5 -5 4z" fill="#1b6a00"/><path d="M847 1145l7 -4 7 -13 -8 1z" fill="#101900"/><path d="M1205 1152l6 -5 8 11 -6 2z" fill="#0f6700"/><path d="M1186 1126l6 -4 8 16 -6 0z" fill="#547a02"/><path d="M1166 1106l7 -15 8 21 -6 8z" fill="#cbda24"/><path d="M1091 1081l6 -5 8 -7 -6 -3z" fill="#3a2600"/><path d="M878 1108l7 -14 6 -32 -6 36z" fill="#484000"/><path d="M990 1019l6 -15 7 -46 -6 17z" fill="#130000"/><path d="M1287 1149l5 -4 9 5 -6 4z" fill="#1e6900"/><path d="M1103 1070l7 -10 8 10 -6 -7z" fill="#4e2b00"/><path d="M1154 1108l7 -10 8 8 -7 10z" fill="#c5d320"/><path d="M971 1025l7 21 7 -27 -7 -13z" fill="#170000"/><path d="M1123 1081l6 3 8 11 -6 -10z" fill="#3f3600"/><path d="M859 1129l8 0 6 -12 -7 -2z" fill="#141a00"/><path d="M1249 1158l6 11 9 -12 -6 -2z" fill="#001400"/><path d="M1262 1158l5 1 9 -9 -5 2z" fill="#062900"/><path d="M1015 962l6 28 8 -12 -7 -8z" fill="#110000"/><path d="M1274 1150l6 -4 9 3 -6 4z" fill="#1a5700"/><path d="M828 1166l8 -10 6 -3 -7 16z" fill="#006b05"/><path d="M815 1162l8 -5 7 8 -7 9z" fill="#0f9522"/><path d="M946 1040l7 9 7 -32 -7 -17z" fill="#170100"/><path d="M1041 1003l6 0 7 40 -6 -5z" fill="#580000"/><path d="M1047 1036l6 5 8 24 -7 -11z" fill="#431200"/><path d="M902 1074l8 3 7 -9 -8 -2z" fill="#1f1400"/><path d="M1142 1099l6 3 8 7 -6 -3z" fill="#525500"/><path d="M1173 1118l7 -7 8 17 -7 3z" fill="#7e9e0c"/><path d="M1237 1155l5 7 9 -3 -5 -4z" fill="#021d00"/><path d="M958 1018l8 24 7 -17 -8 -32z" fill="#170000"/><path d="M1193 1137l6 -1 7 17 -5 -5z" fill="#2f6000"/><path d="M890 1062l7 19 7 -8 -7 8z" fill="#513600"/><path d="M872 1119l7 -14 6 -9 -7 22z" fill="#606b00"/><path d="M1034 962l6 30 7 13 -6 0z" fill="#3d0000"/><path d="M1066 1062l6 12 8 10 -6 -43z" fill="#190d00"/><path d="M1319 1153l5 -4 9 3 -5 5z" fill="#176800"/><path d="M915 1069l7 9 7 -29 -7 -5z" fill="#180b00"/><path d="M1224 1153l6 3 9 -1 -5 -2z" fill="#093300"/><path d="M1161 1115l7 -10 8 14 -7 9z" fill="#b2cd20"/><path d="M1306 1154l6 -4 9 3 -6 5z" fill="#166700"/><path d="M841 1155l7 -10 6 -16 -7 18z" fill="#1e3b00"/><path d="M984 1021l6 -2 7 -44 -6 10z" fill="#140000"/><path d="M1212 1160l6 -2 9 -5 -6 -1z" fill="#093d00"/><path d="M1110 1063l6 6 8 14 -5 -9z" fill="#362200"/><path d="M1294 1153l6 -4 8 5 -5 3z" fill="#176700"/><path d="M1130 1085l6 10 7 5 -5 -16z" fill="#1a1700"/><path d="M1180 1129l7 -3 8 12 -6 -2z" fill="#4c6c00"/><path d="M1086 1092l6 -11 7 -15 -6 1z" fill="#191100"/><path d="M1053 1052l7 13 8 -2 -7 -15z" fill="#180900"/><path d="M821 1173l8 -9 7 3 -7 14z" fill="#0f9334"/><path d="M1200 1147l5 5 9 8 -5 -8z" fill="#104000"/><path d="M1002 960l7 27 7 -23 -7 -54z" fill="#0d0000"/><path d="M927 1050l8 12 6 -30 -7 -10z" fill="#180300"/><path d="M1149 1104l6 3 8 9 -6 1z" fill="#5b6500"/><path d="M1282 1152l5 -4 9 5 -6 3z" fill="#1c6800"/><path d="M884 1098l6 -36 8 17 -7 25z" fill="#917701"/><path d="M1021 970l7 9 7 -17 -7 28z" fill="#4d0000"/><path d="M809 1166l7 -5 8 12 -8 7z" fill="#0c8a2a"/><path d="M1269 1153l6 -4 9 3 -6 4z" fill="#185a00"/><path d="M1098 1067l6 4 8 -7 -6 -8z" fill="#1f0f00"/><path d="M1257 1156l5 2 9 -6 -5 5z" fill="#0c4400"/><path d="M896 1080l7 -8 7 -6 -7 21z" fill="#8b5f01"/><path d="M865 1116l8 3 7 -2 -8 4z" fill="#5d6e00"/><path d="M1168 1127l6 -9 8 12 -6 5z" fill="#7da20d"/><path d="M834 1168l7 -15 7 -8 -7 23z" fill="#086100"/><path d="M878 1118l7 -22 7 6 -7 25z" fill="#899704"/><path d="M1034 1016l7 -13 7 35 -6 0z" fill="#7f0302"/><path d="M853 1131l7 -1 7 -14 -8 -13z" fill="#1f2500"/><path d="M1244 1155l5 4 10 -4 -6 5z" fill="#094100"/><path d="M1073 1041l6 43 7 8 -6 -34z" fill="#190e00"/><path d="M1027 988l7 -26 8 43 -7 13z" fill="#7b0707"/><path d="M1117 1072l6 11 8 4 -6 -13z" fill="#1e1600"/><path d="M940 1034l7 6 6 -39 -6 12z" fill="#170000"/><path d="M1314 1157l5 -5 9 4 -5 4z" fill="#136500"/><path d="M1232 1154l5 1 9 1 -5 3z" fill="#0e4900"/><path d="M908 1068l8 1 6 -25 -6 25z" fill="#3d1b00"/><path d="M1188 1135l5 1 8 12 -5 -4z" fill="#2f4a00"/><path d="M1156 1115l6 -1 8 13 -6 4z" fill="#596e00"/><path d="M1041 1037l7 -1 7 18 -6 -17z" fill="#470700"/><path d="M1301 1156l6 -3 9 3 -6 4z" fill="#126400"/><path d="M890 1104l7 -26 7 7 -7 29z" fill="#aa9d09"/><path d="M1219 1153l5 0 10 1 -5 1z" fill="#124300"/><path d="M1137 1084l6 16 7 6 -5 -22z" fill="#1a1700"/><path d="M815 1178l8 -7 7 9 -8 10z" fill="#1ba95e"/><path d="M965 993l7 33 7 -19 -7 -13z" fill="#150000"/><path d="M828 1181l7 -15 7 0 -7 20z" fill="#027428"/><path d="M1021 1010l7 -22 8 29 -7 20z" fill="#9c0f0f"/><path d="M1289 1155l6 -3 9 4 -6 4z" fill="#166900"/><path d="M1015 967l7 3 7 20 -7 21z" fill="#6c0303"/><path d="M977 1008l7 13 7 -36 -7 -6z" fill="#140000"/><path d="M1207 1152l6 8 8 -7 -5 -2z" fill="#0e3500"/><path d="M871 1119l8 -3 7 10 -8 13z" fill="#bbe32b"/><path d="M884 1127l7 -25 7 10 -7 24z" fill="#809806"/><path d="M1009 910l6 54 7 8 -6 -3z" fill="#240000"/><path d="M1276 1155l6 -4 9 4 -6 5z" fill="#1b6e00"/><path d="M1175 1134l6 -5 8 7 -5 -9z" fill="#486300"/><path d="M847 1147l7 -18 5 -26 -6 40z" fill="#445c00"/><path d="M1028 1036l7 -20 8 22 -7 6z" fill="#e1322b"/><path d="M902 1086l7 -20 7 1 -6 28z" fill="#8b6101"/><path d="M1060 1049l7 14 7 -22 -5 9z" fill="#180600"/><path d="M802 1170l8 -4 7 13 -8 6z" fill="#05772a"/><path d="M1105 1057l5 7 9 10 -6 -14z" fill="#220f00"/><path d="M1264 1157l6 -5 9 3 -6 6z" fill="#186900"/><path d="M1162 1130l7 -4 8 8 -6 7z" fill="#4b6900"/><path d="M1080 1058l6 34 8 -25 -7 1z" fill="#1d1100"/><path d="M996 977l6 -16 7 -51 -6 47z" fill="#200000"/><path d="M1251 1159l6 -4 9 1 -6 7z" fill="#106500"/><path d="M1015 1031l7 -22 8 27 -7 19z" fill="#ae1913"/><path d="M1195 1143l5 4 9 6 -5 -4z" fill="#1d3d00"/><path d="M841 1168l6 -23 7 -4 -7 28z" fill="#196b00"/><path d="M952 1003l7 16 7 -25 -7 -39z" fill="#130000"/><path d="M1092 1069l6 -1 9 -11 -7 -3z" fill="#180a00"/><path d="M1239 1158l6 -3 9 4 -6 5z" fill="#0f6600"/><path d="M858 1103l9 13 6 4 -8 6z" fill="#839506"/><path d="M897 1114l6 -30 7 9 -7 24z" fill="#959402"/><path d="M921 1046l7 5 7 -29 -8 -12z" fill="#170100"/><path d="M1124 1075l6 12 8 -2 -6 -20z" fill="#191100"/><path d="M1009 986l7 -19 7 44 -6 22z" fill="#6e0202"/><path d="M877 1138l8 -13 7 9 -7 18z" fill="#87bc1a"/><path d="M1144 1084l5 22 8 11 -5 -21z" fill="#191900"/><path d="M821 1189l8 -10 7 5 -8 13z" fill="#129968"/><path d="M933 1023l7 11 7 -21 -7 18z" fill="#350000"/><path d="M1048 1037l6 17 8 -4 -7 -17z" fill="#180300"/><path d="M1309 1159l5 -4 10 4 -6 4z" fill="#0f6300"/><path d="M1227 1154l5 -1 9 5 -6 3z" fill="#176600"/><path d="M990 987l7 -10 6 -23 -6 12z" fill="#290000"/><path d="M808 1183l8 -5 7 11 -8 7z" fill="#0e8c5b"/><path d="M1296 1158l6 -3 9 4 -6 4z" fill="#126900"/><path d="M834 1185l7 -19 7 1 -7 21z" fill="#016e24"/><path d="M891 1136l6 -24 7 3 -7 23z" fill="#6d8802"/><path d="M1022 1055l7 -20 8 7 -7 13z" fill="#991f07"/><path d="M865 1124l7 -5 7 20 -7 10z" fill="#8cb818"/><path d="M1183 1127l5 8 8 9 -5 -3z" fill="#304500"/><path d="M1284 1159l6 -5 9 4 -6 7z" fill="#167802"/><path d="M1214 1152l6 0 9 2 -6 5z" fill="#1c5a00"/><path d="M1112 1060l6 14 8 2 -6 -2z" fill="#190d00"/><path d="M1035 1043l6 -6 9 1 -7 -7z" fill="#530400"/><path d="M1151 1096l5 21 8 14 -5 -18z" fill="#262a00"/><path d="M909 1095l7 -28 6 -4 -6 36z" fill="#886000"/><path d="M1010 1038l6 -8 8 25 -7 -4z" fill="#7b0e01"/><path d="M1271 1159l6 -5 9 5 -6 7z" fill="#187f04"/><path d="M1067 1050l7 -9 7 19 -6 1z" fill="#531600"/><path d="M853 1143l6 -40 7 21 -7 29z" fill="#719506"/><path d="M1002 956l7 -46 7 59 -6 19z" fill="#610e0e"/><path d="M915 1069l7 -25 6 -34 -6 55z" fill="#621100"/><path d="M1003 996l7 -11 7 48 -7 6z" fill="#710101"/><path d="M971 996l7 12 7 -28 -7 17z" fill="#300000"/><path d="M1202 1148l5 5 9 0 -6 1z" fill="#1f4d00"/><path d="M1259 1163l6 -7 9 3 -6 7z" fill="#117602"/><path d="M795 1171l8 -2 7 16 -8 3z" fill="#026b27"/><path d="M1170 1141l5 -7 9 -6 -6 -1z" fill="#364a00"/><path d="M871 1148l7 -11 8 14 -7 11z" fill="#76d128"/><path d="M846 1168l7 -27 7 10 -7 23z" fill="#1a7b02"/><path d="M903 1117l7 -24 7 4 -7 24z" fill="#8c9002"/><path d="M884 1151l7 -17 7 2 -7 18z" fill="#568603"/><path d="M1246 1163l6 -5 9 4 -6 7z" fill="#0a7402"/><path d="M827 1196l8 -13 7 3 -8 14z" fill="#057b5a"/><path d="M946 1015l7 -12 6 -48 -6 62z" fill="#5b0000"/><path d="M814 1195l8 -8 7 9 -7 8z" fill="#139882"/><path d="M1055 1033l6 17 8 1 -7 4z" fill="#380900"/><path d="M996 967l7 -13 7 34 -6 10z" fill="#700909"/><path d="M1234 1160l6 -3 8 6 -6 6z" fill="#0f7903"/><path d="M958 955l7 40 8 1 -7 20z" fill="#730404"/><path d="M859 1153l6 -29 8 25 -7 15z" fill="#72bb1c"/><path d="M1086 1070l7 -1 8 -15 -7 6z" fill="#371700"/><path d="M1158 1112l5 19 8 10 -5 -12z" fill="#222c00"/><path d="M940 1030l7 -17 7 1 -7 30z" fill="#910605"/><path d="M1099 1055l6 3 8 3 -6 -7z" fill="#2c0e00"/><path d="M1189 1139l6 3 9 7 -6 0z" fill="#345300"/><path d="M1131 1065l6 21 8 0 -6 -25z" fill="#190f00"/><path d="M1074 1059l6 -1 8 12 -7 2z" fill="#612a00"/><path d="M1304 1162l5 -4 10 4 -6 4z" fill="#0e6900"/><path d="M840 1187l7 -21 7 6 -7 18z" fill="#027329"/><path d="M927 1010l7 12 7 8 -7 12z" fill="#990909"/><path d="M897 1137l6 -22 7 4 -6 19z" fill="#688301"/><path d="M1221 1158l6 -5 9 7 -6 7z" fill="#1a7903"/><path d="M801 1186l8 -3 7 13 -7 4z" fill="#057653"/><path d="M1016 1050l7 5 8 -1 -7 -6z" fill="#651700"/><path d="M1291 1164l6 -7 9 4 -6 9z" fill="#0f7e04"/><path d="M965 1016l7 -22 7 1 -7 33z" fill="#9b0f0f"/><path d="M1279 1165l6 -7 8 6 -6 12z" fill="#17a214"/><path d="M1029 1055l6 -13 8 -11 -6 17z" fill="#500800"/><path d="M915 1099l7 -36 7 10 -7 32z" fill="#8e6b01"/><path d="M984 982l7 5 7 -20 -7 -29z" fill="#270000"/><path d="M852 1174l7 -23 8 12 -8 17z" fill="#0b910c"/><path d="M878 1162l7 -13 7 3 -7 14z" fill="#2c8d07"/><path d="M946 1043l7 -29 8 33 -7 14z" fill="#ad1a11"/><path d="M959 1048l7 -34 7 12 -7 32z" fill="#a3120c"/><path d="M952 1016l7 -61 7 61 -6 32z" fill="#a11313"/><path d="M865 1164l7 -17 8 14 -8 13z" fill="#3dc624"/><path d="M1118 1073l7 3 8 -10 -6 -10z" fill="#190c00"/><path d="M1209 1153l6 -2 8 7 -6 4z" fill="#226c00"/><path d="M1266 1165l6 -7 9 7 -6 8z" fill="#108d0b"/><path d="M933 1040l7 -11 8 13 -7 18z" fill="#bd2418"/><path d="M921 1065l6 -55 8 30 -7 35z" fill="#8c1702"/><path d="M1061 1054l7 -4 8 10 -7 2z" fill="#651d00"/><path d="M909 1120l7 -23 7 6 -7 22z" fill="#899002"/><path d="M997 1000l7 -4 7 43 -7 -3z" fill="#710101"/><path d="M1254 1168l6 -7 8 4 -6 7z" fill="#057803"/><path d="M1177 1128l6 -1 8 13 -6 -2z" fill="#415700"/><path d="M821 1203l7 -9 7 5 -7 9z" fill="#077f7a"/><path d="M890 1154l7 -19 7 2 -7 16z" fill="#4b7600"/><path d="M1041 1032l7 7 8 -5 -7 -23z" fill="#260000"/><path d="M1241 1168l6 -6 9 5 -6 7z" fill="#047a05"/><path d="M833 1200l8 -15 7 4 -8 14z" fill="#027256"/><path d="M952 1060l8 -14 7 11 -7 16z" fill="#c9531b"/><path d="M1003 1034l7 3 8 14 -7 -16z" fill="#740701"/><path d="M1196 1148l6 -1 9 6 -6 3z" fill="#306400"/><path d="M1164 1128l6 13 9 -13 -6 2z" fill="#354600"/><path d="M808 1198l7 -4 8 9 -8 5z" fill="#087f77"/><path d="M1106 1054l5 7 9 13 -6 -21z" fill="#180900"/><path d="M928 1074l6 -35 8 19 -7 30z" fill="#aa4f0c"/><path d="M1228 1166l7 -7 8 9 -6 7z" fill="#0a8307"/><path d="M1139 1061l5 25 8 12 -6 -31z" fill="#191000"/><path d="M940 1059l7 -18 8 19 -8 16z" fill="#c24f18"/><path d="M846 1190l7 -18 7 6 -7 16z" fill="#057b37"/><path d="M1080 1071l7 -1 8 -10 -6 8z" fill="#5a2900"/><path d="M922 1105l6 -33 8 14 -7 27z" fill="#9f8704"/><path d="M1286 1176l6 -13 9 5 -6 18z" fill="#0f9722"/><path d="M972 1028l6 -34 7 3 -6 41z" fill="#790101"/><path d="M903 1138l7 -20 7 5 -7 17z" fill="#698501"/><path d="M990 938l7 28 7 32 -6 4z" fill="#5e0303"/><path d="M966 1058l6 -32 8 10 -7 24z" fill="#880e02"/><path d="M1299 1169l6 -8 9 3 -6 8z" fill="#087802"/><path d="M859 1180l7 -18 7 10 -7 13z" fill="#0d9326"/><path d="M1274 1171l6 -7 8 11 -6 11z" fill="#15a02c"/><path d="M978 997l6 -15 7 -44 -6 61z" fill="#570000"/><path d="M871 1173l8 -13 7 4 -8 12z" fill="#078607"/><path d="M1023 1049l7 6 7 -8 -6 12z" fill="#791a00"/><path d="M1093 1062l7 -8 8 1 -6 0z" fill="#2e0d00"/><path d="M1216 1161l6 -4 9 9 -7 5z" fill="#137a04"/><path d="M1068 1060l6 -1 8 12 -6 -1z" fill="#542300"/><path d="M1184 1136l6 2 8 11 -6 1z" fill="#446600"/><path d="M934 1088l7 -30 7 16 -7 25z" fill="#b0750d"/><path d="M915 1124l7 -21 8 8 -7 17z" fill="#839002"/><path d="M884 1165l7 -13 7 -1 -7 14z" fill="#226f00"/><path d="M1146 1067l5 31 8 17 -5 -23z" fill="#1b1600"/><path d="M991 1022l7 -22 7 36 -7 13z" fill="#900808"/><path d="M1261 1171l6 -7 9 8 -6 5z" fill="#06810d"/><path d="M946 1075l8 -16 7 13 -7 8z" fill="#ad5d0c"/><path d="M1049 1011l6 24 7 20 -6 -25z" fill="#4e0200"/><path d="M1010 1036l7 15 8 -1 -7 0z" fill="#710c00"/><path d="M827 1207l7 -9 7 3 -7 9z" fill="#016d6c"/><path d="M1203 1155l7 -3 8 10 -6 2z" fill="#246f01"/><path d="M959 1073l7 -17 8 3 -7 10z" fill="#792f00"/><path d="M1248 1173l6 -7 9 4 -6 7z" fill="#02740a"/><path d="M814 1207l8 -5 7 5 -8 6z" fill="#036d73"/><path d="M978 1037l7 -40 8 25 -7 25z" fill="#990909"/><path d="M840 1202l7 -14 7 4 -8 12z" fill="#027156"/><path d="M1036 1048l6 -17 8 -20 -7 34z" fill="#5f0200"/><path d="M1281 1185l6 -11 8 10 -6 23z" fill="#1ba962"/><path d="M928 1112l7 -26 7 12 -7 18z" fill="#9c9304"/><path d="M1153 1091l5 23 8 16 -6 -13z" fill="#2d2f00"/><path d="M1236 1174l6 -7 9 5 -7 8z" fill="#047b10"/><path d="M897 1152l7 -16 7 2 -7 13z" fill="#4c7400"/><path d="M984 999l7 -61 7 64 -6 21z" fill="#8c0f0f"/><path d="M1125 1057l7 10 8 -5 -6 -11z" fill="#180700"/><path d="M1171 1130l7 -3 8 10 -6 4z" fill="#577300"/><path d="M997 1049l7 -15 8 2 -7 25z" fill="#d03022"/><path d="M852 1194l7 -16 8 6 -8 12z" fill="#03753c"/><path d="M1294 1185l6 -17 8 2 -6 16z" fill="#027419"/><path d="M1223 1170l6 -5 9 9 -6 4z" fill="#037609"/><path d="M1191 1149l6 -2 9 9 -7 2z" fill="#386d00"/><path d="M1113 1054l6 20 9 -17 -7 -9z" fill="#180700"/><path d="M865 1185l7 -14 7 3 -7 12z" fill="#02731f"/><path d="M972 1060l7 -25 8 11 -8 7z" fill="#801100"/><path d="M909 1139l7 -17 7 5 -7 13z" fill="#5f7a00"/><path d="M984 1047l8 -26 7 28 -7 8z" fill="#b82117"/><path d="M1056 1030l6 25 7 7 -6 -21z" fill="#4c0800"/><path d="M1074 1069l7 3 8 -5 -6 4z" fill="#452000"/><path d="M941 1099l6 -26 8 5 -7 23z" fill="#876500"/><path d="M1030 1059l6 -13 8 -3 -7 26z" fill="#9e2908"/><path d="M877 1176l8 -12 7 -1 -8 12z" fill="#026900"/><path d="M1268 1175l6 -4 9 15 -6 0z" fill="#026d1c"/><path d="M1159 1115l6 15 8 1 -6 2z" fill="#485700"/><path d="M1088 1068l5 -7 9 -6 -6 3z" fill="#2e0f00"/><path d="M1017 1049l7 -1 7 11 -6 4z" fill="#922506"/><path d="M922 1128l7 -18 7 4 -7 11z" fill="#6c7800"/><path d="M1211 1163l6 -3 8 10 -6 2z" fill="#0d6c01"/><path d="M1179 1139l6 -4 8 15 -6 2z" fill="#4f7501"/><path d="M890 1164l7 -14 7 -1 -7 15z" fill="#2a6b00"/><path d="M1100 1057l7 -1 8 -1 -7 -23z" fill="#180300"/><path d="M991 1055l7 -8 8 13 -7 11z" fill="#952e07"/><path d="M1256 1176l6 -7 9 7 -6 3z" fill="#01700e"/><path d="M1004 1060l7 -25 8 14 -7 18z" fill="#d84624"/><path d="M953 1080l7 -7 8 -5 -8 -4z" fill="#4d2400"/><path d="M833 1209l7 -9 7 2 -7 9z" fill="#006865"/><path d="M820 1212l8 -6 7 3 -8 6z" fill="#005d65"/><path d="M1288 1207l6 -23 9 0 -5 9z" fill="#005c34"/><path d="M1243 1179l6 -8 9 5 -6 7z" fill="#016d13"/><path d="M935 1116l6 -19 8 2 -7 12z" fill="#6c6700"/><path d="M846 1203l7 -11 7 2 -7 12z" fill="#016c53"/><path d="M1062 1041l7 21 7 8 -5 -12z" fill="#401000"/><path d="M1043 1045l6 -34 8 19 -7 20z" fill="#a8120f"/><path d="M1198 1156l6 -2 9 10 -6 1z" fill="#236a00"/><path d="M1230 1177l6 -5 9 7 -6 4z" fill="#016b14"/><path d="M1276 1184l6 0 7 23 -4 -17z" fill="#004f2b"/><path d="M903 1151l7 -14 7 1 -7 12z" fill="#446300"/><path d="M858 1196l8 -13 7 1 -8 12z" fill="#006633"/><path d="M1133 1052l6 11 8 6 -6 -23z" fill="#220800"/><path d="M1166 1131l6 -1 8 10 -6 5z" fill="#5c7a01"/><path d="M1023 1062l7 -5 8 11 -7 8z" fill="#b75314"/><path d="M1037 1069l6 -26 8 5 -7 34z" fill="#983105"/><path d="M966 1069l7 -9 7 -9 -7 -9z" fill="#190500"/><path d="M871 1185l7 -11 7 0 -7 10z" fill="#005e14"/><path d="M978 1052l7 -7 8 12 -7 -18z" fill="#520900"/><path d="M1218 1171l6 -2 8 9 -6 1z" fill="#006106"/><path d="M1185 1150l7 -2 8 9 -6 2z" fill="#396b00"/><path d="M916 1139l7 -13 7 -3 -8 5z" fill="#3e4b00"/><path d="M998 1071l7 -13 8 8 -7 13z" fill="#b0520f"/><path d="M1120 1049l6 10 9 -7 -7 4z" fill="#3a0b00"/><path d="M884 1175l7 -13 7 1 -7 9z" fill="#0b6100"/><path d="M1082 1071l6 -2 8 -11 -6 5z" fill="#2f1100"/><path d="M1011 1067l7 -19 8 14 -8 2z" fill="#c54b1a"/><path d="M1141 1046l5 21 7 26 -5 -8z" fill="#4a2300"/><path d="M1049 1050l7 -20 8 12 -7 15z" fill="#d72f26"/><path d="M1147 1082l6 9 7 26 -6 -5z" fill="#594f00"/><path d="M947 1101l7 -23 7 -14 -7 18z" fill="#331f00"/><path d="M1263 1178l6 -4 9 11 -6 -2z" fill="#005b12"/><path d="M1030 1074l7 -7 8 15 -7 11z" fill="#cf841e"/><path d="M1069 1057l6 13 8 1 -6 -12z" fill="#220c00"/><path d="M1205 1164l6 -2 9 10 -6 0z" fill="#0e5f00"/><path d="M928 1124l7 -8 7 -7 -7 -1z" fill="#303200"/><path d="M896 1164l8 -15 7 -1 -8 16z" fill="#295600"/><path d="M839 1210l8 -8 7 2 -8 9z" fill="#006763"/><path d="M826 1214l8 -6 7 2 -8 6z" fill="#005a60"/><path d="M1250 1182l6 -7 9 3 -6 6z" fill="#006312"/><path d="M1108 1032l6 24 8 -6 -7 6z" fill="#410600"/><path d="M1173 1143l6 -4 8 12 -6 2z" fill="#4d7301"/><path d="M1154 1109l6 5 7 19 -6 -2z" fill="#5a6400"/><path d="M852 1205l7 -11 7 0 -7 12z" fill="#006047"/><path d="M1238 1182l6 -4 9 4 -6 4z" fill="#005f17"/><path d="M1044 1082l6 -34 7 6 -6 34z" fill="#853601"/><path d="M1095 1060l6 -3 8 -25 -6 14z" fill="#400600"/><path d="M1283 1190l6 17 9 -15 -6 -6z" fill="#001d10"/><path d="M985 1039l7 18 7 14 -6 -18z" fill="#390b00"/><path d="M865 1196l7 -12 7 -2 -8 11z" fill="#005423"/><path d="M1225 1177l6 -1 9 6 -6 1z" fill="#00550f"/><path d="M1193 1157l6 -1 8 9 -6 0z" fill="#236000"/><path d="M1017 1062l7 -1 8 15 -7 -5z" fill="#803201"/><path d="M909 1149l7 -9 7 -12 -7 4z" fill="#243000"/><path d="M1161 1129l6 2 8 14 -6 -1z" fill="#587300"/><path d="M941 1111l7 -10 7 -21 -7 6z" fill="#1a1400"/><path d="M1037 1092l7 -12 8 7 -7 13z" fill="#946d02"/><path d="M1056 1056l7 -15 8 17 -7 -3z" fill="#741000"/><path d="M1005 1078l7 -13 7 -3 -7 12z" fill="#783200"/><path d="M1127 1055l6 -4 9 -4 -7 20z" fill="#851a02"/><path d="M877 1184l8 -11 7 -3 -8 9z" fill="#005006"/><path d="M1271 1181l5 3 9 8 -5 -10z" fill="#002d0d"/><path d="M960 1066l7 3 7 -27 -8 -13z" fill="#180300"/><path d="M1213 1170l5 0 9 8 -5 -1z" fill="#014f00"/><path d="M992 1054l7 17 7 7 -7 -3z" fill="#5d2500"/><path d="M1180 1151l6 -1 9 8 -6 -1z" fill="#355b00"/><path d="M1114 1055l7 -7 8 7 -7 7z" fill="#8a1c04"/><path d="M890 1172l7 -10 7 1 -7 6z" fill="#0f4300"/><path d="M1076 1059l6 12 9 -7 -7 3z" fill="#2a0e00"/><path d="M845 1213l8 -10 7 1 -8 10z" fill="#005e59"/><path d="M1258 1183l6 -6 9 5 -6 2z" fill="#00550f"/><path d="M832 1215l8 -6 7 3 -8 6z" fill="#00595f"/><path d="M972 1043l7 10 8 -13 -8 -20z" fill="#170100"/><path d="M1134 1065l7 -19 7 38 -6 6z" fill="#833902"/><path d="M1089 1065l6 -5 8 -13 -6 7z" fill="#601300"/><path d="M1245 1185l6 -4 9 1 -6 5z" fill="#005815"/><path d="M922 1130l7 -5 7 -17 -8 -2z" fill="#181900"/><path d="M1141 1088l7 -6 7 29 -6 2z" fill="#746000"/><path d="M1024 1069l7 5 8 19 -6 -15z" fill="#593100"/><path d="M1101 1047l7 -15 8 24 -7 7z" fill="#901005"/><path d="M1200 1164l6 -1 9 8 -6 -1z" fill="#135400"/><path d="M1167 1142l7 1 8 9 -6 -1z" fill="#4b6d00"/><path d="M858 1206l7 -12 7 -3 -7 10z" fill="#004d30"/><path d="M1232 1182l6 -1 9 4 -5 0z" fill="#004a10"/><path d="M1051 1088l6 -34 7 -1 -6 9z" fill="#501a00"/><path d="M1148 1111l6 -2 8 22 -6 1z" fill="#666e00"/><path d="M903 1164l7 -14 6 -18 -7 9z" fill="#151f00"/><path d="M1121 1061l7 -7 8 12 -7 9z" fill="#ba4816"/><path d="M871 1192l7 -10 7 -5 -7 11z" fill="#004912"/><path d="M1187 1156l6 1 9 8 -6 -1z" fill="#224d00"/><path d="M1063 1054l7 5 7 2 -6 -29z" fill="#1d0300"/><path d="M1220 1175l5 2 10 6 -6 -4z" fill="#004005"/><path d="M934 1110l8 1 6 -25 -7 -3z" fill="#1a1500"/><path d="M998 1074l7 5 8 -6 -7 -6z" fill="#421d00"/><path d="M1011 1074l7 -12 8 8 -7 -4z" fill="#4d1c00"/><path d="M1278 1183l6 9 9 -5 -5 -6z" fill="#001405"/><path d="M1155 1130l6 -1 8 15 -6 4z" fill="#658102"/><path d="M1031 1078l7 15 7 7 -6 -14z" fill="#392700"/><path d="M1044 1100l7 -12 7 -26 -6 26z" fill="#492d00"/><path d="M1108 1062l7 -8 8 7 -6 4z" fill="#c2421a"/><path d="M883 1178l8 -8 7 -3 -8 7z" fill="#063800"/><path d="M1128 1073l7 -8 8 24 -7 5z" fill="#905004"/><path d="M954 1082l6 -16 7 -37 -7 -2z" fill="#170200"/><path d="M1082 1066l7 -3 8 -8 -6 21z" fill="#862b01"/><path d="M1266 1183l5 -2 10 2 -6 0z" fill="#00430b"/><path d="M838 1217l8 -6 7 2 -8 5z" fill="#005053"/><path d="M1207 1169l6 1 9 6 -5 -3z" fill="#094400"/><path d="M979 1020l7 21 7 15 -7 -15z" fill="#170100"/><path d="M1095 1055l7 -9 8 17 -6 5z" fill="#ba3515"/><path d="M1253 1186l6 -4 9 1 -6 6z" fill="#005a14"/><path d="M1175 1149l5 2 9 6 -6 -9z" fill="#385500"/><path d="M851 1214l8 -10 7 -5 -8 13z" fill="#004237"/><path d="M1240 1184l5 0 10 2 -6 3z" fill="#004b12"/><path d="M915 1134l7 -4 7 -24 -7 -3z" fill="#181900"/><path d="M1135 1092l7 -5 7 25 -6 -4z" fill="#635100"/><path d="M896 1169l8 -5 6 -23 -7 5z" fill="#0e1600"/><path d="M986 1039l6 14 8 22 -7 -5z" fill="#450e00"/><path d="M1162 1147l6 -5 9 8 -7 5z" fill="#669107"/><path d="M1195 1162l5 1 9 7 -6 -1z" fill="#194b00"/><path d="M864 1201l8 -11 6 -3 -7 2z" fill="#003a17"/><path d="M1116 1063l6 -3 8 15 -7 5z" fill="#ce5f1f"/><path d="M1070 1032l7 29 7 6 -6 -9z" fill="#3a0700"/><path d="M1143 1106l6 4 7 22 -6 0z" fill="#535700"/><path d="M1227 1179l6 4 9 2 -5 -6z" fill="#003506"/><path d="M1018 1067l6 3 9 10 -7 -18z" fill="#180900"/><path d="M947 1088l7 -6 6 -55 -6 29z" fill="#180600"/><path d="M1102 1066l7 -5 8 2 -6 18z" fill="#ea6c2c"/><path d="M877 1188l7 -11 7 -5 -7 14z" fill="#003e05"/><path d="M1038 1086l7 14 8 -14 -7 6z" fill="#3f2c00"/><path d="M1150 1130l6 0 8 18 -7 14z" fill="#5a7801"/><path d="M1090 1076l6 -22 8 12 -6 19z" fill="#d46320"/><path d="M1057 1064l7 -9 7 -23 -6 15z" fill="#460400"/><path d="M966 1031l7 13 7 -23 -7 -35z" fill="#150000"/><path d="M1215 1172l5 4 9 4 -5 -5z" fill="#043700"/><path d="M1182 1148l5 8 9 7 -5 -4z" fill="#304d00"/><path d="M1005 1069l7 5 8 -7 -7 -15z" fill="#180700"/><path d="M928 1108l7 2 7 -27 -8 -10z" fill="#191200"/><path d="M1077 1056l6 9 8 11 -6 4z" fill="#7b2b01"/><path d="M1273 1183l5 1 10 -2 -5 1z" fill="#003c07"/><path d="M1260 1189l6 -7 9 1 -6 8z" fill="#005d12"/><path d="M1122 1078l7 -5 8 20 -6 -14z" fill="#844701"/><path d="M992 1069l7 6 8 -6 -7 -17z" fill="#1a0800"/><path d="M844 1217l9 -3 6 -3 -8 -2z" fill="#002d2a"/><path d="M1247 1187l6 -2 9 3 -6 8z" fill="#00611b"/><path d="M890 1174l7 -5 6 -23 -7 12z" fill="#0d1a00"/><path d="M1156 1162l7 -16 8 7 -7 16z" fill="#79b519"/><path d="M1169 1154l6 -5 9 0 -6 7z" fill="#517801"/><path d="M1202 1167l5 1 10 5 -6 -2z" fill="#124600"/><path d="M1051 1088l7 -26 7 -15 -6 31z" fill="#591e00"/><path d="M1109 1080l7 -18 9 17 -7 13z" fill="#de7d24"/><path d="M909 1143l7 -9 6 -31 -7 -3z" fill="#181900"/><path d="M858 1212l7 -11 7 -12 -8 2z" fill="#001f10"/><path d="M1097 1084l6 -19 9 15 -7 12z" fill="#ea8c2b"/><path d="M1025 1063l7 17 7 8 -6 -19z" fill="#180a00"/><path d="M1235 1180l5 5 10 3 -6 -4z" fill="#003f08"/><path d="M941 1085l7 3 6 -32 -7 5z" fill="#180a00"/><path d="M1084 1078l6 -4 9 10 -7 4z" fill="#934f05"/><path d="M1189 1157l6 5 9 6 -6 0z" fill="#275400"/><path d="M870 1191l8 -3 7 -4 -8 0z" fill="#003009"/><path d="M979 1034l7 4 7 31 -6 -1z" fill="#5b0600"/><path d="M1064 1047l7 -15 7 25 -6 8z" fill="#9a120a"/><path d="M1130 1079l6 15 8 14 -6 -36z" fill="#3a2400"/><path d="M972 986l7 36 8 19 -7 -5z" fill="#450000"/><path d="M1222 1175l6 5 9 1 -6 -5z" fill="#043600"/><path d="M1045 1092l6 -4 8 -12 -6 14z" fill="#543100"/><path d="M1255 1195l6 -8 9 2 -6 13z" fill="#016f27"/><path d="M883 1186l8 -14 6 -14 -7 20z" fill="#0a2f00"/><path d="M1144 1112l6 18 7 32 -5 -7z" fill="#475900"/><path d="M1268 1190l6 -8 9 1 -6 7z" fill="#005a0d"/><path d="M959 1029l7 2 7 -45 -6 40z" fill="#3e0000"/><path d="M1163 1168l7 -15 8 1 -6 13z" fill="#477a01"/><path d="M1103 1091l7 -12 9 12 -7 4z" fill="#a96e0b"/><path d="M1176 1155l7 -7 8 10 -6 3z" fill="#4a7100"/><path d="M1117 1091l6 -13 9 2 -7 7z" fill="#7c4400"/><path d="M1032 1070l7 18 7 4 -5 -10z" fill="#251400"/><path d="M1209 1170l6 2 9 4 -5 -2z" fill="#0f4300"/><path d="M1138 1072l4 36 8 24 -5 -17z" fill="#413700"/><path d="M1012 1052l7 16 8 -4 -7 -16z" fill="#180400"/><path d="M1151 1153l5 7 9 8 -6 1z" fill="#3a6f01"/><path d="M1071 1063l7 -8 7 25 -6 -10z" fill="#681e00"/><path d="M1243 1183l5 4 9 8 -6 3z" fill="#005c18"/><path d="M921 1105l8 3 6 -35 -7 1z" fill="#191000"/><path d="M1090 1087l7 -4 9 8 -7 0z" fill="#784900"/><path d="M903 1148l6 -5 7 -43 -7 2z" fill="#181900"/><path d="M1058 1078l7 -31 8 17 -7 10z" fill="#771f00"/><path d="M986 1068l7 2 7 -17 -7 -2z" fill="#2d0800"/><path d="M851 1211l7 1 7 -21 -8 4z" fill="#00130b"/><path d="M953 1058l7 -31 7 -3 -7 29z" fill="#550100"/><path d="M1196 1167l6 0 9 4 -6 1z" fill="#1e5500"/><path d="M999 1054l7 16 8 -17 -8 -22z" fill="#170100"/><path d="M1230 1176l5 4 9 5 -5 -2z" fill="#034c00"/><path d="M863 1193l8 -2 7 -6 -8 -4z" fill="#001904"/><path d="M876 1185l8 1 7 -10 -8 9z" fill="#003101"/><path d="M1250 1197l6 -4 9 7 -7 17z" fill="#047641"/><path d="M1184 1159l6 -2 8 10 -6 2z" fill="#376500"/><path d="M1078 1068l6 12 8 8 -6 -17z" fill="#2f1400"/><path d="M973 1037l7 -3 7 34 -7 -2z" fill="#7e0802"/><path d="M1039 1082l6 11 9 -4 -7 3z" fill="#4c2e00"/><path d="M1263 1201l6 -12 9 -1 -6 10z" fill="#005d1c"/><path d="M966 1025l7 -39 7 50 -7 3z" fill="#be2121"/><path d="M946 1063l8 -7 7 -5 -7 15z" fill="#640e00"/><path d="M1111 1095l6 -6 9 -3 -7 15z" fill="#8b5c01"/><path d="M934 1075l7 10 8 -23 -8 -30z" fill="#180500"/><path d="M1157 1168l6 -1 10 -2 -7 7z" fill="#317401"/><path d="M1217 1173l5 2 10 2 -6 3z" fill="#0f5200"/><path d="M1171 1166l6 -12 9 6 -7 4z" fill="#4c7901"/><path d="M896 1160l7 -12 6 -46 -7 26z" fill="#151800"/><path d="M1019 1049l7 16 7 7 -7 -22z" fill="#180300"/><path d="M1052 1090l6 -14 9 -3 -7 -3z" fill="#461e00"/><path d="M1098 1090l6 0 9 5 -6 -4z" fill="#623f00"/><path d="M1124 1087l6 -6 9 -9 -6 6z" fill="#753500"/><path d="M960 1053l7 -29 7 13 -7 22z" fill="#a00e0b"/><path d="M1204 1170l6 0 9 4 -6 2z" fill="#1c5900"/><path d="M1237 1181l6 2 8 15 -5 -1z" fill="#005a0f"/><path d="M915 1102l7 4 6 -32 -7 -5z" fill="#190e00"/><path d="M1065 1074l6 -10 9 6 -7 -21z" fill="#4e1000"/><path d="M1139 1108l6 4 7 43 -6 -12z" fill="#545c00"/><path d="M890 1177l7 -17 6 -32 -7 33z" fill="#1f2f00"/><path d="M1145 1141l6 12 8 16 -6 -4z" fill="#375100"/><path d="M979 1065l8 3 7 -17 -7 5z" fill="#670f00"/><path d="M1191 1168l6 -2 9 5 -6 2z" fill="#286100"/><path d="M1085 1071l6 17 8 3 -5 -8z" fill="#2d1600"/><path d="M1257 1217l6 -17 9 -4 -5 7z" fill="#004c29"/><path d="M1132 1078l6 -6 7 43 -6 -5z" fill="#784e00"/><path d="M1026 1050l6 22 8 12 -6 -12z" fill="#210900"/><path d="M966 1057l7 -20 8 29 -7 7z" fill="#e53f2c"/><path d="M1006 1031l7 23 7 -4 -7 -12z" fill="#170000"/><path d="M953 1065l7 -14 8 6 -7 20z" fill="#b83014"/><path d="M1224 1178l6 -2 9 6 -6 6z" fill="#0b6d01"/><path d="M857 1197l7 -4 7 -12 -8 4z" fill="#001b03"/><path d="M1118 1100l7 -15 8 -7 -7 31z" fill="#bb7e11"/><path d="M1245 1195l6 1 7 21 -4 -12z" fill="#004b25"/><path d="M869 1182l8 4 7 -2 -8 -3z" fill="#022e00"/><path d="M1178 1162l6 -3 9 10 -6 -1z" fill="#467a02"/><path d="M1165 1171l6 -6 9 -3 -7 15z" fill="#357801"/><path d="M993 1053l7 2 7 -24 -7 1z" fill="#170000"/><path d="M1105 1091l6 2 9 7 -7 -2z" fill="#6c4900"/><path d="M1046 1092l6 -2 8 -19 -6 20z" fill="#703b00"/><path d="M883 1185l7 -8 7 -18 -7 19z" fill="#113800"/><path d="M1152 1163l6 4 9 4 -7 7z" fill="#2e6c01"/><path d="M1211 1174l6 -2 9 7 -6 5z" fill="#176c01"/><path d="M940 1032l7 32 8 2 -7 3z" fill="#650800"/><path d="M927 1076l8 -1 6 -43 -7 30z" fill="#240500"/><path d="M1033 1070l6 12 8 10 -7 -4z" fill="#4c2400"/><path d="M960 1076l7 -20 8 16 -7 19z" fill="#cf591e"/><path d="M1059 1072l7 2 7 -25 -6 33z" fill="#561600"/><path d="M1092 1083l6 8 9 1 -7 -8z" fill="#301a00"/><path d="M1198 1172l7 -2 8 5 -6 4z" fill="#236b00"/><path d="M1072 1049l7 21 7 3 -6 -17z" fill="#480b00"/><path d="M973 1073l7 -9 8 -8 -7 16z" fill="#9e2808"/><path d="M1125 1109l7 -31 8 32 -7 14z" fill="#d9b220"/><path d="M947 1067l7 -3 8 12 -7 15z" fill="#da6225"/><path d="M1232 1187l6 -6 8 16 -6 -1z" fill="#016d0d"/><path d="M1132 1122l7 -14 7 35 -6 -1z" fill="#717700"/><path d="M1112 1096l7 2 8 11 -7 4z" fill="#a6840a"/><path d="M1159 1177l7 -7 8 6 -7 22z" fill="#34b41b"/><path d="M1185 1167l7 0 8 5 -6 4z" fill="#327201"/><path d="M908 1105l7 -3 7 -33 -8 -22z" fill="#180b00"/><path d="M1252 1204l6 13 9 -14 -6 -3z" fill="#002111"/><path d="M1219 1182l6 -4 9 9 -7 10z" fill="#0a8809"/><path d="M1172 1177l7 -15 8 5 -6 13z" fill="#3b8404"/><path d="M1012 1039l7 12 8 1 -7 -29z" fill="#390000"/><path d="M1140 1140l6 1 7 23 -6 -5z" fill="#3f5500"/><path d="M1039 1086l7 4 9 0 -8 10z" fill="#915804"/><path d="M986 1058l7 -5 7 -21 -6 20z" fill="#630300"/><path d="M953 1090l8 -16 8 16 -8 16z" fill="#e29126"/><path d="M875 1182l8 3 8 -9 -8 7z" fill="#0a4000"/><path d="M1053 1091l7 -21 7 10 -7 20z" fill="#924902"/><path d="M967 1091l7 -20 7 -1 -6 32z" fill="#b45d10"/><path d="M920 1070l8 6 7 -16 -7 11z" fill="#511400"/><path d="M862 1186l8 -5 8 0 -9 5z" fill="#053b00"/><path d="M999 1032l7 -1 8 8 -7 16z" fill="#640000"/><path d="M1079 1056l6 17 8 11 -6 -9z" fill="#3f1200"/><path d="M933 1062l8 -30 7 36 -7 12z" fill="#c72e1d"/><path d="M1206 1178l6 -4 9 9 -7 5z" fill="#1a7b04"/><path d="M1119 1111l7 -4 8 17 -7 3z" fill="#cfc11c"/><path d="M1147 1157l6 5 8 16 -6 1z" fill="#2c5700"/><path d="M1239 1195l6 0 9 10 -5 -9z" fill="#003d11"/><path d="M896 1161l6 -33 7 -25 -7 40z" fill="#454c00"/><path d="M1099 1085l6 6 9 7 -6 -9z" fill="#3c2200"/><path d="M940 1078l8 -11 7 24 -7 13z" fill="#a6560c"/><path d="M1066 1082l7 -33 7 7 -6 31z" fill="#811d00"/><path d="M902 1131l7 -26 5 -58 -6 58z" fill="#362300"/><path d="M1020 1023l6 27 8 22 -7 -9z" fill="#550400"/><path d="M1167 1197l6 -22 8 3 -6 20z" fill="#037602"/><path d="M1193 1174l6 -3 9 7 -7 5z" fill="#267702"/><path d="M980 1072l7 -16 7 -6 -6 32z" fill="#8a1902"/><path d="M889 1178l7 -19 7 -18 -7 25z" fill="#2f4600"/><path d="M960 1106l8 -17 8 12 -8 16z" fill="#dcad21"/><path d="M1226 1196l7 -10 8 9 -6 7z" fill="#037618"/><path d="M1046 1099l7 -10 9 10 -8 12z" fill="#d0991b"/><path d="M1027 1061l6 9 8 18 -7 -6z" fill="#632000"/><path d="M947 1103l7 -14 8 16 -7 14z" fill="#e5b726"/><path d="M1154 1177l6 -1 8 21 -6 -4z" fill="#076400"/><path d="M1126 1125l7 -3 8 20 -6 -3z" fill="#7e8702"/><path d="M1180 1179l6 -13 9 8 -7 6z" fill="#378806"/><path d="M993 1050l7 -18 8 21 -7 24z" fill="#ae1710"/><path d="M1060 1100l7 -21 7 6 -6 18z" fill="#7b4700"/><path d="M974 1102l7 -32 7 10 -7 29z" fill="#a05c07"/><path d="M1213 1186l7 -4 8 14 -6 4z" fill="#078110"/><path d="M927 1069l7 -9 8 19 -7 11z" fill="#e6652b"/><path d="M1107 1089l6 7 8 17 -7 3z" fill="#674d00"/><path d="M1086 1073l7 11 8 2 -7 -15z" fill="#180900"/><path d="M1006 1054l7 -16 7 -15 -6 37z" fill="#b71817"/><path d="M869 1185l8 -4 7 1 -8 5z" fill="#0a4b00"/><path d="M1034 1080l6 6 8 14 -7 3z" fill="#824b01"/><path d="M987 1082l7 -32 8 26 -7 26z" fill="#aa420d"/><path d="M934 1088l7 -10 8 26 -7 10z" fill="#a66c0b"/><path d="M1113 1114l7 -3 8 15 -7 12z" fill="#938e04"/><path d="M882 1183l8 -5 6 -14 -7 12z" fill="#1a4100"/><path d="M1134 1137l6 3 8 19 -6 -9z" fill="#475700"/><path d="M1247 1196l6 9 9 -3 -6 -7z" fill="#001706"/><path d="M1200 1182l7 -5 8 10 -6 6z" fill="#158006"/><path d="M1000 1077l7 -25 8 6 -7 28z" fill="#a72b0c"/><path d="M967 1116l7 -16 8 8 -7 14z" fill="#bfa211"/><path d="M954 1118l7 -14 8 12 -7 10z" fill="#f8e12e"/><path d="M914 1047l7 24 8 0 -8 5z" fill="#801601"/><path d="M1161 1191l6 7 9 -1 -6 -6z" fill="#004f0a"/><path d="M1073 1087l7 -31 8 18 -7 -18z" fill="#611300"/><path d="M981 1109l7 -29 8 20 -8 17z" fill="#bf8c13"/><path d="M1040 1101l7 -3 8 12 -7 24z" fill="#dbbb21"/><path d="M941 1113l7 -11 8 16 -8 11z" fill="#dfc822"/><path d="M1053 1111l7 -13 9 4 -8 9z" fill="#886800"/><path d="M1234 1202l6 -8 9 3 -6 -2z" fill="#00480e"/><path d="M1013 1060l7 -37 8 40 -7 13z" fill="#c5251e"/><path d="M1220 1199l7 -5 9 7 -7 5z" fill="#016c1e"/><path d="M1187 1179l7 -6 8 10 -6 4z" fill="#237903"/><path d="M1174 1198l6 -20 9 0 -6 6z" fill="#0d5b00"/><path d="M994 1102l7 -27 7 9 -7 24z" fill="#b1680e"/><path d="M1141 1148l6 9 8 22 -6 -11z" fill="#2b4100"/><path d="M902 1143l6 -40 7 1 -6 34z" fill="#787200"/><path d="M1020 1075l7 -14 8 20 -7 12z" fill="#9e3b0a"/><path d="M920 1074l8 -5 7 21 -7 5z" fill="#c15c18"/><path d="M1093 1071l7 16 8 4 -7 -15z" fill="#180900"/><path d="M1120 1137l7 -12 8 13 -6 1z" fill="#788101"/><path d="M1047 1133l7 -24 8 0 -7 50z" fill="#9b9d05"/><path d="M1007 1085l7 -27 8 16 -7 23z" fill="#b0460f"/><path d="M1208 1191l6 -5 9 14 -7 3z" fill="#057a13"/><path d="M908 1105l6 -58 8 27 -7 32z" fill="#823600"/><path d="M895 1166l7 -25 7 -5 -7 22z" fill="#506500"/><path d="M961 1126l7 -12 8 6 -7 13z" fill="#c9c218"/><path d="M927 1093l8 -5 7 26 -7 5z" fill="#aa7e0c"/><path d="M1148 1166l6 11 8 15 -6 -3z" fill="#103c00"/><path d="M974 1121l7 -14 8 9 -7 10z" fill="#c4b114"/><path d="M947 1128l8 -12 8 9 -8 11z" fill="#efef2c"/><path d="M987 1117l7 -17 8 6 -7 18z" fill="#c5a514"/><path d="M1027 1092l7 -12 8 23 -7 9z" fill="#905904"/><path d="M1067 1103l7 -16 7 -31 -6 21z" fill="#2e1100"/><path d="M875 1187l8 -4 7 -9 -8 9z" fill="#124400"/><path d="M1041 1144l7 -13 8 28 -7 16z" fill="#80a10d"/><path d="M1034 1110l7 -9 8 32 -7 13z" fill="#867f01"/><path d="M1101 1076l6 13 8 27 -7 -6z" fill="#482d00"/><path d="M1195 1185l6 -4 9 11 -7 5z" fill="#0b7703"/><path d="M1001 1107l7 -24 8 12 -8 20z" fill="#ac740a"/><path d="M934 1118l8 -6 7 17 -7 9z" fill="#d0c91d"/><path d="M1108 1108l6 5 8 24 -7 0z" fill="#666200"/><path d="M914 1106l7 -32 8 19 -7 27z" fill="#c28216"/><path d="M1014 1096l7 -22 8 18 -7 16z" fill="#e68f28"/><path d="M1228 1205l6 -4 9 -6 -5 7z" fill="#004b11"/><path d="M1241 1196l6 1 10 -1 -6 -3z" fill="#002b04"/><path d="M889 1176l7 -12 7 -8 -8 11z" fill="#375300"/><path d="M1128 1137l6 -1 8 14 -6 -6z" fill="#4d5800"/><path d="M1168 1192l7 6 8 -15 -6 3z" fill="#033300"/><path d="M908 1138l7 -34 7 14 -7 27z" fill="#9d9905"/><path d="M1215 1202l6 -4 9 7 -6 4z" fill="#016920"/><path d="M1181 1184l7 -6 9 8 -7 2z" fill="#186800"/><path d="M1061 1111l6 -8 8 -26 -6 33z" fill="#5b3b00"/><path d="M1155 1187l6 5 9 0 -5 -2z" fill="#033100"/><path d="M921 1119l7 -26 8 26 -7 18z" fill="#d5bc1d"/><path d="M1080 1057l7 18 8 -2 -7 -45z" fill="#170100"/><path d="M954 1135l8 -11 8 7 -8 15z" fill="#c4ce1c"/><path d="M981 1125l7 -10 8 8 -7 9z" fill="#bab110"/><path d="M968 1132l7 -13 8 5 -8 13z" fill="#a9aa0a"/><path d="M1055 1159l6 -50 8 -1 -7 24z" fill="#6b6a00"/><path d="M994 1124l7 -19 8 8 -7 14z" fill="#a59006"/><path d="M1114 1136l6 1 10 1 -7 -5z" fill="#515700"/><path d="M1202 1195l6 -5 9 13 -6 5z" fill="#037315"/><path d="M941 1137l7 -10 8 8 -7 7z" fill="#cfda23"/><path d="M901 1158l8 -23 7 8 -7 19z" fill="#7a9505"/><path d="M1020 1107l8 -16 8 20 -7 2z" fill="#9e7408"/><path d="M1007 1114l8 -19 8 12 -8 8z" fill="#9b7604"/><path d="M914 1144l8 -27 8 18 -8 26z" fill="#a7b612"/><path d="M927 1136l8 -19 8 20 -8 11z" fill="#e1ea2b"/><path d="M1135 1143l6 5 8 20 -6 -23z" fill="#394800"/><path d="M1049 1174l6 -15 8 -29 -7 10z" fill="#252e00"/><path d="M1028 1111l7 -2 7 37 -6 -18z" fill="#565000"/><path d="M1189 1186l6 -1 9 11 -6 2z" fill="#076a01"/><path d="M882 1183l8 -7 6 -11 -8 11z" fill="#284b00"/><path d="M1223 1209l5 -5 10 -3 -6 7z" fill="#005319"/><path d="M1035 1126l7 17 7 31 -6 -37z" fill="#1a1f00"/><path d="M908 1161l7 -19 8 17 -7 19z" fill="#a4d324"/><path d="M1143 1145l6 21 7 23 -6 -9z" fill="#294000"/><path d="M961 1146l7 -15 8 4 -7 13z" fill="#818e02"/><path d="M1209 1207l7 -6 9 7 -7 6z" fill="#016624"/><path d="M1236 1202l6 -7 9 -1 -5 6z" fill="#004005"/><path d="M894 1166l8 -10 8 4 -8 8z" fill="#5f8502"/><path d="M921 1160l8 -25 7 11 -7 24z" fill="#809f09"/><path d="M988 1131l7 -9 8 4 -7 7z" fill="#939002"/><path d="M1176 1187l6 -4 9 4 -6 3z" fill="#125600"/><path d="M948 1141l7 -7 8 12 -7 2z" fill="#859405"/><path d="M974 1136l8 -12 8 6 -8 7z" fill="#8e9002"/><path d="M1088 1028l6 45 8 6 -6 -29z" fill="#170100"/><path d="M1122 1133l6 4 9 7 -7 3z" fill="#4c5400"/><path d="M1162 1190l7 3 9 -7 -6 1z" fill="#083600"/><path d="M1001 1127l7 -15 8 2 -7 12z" fill="#756600"/><path d="M934 1147l8 -12 8 6 -8 8z" fill="#a7ba14"/><path d="M1102 1091l6 17 8 29 -6 -22z" fill="#493a00"/><path d="M1095 1050l6 26 8 34 -7 -17z" fill="#471900"/><path d="M915 1177l7 -19 8 10 -7 36z" fill="#60ac14"/><path d="M1196 1197l7 -2 8 12 -6 1z" fill="#006211"/><path d="M1150 1178l5 10 9 3 -6 -3z" fill="#114200"/><path d="M1015 1115l6 -7 8 5 -7 -23z" fill="#715000"/><path d="M1074 1079l7 -21 8 -30 -7 14z" fill="#1d0100"/><path d="M1068 1110l7 -33 7 -35 -6 59z" fill="#5e2000"/><path d="M1062 1132l6 -24 8 -9 -6 23z" fill="#685500"/><path d="M1109 1113l6 24 8 -2 -6 -10z" fill="#464300"/><path d="M901 1167l8 -8 7 18 -7 1z" fill="#77ac14"/><path d="M1183 1188l7 -2 8 12 -6 0z" fill="#0a6100"/><path d="M1129 1145l7 -3 8 4 -7 12z" fill="#596900"/><path d="M1042 1137l7 38 8 -35 -7 -5z" fill="#151800"/><path d="M928 1170l7 -25 8 2 -7 16z" fill="#627e00"/><path d="M888 1175l8 -10 7 2 -8 10z" fill="#486f00"/><path d="M1217 1214l6 -7 9 0 -6 6z" fill="#00521e"/><path d="M954 1147l8 -1 8 1 -8 -7z" fill="#5a6600"/><path d="M968 1147l7 -12 8 0 -7 8z" fill="#616900"/><path d="M995 1133l7 -8 8 0 -7 10z" fill="#7b7800"/><path d="M1230 1208l6 -8 10 -2 -6 8z" fill="#00490d"/><path d="M981 1136l8 -6 8 2 -8 4z" fill="#767800"/><path d="M941 1148l8 -8 8 7 -8 3z" fill="#6c7c00"/><path d="M1204 1206l6 0 9 8 -6 0z" fill="#00561e"/><path d="M1170 1188l6 -2 9 3 -6 2z" fill="#145600"/><path d="M908 1176l8 0 7 28 -8 -21z" fill="#216500"/><path d="M1055 1142l6 -10 9 -12 -6 11z" fill="#434200"/><path d="M1022 1090l6 23 8 15 -7 -13z" fill="#4d3a00"/><path d="M1157 1187l6 4 9 -3 -6 4z" fill="#135600"/><path d="M1137 1156l6 -11 8 35 -6 -6z" fill="#3e5600"/><path d="M922 1204l7 -36 7 -7 -7 14z" fill="#2f5700"/><path d="M1116 1125l6 8 9 14 -7 -4z" fill="#5e6200"/><path d="M1008 1126l7 -11 8 -25 -7 24z" fill="#624900"/><path d="M1191 1196l6 0 9 11 -6 -1z" fill="#005509"/><path d="M1089 1060l6 -10 8 43 -7 6z" fill="#7a1a01"/><path d="M1081 1043l7 -15 8 24 -7 10z" fill="#9e0e0e"/><path d="M1096 1097l6 -6 8 24 -6 1z" fill="#764d00"/><path d="M1029 1113l6 13 8 13 -7 -4z" fill="#494500"/><path d="M1144 1172l6 6 9 10 -7 -1z" fill="#214700"/><path d="M1069 1122l7 -23 8 4 -7 22z" fill="#886700"/><path d="M1075 1101l7 -59 8 18 -7 45z" fill="#841f01"/><path d="M894 1176l8 -10 8 11 -8 1z" fill="#4b7401"/><path d="M935 1163l7 -16 8 2 -8 9z" fill="#5b6f00"/><path d="M1225 1213l6 -7 9 -2 -5 6z" fill="#004311"/><path d="M1211 1213l6 0 10 -1 -6 3z" fill="#00441a"/><path d="M1123 1141l7 4 8 13 -6 -6z" fill="#627100"/><path d="M1178 1190l6 -2 9 9 -7 0z" fill="#0e5b00"/><path d="M988 1135l7 -4 9 3 -7 1z" fill="#727200"/><path d="M961 1140l8 8 8 -7 -8 5z" fill="#555d00"/><path d="M975 1142l7 -7 8 -1 -7 6z" fill="#5d6000"/><path d="M948 1150l7 -2 8 -8 -7 10z" fill="#5c6800"/><path d="M1002 1135l7 -11 7 -12 -6 25z" fill="#877c00"/><path d="M1103 1115l6 -2 9 13 -7 5z" fill="#7c6900"/><path d="M1082 1104l7 -44 8 38 -7 18z" fill="#c66c19"/><path d="M914 1184l9 20 7 -28 -8 -1z" fill="#0e2400"/><path d="M1164 1191l7 -4 9 3 -7 2z" fill="#186400"/><path d="M1049 1136l7 6 8 -12 -6 4z" fill="#373800"/><path d="M1198 1205l6 1 9 8 -6 -2z" fill="#004512"/><path d="M1151 1185l7 1 8 5 -7 18z" fill="#116400"/><path d="M1062 1132l7 -12 9 3 -7 13z" fill="#887e00"/><path d="M1035 1134l7 5 9 -3 -7 1z" fill="#434400"/><path d="M1015 1113l7 -23 8 24 -7 13z" fill="#c59417"/><path d="M1089 1116l7 -19 9 19 -8 10z" fill="#ddaf23"/><path d="M1076 1124l7 -22 8 13 -7 15z" fill="#b5940d"/><path d="M1131 1150l6 6 8 18 -6 -10z" fill="#495f00"/><path d="M1110 1129l7 -4 8 18 -7 3z" fill="#828301"/><path d="M901 1177l8 -2 7 10 -8 -9z" fill="#1d3200"/><path d="M1185 1195l6 1 9 10 -6 -3z" fill="#004e00"/><path d="M928 1178l8 -17 7 -5 -8 7z" fill="#314200"/><path d="M1022 1126l7 -13 8 22 -7 6z" fill="#a79b0a"/><path d="M995 1134l7 -1 9 3 -8 5z" fill="#8a8b01"/><path d="M1009 1137l7 -26 8 15 -7 16z" fill="#b4a80d"/><path d="M941 1157l8 -9 8 1 -8 10z" fill="#617300"/><path d="M968 1145l8 -5 8 -1 -8 9z" fill="#687000"/><path d="M1219 1215l6 -2 10 -4 -6 1z" fill="#00350f"/><path d="M955 1150l7 -10 8 4 -7 8z" fill="#6d7800"/><path d="M1096 1125l7 -11 9 16 -7 8z" fill="#cbb819"/><path d="M982 1140l7 -6 8 0 -7 3z" fill="#707000"/><path d="M1138 1162l6 10 8 15 -5 -11z" fill="#304800"/><path d="M1172 1191l6 -2 9 7 -6 0z" fill="#135900"/><path d="M1206 1211l5 2 10 1 -5 -2z" fill="#003510"/><path d="M1117 1144l7 -3 8 10 -6 5z" fill="#748101"/><path d="M1159 1209l6 -19 9 1 -6 4z" fill="#0b5900"/><path d="M1069 1135l8 -12 8 5 -7 13z" fill="#b8af0f"/><path d="M1083 1129l7 -15 9 11 -8 12z" fill="#f2dc2b"/><path d="M1056 1135l7 -5 9 4 -8 6z" fill="#737200"/><path d="M1043 1137l7 0 8 -2 -7 -9z" fill="#3f3d00"/><path d="M1029 1140l7 -7 9 3 -8 7z" fill="#818301"/><path d="M1193 1202l6 2 9 8 -6 -4z" fill="#003e07"/><path d="M1146 1174l6 11 8 24 -6 -15z" fill="#154400"/><path d="M1104 1137l7 -9 8 17 -7 7z" fill="#aaaf0f"/><path d="M907 1178l9 7 7 -9 -8 -2z" fill="#0e1600"/><path d="M1016 1141l7 -16 8 15 -7 7z" fill="#cfd11d"/><path d="M921 1177l8 1 7 -15 -7 4z" fill="#1b2700"/><path d="M1002 1140l7 -5 9 6 -8 7z" fill="#a5ab0c"/><path d="M1124 1154l7 -4 9 14 -7 2z" fill="#617701"/><path d="M1090 1136l7 -12 9 13 -7 10z" fill="#f0ee2d"/><path d="M935 1165l7 -9 8 1 -8 7z" fill="#4b5e00"/><path d="M961 1152l8 -9 8 4 -8 8z" fill="#738000"/><path d="M948 1158l8 -10 8 3 -8 8z" fill="#677900"/><path d="M1179 1195l7 0 9 8 -7 -1z" fill="#094e00"/><path d="M988 1136l8 -3 8 7 -7 4z" fill="#878801"/><path d="M975 1148l7 -10 8 -2 -7 12z" fill="#787d00"/><path d="M1077 1140l7 -12 8 8 -7 11z" fill="#d8d820"/><path d="M1063 1139l7 -6 9 6 -7 10z" fill="#9c9f08"/><path d="M1111 1150l7 -7 9 12 -8 8z" fill="#90a40d"/><path d="M1214 1212l6 3 9 -4 -6 -1z" fill="#002b0a"/><path d="M1166 1196l6 -6 10 5 -6 1z" fill="#124a00"/><path d="M1153 1192l6 17 9 -13 -7 -5z" fill="#093700"/><path d="M1200 1207l6 5 10 1 -6 -4z" fill="#003108"/><path d="M1023 1146l7 -7 8 3 -7 11z" fill="#919905"/><path d="M1132 1164l7 -2 8 14 -7 -2z" fill="#4b6600"/><path d="M1050 1126l7 10 8 4 -7 -9z" fill="#605a00"/><path d="M1097 1146l8 -10 8 15 -7 7z" fill="#c9d823"/><path d="M1009 1147l7 -7 9 6 -8 7z" fill="#9ba60b"/><path d="M1036 1143l7 -5 8 -12 -6 8z" fill="#625e00"/><path d="M1084 1146l7 -11 9 11 -8 11z" fill="#dde92b"/><path d="M995 1143l8 -4 8 8 -7 4z" fill="#808702"/><path d="M1187 1200l6 1 9 7 -6 -2z" fill="#014400"/><path d="M914 1175l8 2 8 -9 -9 6z" fill="#273700"/><path d="M1118 1161l7 -7 9 11 -7 7z" fill="#789608"/><path d="M1070 1148l8 -10 8 8 -7 10z" fill="#b9c519"/><path d="M928 1169l8 -6 7 -1 -7 6z" fill="#3c4e00"/><path d="M968 1154l8 -8 8 1 -8 8z" fill="#6f7c00"/><path d="M941 1163l8 -7 8 1 -8 6z" fill="#516300"/><path d="M955 1158l7 -8 9 3 -8 5z" fill="#5e6d00"/><path d="M982 1148l7 -13 9 8 -8 8z" fill="#828701"/><path d="M1140 1172l6 2 8 20 -6 -8z" fill="#2e4900"/><path d="M1105 1156l7 -7 8 13 -7 5z" fill="#a0bb17"/><path d="M1174 1195l6 -1 9 7 -6 1z" fill="#115600"/><path d="M1057 1131l7 7 8 10 -7 4z" fill="#858902"/><path d="M1016 1152l8 -7 8 6 -8 12z" fill="#a2b412"/><path d="M1091 1155l7 -10 9 12 -7 14z" fill="#cbe72c"/><path d="M1030 1152l7 -11 8 -7 -7 24z" fill="#838a01"/><path d="M1208 1209l6 4 10 -2 -6 -3z" fill="#002c05"/><path d="M1160 1192l6 5 10 -2 -7 2z" fill="#164800"/><path d="M1126 1170l7 -6 8 10 -7 5z" fill="#608203"/><path d="M1002 1150l8 -5 8 7 -7 5z" fill="#707c01"/><path d="M1078 1154l7 -9 8 11 -7 10z" fill="#a6bb17"/><path d="M1043 1135l8 -9 8 5 -7 11z" fill="#9e9105"/><path d="M1195 1205l5 2 10 3 -5 -2z" fill="#003a01"/><path d="M1147 1184l6 10 9 -1 -6 1z" fill="#1e4600"/><path d="M1064 1151l7 -4 9 8 -7 3z" fill="#889706"/><path d="M1112 1165l7 -5 9 11 -7 3z" fill="#6e8d05"/><path d="M989 1150l7 -8 9 8 -8 -6z" fill="#6b7100"/><path d="M975 1155l8 -9 8 4 -8 6z" fill="#656f00"/><path d="M921 1174l8 -7 8 0 -8 6z" fill="#3d5200"/><path d="M962 1157l7 -5 8 2 -7 3z" fill="#556000"/><path d="M934 1168l8 -6 8 -1 -8 6z" fill="#435400"/><path d="M948 1162l7 -5 9 -1 -8 -1z" fill="#445000"/><path d="M1181 1201l7 -2 9 6 -7 1z" fill="#0a5900"/><path d="M1099 1170l7 -14 8 9 -7 10z" fill="#9bc019"/><path d="M1023 1162l8 -12 8 6 -7 13z" fill="#8ca40b"/><path d="M1085 1165l7 -10 9 15 -8 14z" fill="#8fb315"/><path d="M1051 1140l7 -9 8 21 -7 6z" fill="#b2b713"/><path d="M1133 1177l7 -5 9 14 -7 -1z" fill="#4a6e00"/><path d="M1010 1155l7 -4 8 11 -7 9z" fill="#768b04"/><path d="M1168 1196l6 -2 9 7 -6 5z" fill="#186600"/><path d="M1037 1157l7 -23 8 6 -7 20z" fill="#99a107"/><path d="M1120 1172l7 -3 8 9 -7 4z" fill="#5e8203"/><path d="M1154 1192l7 -1 9 5 -7 5z" fill="#246400"/><path d="M1071 1157l8 -4 8 13 -7 -5z" fill="#667700"/><path d="M1202 1207l6 3 10 -1 -6 -1z" fill="#003700"/><path d="M996 1145l7 6 9 5 -8 -11z" fill="#585d00"/><path d="M1093 1183l7 -15 8 5 -7 13z" fill="#668f06"/><path d="M1189 1205l6 -1 10 4 -7 0z" fill="#064f00"/><path d="M969 1156l7 -3 8 2 -7 4z" fill="#545f00"/><path d="M1106 1174l7 -10 9 9 -7 1z" fill="#709207"/><path d="M1058 1157l7 -7 9 7 -8 2z" fill="#7d8c03"/><path d="M982 1156l7 -6 9 -5 -7 3z" fill="#555b00"/><path d="M1141 1184l7 0 8 9 -7 4z" fill="#3c6e00"/><path d="M928 1172l8 -6 7 -1 -8 5z" fill="#3f5100"/><path d="M1017 1170l7 -10 9 7 -8 8z" fill="#6a8602"/><path d="M1031 1168l7 -13 8 3 -7 8z" fill="#728701"/><path d="M941 1166l8 -3 8 -8 -7 7z" fill="#3e4a00"/><path d="M955 1156l8 2 8 -2 -8 -3z" fill="#464f00"/><path d="M1175 1205l7 -5 9 5 -7 8z" fill="#0b6a00"/><path d="M1044 1159l8 -19 8 17 -7 8z" fill="#afc117"/><path d="M1079 1159l7 5 8 20 -7 -8z" fill="#4c6400"/><path d="M1127 1181l7 -5 9 9 -7 6z" fill="#67970b"/><path d="M1162 1199l7 -4 8 11 -6 3z" fill="#197101"/><path d="M1004 1145l7 10 8 16 -8 -4z" fill="#596700"/><path d="M1114 1172l7 -1 8 11 -7 7z" fill="#638905"/><path d="M1148 1195l7 -3 9 8 -7 4z" fill="#2e7d03"/><path d="M1100 1186l7 -13 8 -1 -6 12z" fill="#5a7e01"/><path d="M1197 1208l5 -1 10 1 -6 2z" fill="#064600"/><path d="M1065 1158l7 -2 9 5 -7 -8z" fill="#697500"/><path d="M1051 1164l8 -8 8 2 -7 11z" fill="#768a02"/><path d="M1086 1174l7 10 9 1 -7 -2z" fill="#466600"/><path d="M976 1158l7 -4 8 -5 -7 11z" fill="#5f6900"/><path d="M1038 1165l7 -7 9 6 -8 4z" fill="#6f8401"/><path d="M1024 1175l7 -8 9 -3 -7 3z" fill="#4f6400"/><path d="M1183 1212l7 -8 9 3 -7 4z" fill="#075a00"/><path d="M1135 1189l7 -6 8 13 -7 9z" fill="#62b017"/><path d="M989 1150l8 -6 8 2 -7 5z" fill="#747700"/><path d="M962 1153l7 2 9 3 -8 2z" fill="#576000"/><path d="M935 1170l7 -6 8 -3 -8 7z" fill="#435200"/><path d="M1010 1165l7 4 9 5 -7 0z" fill="#506700"/><path d="M1169 1208l7 -4 9 8 -7 3z" fill="#076700"/><path d="M948 1162l8 -7 8 -2 -8 7z" fill="#515a00"/><path d="M1121 1187l7 -7 9 9 -8 20z" fill="#67a814"/><path d="M1156 1203l7 -5 9 10 -7 3z" fill="#197502"/><path d="M1073 1153l7 6 8 17 -7 -3z" fill="#5a6c00"/><path d="M1107 1182l8 -11 8 17 -7 5z" fill="#6a970a"/><path d="M1142 1204l7 -9 9 8 -7 7z" fill="#379f11"/><path d="M997 1149l7 -4 8 22 -7 -1z" fill="#6e7900"/><path d="M1128 1208l8 -19 8 15 -7 15z" fill="#41b71d"/><path d="M1094 1182l6 4 9 -4 -7 6z" fill="#4d7200"/><path d="M1045 1167l7 -4 9 5 -8 7z" fill="#748e04"/><path d="M1059 1168l7 -11 8 -4 -7 19z" fill="#7d9004"/><path d="M983 1160l7 -12 8 1 -7 14z" fill="#808901"/><path d="M969 1159l8 -2 8 2 -8 4z" fill="#647000"/><path d="M1191 1210l6 -3 10 2 -7 3z" fill="#094e00"/><path d="M1031 1168l8 -4 8 3 -7 6z" fill="#5d7100"/><path d="M1177 1214l6 -3 10 -1 -6 4z" fill="#045500"/><path d="M1017 1173l8 2 8 -7 -7 -1z" fill="#415100"/><path d="M955 1159l8 -6 8 6 -8 4z" fill="#616b00"/><path d="M1080 1171l7 3 9 9 -7 2z" fill="#4e6a00"/><path d="M941 1167l8 -7 8 -1 -8 7z" fill="#546100"/><path d="M1115 1191l7 -5 8 22 -7 -2z" fill="#367802"/><path d="M1163 1210l7 -3 9 7 -6 1z" fill="#086300"/><path d="M1004 1165l7 0 9 9 -8 1z" fill="#506200"/><path d="M1150 1209l7 -7 9 8 -7 6z" fill="#167e04"/><path d="M1136 1218l7 -15 9 6 -7 10z" fill="#108306"/><path d="M1066 1171l8 -18 8 20 -7 8z" fill="#98b515"/><path d="M1101 1187l7 -6 9 11 -7 3z" fill="#568103"/><path d="M1052 1174l8 -7 8 4 -7 9z" fill="#84a30c"/><path d="M990 1162l7 -13 9 17 -8 2z" fill="#818f04"/><path d="M1123 1204l6 2 9 12 -7 -3z" fill="#0e6900"/><path d="M1039 1172l7 -6 9 8 -8 9z" fill="#759307"/><path d="M976 1161l8 -3 8 3 -8 4z" fill="#6d7a00"/><path d="M1087 1184l7 -3 9 6 -7 4z" fill="#507401"/><path d="M962 1161l8 -3 8 3 -8 3z" fill="#5f6a00"/><path d="M1185 1213l6 -4 10 2 -7 4z" fill="#095200"/><path d="M1025 1168l7 -1 9 5 -8 4z" fill="#5a6e00"/><path d="M1171 1214l6 -1 10 0 -6 5z" fill="#055a00"/><path d="M948 1165l8 -7 8 3 -8 4z" fill="#5d6800"/><path d="M1011 1174l7 0 9 -7 -7 4z" fill="#485800"/><path d="M1073 1180l8 -9 8 13 -7 5z" fill="#6c9007"/><path d="M1157 1215l7 -6 9 5 -7 6z" fill="#086e01"/><path d="M1109 1193l7 -3 8 15 -7 -1z" fill="#356900"/><path d="M1144 1218l7 -10 9 7 -7 8z" fill="#057602"/><path d="M997 1166l8 -2 8 10 -8 -1z" fill="#526300"/><path d="M1060 1179l7 -9 9 10 -8 6z" fill="#8ab113"/><path d="M1130 1213l6 5 10 0 -7 3z" fill="#016500"/><path d="M1046 1182l7 -9 9 6 -8 9z" fill="#749909"/><path d="M1095 1189l7 -3 9 8 -7 3z" fill="#4f7801"/><path d="M983 1164l8 -4 8 7 -8 2z" fill="#667400"/><path d="M1032 1174l8 -3 8 12 -8 6z" fill="#638202"/><path d="M969 1163l8 -3 8 4 -8 3z" fill="#5e6900"/><path d="M1081 1188l7 -5 9 7 -7 5z" fill="#638f07"/><path d="M1116 1202l7 2 9 10 -7 -1z" fill="#185900"/><path d="M1179 1217l7 -5 9 2 -7 5z" fill="#085d00"/><path d="M955 1164l8 -4 8 3 -8 3z" fill="#5b6500"/><path d="M1018 1171l8 -4 8 8 -7 1z" fill="#5b6e00"/><path d="M1165 1219l7 -6 9 3 -7 7z" fill="#036900"/><path d="M1067 1184l8 -5 8 9 -7 9z" fill="#77a40f"/><path d="M1151 1222l7 -8 9 5 -7 8z" fill="#027506"/><path d="M1004 1172l7 2 9 -3 -7 5z" fill="#495900"/><path d="M1138 1220l6 -3 10 5 -8 6z" fill="#016f07"/><path d="M1053 1187l8 -9 8 7 -7 6z" fill="#6c9308"/><path d="M1102 1195l8 -2 8 10 -7 3z" fill="#3d7101"/><path d="M1039 1189l8 -8 8 5 -7 6z" fill="#557801"/><path d="M990 1167l8 -1 8 7 -7 -3z" fill="#485400"/><path d="M1124 1211l7 2 9 7 -7 3z" fill="#086100"/><path d="M1088 1194l8 -6 9 8 -8 5z" fill="#65970b"/><path d="M976 1166l8 -3 8 5 -7 2z" fill="#556000"/><path d="M1075 1195l7 -8 9 7 -8 15z" fill="#88c520"/><path d="M1026 1175l7 -1 8 15 -7 -5z" fill="#4f6700"/><path d="M962 1165l8 -3 8 4 -7 3z" fill="#5c6600"/><path d="M1173 1223l7 -7 9 2 -7 7z" fill="#026800"/><path d="M1061 1189l7 -5 9 12 -8 10z" fill="#6e9f0f"/><path d="M1159 1226l7 -8 9 4 -7 9z" fill="#01720a"/><path d="M1110 1204l7 -2 9 11 -7 3z" fill="#246c01"/><path d="M1145 1227l7 -6 9 4 -7 9z" fill="#047914"/><path d="M1011 1175l8 -5 9 5 -8 4z" fill="#546600"/><path d="M1047 1191l7 -6 9 4 -8 5z" fill="#537701"/><path d="M1131 1221l7 -2 9 8 -7 5z" fill="#02710b"/><path d="M997 1169l7 4 10 2 -8 -4z" fill="#364000"/><path d="M1096 1199l7 -4 9 10 -7 5z" fill="#589c0e"/><path d="M1082 1209l8 -16 8 6 -7 20z" fill="#5aae15"/><path d="M1068 1205l8 -11 8 14 -7 22z" fill="#57c021"/><path d="M1033 1182l7 7 9 2 -7 -5z" fill="#3a5000"/><path d="M1118 1215l7 -4 8 11 -7 5z" fill="#0d6f01"/><path d="M983 1169l8 0 9 0 -8 -7z" fill="#3a4100"/><path d="M969 1167l8 -2 9 4 -8 2z" fill="#525c00"/><path d="M1167 1230l7 -9 9 3 -7 9z" fill="#016e0b"/><path d="M1153 1233l7 -8 9 4 -7 10z" fill="#03771b"/><path d="M1076 1229l7 -22 8 10 -7 32z" fill="#0d9315"/><path d="M1054 1192l8 -4 8 18 -7 7z" fill="#4f7d03"/><path d="M1019 1177l7 -3 9 10 -8 -2z" fill="#485a00"/><path d="M1139 1231l7 -5 9 7 -7 8z" fill="#067c21"/><path d="M1104 1208l7 -4 9 12 -8 3z" fill="#318a08"/><path d="M1090 1219l7 -20 9 9 -8 16z" fill="#3ea311"/><path d="M1062 1211l7 -7 8 26 -7 14z" fill="#087403"/><path d="M1005 1171l7 3 9 4 -8 2z" fill="#455200"/><path d="M1069 1242l8 -14 8 19 -7 41z" fill="#1aa77b"/><path d="M1125 1225l7 -4 9 11 -7 5z" fill="#037610"/><path d="M1040 1186l7 5 9 3 -7 -1z" fill="#3e5700"/><path d="M1084 1248l7 -31 8 5 -7 23z" fill="#016e16"/><path d="M991 1163l7 7 9 2 -8 -13z" fill="#343800"/><path d="M1111 1218l7 -4 9 12 -7 5z" fill="#0d7a04"/><path d="M1161 1239l7 -10 9 2 -7 11z" fill="#016f1b"/><path d="M1026 1181l7 1 9 6 -7 -7z" fill="#2d3a00"/><path d="M977 1171l7 -1 9 -8 -7 5z" fill="#434900"/><path d="M1147 1240l7 -8 9 6 -7 9z" fill="#05792c"/><path d="M1097 1223l8 -15 8 10 -7 9z" fill="#32ac17"/><path d="M1077 1288l7 -42 8 -3 -6 12z" fill="#005849"/><path d="M1133 1235l7 -5 9 10 -7 5z" fill="#047725"/><path d="M1048 1191l7 1 8 21 -7 -3z" fill="#3d6100"/><path d="M1012 1178l8 -1 8 5 -7 -1z" fill="#425100"/><path d="M1056 1208l7 2 8 34 -7 -11z" fill="#054f00"/><path d="M1119 1229l7 -4 9 11 -7 5z" fill="#047715"/><path d="M1063 1231l7 11 8 46 -7 -39z" fill="#003724"/><path d="M998 1159l7 12 9 8 -8 -1z" fill="#4d5600"/><path d="M1034 1181l6 6 10 5 -7 -4z" fill="#314000"/><path d="M1155 1246l7 -9 9 3 -7 10z" fill="#016d2b"/><path d="M1091 1245l7 -23 9 3 -7 13z" fill="#00690d"/><path d="M1105 1226l7 -9 9 13 -7 4z" fill="#0d8b0a"/><path d="M1141 1244l7 -5 9 7 -7 6z" fill="#037232"/><path d="M984 1168l7 -6 9 -3 -8 9z" fill="#626600"/><path d="M1127 1240l7 -5 9 9 -7 5z" fill="#047429"/><path d="M1019 1180l8 2 9 0 -8 -10z" fill="#2e3600"/><path d="M1071 1249l7 39 8 -32 -7 -15z" fill="#00130f"/><path d="M1005 1176l8 2 9 2 -8 3z" fill="#4d5b00"/><path d="M1041 1186l8 5 8 19 -7 -8z" fill="#364e00"/><path d="M1113 1233l7 -5 9 13 -8 5z" fill="#04781a"/><path d="M1085 1257l6 -14 9 -7 -7 4z" fill="#00270e"/><path d="M1148 1251l7 -6 10 3 -7 8z" fill="#016935"/><path d="M1098 1237l8 -12 9 8 -8 6z" fill="#02760d"/><path d="M991 1167l8 -8 8 19 -7 2z" fill="#737c01"/><path d="M1049 1200l7 8 8 25 -6 -18z" fill="#173700"/><path d="M1134 1248l7 -5 10 9 -8 4z" fill="#016a32"/><path d="M1027 1172l7 11 9 5 -7 -4z" fill="#3b4700"/><path d="M1120 1244l8 -5 8 9 -7 6z" fill="#04752f"/><path d="M1057 1214l6 19 9 18 -7 -29z" fill="#011400"/><path d="M1013 1182l7 -1 9 -9 -8 3z" fill="#4a5500"/><path d="M998 1178l8 -2 9 6 -8 4z" fill="#627300"/><path d="M1106 1238l8 -6 8 13 -7 6z" fill="#057820"/><path d="M1092 1241l7 -5 9 2 -7 5z" fill="#004d0d"/><path d="M1142 1255l7 -5 9 5 -7 4z" fill="#005e33"/><path d="M1035 1182l7 4 8 16 -7 -4z" fill="#425700"/><path d="M1078 1242l7 16 9 -18 -7 -11z" fill="#001405"/><path d="M1128 1253l7 -6 9 8 -7 3z" fill="#006231"/><path d="M1114 1249l7 -5 9 9 -7 6z" fill="#037233"/><path d="M1064 1223l7 28 9 -8 -8 -21z" fill="#001401"/><path d="M1020 1176l8 -4 8 11 -7 4z" fill="#6a7800"/><path d="M1042 1196l7 4 9 15 -7 -12z" fill="#293d00"/><path d="M1006 1185l7 -4 9 -5 -8 13z" fill="#6a7c00"/><path d="M1100 1241l7 -4 9 13 -7 6z" fill="#01661e"/><path d="M1136 1257l7 -3 9 4 -6 1z" fill="#004c28"/><path d="M1028 1185l7 -4 9 17 -8 1z" fill="#5a7100"/><path d="M1086 1229l7 13 9 0 -7 -7z" fill="#002402"/><path d="M1122 1258l7 -6 9 5 -7 2z" fill="#00562c"/><path d="M1050 1203l7 13 8 8 -7 -16z" fill="#0d1600"/><path d="M1107 1255l8 -7 9 10 -8 5z" fill="#006230"/><path d="M1013 1188l8 -13 9 11 -8 8z" fill="#859b08"/><path d="M1072 1222l7 21 9 -13 -8 -12z" fill="#041500"/><path d="M1035 1197l8 -1 9 8 -8 -1z" fill="#3d5300"/><path d="M1094 1235l7 6 8 15 -7 -1z" fill="#004a11"/><path d="M1057 1208l8 17 8 -2 -7 -13z" fill="#0c1600"/><path d="M1130 1258l6 -1 10 1 -7 -3z" fill="#003418"/><path d="M1021 1192l8 -8 8 14 -7 1z" fill="#637d01"/><path d="M1115 1262l7 -5 10 1 -7 -1z" fill="#003c1e"/><path d="M1101 1253l7 1 9 8 -7 -2z" fill="#00401d"/><path d="M1079 1219l7 12 9 6 -6 -9z" fill="#092300"/><path d="M1043 1201l7 2 9 6 -7 -3z" fill="#273700"/><path d="M1028 1197l8 -1 9 6 -8 0z" fill="#455b00"/><path d="M1065 1210l7 14 9 -4 -7 -7z" fill="#0f1a00"/><path d="M1087 1227l7 8 9 20 -7 -10z" fill="#003400"/><path d="M1123 1258l7 1 10 -3 -7 -5z" fill="#001a0a"/><path d="M1109 1259l7 4 9 -5 -7 -6z" fill="#00190a"/><path d="M1050 1205l7 4 10 3 -7 -4z" fill="#223000"/><path d="M1095 1243l7 12 9 5 -7 -13z" fill="#001b06"/><path d="M1036 1201l7 0 10 4 -8 1z" fill="#3a4d00"/><path d="M1073 1213l7 5 9 11 -7 -5z" fill="#1d3500"/><path d="M1058 1208l7 3 10 4 -7 -2z" fill="#293c00"/><path d="M1117 1254l7 5 9 -6 -7 -7z" fill="#001404"/><path d="M1081 1222l7 5 8 18 -6 -14z" fill="#0e2c00"/><path d="M1044 1204l7 0 9 5 -7 0z" fill="#374a00"/><path d="M1103 1248l7 12 9 -6 -7 -11z" fill="#001403"/><path d="M1066 1212l7 1 9 10 -7 -5z" fill="#2b4100"/><path d="M1088 1230l7 15 9 4 -7 -15z" fill="#031500"/><path d="M1051 1207l8 0 9 6 -7 -1z" fill="#364b00"/><path d="M1110 1244l8 11 9 -7 -7 -8z" fill="#001400"/><path d="M1074 1216l7 6 9 10 -7 -10z" fill="#1e3000"/><path d="M1096 1235l7 14 10 -4 -8 -10z" fill="#041500"/><path d="M1059 1210l8 1 9 7 -7 -2z" fill="#324600"/><path d="M1082 1222l7 10 9 4 -7 -10z" fill="#112100"/><path d="M1067 1214l7 2 10 7 -8 -2z" fill="#2b3e00"/><path d="M1104 1235l7 11 10 -4 -8 -6z" fill="#061600"/><path d="M1090 1226l7 10 9 0 -7 -5z" fill="#142900"/><path d="M1075 1219l7 2 10 7 -8 -1z" fill="#2a4000"/><path d="M1097 1231l7 5 10 2 -7 0z" fill="#1f4200"/><path d="M1083 1225l7 1 10 6 -8 2z" fill="#335100"/><path d="M1091 1233l7 -3 10 7 -8 5z" fill="#376600"/></g><g transform="translate(0,0)"><line x1="195.47" y1="243.75" x2="197.47" y2="243.75" stroke="#333" stroke-width="0.4" /><text x="195.0" y="245.3" font-size="4.2" text-anchor="end" fill="#333" font-family="'Liberation Sans',Arial,sans-serif">200</text><line x1="196.01" y1="261.08" x2="198.01" y2="261.08" stroke="#333" stroke-width="0.4" /><text x="195.5" y="262.6" font-size="4.2" text-anchor="end" fill="#333" font-family="'Liberation Sans',Arial,sans-serif">100</text><line x1="196.55" y1="278.11" x2="198.55" y2="278.11" stroke="#333" stroke-width="0.4" /><text x="196.0" y="279.6" font-size="4.2" text-anchor="end" fill="#333" font-family="'Liberation Sans',Arial,sans-serif">0</text><line x1="197.07" y1="294.86" x2="199.07" y2="294.86" stroke="#333" stroke-width="0.4" /><text x="196.6" y="296.4" font-size="4.2" text-anchor="end" fill="#333" font-family="'Liberation Sans',Arial,sans-serif">-100</text><line x1="197.59" y1="311.33" x2="199.59" y2="311.33" stroke="#333" stroke-width="0.4" /><text x="197.1" y="312.8" font-size="4.2" text-anchor="end" fill="#333" font-family="'Liberation Sans',Arial,sans-serif">-200</text><text transform="translate(182.8,258) rotate(90)" font-size="4.4" fill="#333" font-family="'Liberation Sans',Arial,sans-serif">Heat Flux(Watts/m&#178;)</text><line x1="203.16" y1="323.08" x2="202.56" y2="324.68" stroke="#444" stroke-width="0.3" /><text transform="translate(204.7,328.4) rotate(24)" font-size="3" fill="#555" font-family="'Liberation Sans',Arial,sans-serif" text-anchor="middle">-0.2</text><line x1="216.56" y1="328.03" x2="215.96" y2="329.63" stroke="#444" stroke-width="0.3" /><text transform="translate(218.1,333.3) rotate(24)" font-size="3" fill="#555" font-family="'Liberation Sans',Arial,sans-serif" text-anchor="middle">-0.1</text><line x1="230.78" y1="333.28" x2="230.18" y2="334.88" stroke="#444" stroke-width="0.3" /><text transform="translate(232.3,338.6) rotate(24)" font-size="3" fill="#555" font-family="'Liberation Sans',Arial,sans-serif" text-anchor="middle">0.0</text><line x1="245.88" y1="338.85" x2="245.28" y2="340.45" stroke="#444" stroke-width="0.3" /><text transform="translate(247.4,344.1) rotate(24)" font-size="3" fill="#555" font-family="'Liberation Sans',Arial,sans-serif" text-anchor="middle">0.1</text><line x1="261.94" y1="344.78" x2="261.34" y2="346.38" stroke="#444" stroke-width="0.3" /><text transform="translate(263.4,350.1) rotate(24)" font-size="3" fill="#555" font-family="'Liberation Sans',Arial,sans-serif" text-anchor="middle">0.2</text><text transform="translate(225.3,340.6) rotate(24)" font-size="3.5" fill="#555" font-family="'Liberation Sans',Arial,sans-serif" text-anchor="middle">Width(m)</text><line x1="287.96" y1="342.63" x2="289.36" y2="343.53" stroke="#444" stroke-width="0.3" /><text transform="translate(290.2,345.8) rotate(-22)" font-size="3" fill="#555" font-family="'Liberation Sans',Arial,sans-serif">0.0</text><line x1="298.62" y1="337.13" x2="300.02" y2="338.03" stroke="#444" stroke-width="0.3" /><text transform="translate(300.8,340.3) rotate(-22)" font-size="3" fill="#555" font-family="'Liberation Sans',Arial,sans-serif">0.5</text><line x1="308.67" y1="331.94" x2="310.07" y2="332.84" stroke="#444" stroke-width="0.3" /><text transform="translate(310.9,335.1) rotate(-22)" font-size="3" fill="#555" font-family="'Liberation Sans',Arial,sans-serif">1.0</text><line x1="318.17" y1="327.03" x2="319.57" y2="327.93" stroke="#444" stroke-width="0.3" /><text transform="translate(320.4,330.2) rotate(-22)" font-size="3" fill="#555" font-family="'Liberation Sans',Arial,sans-serif">1.5</text><line x1="327.16" y1="322.39" x2="328.56" y2="323.29" stroke="#444" stroke-width="0.3" /><text transform="translate(329.4,325.6) rotate(-22)" font-size="3" fill="#555" font-family="'Liberation Sans',Arial,sans-serif">2.0</text><line x1="335.42" y1="318.12" x2="336.82" y2="319.02" stroke="#444" stroke-width="0.3" /><text transform="translate(337.6,321.3) rotate(-22)" font-size="3" fill="#555" font-family="'Liberation Sans',Arial,sans-serif">2.5</text><text transform="translate(318.8,337.8) rotate(-28)" font-size="3.5" fill="#555" font-family="'Liberation Sans',Arial,sans-serif" text-anchor="middle">Length(m)</text><text x="266" y="206" font-size="6.17" font-weight="bold" text-anchor="middle" fill="#111" font-family="'Liberation Sans',Arial,sans-serif">Full-body Warming System</text><text x="266.5" y="213.6" font-size="6.1" font-style="italic" text-anchor="middle" fill="#222" font-family="'Liberation Sans',Arial,sans-serif">Heat Transfer Profile</text><rect x="354.4" y="221.7" width="9.6" height="91" fill="url(#cbg2)"/><line x1="364.00" y1="221.90" x2="365.30" y2="221.90" stroke="#333" stroke-width="0.35" /><text x="366" y="223.1" font-size="3.5" fill="#222" font-family="'Liberation Sans',Arial,sans-serif">286.0</text><line x1="364.00" y1="230.96" x2="365.30" y2="230.96" stroke="#333" stroke-width="0.35" /><text x="366" y="232.2" font-size="3.5" fill="#222" font-family="'Liberation Sans',Arial,sans-serif">230.0</text><line x1="364.00" y1="240.02" x2="365.30" y2="240.02" stroke="#333" stroke-width="0.35" /><text x="366" y="241.2" font-size="3.5" fill="#222" font-family="'Liberation Sans',Arial,sans-serif">174.0</text><line x1="364.00" y1="249.08" x2="365.30" y2="249.08" stroke="#333" stroke-width="0.35" /><text x="366" y="250.3" font-size="3.5" fill="#222" font-family="'Liberation Sans',Arial,sans-serif">118.0</text><line x1="364.00" y1="258.14" x2="365.30" y2="258.14" stroke="#333" stroke-width="0.35" /><text x="366" y="259.3" font-size="3.5" fill="#222" font-family="'Liberation Sans',Arial,sans-serif">62.00</text><line x1="364.00" y1="267.20" x2="365.30" y2="267.20" stroke="#333" stroke-width="0.35" /><text x="366" y="268.4" font-size="3.5" fill="#222" font-family="'Liberation Sans',Arial,sans-serif">6.000</text><line x1="364.00" y1="276.26" x2="365.30" y2="276.26" stroke="#333" stroke-width="0.35" /><text x="366" y="277.5" font-size="3.5" fill="#222" font-family="'Liberation Sans',Arial,sans-serif">-50.00</text><line x1="364.00" y1="285.32" x2="365.30" y2="285.32" stroke="#333" stroke-width="0.35" /><text x="366" y="286.5" font-size="3.5" fill="#222" font-family="'Liberation Sans',Arial,sans-serif">-106.0</text><line x1="364.00" y1="294.38" x2="365.30" y2="294.38" stroke="#333" stroke-width="0.35" /><text x="366" y="295.6" font-size="3.5" fill="#222" font-family="'Liberation Sans',Arial,sans-serif">-162.0</text><line x1="364.00" y1="303.44" x2="365.30" y2="303.44" stroke="#333" stroke-width="0.35" /><text x="366" y="304.6" font-size="3.5" fill="#222" font-family="'Liberation Sans',Arial,sans-serif">-218.0</text><line x1="364.00" y1="312.50" x2="365.30" y2="312.50" stroke="#333" stroke-width="0.35" /><text x="366" y="313.7" font-size="3.5" fill="#222" font-family="'Liberation Sans',Arial,sans-serif">-274.0</text></g></g></svg>
<!-- preview -->
<div class="a" style="left:106.8px;top:119.7px;width:94.6px;height:71.9px;border:1.3px solid #f03cf0;background:#fff"></div>
<svg class="a" style="left:0;top:0" width="640" height="455" viewBox="0 0 640 455">
<text x="158" y="128.6" font-size="3.2" fill="#999" text-anchor="middle" font-family="'Liberation Sans',Arial,sans-serif">Graph Profile</text>
<rect x="130.40" y="131.90" width="2.41" height="2.49" fill="#00fffe"/><rect x="130.40" y="134.09" width="2.41" height="2.49" fill="#00ff9d"/><rect x="130.40" y="136.28" width="2.41" height="2.49" fill="#00ff88"/><rect x="130.40" y="138.47" width="2.41" height="2.49" fill="#00ffc5"/><rect x="130.40" y="140.66" width="2.41" height="2.49" fill="#00ffb7"/><rect x="130.40" y="142.85" width="2.41" height="2.49" fill="#00ffbd"/><rect x="130.40" y="145.04" width="2.41" height="2.49" fill="#00ff88"/><rect x="130.40" y="147.23" width="2.41" height="2.49" fill="#00ffa0"/><rect x="130.40" y="149.42" width="2.41" height="2.49" fill="#00ff7d"/><rect x="130.40" y="151.61" width="2.41" height="2.49" fill="#00ffe7"/><rect x="130.40" y="153.80" width="2.41" height="2.49" fill="#00ff5f"/><rect x="130.40" y="155.99" width="2.41" height="2.49" fill="#00ff98"/><rect x="130.40" y="158.18" width="2.41" height="2.49" fill="#00ff82"/><rect x="130.40" y="160.37" width="2.41" height="2.49" fill="#00ffa6"/><rect x="130.40" y="162.56" width="2.41" height="2.49" fill="#00ffaf"/><rect x="130.40" y="164.75" width="2.41" height="2.49" fill="#00ff89"/><rect x="130.40" y="166.94" width="2.41" height="2.49" fill="#00ff7d"/><rect x="130.40" y="169.13" width="2.41" height="2.49" fill="#00ffa8"/><rect x="130.40" y="171.32" width="2.41" height="2.49" fill="#00ffa6"/><rect x="130.40" y="173.51" width="2.41" height="2.49" fill="#00ff83"/><rect x="132.51" y="131.90" width="2.41" height="2.49" fill="#00ffdc"/><rect x="132.51" y="134.09" width="2.41" height="2.49" fill="#00ffd3"/><rect x="132.51" y="136.28" width="2.41" height="2.49" fill="#00ff65"/><rect x="132.51" y="138.47" width="2.41" height="2.49" fill="#00ff8a"/><rect x="132.51" y="140.66" width="2.41" height="2.49" fill="#00ffb7"/><rect x="132.51" y="142.85" width="2.41" height="2.49" fill="#00ff75"/><rect x="132.51" y="145.04" width="2.41" height="2.49" fill="#00ff55"/><rect x="132.51" y="147.23" width="2.41" height="2.49" fill="#00ff6e"/><rect x="132.51" y="149.42" width="2.41" height="2.49" fill="#00ff85"/><rect x="132.51" y="151.61" width="2.41" height="2.49" fill="#00ff40"/><rect x="132.51" y="153.80" width="2.41" height="2.49" fill="#00ff1c"/><rect x="132.51" y="155.99" width="2.41" height="2.49" fill="#00ff5f"/><rect x="132.51" y="158.18" width="2.41" height="2.49" fill="#00ff7a"/><rect x="132.51" y="160.37" width="2.41" height="2.49" fill="#00ff43"/><rect x="132.51" y="162.56" width="2.41" height="2.49" fill="#00ff3f"/><rect x="132.51" y="164.75" width="2.41" height="2.49" fill="#00ff68"/><rect x="132.51" y="166.94" width="2.41" height="2.49" fill="#00ff47"/><rect x="132.51" y="169.13" width="2.41" height="2.49" fill="#00ff34"/><rect x="132.51" y="171.32" width="2.41" height="2.49" fill="#00ff65"/><rect x="132.51" y="173.51" width="2.41" height="2.49" fill="#00ff7d"/><rect x="134.62" y="131.90" width="2.41" height="2.49" fill="#00ff82"/><rect x="134.62" y="134.09" width="2.41" height="2.49" fill="#00ff5d"/><rect x="134.62" y="136.28" width="2.41" height="2.49" fill="#00ff1d"/><rect x="134.62" y="138.47" width="2.41" height="2.49" fill="#00ff6d"/><rect x="134.62" y="140.66" width="2.41" height="2.49" fill="#00ff3e"/><rect x="134.62" y="142.85" width="2.41" height="2.49" fill="#00ff4e"/><rect x="134.62" y="145.04" width="2.41" height="2.49" fill="#00ff64"/><rect x="134.62" y="147.23" width="2.41" height="2.49" fill="#00ff22"/><rect x="134.62" y="149.42" width="2.41" height="2.49" fill="#00ff25"/><rect x="134.62" y="151.61" width="2.41" height="2.49" fill="#00ff57"/><rect x="134.62" y="153.80" width="2.41" height="2.49" fill="#1eff00"/><rect x="134.62" y="155.99" width="2.41" height="2.49" fill="#00ff17"/><rect x="134.62" y="158.18" width="2.41" height="2.49" fill="#00ff0b"/><rect x="134.62" y="160.37" width="2.41" height="2.49" fill="#00ff24"/><rect x="134.62" y="162.56" width="2.41" height="2.49" fill="#00ff13"/><rect x="134.62" y="164.75" width="2.41" height="2.49" fill="#00ff6a"/><rect x="134.62" y="166.94" width="2.41" height="2.49" fill="#00ff20"/><rect x="134.62" y="169.13" width="2.41" height="2.49" fill="#00ff21"/><rect x="134.62" y="171.32" width="2.41" height="2.49" fill="#00ff7e"/><rect x="134.62" y="173.51" width="2.41" height="2.49" fill="#00ff2b"/><rect x="136.72" y="131.90" width="2.41" height="2.49" fill="#00ff86"/><rect x="136.72" y="134.09" width="2.41" height="2.49" fill="#00ff31"/><rect x="136.72" y="136.28" width="2.41" height="2.49" fill="#00ff54"/><rect x="136.72" y="138.47" width="2.41" height="2.49" fill="#00ff2f"/><rect x="136.72" y="140.66" width="2.41" height="2.49" fill="#00ff0d"/><rect x="136.72" y="142.85" width="2.41" height="2.49" fill="#00ff0d"/><rect x="136.72" y="145.04" width="2.41" height="2.49" fill="#00ff10"/><rect x="136.72" y="147.23" width="2.41" height="2.49" fill="#00ff2a"/><rect x="136.72" y="149.42" width="2.41" height="2.49" fill="#00ff0f"/><rect x="136.72" y="151.61" width="2.41" height="2.49" fill="#00ff35"/><rect x="136.72" y="153.80" width="2.41" height="2.49" fill="#09ff00"/><rect x="136.72" y="155.99" width="2.41" height="2.49" fill="#00ff0c"/><rect x="136.72" y="158.18" width="2.41" height="2.49" fill="#00ff29"/><rect x="136.72" y="160.37" width="2.41" height="2.49" fill="#00ff0a"/><rect x="136.72" y="162.56" width="2.41" height="2.49" fill="#15ff00"/><rect x="136.72" y="164.75" width="2.41" height="2.49" fill="#2dff00"/><rect x="136.72" y="166.94" width="2.41" height="2.49" fill="#00ff61"/><rect x="136.72" y="169.13" width="2.41" height="2.49" fill="#00ff02"/><rect x="136.72" y="171.32" width="2.41" height="2.49" fill="#00ff12"/><rect x="136.72" y="173.51" width="2.41" height="2.49" fill="#00ff28"/><rect x="138.83" y="131.90" width="2.41" height="2.49" fill="#00ff9b"/><rect x="138.83" y="134.09" width="2.41" height="2.49" fill="#00ff16"/><rect x="138.83" y="136.28" width="2.41" height="2.49" fill="#00ff4b"/><rect x="138.83" y="138.47" width="2.41" height="2.49" fill="#0bff00"/><rect x="138.83" y="140.66" width="2.41" height="2.49" fill="#15ff00"/><rect x="138.83" y="142.85" width="2.41" height="2.49" fill="#00ff5e"/><rect x="138.83" y="145.04" width="2.41" height="2.49" fill="#00ff28"/><rect x="138.83" y="147.23" width="2.41" height="2.49" fill="#00ff34"/><rect x="138.83" y="149.42" width="2.41" height="2.49" fill="#03ff00"/><rect x="138.83" y="151.61" width="2.41" height="2.49" fill="#6bff00"/><rect x="138.83" y="153.80" width="2.41" height="2.49" fill="#3cff00"/><rect x="138.83" y="155.99" width="2.41" height="2.49" fill="#00ff58"/><rect x="138.83" y="158.18" width="2.41" height="2.49" fill="#00ff0a"/><rect x="138.83" y="160.37" width="2.41" height="2.49" fill="#18ff00"/><rect x="138.83" y="162.56" width="2.41" height="2.49" fill="#34ff00"/><rect x="138.83" y="164.75" width="2.41" height="2.49" fill="#0dff00"/><rect x="138.83" y="166.94" width="2.41" height="2.49" fill="#00ff36"/><rect x="138.83" y="169.13" width="2.41" height="2.49" fill="#00ff0d"/><rect x="138.83" y="171.32" width="2.41" height="2.49" fill="#00ff18"/><rect x="138.83" y="173.51" width="2.41" height="2.49" fill="#00ff20"/><rect x="140.94" y="131.90" width="2.41" height="2.49" fill="#00ff74"/><rect x="140.94" y="134.09" width="2.41" height="2.49" fill="#00ff16"/><rect x="140.94" y="136.28" width="2.41" height="2.49" fill="#00ff12"/><rect x="140.94" y="138.47" width="2.41" height="2.49" fill="#07ff00"/><rect x="140.94" y="140.66" width="2.41" height="2.49" fill="#11ff00"/><rect x="140.94" y="142.85" width="2.41" height="2.49" fill="#00ff49"/><rect x="140.94" y="145.04" width="2.41" height="2.49" fill="#16ff00"/><rect x="140.94" y="147.23" width="2.41" height="2.49" fill="#30ff00"/><rect x="140.94" y="149.42" width="2.41" height="2.49" fill="#00ff02"/><rect x="140.94" y="151.61" width="2.41" height="2.49" fill="#00ff47"/><rect x="140.94" y="153.80" width="2.41" height="2.49" fill="#25ff00"/><rect x="140.94" y="155.99" width="2.41" height="2.49" fill="#71ff00"/><rect x="140.94" y="158.18" width="2.41" height="2.49" fill="#83ff00"/><rect x="140.94" y="160.37" width="2.41" height="2.49" fill="#1fff00"/><rect x="140.94" y="162.56" width="2.41" height="2.49" fill="#00ff20"/><rect x="140.94" y="164.75" width="2.41" height="2.49" fill="#00ff45"/><rect x="140.94" y="166.94" width="2.41" height="2.49" fill="#25ff00"/><rect x="140.94" y="169.13" width="2.41" height="2.49" fill="#5eff00"/><rect x="140.94" y="171.32" width="2.41" height="2.49" fill="#00ff2f"/><rect x="140.94" y="173.51" width="2.41" height="2.49" fill="#00ff2a"/><rect x="143.05" y="131.90" width="2.41" height="2.49" fill="#00ff3a"/><rect x="143.05" y="134.09" width="2.41" height="2.49" fill="#00ff61"/><rect x="143.05" y="136.28" width="2.41" height="2.49" fill="#00ff17"/><rect x="143.05" y="138.47" width="2.41" height="2.49" fill="#00ff2d"/><rect x="143.05" y="140.66" width="2.41" height="2.49" fill="#18ff00"/><rect x="143.05" y="142.85" width="2.41" height="2.49" fill="#1aff00"/><rect x="143.05" y="145.04" width="2.41" height="2.49" fill="#30ff00"/><rect x="143.05" y="147.23" width="2.41" height="2.49" fill="#62ff00"/><rect x="143.05" y="149.42" width="2.41" height="2.49" fill="#0aff00"/><rect x="143.05" y="151.61" width="2.41" height="2.49" fill="#23ff00"/><rect x="143.05" y="153.80" width="2.41" height="2.49" fill="#07ff00"/><rect x="143.05" y="155.99" width="2.41" height="2.49" fill="#00ff20"/><rect x="143.05" y="158.18" width="2.41" height="2.49" fill="#2aff00"/><rect x="143.05" y="160.37" width="2.41" height="2.49" fill="#00ff25"/><rect x="143.05" y="162.56" width="2.41" height="2.49" fill="#0fff00"/><rect x="143.05" y="164.75" width="2.41" height="2.49" fill="#28ff00"/><rect x="143.05" y="166.94" width="2.41" height="2.49" fill="#42ff00"/><rect x="143.05" y="169.13" width="2.41" height="2.49" fill="#15ff00"/><rect x="143.05" y="171.32" width="2.41" height="2.49" fill="#21ff00"/><rect x="143.05" y="173.51" width="2.41" height="2.49" fill="#00ff11"/><rect x="145.15" y="131.90" width="2.41" height="2.49" fill="#00ff7f"/><rect x="145.15" y="134.09" width="2.41" height="2.49" fill="#00ff5a"/><rect x="145.15" y="136.28" width="2.41" height="2.49" fill="#00ff19"/><rect x="145.15" y="138.47" width="2.41" height="2.49" fill="#00ff41"/><rect x="145.15" y="140.66" width="2.41" height="2.49" fill="#6cff00"/><rect x="145.15" y="142.85" width="2.41" height="2.49" fill="#05ff00"/><rect x="145.15" y="145.04" width="2.41" height="2.49" fill="#86ff00"/><rect x="145.15" y="147.23" width="2.41" height="2.49" fill="#a2ff00"/><rect x="145.15" y="149.42" width="2.41" height="2.49" fill="#8eff00"/><rect x="145.15" y="151.61" width="2.41" height="2.49" fill="#cfff00"/><rect x="145.15" y="153.80" width="2.41" height="2.49" fill="#1dff00"/><rect x="145.15" y="155.99" width="2.41" height="2.49" fill="#23ff00"/><rect x="145.15" y="158.18" width="2.41" height="2.49" fill="#0bff00"/><rect x="145.15" y="160.37" width="2.41" height="2.49" fill="#00ff0f"/><rect x="145.15" y="162.56" width="2.41" height="2.49" fill="#00ff0a"/><rect x="145.15" y="164.75" width="2.41" height="2.49" fill="#4cff00"/><rect x="145.15" y="166.94" width="2.41" height="2.49" fill="#29ff00"/><rect x="145.15" y="169.13" width="2.41" height="2.49" fill="#42ff00"/><rect x="145.15" y="171.32" width="2.41" height="2.49" fill="#53ff00"/><rect x="145.15" y="173.51" width="2.41" height="2.49" fill="#00ff2d"/><rect x="147.26" y="131.90" width="2.41" height="2.49" fill="#00ff53"/><rect x="147.26" y="134.09" width="2.41" height="2.49" fill="#00ff2c"/><rect x="147.26" y="136.28" width="2.41" height="2.49" fill="#00ff04"/><rect x="147.26" y="138.47" width="2.41" height="2.49" fill="#07ff00"/><rect x="147.26" y="140.66" width="2.41" height="2.49" fill="#0dff00"/><rect x="147.26" y="142.85" width="2.41" height="2.49" fill="#9dff00"/><rect x="147.26" y="145.04" width="2.41" height="2.49" fill="#11ff00"/><rect x="147.26" y="147.23" width="2.41" height="2.49" fill="#bfff00"/><rect x="147.26" y="149.42" width="2.41" height="2.49" fill="#ff7900"/><rect x="147.26" y="151.61" width="2.41" height="2.49" fill="#ffd900"/><rect x="147.26" y="153.80" width="2.41" height="2.49" fill="#37ff00"/><rect x="147.26" y="155.99" width="2.41" height="2.49" fill="#8fff00"/><rect x="147.26" y="158.18" width="2.41" height="2.49" fill="#a4ff00"/><rect x="147.26" y="160.37" width="2.41" height="2.49" fill="#32ff00"/><rect x="147.26" y="162.56" width="2.41" height="2.49" fill="#12ff00"/><rect x="147.26" y="164.75" width="2.41" height="2.49" fill="#00ff04"/><rect x="147.26" y="166.94" width="2.41" height="2.49" fill="#00ff04"/><rect x="147.26" y="169.13" width="2.41" height="2.49" fill="#00ff08"/><rect x="147.26" y="171.32" width="2.41" height="2.49" fill="#00ff19"/><rect x="147.26" y="173.51" width="2.41" height="2.49" fill="#04ff00"/><rect x="149.37" y="131.90" width="2.41" height="2.49" fill="#00ff5d"/><rect x="149.37" y="134.09" width="2.41" height="2.49" fill="#00ff00"/><rect x="149.37" y="136.28" width="2.41" height="2.49" fill="#00ff59"/><rect x="149.37" y="138.47" width="2.41" height="2.49" fill="#5dff00"/><rect x="149.37" y="140.66" width="2.41" height="2.49" fill="#00ff04"/><rect x="149.37" y="142.85" width="2.41" height="2.49" fill="#00ff24"/><rect x="149.37" y="145.04" width="2.41" height="2.49" fill="#11ff00"/><rect x="149.37" y="147.23" width="2.41" height="2.49" fill="#4cff00"/><rect x="149.37" y="149.42" width="2.41" height="2.49" fill="#ffb000"/><rect x="149.37" y="151.61" width="2.41" height="2.49" fill="#e0ff00"/><rect x="149.37" y="153.80" width="2.41" height="2.49" fill="#00ff29"/><rect x="149.37" y="155.99" width="2.41" height="2.49" fill="#00ff19"/><rect x="149.37" y="158.18" width="2.41" height="2.49" fill="#95ff00"/><rect x="149.37" y="160.37" width="2.41" height="2.49" fill="#00ff04"/><rect x="149.37" y="162.56" width="2.41" height="2.49" fill="#00ff22"/><rect x="149.37" y="164.75" width="2.41" height="2.49" fill="#18ff00"/><rect x="149.37" y="166.94" width="2.41" height="2.49" fill="#00ff3e"/><rect x="149.37" y="169.13" width="2.41" height="2.49" fill="#41ff00"/><rect x="149.37" y="171.32" width="2.41" height="2.49" fill="#00ff40"/><rect x="149.37" y="173.51" width="2.41" height="2.49" fill="#0bff00"/><rect x="151.48" y="131.90" width="2.41" height="2.49" fill="#00ff45"/><rect x="151.48" y="134.09" width="2.41" height="2.49" fill="#00ff73"/><rect x="151.48" y="136.28" width="2.41" height="2.49" fill="#00ff04"/><rect x="151.48" y="138.47" width="2.41" height="2.49" fill="#1eff00"/><rect x="151.48" y="140.66" width="2.41" height="2.49" fill="#00ff01"/><rect x="151.48" y="142.85" width="2.41" height="2.49" fill="#00ff04"/><rect x="151.48" y="145.04" width="2.41" height="2.49" fill="#1aff00"/><rect x="151.48" y="147.23" width="2.41" height="2.49" fill="#11ff00"/><rect x="151.48" y="149.42" width="2.41" height="2.49" fill="#58ff00"/><rect x="151.48" y="151.61" width="2.41" height="2.49" fill="#7eff00"/><rect x="151.48" y="153.80" width="2.41" height="2.49" fill="#64ff00"/><rect x="151.48" y="155.99" width="2.41" height="2.49" fill="#14ff00"/><rect x="151.48" y="158.18" width="2.41" height="2.49" fill="#82ff00"/><rect x="151.48" y="160.37" width="2.41" height="2.49" fill="#00ff1d"/><rect x="151.48" y="162.56" width="2.41" height="2.49" fill="#00ff2a"/><rect x="151.48" y="164.75" width="2.41" height="2.49" fill="#05ff00"/><rect x="151.48" y="166.94" width="2.41" height="2.49" fill="#42ff00"/><rect x="151.48" y="169.13" width="2.41" height="2.49" fill="#1eff00"/><rect x="151.48" y="171.32" width="2.41" height="2.49" fill="#00ff1f"/><rect x="151.48" y="173.51" width="2.41" height="2.49" fill="#13ff00"/><rect x="153.58" y="131.90" width="2.41" height="2.49" fill="#00ff71"/><rect x="153.58" y="134.09" width="2.41" height="2.49" fill="#00ff2d"/><rect x="153.58" y="136.28" width="2.41" height="2.49" fill="#00ff21"/><rect x="153.58" y="138.47" width="2.41" height="2.49" fill="#00ff46"/><rect x="153.58" y="140.66" width="2.41" height="2.49" fill="#00ff07"/><rect x="153.58" y="142.85" width="2.41" height="2.49" fill="#00ff2c"/><rect x="153.58" y="145.04" width="2.41" height="2.49" fill="#01ff00"/><rect x="153.58" y="147.23" width="2.41" height="2.49" fill="#00ff45"/><rect x="153.58" y="149.42" width="2.41" height="2.49" fill="#00ff19"/><rect x="153.58" y="151.61" width="2.41" height="2.49" fill="#1bff00"/><rect x="153.58" y="153.80" width="2.41" height="2.49" fill="#a1ff00"/><rect x="153.58" y="155.99" width="2.41" height="2.49" fill="#3cff00"/><rect x="153.58" y="158.18" width="2.41" height="2.49" fill="#49ff00"/><rect x="153.58" y="160.37" width="2.41" height="2.49" fill="#43ff00"/><rect x="153.58" y="162.56" width="2.41" height="2.49" fill="#00ff00"/><rect x="153.58" y="164.75" width="2.41" height="2.49" fill="#00ff55"/><rect x="153.58" y="166.94" width="2.41" height="2.49" fill="#0eff00"/><rect x="153.58" y="169.13" width="2.41" height="2.49" fill="#09ff00"/><rect x="153.58" y="171.32" width="2.41" height="2.49" fill="#00ff19"/><rect x="153.58" y="173.51" width="2.41" height="2.49" fill="#03ff00"/><rect x="155.69" y="131.90" width="2.41" height="2.49" fill="#00ff3d"/><rect x="155.69" y="134.09" width="2.41" height="2.49" fill="#00ff55"/><rect x="155.69" y="136.28" width="2.41" height="2.49" fill="#00ff34"/><rect x="155.69" y="138.47" width="2.41" height="2.49" fill="#00ff21"/><rect x="155.69" y="140.66" width="2.41" height="2.49" fill="#0eff00"/><rect x="155.69" y="142.85" width="2.41" height="2.49" fill="#0cff00"/><rect x="155.69" y="145.04" width="2.41" height="2.49" fill="#45ff00"/><rect x="155.69" y="147.23" width="2.41" height="2.49" fill="#82ff00"/><rect x="155.69" y="149.42" width="2.41" height="2.49" fill="#19ff00"/><rect x="155.69" y="151.61" width="2.41" height="2.49" fill="#26ff00"/><rect x="155.69" y="153.80" width="2.41" height="2.49" fill="#5eff00"/><rect x="155.69" y="155.99" width="2.41" height="2.49" fill="#14ff00"/><rect x="155.69" y="158.18" width="2.41" height="2.49" fill="#39ff00"/><rect x="155.69" y="160.37" width="2.41" height="2.49" fill="#00ff0b"/><rect x="155.69" y="162.56" width="2.41" height="2.49" fill="#17ff00"/><rect x="155.69" y="164.75" width="2.41" height="2.49" fill="#56ff00"/><rect x="155.69" y="166.94" width="2.41" height="2.49" fill="#20ff00"/><rect x="155.69" y="169.13" width="2.41" height="2.49" fill="#00ff22"/><rect x="155.69" y="171.32" width="2.41" height="2.49" fill="#10ff00"/><rect x="155.69" y="173.51" width="2.41" height="2.49" fill="#2bff00"/><rect x="157.80" y="131.90" width="2.41" height="2.49" fill="#00ff50"/><rect x="157.80" y="134.09" width="2.41" height="2.49" fill="#00ff54"/><rect x="157.80" y="136.28" width="2.41" height="2.49" fill="#18ff00"/><rect x="157.80" y="138.47" width="2.41" height="2.49" fill="#00ff43"/><rect x="157.80" y="140.66" width="2.41" height="2.49" fill="#0eff00"/><rect x="157.80" y="142.85" width="2.41" height="2.49" fill="#00ff11"/><rect x="157.80" y="145.04" width="2.41" height="2.49" fill="#24ff00"/><rect x="157.80" y="147.23" width="2.41" height="2.49" fill="#2dff00"/><rect x="157.80" y="149.42" width="2.41" height="2.49" fill="#33ff00"/><rect x="157.80" y="151.61" width="2.41" height="2.49" fill="#00ff33"/><rect x="157.80" y="153.80" width="2.41" height="2.49" fill="#36ff00"/><rect x="157.80" y="155.99" width="2.41" height="2.49" fill="#00ff10"/><rect x="157.80" y="158.18" width="2.41" height="2.49" fill="#00ff4e"/><rect x="157.80" y="160.37" width="2.41" height="2.49" fill="#00ff1a"/><rect x="157.80" y="162.56" width="2.41" height="2.49" fill="#0dff00"/><rect x="157.80" y="164.75" width="2.41" height="2.49" fill="#18ff00"/><rect x="157.80" y="166.94" width="2.41" height="2.49" fill="#03ff00"/><rect x="157.80" y="169.13" width="2.41" height="2.49" fill="#00ff08"/><rect x="157.80" y="171.32" width="2.41" height="2.49" fill="#09ff00"/><rect x="157.80" y="173.51" width="2.41" height="2.49" fill="#00ff12"/><rect x="159.91" y="131.90" width="2.41" height="2.49" fill="#00ff33"/><rect x="159.91" y="134.09" width="2.41" height="2.49" fill="#00ff33"/><rect x="159.91" y="136.28" width="2.41" height="2.49" fill="#00ff19"/><rect x="159.91" y="138.47" width="2.41" height="2.49" fill="#00ff04"/><rect x="159.91" y="140.66" width="2.41" height="2.49" fill="#00ff3e"/><rect x="159.91" y="142.85" width="2.41" height="2.49" fill="#00ff18"/><rect x="159.91" y="145.04" width="2.41" height="2.49" fill="#33ff00"/><rect x="159.91" y="147.23" width="2.41" height="2.49" fill="#17ff00"/><rect x="159.91" y="149.42" width="2.41" height="2.49" fill="#10ff00"/><rect x="159.91" y="151.61" width="2.41" height="2.49" fill="#23ff00"/><rect x="159.91" y="153.80" width="2.41" height="2.49" fill="#00ff1c"/><rect x="159.91" y="155.99" width="2.41" height="2.49" fill="#09ff00"/><rect x="159.91" y="158.18" width="2.41" height="2.49" fill="#03ff00"/><rect x="159.91" y="160.37" width="2.41" height="2.49" fill="#01ff00"/><rect x="159.91" y="162.56" width="2.41" height="2.49" fill="#00ff3e"/><rect x="159.91" y="164.75" width="2.41" height="2.49" fill="#31ff00"/><rect x="159.91" y="166.94" width="2.41" height="2.49" fill="#00ff1b"/><rect x="159.91" y="169.13" width="2.41" height="2.49" fill="#00ff47"/><rect x="159.91" y="171.32" width="2.41" height="2.49" fill="#00ff13"/><rect x="159.91" y="173.51" width="2.41" height="2.49" fill="#00ff18"/><rect x="162.02" y="131.90" width="2.41" height="2.49" fill="#00ff5c"/><rect x="162.02" y="134.09" width="2.41" height="2.49" fill="#00ff65"/><rect x="162.02" y="136.28" width="2.41" height="2.49" fill="#00ff11"/><rect x="162.02" y="138.47" width="2.41" height="2.49" fill="#7fff00"/><rect x="162.02" y="140.66" width="2.41" height="2.49" fill="#00ff3f"/><rect x="162.02" y="142.85" width="2.41" height="2.49" fill="#07ff00"/><rect x="162.02" y="145.04" width="2.41" height="2.49" fill="#0fff00"/><rect x="162.02" y="147.23" width="2.41" height="2.49" fill="#00ff04"/><rect x="162.02" y="149.42" width="2.41" height="2.49" fill="#00ff4e"/><rect x="162.02" y="151.61" width="2.41" height="2.49" fill="#00ff30"/><rect x="162.02" y="153.80" width="2.41" height="2.49" fill="#24ff00"/><rect x="162.02" y="155.99" width="2.41" height="2.49" fill="#07ff00"/><rect x="162.02" y="158.18" width="2.41" height="2.49" fill="#40ff00"/><rect x="162.02" y="160.37" width="2.41" height="2.49" fill="#00ff26"/><rect x="162.02" y="162.56" width="2.41" height="2.49" fill="#03ff00"/><rect x="162.02" y="164.75" width="2.41" height="2.49" fill="#73ff00"/><rect x="162.02" y="166.94" width="2.41" height="2.49" fill="#00ff28"/><rect x="162.02" y="169.13" width="2.41" height="2.49" fill="#00ff2c"/><rect x="162.02" y="171.32" width="2.41" height="2.49" fill="#00ff0b"/><rect x="162.02" y="173.51" width="2.41" height="2.49" fill="#00ff0c"/><rect x="164.12" y="131.90" width="2.41" height="2.49" fill="#00ff41"/><rect x="164.12" y="134.09" width="2.41" height="2.49" fill="#00ff38"/><rect x="164.12" y="136.28" width="2.41" height="2.49" fill="#00ff46"/><rect x="164.12" y="138.47" width="2.41" height="2.49" fill="#00ff12"/><rect x="164.12" y="140.66" width="2.41" height="2.49" fill="#69ff00"/><rect x="164.12" y="142.85" width="2.41" height="2.49" fill="#29ff00"/><rect x="164.12" y="145.04" width="2.41" height="2.49" fill="#00ff7a"/><rect x="164.12" y="147.23" width="2.41" height="2.49" fill="#00ff0c"/><rect x="164.12" y="149.42" width="2.41" height="2.49" fill="#00ff18"/><rect x="164.12" y="151.61" width="2.41" height="2.49" fill="#22ff00"/><rect x="164.12" y="153.80" width="2.41" height="2.49" fill="#00ff09"/><rect x="164.12" y="155.99" width="2.41" height="2.49" fill="#55ff00"/><rect x="164.12" y="158.18" width="2.41" height="2.49" fill="#21ff00"/><rect x="164.12" y="160.37" width="2.41" height="2.49" fill="#19ff00"/><rect x="164.12" y="162.56" width="2.41" height="2.49" fill="#00ff0b"/><rect x="164.12" y="164.75" width="2.41" height="2.49" fill="#00ff1a"/><rect x="164.12" y="166.94" width="2.41" height="2.49" fill="#00ff10"/><rect x="164.12" y="169.13" width="2.41" height="2.49" fill="#0eff00"/><rect x="164.12" y="171.32" width="2.41" height="2.49" fill="#00ff1e"/><rect x="164.12" y="173.51" width="2.41" height="2.49" fill="#00ff53"/><rect x="166.23" y="131.90" width="2.41" height="2.49" fill="#00ff2f"/><rect x="166.23" y="134.09" width="2.41" height="2.49" fill="#00ff37"/><rect x="166.23" y="136.28" width="2.41" height="2.49" fill="#00ff28"/><rect x="166.23" y="138.47" width="2.41" height="2.49" fill="#00ff36"/><rect x="166.23" y="140.66" width="2.41" height="2.49" fill="#00ff2b"/><rect x="166.23" y="142.85" width="2.41" height="2.49" fill="#00ff29"/><rect x="166.23" y="145.04" width="2.41" height="2.49" fill="#00ff70"/><rect x="166.23" y="147.23" width="2.41" height="2.49" fill="#2bff00"/><rect x="166.23" y="149.42" width="2.41" height="2.49" fill="#11ff00"/><rect x="166.23" y="151.61" width="2.41" height="2.49" fill="#00ff15"/><rect x="166.23" y="153.80" width="2.41" height="2.49" fill="#1fff00"/><rect x="166.23" y="155.99" width="2.41" height="2.49" fill="#05ff00"/><rect x="166.23" y="158.18" width="2.41" height="2.49" fill="#07ff00"/><rect x="166.23" y="160.37" width="2.41" height="2.49" fill="#00ff6f"/><rect x="166.23" y="162.56" width="2.41" height="2.49" fill="#00ff1d"/><rect x="166.23" y="164.75" width="2.41" height="2.49" fill="#00ff02"/><rect x="166.23" y="166.94" width="2.41" height="2.49" fill="#25ff00"/><rect x="166.23" y="169.13" width="2.41" height="2.49" fill="#24ff00"/><rect x="166.23" y="171.32" width="2.41" height="2.49" fill="#05ff00"/><rect x="166.23" y="173.51" width="2.41" height="2.49" fill="#00ff73"/><rect x="168.34" y="131.90" width="2.41" height="2.49" fill="#00ffbd"/><rect x="168.34" y="134.09" width="2.41" height="2.49" fill="#00ff28"/><rect x="168.34" y="136.28" width="2.41" height="2.49" fill="#00ff28"/><rect x="168.34" y="138.47" width="2.41" height="2.49" fill="#0bff00"/><rect x="168.34" y="140.66" width="2.41" height="2.49" fill="#00ff1a"/><rect x="168.34" y="142.85" width="2.41" height="2.49" fill="#00ff07"/><rect x="168.34" y="145.04" width="2.41" height="2.49" fill="#00ff49"/><rect x="168.34" y="147.23" width="2.41" height="2.49" fill="#09ff00"/><rect x="168.34" y="149.42" width="2.41" height="2.49" fill="#00ff1e"/><rect x="168.34" y="151.61" width="2.41" height="2.49" fill="#02ff00"/><rect x="168.34" y="153.80" width="2.41" height="2.49" fill="#06ff00"/><rect x="168.34" y="155.99" width="2.41" height="2.49" fill="#00ff11"/><rect x="168.34" y="158.18" width="2.41" height="2.49" fill="#00ff00"/><rect x="168.34" y="160.37" width="2.41" height="2.49" fill="#00ff10"/><rect x="168.34" y="162.56" width="2.41" height="2.49" fill="#0cff00"/><rect x="168.34" y="164.75" width="2.41" height="2.49" fill="#00ff04"/><rect x="168.34" y="166.94" width="2.41" height="2.49" fill="#00ff34"/><rect x="168.34" y="169.13" width="2.41" height="2.49" fill="#00ff3e"/><rect x="168.34" y="171.32" width="2.41" height="2.49" fill="#13ff00"/><rect x="168.34" y="173.51" width="2.41" height="2.49" fill="#00ff49"/><rect x="170.45" y="131.90" width="2.41" height="2.49" fill="#00ff3b"/><rect x="170.45" y="134.09" width="2.41" height="2.49" fill="#00ff2f"/><rect x="170.45" y="136.28" width="2.41" height="2.49" fill="#00ff3f"/><rect x="170.45" y="138.47" width="2.41" height="2.49" fill="#00ff3a"/><rect x="170.45" y="140.66" width="2.41" height="2.49" fill="#00ff10"/><rect x="170.45" y="142.85" width="2.41" height="2.49" fill="#00ff06"/><rect x="170.45" y="145.04" width="2.41" height="2.49" fill="#0cff00"/><rect x="170.45" y="147.23" width="2.41" height="2.49" fill="#00ff3f"/><rect x="170.45" y="149.42" width="2.41" height="2.49" fill="#00ff22"/><rect x="170.45" y="151.61" width="2.41" height="2.49" fill="#00ff10"/><rect x="170.45" y="153.80" width="2.41" height="2.49" fill="#37ff00"/><rect x="170.45" y="155.99" width="2.41" height="2.49" fill="#00ff6a"/><rect x="170.45" y="158.18" width="2.41" height="2.49" fill="#03ff00"/><rect x="170.45" y="160.37" width="2.41" height="2.49" fill="#00ff26"/><rect x="170.45" y="162.56" width="2.41" height="2.49" fill="#00ff03"/><rect x="170.45" y="164.75" width="2.41" height="2.49" fill="#00ff2b"/><rect x="170.45" y="166.94" width="2.41" height="2.49" fill="#00ff10"/><rect x="170.45" y="169.13" width="2.41" height="2.49" fill="#18ff00"/><rect x="170.45" y="171.32" width="2.41" height="2.49" fill="#00ff25"/><rect x="170.45" y="173.51" width="2.41" height="2.49" fill="#00ff34"/><rect x="172.55" y="131.90" width="2.41" height="2.49" fill="#00ff54"/><rect x="172.55" y="134.09" width="2.41" height="2.49" fill="#00ff5c"/><rect x="172.55" y="136.28" width="2.41" height="2.49" fill="#00ff13"/><rect x="172.55" y="138.47" width="2.41" height="2.49" fill="#00ff24"/><rect x="172.55" y="140.66" width="2.41" height="2.49" fill="#00ff34"/><rect x="172.55" y="142.85" width="2.41" height="2.49" fill="#00ff12"/><rect x="172.55" y="145.04" width="2.41" height="2.49" fill="#00ff17"/><rect x="172.55" y="147.23" width="2.41" height="2.49" fill="#12ff00"/><rect x="172.55" y="149.42" width="2.41" height="2.49" fill="#00ff0d"/><rect x="172.55" y="151.61" width="2.41" height="2.49" fill="#00ff21"/><rect x="172.55" y="153.80" width="2.41" height="2.49" fill="#30ff00"/><rect x="172.55" y="155.99" width="2.41" height="2.49" fill="#1bff00"/><rect x="172.55" y="158.18" width="2.41" height="2.49" fill="#26ff00"/><rect x="172.55" y="160.37" width="2.41" height="2.49" fill="#07ff00"/><rect x="172.55" y="162.56" width="2.41" height="2.49" fill="#00ff18"/><rect x="172.55" y="164.75" width="2.41" height="2.49" fill="#00ff29"/><rect x="172.55" y="166.94" width="2.41" height="2.49" fill="#00ff29"/><rect x="172.55" y="169.13" width="2.41" height="2.49" fill="#00ff02"/><rect x="172.55" y="171.32" width="2.41" height="2.49" fill="#00ff2f"/><rect x="172.55" y="173.51" width="2.41" height="2.49" fill="#00ff7f"/><rect x="174.66" y="131.90" width="2.41" height="2.49" fill="#00ff64"/><rect x="174.66" y="134.09" width="2.41" height="2.49" fill="#00ff76"/><rect x="174.66" y="136.28" width="2.41" height="2.49" fill="#00ff22"/><rect x="174.66" y="138.47" width="2.41" height="2.49" fill="#00ff4c"/><rect x="174.66" y="140.66" width="2.41" height="2.49" fill="#00ff47"/><rect x="174.66" y="142.85" width="2.41" height="2.49" fill="#00ff0c"/><rect x="174.66" y="145.04" width="2.41" height="2.49" fill="#00ff11"/><rect x="174.66" y="147.23" width="2.41" height="2.49" fill="#00ff4e"/><rect x="174.66" y="149.42" width="2.41" height="2.49" fill="#13ff00"/><rect x="174.66" y="151.61" width="2.41" height="2.49" fill="#4fff00"/><rect x="174.66" y="153.80" width="2.41" height="2.49" fill="#00ff47"/><rect x="174.66" y="155.99" width="2.41" height="2.49" fill="#3fff00"/><rect x="174.66" y="158.18" width="2.41" height="2.49" fill="#00ff2a"/><rect x="174.66" y="160.37" width="2.41" height="2.49" fill="#00ff25"/><rect x="174.66" y="162.56" width="2.41" height="2.49" fill="#00ff1b"/><rect x="174.66" y="164.75" width="2.41" height="2.49" fill="#00ff51"/><rect x="174.66" y="166.94" width="2.41" height="2.49" fill="#16ff00"/><rect x="174.66" y="169.13" width="2.41" height="2.49" fill="#00ff14"/><rect x="174.66" y="171.32" width="2.41" height="2.49" fill="#00ff51"/><rect x="174.66" y="173.51" width="2.41" height="2.49" fill="#00ff50"/><rect x="176.77" y="131.90" width="2.41" height="2.49" fill="#00ffa1"/><rect x="176.77" y="134.09" width="2.41" height="2.49" fill="#00ff4c"/><rect x="176.77" y="136.28" width="2.41" height="2.49" fill="#00ff04"/><rect x="176.77" y="138.47" width="2.41" height="2.49" fill="#00ff60"/><rect x="176.77" y="140.66" width="2.41" height="2.49" fill="#00ff26"/><rect x="176.77" y="142.85" width="2.41" height="2.49" fill="#00ff0b"/><rect x="176.77" y="145.04" width="2.41" height="2.49" fill="#1dff00"/><rect x="176.77" y="147.23" width="2.41" height="2.49" fill="#2cff00"/><rect x="176.77" y="149.42" width="2.41" height="2.49" fill="#00ff1e"/><rect x="176.77" y="151.61" width="2.41" height="2.49" fill="#00ff29"/><rect x="176.77" y="153.80" width="2.41" height="2.49" fill="#05ff00"/><rect x="176.77" y="155.99" width="2.41" height="2.49" fill="#00ff1c"/><rect x="176.77" y="158.18" width="2.41" height="2.49" fill="#00ff1b"/><rect x="176.77" y="160.37" width="2.41" height="2.49" fill="#1cff00"/><rect x="176.77" y="162.56" width="2.41" height="2.49" fill="#32ff00"/><rect x="176.77" y="164.75" width="2.41" height="2.49" fill="#00ff0e"/><rect x="176.77" y="166.94" width="2.41" height="2.49" fill="#00ff26"/><rect x="176.77" y="169.13" width="2.41" height="2.49" fill="#00ff11"/><rect x="176.77" y="171.32" width="2.41" height="2.49" fill="#00ff7e"/><rect x="176.77" y="173.51" width="2.41" height="2.49" fill="#00ff46"/><rect x="178.88" y="131.90" width="2.41" height="2.49" fill="#0096ff"/><rect x="178.88" y="134.09" width="2.41" height="2.49" fill="#00ffd2"/><rect x="178.88" y="136.28" width="2.41" height="2.49" fill="#00fdff"/><rect x="178.88" y="138.47" width="2.41" height="2.49" fill="#00f5ff"/><rect x="178.88" y="140.66" width="2.41" height="2.49" fill="#00f0ff"/><rect x="178.88" y="142.85" width="2.41" height="2.49" fill="#00aaff"/><rect x="178.88" y="145.04" width="2.41" height="2.49" fill="#00ffe6"/><rect x="178.88" y="147.23" width="2.41" height="2.49" fill="#00ffbd"/><rect x="178.88" y="149.42" width="2.41" height="2.49" fill="#00e6ff"/><rect x="178.88" y="151.61" width="2.41" height="2.49" fill="#00ffe5"/><rect x="178.88" y="153.80" width="2.41" height="2.49" fill="#00ffe4"/><rect x="178.88" y="155.99" width="2.41" height="2.49" fill="#00cbff"/><rect x="178.88" y="158.18" width="2.41" height="2.49" fill="#00ffdd"/><rect x="178.88" y="160.37" width="2.41" height="2.49" fill="#00ffcd"/><rect x="178.88" y="162.56" width="2.41" height="2.49" fill="#00feff"/><rect x="178.88" y="164.75" width="2.41" height="2.49" fill="#00f1ff"/><rect x="178.88" y="166.94" width="2.41" height="2.49" fill="#00fff4"/><rect x="178.88" y="169.13" width="2.41" height="2.49" fill="#00b6ff"/><rect x="178.88" y="171.32" width="2.41" height="2.49" fill="#00e0ff"/><rect x="178.88" y="173.51" width="2.41" height="2.49" fill="#00f1ff"/><rect x="180.98" y="131.90" width="2.41" height="2.49" fill="#0090ff"/><rect x="180.98" y="134.09" width="2.41" height="2.49" fill="#00f4ff"/><rect x="180.98" y="136.28" width="2.41" height="2.49" fill="#00d9ff"/><rect x="180.98" y="138.47" width="2.41" height="2.49" fill="#00aeff"/><rect x="180.98" y="140.66" width="2.41" height="2.49" fill="#00f3ff"/><rect x="180.98" y="142.85" width="2.41" height="2.49" fill="#00dbff"/><rect x="180.98" y="145.04" width="2.41" height="2.49" fill="#00fff6"/><rect x="180.98" y="147.23" width="2.41" height="2.49" fill="#00d7ff"/><rect x="180.98" y="149.42" width="2.41" height="2.49" fill="#00ffd5"/><rect x="180.98" y="151.61" width="2.41" height="2.49" fill="#00e5ff"/><rect x="180.98" y="153.80" width="2.41" height="2.49" fill="#00fff3"/><rect x="180.98" y="155.99" width="2.41" height="2.49" fill="#00e9ff"/><rect x="180.98" y="158.18" width="2.41" height="2.49" fill="#00f1ff"/><rect x="180.98" y="160.37" width="2.41" height="2.49" fill="#00ffd4"/><rect x="180.98" y="162.56" width="2.41" height="2.49" fill="#00feff"/><rect x="180.98" y="164.75" width="2.41" height="2.49" fill="#00e7ff"/><rect x="180.98" y="166.94" width="2.41" height="2.49" fill="#00c7ff"/><rect x="180.98" y="169.13" width="2.41" height="2.49" fill="#00ffed"/><rect x="180.98" y="171.32" width="2.41" height="2.49" fill="#00f5ff"/><rect x="180.98" y="173.51" width="2.41" height="2.49" fill="#00c5ff"/><rect x="183.09" y="131.90" width="2.41" height="2.49" fill="#00bfff"/><rect x="183.09" y="134.09" width="2.41" height="2.49" fill="#00b4ff"/><rect x="183.09" y="136.28" width="2.41" height="2.49" fill="#00c6ff"/><rect x="183.09" y="138.47" width="2.41" height="2.49" fill="#00d6ff"/><rect x="183.09" y="140.66" width="2.41" height="2.49" fill="#00fffc"/><rect x="183.09" y="142.85" width="2.41" height="2.49" fill="#00fffa"/><rect x="183.09" y="145.04" width="2.41" height="2.49" fill="#00e4ff"/><rect x="183.09" y="147.23" width="2.41" height="2.49" fill="#00ffe3"/><rect x="183.09" y="149.42" width="2.41" height="2.49" fill="#00ffe1"/><rect x="183.09" y="151.61" width="2.41" height="2.49" fill="#00fffa"/><rect x="183.09" y="153.80" width="2.41" height="2.49" fill="#00ffd6"/><rect x="183.09" y="155.99" width="2.41" height="2.49" fill="#00f3ff"/><rect x="183.09" y="158.18" width="2.41" height="2.49" fill="#00f7ff"/><rect x="183.09" y="160.37" width="2.41" height="2.49" fill="#00fff3"/><rect x="183.09" y="162.56" width="2.41" height="2.49" fill="#00f6ff"/><rect x="183.09" y="164.75" width="2.41" height="2.49" fill="#00ffed"/><rect x="183.09" y="166.94" width="2.41" height="2.49" fill="#00c7ff"/><rect x="183.09" y="169.13" width="2.41" height="2.49" fill="#00ffe2"/><rect x="183.09" y="171.32" width="2.41" height="2.49" fill="#00c5ff"/><rect x="183.09" y="173.51" width="2.41" height="2.49" fill="#00caff"/>
<g fill="#888" font-size="2.6" font-family="'Liberation Sans',Arial,sans-serif" text-anchor="middle">
<text x="156.5" y="181.8">10</text><text x="166" y="181.8">20</text><text x="175.5" y="181.8">30</text><text x="184.5" y="181.8">40</text>
<text x="126.5" y="137">40</text><text x="126.5" y="150">20</text><text x="126.5" y="163">10</text></g>
<text x="160" y="186.5" font-size="3.2" fill="#7a8ad0" text-anchor="middle" font-family="'Liberation Sans',Arial,sans-serif">Width(m)</text>
</svg>
<svg class="a" style="left:0;top:0" width="640" height="455" viewBox="0 0 640 455">
<defs>
<filter id="bl2" x="-20%" y="-20%" width="140%" height="140%"><feGaussianBlur stdDeviation="2.2"/></filter>
<filter id="bl1" x="-20%" y="-20%" width="140%" height="140%"><feGaussianBlur stdDeviation="1.2"/></filter>
<filter id="sh" x="-20%" y="-20%" width="140%" height="140%"><feGaussianBlur stdDeviation="1.3"/></filter>
<radialGradient id="bg1" cx="0.5" cy="0.45" r="0.55"><stop offset="0" stop-color="#eeeeee"/><stop offset="0.5" stop-color="#d6d6d6"/><stop offset="0.78" stop-color="#adadad"/><stop offset="0.93" stop-color="#8e8e8e"/><stop offset="1" stop-color="#7c7c7c"/></radialGradient>
<radialGradient id="hl1" cx="0.5" cy="0.5" r="0.5"><stop offset="0" stop-color="#fff" stop-opacity="1"/><stop offset="0.72" stop-color="#fff" stop-opacity="0.85"/><stop offset="1" stop-color="#fff" stop-opacity="0"/></radialGradient>
<clipPath id="cA"><path d="M126 230.6 C123.2 230.8 116.0 230.9 109.0 231.6 C102.0 232.3 92.3 233.2 84.0 234.9 C75.7 236.6 66.8 238.5 59.4 241.5 C52.0 244.5 44.9 248.9 39.7 253.0 C34.5 257.1 30.9 261.5 28.0 266.2 C25.1 270.9 23.3 276.0 22.6 281.0 C21.9 286.0 22.8 291.5 24.0 296.0 C25.2 300.5 27.3 304.5 30.0 308.0 C32.7 311.5 35.4 313.9 40.0 317.0 C44.6 320.1 49.2 323.7 57.5 326.5 C65.8 329.3 79.6 332.4 90.0 334.0 C100.4 335.6 115.0 335.9 120.0 336.3 L120.8 351.8 L161.3 318.8 L121 285.3 L121.3 300 C117.8 299.8 106.2 299.8 100.0 298.8 C93.8 297.8 88.2 296.0 84.0 294.0 C79.8 292.0 77.2 289.4 75.0 287.0 C72.8 284.6 71.7 282.3 71.0 279.4 C70.3 276.5 69.8 273.1 70.6 269.5 C71.4 265.9 73.0 261.8 75.9 258.0 C78.8 254.2 82.5 250.5 88.0 247.0 C93.5 243.5 102.5 239.5 108.8 236.8 C115.1 234.1 123.1 231.6 126.0 230.6 Z"/></clipPath>
<clipPath id="cL"><path d="M87.5 145.26 L123 129.4 L92.5 145.64 A71.3 34.5 0 1 1 87.5 145.26 Z"/></clipPath>
<clipPath id="cR"><path d="M460.5 174.7 L436.2 193.4 L468.9 177.6 A43 28.5 0 1 0 460.5 174.7 Z"/></clipPath>
</defs>
<!-- magenta circle -->
<ellipse cx="106.5" cy="115.3" rx="12.1" ry="11.6" fill="none" stroke="#f01ef0" stroke-width="1.7"/>
<path d="M106.3 112.2 L106.3 119 L107.8 117.6 L109 120.2 L110 119.8 L108.8 117.2 L110.8 117.1 Z" fill="#fff" stroke="#111" stroke-width="0.45"/>
<!-- left bubble -->
<path d="M87.5 145.26 L123 129.4 L92.5 145.64 A71.3 34.5 0 1 1 87.5 145.26 Z" fill="#000" opacity="0.25" transform="translate(1,1.5)" filter="url(#sh)"/>
<g opacity="0.84">
<path d="M87.5 145.26 L123 129.4 L92.5 145.64 A71.3 34.5 0 1 1 87.5 145.26 Z" fill="url(#bg1)"/>
<g clip-path="url(#cL)">
<ellipse cx="80" cy="166" rx="58" ry="13" fill="url(#hl1)"/>
<ellipse cx="80" cy="200" rx="45" ry="9" fill="#fff" opacity="0.45" filter="url(#bl2)"/>
<ellipse cx="27" cy="175.5" rx="13" ry="2.2" fill="#fff" opacity="0.95" transform="rotate(8 27 175.5)" filter="url(#bl1)"/>
</g></g>
<path d="M87.5 145.26 L123 129.4 L92.5 145.64 A71.3 34.5 0 1 1 87.5 145.26 Z" fill="none" stroke="#b04a4a" stroke-width="0.9"/>
<g font-family="'Liberation Sans',Arial,sans-serif" font-weight="bold" text-anchor="middle">
<text x="78" y="165" font-size="7.4" font-style="italic" fill="#2e2e2e">Graph Preview on Hover</text>
<text x="77.3" y="173" font-size="7.3" font-style="italic" fill="#d0142a">plus</text>
<text x="22.5" y="181.4" font-size="7.38" font-style="italic" fill="#2e2e2e" text-anchor="start">* Icon or Details Window Views</text>
<text x="22.5" y="189.6" font-size="7.38" font-style="italic" fill="#2e2e2e" text-anchor="start">* X-Large Icons View Option</text>
<text x="22.5" y="197.6" font-size="7.38" font-style="italic" fill="#2e2e2e" text-anchor="start">* Option to Show/Hide Column</text>
<text x="77" y="208.2" font-size="8.95" fill="#d3152b">Windows Only</text>
</g>
<!-- right bubble -->
<path d="M460.5 174.7 L436.2 193.4 L468.9 177.6 A43 28.5 0 1 0 460.5 174.7 Z" fill="#000" opacity="0.25" transform="translate(1,1.5)" filter="url(#sh)"/>
<g opacity="0.93">
<path d="M460.5 174.7 L436.2 193.4 L468.9 177.6 A43 28.5 0 1 0 460.5 174.7 Z" fill="url(#bg1)"/>
<g clip-path="url(#cR)">
<ellipse cx="485" cy="137" rx="34" ry="11" fill="url(#hl1)"/>
<ellipse cx="485" cy="170" rx="28" ry="6" fill="#fff" opacity="0.45" filter="url(#bl2)"/>
</g></g>
<path d="M460.5 174.7 L436.2 193.4 L468.9 177.6 A43 28.5 0 1 0 460.5 174.7 Z" fill="none" stroke="#b04a4a" stroke-width="0.9"/>
<g font-family="'Liberation Sans',Arial,sans-serif" font-weight="bold" font-style="italic" text-anchor="middle" fill="#2a2a2a" font-size="7.35">
<text x="483" y="144.5">In This Panel,</text>
<text x="483" y="152.5">Drag 3D Graphs</text>
<text x="483.5" y="160.7">to Rotate</text>
</g>
<!-- arrow -->
<path d="M126 230.6 C123.2 230.8 116.0 230.9 109.0 231.6 C102.0 232.3 92.3 233.2 84.0 234.9 C75.7 236.6 66.8 238.5 59.4 241.5 C52.0 244.5 44.9 248.9 39.7 253.0 C34.5 257.1 30.9 261.5 28.0 266.2 C25.1 270.9 23.3 276.0 22.6 281.0 C21.9 286.0 22.8 291.5 24.0 296.0 C25.2 300.5 27.3 304.5 30.0 308.0 C32.7 311.5 35.4 313.9 40.0 317.0 C44.6 320.1 49.2 323.7 57.5 326.5 C65.8 329.3 79.6 332.4 90.0 334.0 C100.4 335.6 115.0 335.9 120.0 336.3 L120.8 351.8 L161.3 318.8 L121 285.3 L121.3 300 C117.8 299.8 106.2 299.8 100.0 298.8 C93.8 297.8 88.2 296.0 84.0 294.0 C79.8 292.0 77.2 289.4 75.0 287.0 C72.8 284.6 71.7 282.3 71.0 279.4 C70.3 276.5 69.8 273.1 70.6 269.5 C71.4 265.9 73.0 261.8 75.9 258.0 C78.8 254.2 82.5 250.5 88.0 247.0 C93.5 243.5 102.5 239.5 108.8 236.8 C115.1 234.1 123.1 231.6 126.0 230.6 Z" fill="#000" opacity="0.22" transform="translate(1,1.5)" filter="url(#sh)"/>
<g opacity="0.86">
<path d="M126 230.6 C123.2 230.8 116.0 230.9 109.0 231.6 C102.0 232.3 92.3 233.2 84.0 234.9 C75.7 236.6 66.8 238.5 59.4 241.5 C52.0 244.5 44.9 248.9 39.7 253.0 C34.5 257.1 30.9 261.5 28.0 266.2 C25.1 270.9 23.3 276.0 22.6 281.0 C21.9 286.0 22.8 291.5 24.0 296.0 C25.2 300.5 27.3 304.5 30.0 308.0 C32.7 311.5 35.4 313.9 40.0 317.0 C44.6 320.1 49.2 323.7 57.5 326.5 C65.8 329.3 79.6 332.4 90.0 334.0 C100.4 335.6 115.0 335.9 120.0 336.3 L120.8 351.8 L161.3 318.8 L121 285.3 L121.3 300 C117.8 299.8 106.2 299.8 100.0 298.8 C93.8 297.8 88.2 296.0 84.0 294.0 C79.8 292.0 77.2 289.4 75.0 287.0 C72.8 284.6 71.7 282.3 71.0 279.4 C70.3 276.5 69.8 273.1 70.6 269.5 C71.4 265.9 73.0 261.8 75.9 258.0 C78.8 254.2 82.5 250.5 88.0 247.0 C93.5 243.5 102.5 239.5 108.8 236.8 C115.1 234.1 123.1 231.6 126.0 230.6 Z" fill="#dedede"/>
<g clip-path="url(#cA)">
<path d="M126.0 230.6 C123.2 230.8 116.0 230.9 109.0 231.6 C102.0 232.3 92.3 233.2 84.0 234.9 C75.7 236.6 66.8 238.5 59.4 241.5 C52.0 244.5 44.9 248.9 39.7 253.0 C34.5 257.1 30.9 261.5 28.0 266.2 C25.1 270.9 23.3 276.0 22.6 281.0 C21.9 286.0 22.8 291.5 24.0 296.0 C25.2 300.5 27.3 304.5 30.0 308.0 C32.7 311.5 35.4 313.9 40.0 317.0 C44.6 320.1 49.2 323.7 57.5 326.5 C65.8 329.3 79.6 332.4 90.0 334.0 C100.4 335.6 115.0 335.9 120.0 336.3 L120.8 351.8 L161.3 318.8" fill="none" stroke="#7a7a7a" stroke-width="7" filter="url(#bl2)"/>
<path d="M121 285.3 L121.3 300 C117.8 299.8 106.2 299.8 100.0 298.8 C93.8 297.8 88.2 296.0 84.0 294.0 C79.8 292.0 77.2 289.4 75.0 287.0 C72.8 284.6 71.7 282.3 71.0 279.4 C70.3 276.5 69.8 273.1 70.6 269.5 C71.4 265.9 73.0 261.8 75.9 258.0 C78.8 254.2 82.5 250.5 88.0 247.0 C93.5 243.5 102.5 239.5 108.8 236.8 C115.1 234.1 123.1 231.6 126.0 230.6" fill="none" stroke="#9a9a9a" stroke-width="5" filter="url(#bl2)"/>
<path d="M120.0 240.0 C115.8 240.2 103.3 239.8 95.0 241.0 C86.7 242.2 77.2 244.2 70.0 247.0 C62.8 249.8 57.0 253.8 52.0 258.0 C47.0 262.2 42.7 267.2 40.0 272.0 C37.3 276.8 36.0 282.0 36.0 287.0 C36.0 292.0 37.3 297.3 40.0 302.0 C42.7 306.7 46.2 311.3 52.0 315.0 C57.8 318.7 67.0 322.0 75.0 324.0 C83.0 326.0 91.7 326.7 100.0 327.0 C108.3 327.3 116.7 327.2 125.0 326.0 C133.3 324.8 145.8 321.0 150.0 320.0" fill="none" stroke="#fff" stroke-width="8" filter="url(#bl2)"/>
</g></g>
<path d="M126 230.6 C123.2 230.8 116.0 230.9 109.0 231.6 C102.0 232.3 92.3 233.2 84.0 234.9 C75.7 236.6 66.8 238.5 59.4 241.5 C52.0 244.5 44.9 248.9 39.7 253.0 C34.5 257.1 30.9 261.5 28.0 266.2 C25.1 270.9 23.3 276.0 22.6 281.0 C21.9 286.0 22.8 291.5 24.0 296.0 C25.2 300.5 27.3 304.5 30.0 308.0 C32.7 311.5 35.4 313.9 40.0 317.0 C44.6 320.1 49.2 323.7 57.5 326.5 C65.8 329.3 79.6 332.4 90.0 334.0 C100.4 335.6 115.0 335.9 120.0 336.3 L120.8 351.8 L161.3 318.8 L121 285.3 L121.3 300 C117.8 299.8 106.2 299.8 100.0 298.8 C93.8 297.8 88.2 296.0 84.0 294.0 C79.8 292.0 77.2 289.4 75.0 287.0 C72.8 284.6 71.7 282.3 71.0 279.4 C70.3 276.5 69.8 273.1 70.6 269.5 C71.4 265.9 73.0 261.8 75.9 258.0 C78.8 254.2 82.5 250.5 88.0 247.0 C93.5 243.5 102.5 239.5 108.8 236.8 C115.1 234.1 123.1 231.6 126.0 230.6 Z" fill="none" stroke="#b04a4a" stroke-width="0.9"/>
<g font-family="'Liberation Sans',Arial,sans-serif" font-weight="bold" font-style="italic" text-anchor="middle" fill="#333" font-size="7.4">
<text x="108.7" y="315">Double-Click</text>
<text x="109.6" y="323.7">to Open</text>
</g>
</svg>
</body></html>
